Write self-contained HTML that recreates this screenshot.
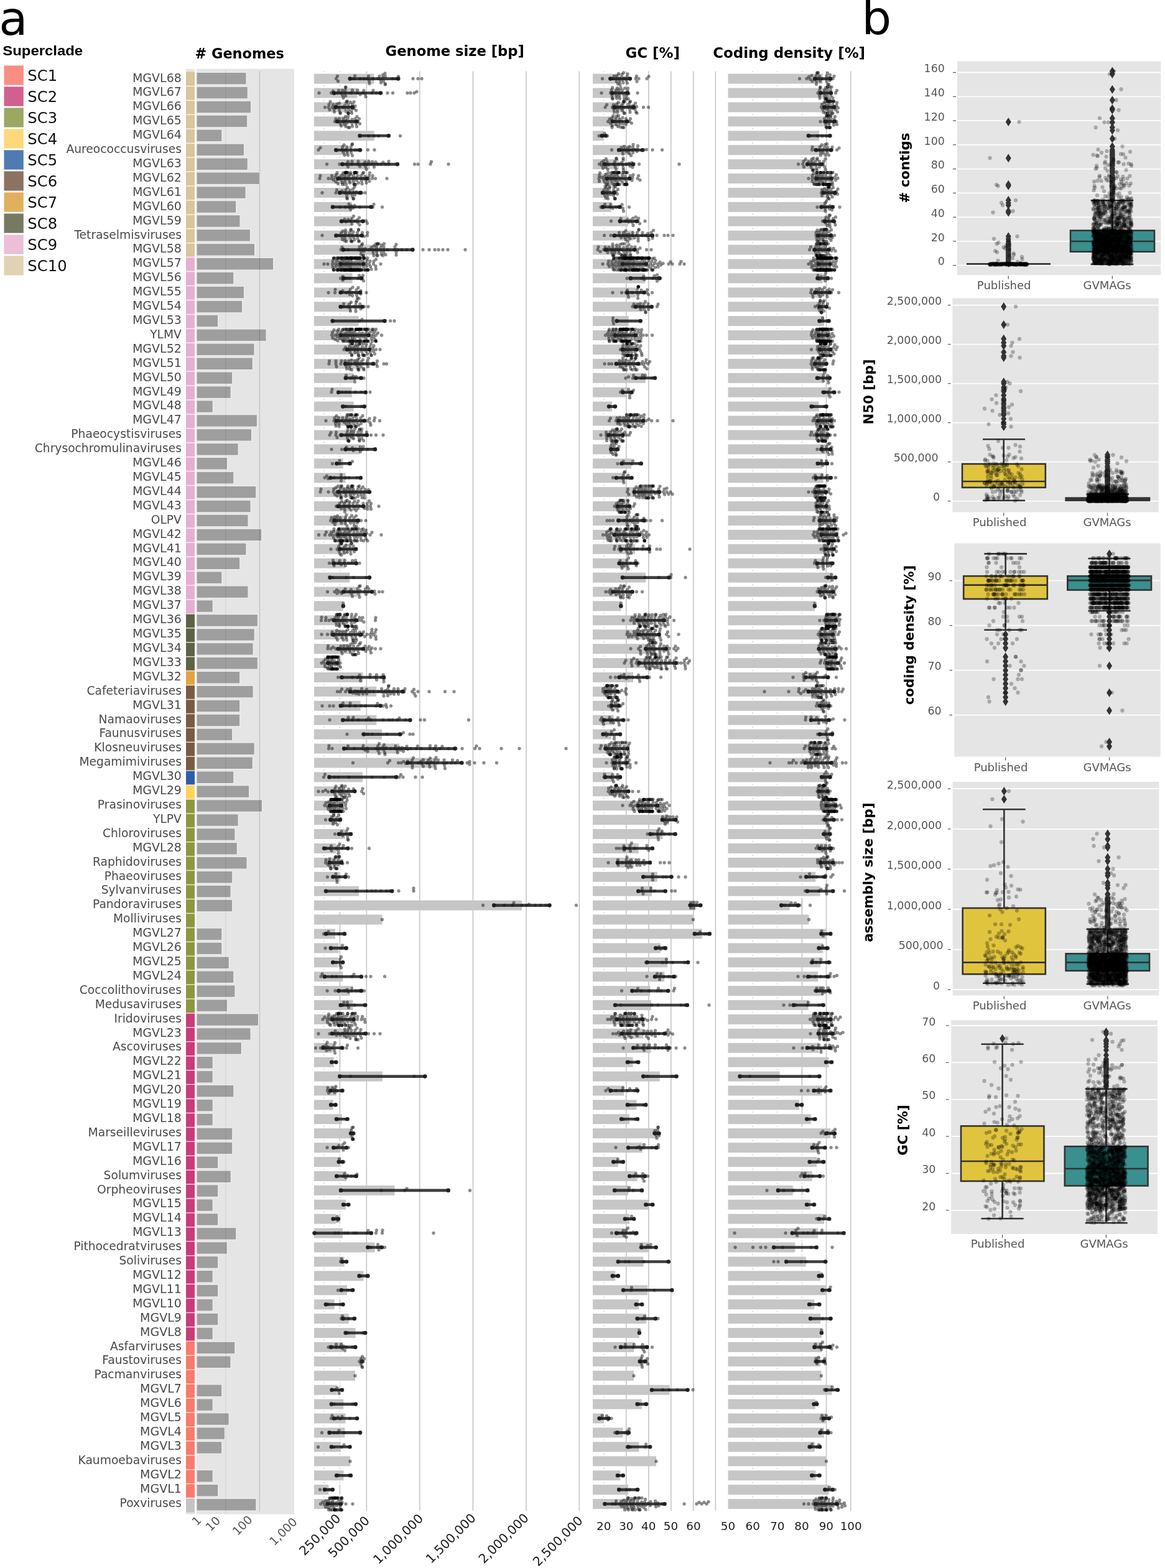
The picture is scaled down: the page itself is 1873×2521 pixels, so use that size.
<!DOCTYPE html><html><head><meta charset="utf-8"><style>html,body{margin:0;padding:0;background:#fff;}svg{display:block;}</style></head><body>
<svg width="1873" height="2521" viewBox="0 0 1873 2521" font-family="'DejaVu Sans', 'Liberation Sans', sans-serif">
<rect width="1873" height="2521" fill="#fff"/>
<text x="-1.8" y="55.8" font-size="75.5" fill="#000">a</text>
<text x="4.2" y="89.1" font-size="22.8" font-weight="bold" fill="#000" font-family="Liberation Sans, sans-serif" textLength="129" lengthAdjust="spacingAndGlyphs">Superclade</text>
<rect x="6.5" y="105.4" width="31.3" height="31.2" fill="#fa8e85"/>
<text x="44.3" y="129.5" font-size="24.3" fill="#111">SC1</text>
<rect x="6.5" y="139.4" width="31.3" height="31.2" fill="#d1608f"/>
<text x="44.3" y="163.5" font-size="24.3" fill="#111">SC2</text>
<rect x="6.5" y="173.4" width="31.3" height="31.2" fill="#9ba763"/>
<text x="44.3" y="197.5" font-size="24.3" fill="#111">SC3</text>
<rect x="6.5" y="207.4" width="31.3" height="31.2" fill="#fed87b"/>
<text x="44.3" y="231.5" font-size="24.3" fill="#111">SC4</text>
<rect x="6.5" y="241.4" width="31.3" height="31.2" fill="#4f7ab3"/>
<text x="44.3" y="265.5" font-size="24.3" fill="#111">SC5</text>
<rect x="6.5" y="275.4" width="31.3" height="31.2" fill="#8b7261"/>
<text x="44.3" y="299.5" font-size="24.3" fill="#111">SC6</text>
<rect x="6.5" y="309.4" width="31.3" height="31.2" fill="#e1b05f"/>
<text x="44.3" y="333.5" font-size="24.3" fill="#111">SC7</text>
<rect x="6.5" y="343.4" width="31.3" height="31.2" fill="#777a62"/>
<text x="44.3" y="367.5" font-size="24.3" fill="#111">SC8</text>
<rect x="6.5" y="377.4" width="31.3" height="31.2" fill="#ecbfd7"/>
<text x="44.3" y="401.5" font-size="24.3" fill="#111">SC9</text>
<rect x="6.5" y="411.4" width="31.3" height="31.2" fill="#e0d3b2"/>
<text x="44.3" y="435.5" font-size="24.3" fill="#111">SC10</text>
<text x="313.5" y="94.3" font-size="22.4" font-weight="bold" fill="#000"># Genomes</text>
<text x="619.6" y="90" font-size="22.65" font-weight="bold" fill="#000">Genome size [bp]</text>
<text x="1005.5" y="92.7" font-size="22.9" font-weight="bold" fill="#000">GC [%]</text>
<text x="1146.3" y="92.7" font-size="22.9" font-weight="bold" fill="#000">Coding density [%]</text>
<g font-size="19.05" fill="#4a4a4a" text-anchor="end">
<text x="291.9" y="131.5">MGVL68</text>
<text x="291.9" y="154.4">MGVL67</text>
<text x="291.9" y="177.3">MGVL66</text>
<text x="291.9" y="200.2">MGVL65</text>
<text x="291.9" y="223.1">MGVL64</text>
<text x="291.9" y="246.1" font-size="18.7">Aureococcusviruses</text>
<text x="291.9" y="269">MGVL63</text>
<text x="291.9" y="291.9">MGVL62</text>
<text x="291.9" y="314.8">MGVL61</text>
<text x="291.9" y="337.7">MGVL60</text>
<text x="291.9" y="360.6">MGVL59</text>
<text x="291.9" y="383.5" font-size="18.7">Tetraselmisviruses</text>
<text x="291.9" y="406.4">MGVL58</text>
<text x="291.9" y="429.3">MGVL57</text>
<text x="291.9" y="452.2">MGVL56</text>
<text x="291.9" y="475.1">MGVL55</text>
<text x="291.9" y="498.1">MGVL54</text>
<text x="291.9" y="521">MGVL53</text>
<text x="291.9" y="543.9" font-size="18.7">YLMV</text>
<text x="291.9" y="566.8">MGVL52</text>
<text x="291.9" y="589.7">MGVL51</text>
<text x="291.9" y="612.6">MGVL50</text>
<text x="291.9" y="635.5">MGVL49</text>
<text x="291.9" y="658.4">MGVL48</text>
<text x="291.9" y="681.3">MGVL47</text>
<text x="291.9" y="704.2" font-size="18.7">Phaeocystisviruses</text>
<text x="291.9" y="727.2" font-size="18.7">Chrysochromulinaviruses</text>
<text x="291.9" y="750.1">MGVL46</text>
<text x="291.9" y="773">MGVL45</text>
<text x="291.9" y="795.9">MGVL44</text>
<text x="291.9" y="818.8">MGVL43</text>
<text x="291.9" y="841.7" font-size="18.7">OLPV</text>
<text x="291.9" y="864.6">MGVL42</text>
<text x="291.9" y="887.5">MGVL41</text>
<text x="291.9" y="910.4">MGVL40</text>
<text x="291.9" y="933.4">MGVL39</text>
<text x="291.9" y="956.3">MGVL38</text>
<text x="291.9" y="979.2">MGVL37</text>
<text x="291.9" y="1002.1">MGVL36</text>
<text x="291.9" y="1025">MGVL35</text>
<text x="291.9" y="1047.9">MGVL34</text>
<text x="291.9" y="1070.8">MGVL33</text>
<text x="291.9" y="1093.7">MGVL32</text>
<text x="291.9" y="1116.6" font-size="18.7">Cafeteriaviruses</text>
<text x="291.9" y="1139.5">MGVL31</text>
<text x="291.9" y="1162.5" font-size="18.7">Namaoviruses</text>
<text x="291.9" y="1185.4" font-size="18.7">Faunusviruses</text>
<text x="291.9" y="1208.3" font-size="18.7">Klosneuviruses</text>
<text x="291.9" y="1231.2" font-size="18.7">Megamimiviruses</text>
<text x="291.9" y="1254.1">MGVL30</text>
<text x="291.9" y="1277">MGVL29</text>
<text x="291.9" y="1299.9" font-size="18.7">Prasinoviruses</text>
<text x="291.9" y="1322.8" font-size="18.7">YLPV</text>
<text x="291.9" y="1345.7" font-size="18.7">Chloroviruses</text>
<text x="291.9" y="1368.6">MGVL28</text>
<text x="291.9" y="1391.5" font-size="18.7">Raphidoviruses</text>
<text x="291.9" y="1414.5" font-size="18.7">Phaeoviruses</text>
<text x="291.9" y="1437.4" font-size="18.7">Sylvanviruses</text>
<text x="291.9" y="1460.3" font-size="18.7">Pandoraviruses</text>
<text x="291.9" y="1483.2" font-size="18.7">Molliviruses</text>
<text x="291.9" y="1506.1">MGVL27</text>
<text x="291.9" y="1529">MGVL26</text>
<text x="291.9" y="1551.9">MGVL25</text>
<text x="291.9" y="1574.8">MGVL24</text>
<text x="291.9" y="1597.7" font-size="18.7">Coccolithoviruses</text>
<text x="291.9" y="1620.7" font-size="18.7">Medusaviruses</text>
<text x="291.9" y="1643.6" font-size="18.7">Iridoviruses</text>
<text x="291.9" y="1666.5">MGVL23</text>
<text x="291.9" y="1689.4" font-size="18.7">Ascoviruses</text>
<text x="291.9" y="1712.3">MGVL22</text>
<text x="291.9" y="1735.2">MGVL21</text>
<text x="291.9" y="1758.1">MGVL20</text>
<text x="291.9" y="1781">MGVL19</text>
<text x="291.9" y="1803.9">MGVL18</text>
<text x="291.9" y="1826.8" font-size="18.7">Marseilleviruses</text>
<text x="291.9" y="1849.8">MGVL17</text>
<text x="291.9" y="1872.7">MGVL16</text>
<text x="291.9" y="1895.6" font-size="18.7">Solumviruses</text>
<text x="291.9" y="1918.5" font-size="18.7">Orpheoviruses</text>
<text x="291.9" y="1941.4">MGVL15</text>
<text x="291.9" y="1964.3">MGVL14</text>
<text x="291.9" y="1987.2">MGVL13</text>
<text x="291.9" y="2010.1" font-size="18.7">Pithocedratviruses</text>
<text x="291.9" y="2033" font-size="18.7">Soliviruses</text>
<text x="291.9" y="2055.9">MGVL12</text>
<text x="291.9" y="2078.8">MGVL11</text>
<text x="291.9" y="2101.8">MGVL10</text>
<text x="291.9" y="2124.7">MGVL9</text>
<text x="291.9" y="2147.6">MGVL8</text>
<text x="291.9" y="2170.5" font-size="18.7">Asfarviruses</text>
<text x="291.9" y="2193.4" font-size="18.7">Faustoviruses</text>
<text x="291.9" y="2216.3" font-size="18.7">Pacmanviruses</text>
<text x="291.9" y="2239.2">MGVL7</text>
<text x="291.9" y="2262.1">MGVL6</text>
<text x="291.9" y="2285">MGVL5</text>
<text x="291.9" y="2307.9">MGVL4</text>
<text x="291.9" y="2330.9">MGVL3</text>
<text x="291.9" y="2353.8" font-size="18.7">Kaumoebaviruses</text>
<text x="291.9" y="2376.7">MGVL2</text>
<text x="291.9" y="2399.6">MGVL1</text>
<text x="291.9" y="2422.5" font-size="18.7">Poxviruses</text>
</g>
<rect x="299" y="110.7" width="174" height="2324" fill="#e5e5e5"/>
<rect x="313" y="110.7" width="3" height="2324" fill="#fff"/>
<rect x="299" y="115.6" width="14" height="22.93" fill="#d8c59c"/>
<rect x="316" y="116.3" width="80" height="19.7" fill="#9e9e9e" stroke="#efefef" stroke-width="1.2"/>
<rect x="299" y="138.5" width="14" height="22.93" fill="#d8c59c"/>
<rect x="316" y="139.2" width="82.4" height="19.7" fill="#9e9e9e" stroke="#efefef" stroke-width="1.2"/>
<rect x="299" y="161.4" width="14" height="22.93" fill="#d8c59c"/>
<rect x="316" y="162.2" width="87.6" height="19.7" fill="#9e9e9e" stroke="#efefef" stroke-width="1.2"/>
<rect x="299" y="184.3" width="14" height="22.93" fill="#d8c59c"/>
<rect x="316" y="185.1" width="81.8" height="19.7" fill="#9e9e9e" stroke="#efefef" stroke-width="1.2"/>
<rect x="299" y="207.3" width="14" height="22.93" fill="#d8c59c"/>
<rect x="316" y="208" width="40.9" height="19.7" fill="#9e9e9e" stroke="#efefef" stroke-width="1.2"/>
<rect x="299" y="230.2" width="14" height="22.93" fill="#d8c59c"/>
<rect x="316" y="231" width="76.6" height="19.7" fill="#9e9e9e" stroke="#efefef" stroke-width="1.2"/>
<rect x="299" y="253.1" width="14" height="22.93" fill="#d8c59c"/>
<rect x="316" y="253.9" width="82.4" height="19.7" fill="#9e9e9e" stroke="#efefef" stroke-width="1.2"/>
<rect x="299" y="276.1" width="14" height="22.93" fill="#d8c59c"/>
<rect x="316" y="276.8" width="101.4" height="19.7" fill="#9e9e9e" stroke="#efefef" stroke-width="1.2"/>
<rect x="299" y="299" width="14" height="22.93" fill="#d8c59c"/>
<rect x="316" y="299.7" width="79.2" height="19.7" fill="#9e9e9e" stroke="#efefef" stroke-width="1.2"/>
<rect x="299" y="321.9" width="14" height="22.93" fill="#d8c59c"/>
<rect x="316" y="322.7" width="63.8" height="19.7" fill="#9e9e9e" stroke="#efefef" stroke-width="1.2"/>
<rect x="299" y="344.9" width="14" height="22.93" fill="#d8c59c"/>
<rect x="316" y="345.6" width="70.1" height="19.7" fill="#9e9e9e" stroke="#efefef" stroke-width="1.2"/>
<rect x="299" y="367.8" width="14" height="22.93" fill="#d8c59c"/>
<rect x="316" y="368.5" width="86.5" height="19.7" fill="#9e9e9e" stroke="#efefef" stroke-width="1.2"/>
<rect x="299" y="390.7" width="14" height="22.93" fill="#d8c59c"/>
<rect x="316" y="391.5" width="93.6" height="19.7" fill="#9e9e9e" stroke="#efefef" stroke-width="1.2"/>
<rect x="299" y="413.6" width="14" height="22.93" fill="#e6afd0"/>
<rect x="316" y="414.4" width="123.6" height="19.7" fill="#9e9e9e" stroke="#efefef" stroke-width="1.2"/>
<rect x="299" y="436.6" width="14" height="22.93" fill="#e6afd0"/>
<rect x="316" y="437.3" width="59.9" height="19.7" fill="#9e9e9e" stroke="#efefef" stroke-width="1.2"/>
<rect x="299" y="459.5" width="14" height="22.93" fill="#e6afd0"/>
<rect x="316" y="460.2" width="76.6" height="19.7" fill="#9e9e9e" stroke="#efefef" stroke-width="1.2"/>
<rect x="299" y="482.4" width="14" height="22.93" fill="#e6afd0"/>
<rect x="316" y="483.2" width="73.7" height="19.7" fill="#9e9e9e" stroke="#efefef" stroke-width="1.2"/>
<rect x="299" y="505.4" width="14" height="22.93" fill="#e6afd0"/>
<rect x="316" y="506.1" width="34.6" height="19.7" fill="#9e9e9e" stroke="#efefef" stroke-width="1.2"/>
<rect x="299" y="528.3" width="14" height="22.93" fill="#e6afd0"/>
<rect x="316" y="529" width="112.1" height="19.7" fill="#9e9e9e" stroke="#efefef" stroke-width="1.2"/>
<rect x="299" y="551.2" width="14" height="22.93" fill="#e6afd0"/>
<rect x="316" y="552" width="93.1" height="19.7" fill="#9e9e9e" stroke="#efefef" stroke-width="1.2"/>
<rect x="299" y="574.1" width="14" height="22.93" fill="#e6afd0"/>
<rect x="316" y="574.9" width="90.4" height="19.7" fill="#9e9e9e" stroke="#efefef" stroke-width="1.2"/>
<rect x="299" y="597.1" width="14" height="22.93" fill="#e6afd0"/>
<rect x="316" y="597.8" width="57.8" height="19.7" fill="#9e9e9e" stroke="#efefef" stroke-width="1.2"/>
<rect x="299" y="620" width="14" height="22.93" fill="#e6afd0"/>
<rect x="316" y="620.8" width="55.2" height="19.7" fill="#9e9e9e" stroke="#efefef" stroke-width="1.2"/>
<rect x="299" y="642.9" width="14" height="22.93" fill="#e6afd0"/>
<rect x="316" y="643.7" width="26.3" height="19.7" fill="#9e9e9e" stroke="#efefef" stroke-width="1.2"/>
<rect x="299" y="665.9" width="14" height="22.93" fill="#e6afd0"/>
<rect x="316" y="666.6" width="97.5" height="19.7" fill="#9e9e9e" stroke="#efefef" stroke-width="1.2"/>
<rect x="299" y="688.8" width="14" height="22.93" fill="#e6afd0"/>
<rect x="316" y="689.5" width="88.6" height="19.7" fill="#9e9e9e" stroke="#efefef" stroke-width="1.2"/>
<rect x="299" y="711.7" width="14" height="22.93" fill="#e6afd0"/>
<rect x="316" y="712.5" width="67.2" height="19.7" fill="#9e9e9e" stroke="#efefef" stroke-width="1.2"/>
<rect x="299" y="734.7" width="14" height="22.93" fill="#e6afd0"/>
<rect x="316" y="735.4" width="49.5" height="19.7" fill="#9e9e9e" stroke="#efefef" stroke-width="1.2"/>
<rect x="299" y="757.6" width="14" height="22.93" fill="#e6afd0"/>
<rect x="316" y="758.3" width="59.9" height="19.7" fill="#9e9e9e" stroke="#efefef" stroke-width="1.2"/>
<rect x="299" y="780.5" width="14" height="22.93" fill="#e6afd0"/>
<rect x="316" y="781.3" width="95.9" height="19.7" fill="#9e9e9e" stroke="#efefef" stroke-width="1.2"/>
<rect x="299" y="803.4" width="14" height="22.93" fill="#e6afd0"/>
<rect x="316" y="804.2" width="87.1" height="19.7" fill="#9e9e9e" stroke="#efefef" stroke-width="1.2"/>
<rect x="299" y="826.4" width="14" height="22.93" fill="#e6afd0"/>
<rect x="316" y="827.1" width="83.1" height="19.7" fill="#9e9e9e" stroke="#efefef" stroke-width="1.2"/>
<rect x="299" y="849.3" width="14" height="22.93" fill="#e6afd0"/>
<rect x="316" y="850.1" width="104.8" height="19.7" fill="#9e9e9e" stroke="#efefef" stroke-width="1.2"/>
<rect x="299" y="872.2" width="14" height="22.93" fill="#e6afd0"/>
<rect x="316" y="873" width="80" height="19.7" fill="#9e9e9e" stroke="#efefef" stroke-width="1.2"/>
<rect x="299" y="895.2" width="14" height="22.93" fill="#e6afd0"/>
<rect x="316" y="895.9" width="69.8" height="19.7" fill="#9e9e9e" stroke="#efefef" stroke-width="1.2"/>
<rect x="299" y="918.1" width="14" height="22.93" fill="#e6afd0"/>
<rect x="316" y="918.8" width="40.9" height="19.7" fill="#9e9e9e" stroke="#efefef" stroke-width="1.2"/>
<rect x="299" y="941" width="14" height="22.93" fill="#e6afd0"/>
<rect x="316" y="941.8" width="83.1" height="19.7" fill="#9e9e9e" stroke="#efefef" stroke-width="1.2"/>
<rect x="299" y="964" width="14" height="22.93" fill="#e6afd0"/>
<rect x="316" y="964.7" width="26.3" height="19.7" fill="#9e9e9e" stroke="#efefef" stroke-width="1.2"/>
<rect x="299" y="986.9" width="14" height="22.93" fill="#5f6246"/>
<rect x="316" y="987.6" width="98.5" height="19.7" fill="#9e9e9e" stroke="#efefef" stroke-width="1.2"/>
<rect x="299" y="1009.8" width="14" height="22.93" fill="#5f6246"/>
<rect x="316" y="1010.6" width="93.3" height="19.7" fill="#9e9e9e" stroke="#efefef" stroke-width="1.2"/>
<rect x="299" y="1032.8" width="14" height="22.93" fill="#5f6246"/>
<rect x="316" y="1033.5" width="91.2" height="19.7" fill="#9e9e9e" stroke="#efefef" stroke-width="1.2"/>
<rect x="299" y="1055.7" width="14" height="22.93" fill="#5f6246"/>
<rect x="316" y="1056.4" width="98.5" height="19.7" fill="#9e9e9e" stroke="#efefef" stroke-width="1.2"/>
<rect x="299" y="1078.6" width="14" height="22.93" fill="#e3a243"/>
<rect x="316" y="1079.4" width="69.8" height="19.7" fill="#9e9e9e" stroke="#efefef" stroke-width="1.2"/>
<rect x="299" y="1101.5" width="14" height="22.93" fill="#7a5a40"/>
<rect x="316" y="1102.3" width="91.2" height="19.7" fill="#9e9e9e" stroke="#efefef" stroke-width="1.2"/>
<rect x="299" y="1124.5" width="14" height="22.93" fill="#7a5a40"/>
<rect x="316" y="1125.2" width="69.8" height="19.7" fill="#9e9e9e" stroke="#efefef" stroke-width="1.2"/>
<rect x="299" y="1147.4" width="14" height="22.93" fill="#7a5a40"/>
<rect x="316" y="1148.2" width="69.8" height="19.7" fill="#9e9e9e" stroke="#efefef" stroke-width="1.2"/>
<rect x="299" y="1170.3" width="14" height="22.93" fill="#7a5a40"/>
<rect x="316" y="1171.1" width="57.8" height="19.7" fill="#9e9e9e" stroke="#efefef" stroke-width="1.2"/>
<rect x="299" y="1193.3" width="14" height="22.93" fill="#7a5a40"/>
<rect x="316" y="1194" width="93.3" height="19.7" fill="#9e9e9e" stroke="#efefef" stroke-width="1.2"/>
<rect x="299" y="1216.2" width="14" height="22.93" fill="#7a5a40"/>
<rect x="316" y="1216.9" width="90.4" height="19.7" fill="#9e9e9e" stroke="#efefef" stroke-width="1.2"/>
<rect x="299" y="1239.1" width="14" height="22.93" fill="#2c5ea8"/>
<rect x="316" y="1239.9" width="59.9" height="19.7" fill="#9e9e9e" stroke="#efefef" stroke-width="1.2"/>
<rect x="299" y="1262.1" width="14" height="22.93" fill="#ffd45d"/>
<rect x="316" y="1262.8" width="84.7" height="19.7" fill="#9e9e9e" stroke="#efefef" stroke-width="1.2"/>
<rect x="299" y="1285" width="14" height="22.93" fill="#8e963f"/>
<rect x="316" y="1285.7" width="105.6" height="19.7" fill="#9e9e9e" stroke="#efefef" stroke-width="1.2"/>
<rect x="299" y="1307.9" width="14" height="22.93" fill="#8e963f"/>
<rect x="316" y="1308.7" width="67.2" height="19.7" fill="#9e9e9e" stroke="#efefef" stroke-width="1.2"/>
<rect x="299" y="1330.8" width="14" height="22.93" fill="#8e963f"/>
<rect x="316" y="1331.6" width="62" height="19.7" fill="#9e9e9e" stroke="#efefef" stroke-width="1.2"/>
<rect x="299" y="1353.8" width="14" height="22.93" fill="#8e963f"/>
<rect x="316" y="1354.5" width="65.4" height="19.7" fill="#9e9e9e" stroke="#efefef" stroke-width="1.2"/>
<rect x="299" y="1376.7" width="14" height="22.93" fill="#8e963f"/>
<rect x="316" y="1377.5" width="81.1" height="19.7" fill="#9e9e9e" stroke="#efefef" stroke-width="1.2"/>
<rect x="299" y="1399.6" width="14" height="22.93" fill="#8e963f"/>
<rect x="316" y="1400.4" width="57.8" height="19.7" fill="#9e9e9e" stroke="#efefef" stroke-width="1.2"/>
<rect x="299" y="1422.6" width="14" height="22.93" fill="#8e963f"/>
<rect x="316" y="1423.3" width="55.2" height="19.7" fill="#9e9e9e" stroke="#efefef" stroke-width="1.2"/>
<rect x="299" y="1445.5" width="14" height="22.93" fill="#8e963f"/>
<rect x="316" y="1446.2" width="57.8" height="19.7" fill="#9e9e9e" stroke="#efefef" stroke-width="1.2"/>
<rect x="299" y="1468.4" width="14" height="22.93" fill="#8e963f"/>
<rect x="299" y="1491.4" width="14" height="22.93" fill="#8e963f"/>
<rect x="316" y="1492.1" width="40.9" height="19.7" fill="#9e9e9e" stroke="#efefef" stroke-width="1.2"/>
<rect x="299" y="1514.3" width="14" height="22.93" fill="#8e963f"/>
<rect x="316" y="1515" width="40.9" height="19.7" fill="#9e9e9e" stroke="#efefef" stroke-width="1.2"/>
<rect x="299" y="1537.2" width="14" height="22.93" fill="#8e963f"/>
<rect x="316" y="1538" width="52.4" height="19.7" fill="#9e9e9e" stroke="#efefef" stroke-width="1.2"/>
<rect x="299" y="1560.1" width="14" height="22.93" fill="#8e963f"/>
<rect x="316" y="1560.9" width="59.9" height="19.7" fill="#9e9e9e" stroke="#efefef" stroke-width="1.2"/>
<rect x="299" y="1583.1" width="14" height="22.93" fill="#8e963f"/>
<rect x="316" y="1583.8" width="62" height="19.7" fill="#9e9e9e" stroke="#efefef" stroke-width="1.2"/>
<rect x="299" y="1606" width="14" height="22.93" fill="#8e963f"/>
<rect x="316" y="1606.8" width="49.5" height="19.7" fill="#9e9e9e" stroke="#efefef" stroke-width="1.2"/>
<rect x="299" y="1628.9" width="14" height="22.93" fill="#c93c79"/>
<rect x="316" y="1629.7" width="99.6" height="19.7" fill="#9e9e9e" stroke="#efefef" stroke-width="1.2"/>
<rect x="299" y="1651.9" width="14" height="22.93" fill="#c93c79"/>
<rect x="316" y="1652.6" width="87.1" height="19.7" fill="#9e9e9e" stroke="#efefef" stroke-width="1.2"/>
<rect x="299" y="1674.8" width="14" height="22.93" fill="#c93c79"/>
<rect x="316" y="1675.5" width="72.4" height="19.7" fill="#9e9e9e" stroke="#efefef" stroke-width="1.2"/>
<rect x="299" y="1697.7" width="14" height="22.93" fill="#c93c79"/>
<rect x="316" y="1698.5" width="26.3" height="19.7" fill="#9e9e9e" stroke="#efefef" stroke-width="1.2"/>
<rect x="299" y="1720.7" width="14" height="22.93" fill="#c93c79"/>
<rect x="316" y="1721.4" width="26.3" height="19.7" fill="#9e9e9e" stroke="#efefef" stroke-width="1.2"/>
<rect x="299" y="1743.6" width="14" height="22.93" fill="#c93c79"/>
<rect x="316" y="1744.3" width="59.9" height="19.7" fill="#9e9e9e" stroke="#efefef" stroke-width="1.2"/>
<rect x="299" y="1766.5" width="14" height="22.93" fill="#c93c79"/>
<rect x="316" y="1767.3" width="26.3" height="19.7" fill="#9e9e9e" stroke="#efefef" stroke-width="1.2"/>
<rect x="299" y="1789.4" width="14" height="22.93" fill="#c93c79"/>
<rect x="316" y="1790.2" width="26.3" height="19.7" fill="#9e9e9e" stroke="#efefef" stroke-width="1.2"/>
<rect x="299" y="1812.4" width="14" height="22.93" fill="#c93c79"/>
<rect x="316" y="1813.1" width="57.8" height="19.7" fill="#9e9e9e" stroke="#efefef" stroke-width="1.2"/>
<rect x="299" y="1835.3" width="14" height="22.93" fill="#c93c79"/>
<rect x="316" y="1836.1" width="57.8" height="19.7" fill="#9e9e9e" stroke="#efefef" stroke-width="1.2"/>
<rect x="299" y="1858.2" width="14" height="22.93" fill="#c93c79"/>
<rect x="316" y="1859" width="34.8" height="19.7" fill="#9e9e9e" stroke="#efefef" stroke-width="1.2"/>
<rect x="299" y="1881.2" width="14" height="22.93" fill="#c93c79"/>
<rect x="316" y="1881.9" width="55.4" height="19.7" fill="#9e9e9e" stroke="#efefef" stroke-width="1.2"/>
<rect x="299" y="1904.1" width="14" height="22.93" fill="#c93c79"/>
<rect x="316" y="1904.8" width="34.8" height="19.7" fill="#9e9e9e" stroke="#efefef" stroke-width="1.2"/>
<rect x="299" y="1927" width="14" height="22.93" fill="#c93c79"/>
<rect x="316" y="1927.8" width="26.3" height="19.7" fill="#9e9e9e" stroke="#efefef" stroke-width="1.2"/>
<rect x="299" y="1950" width="14" height="22.93" fill="#c93c79"/>
<rect x="316" y="1950.7" width="34.8" height="19.7" fill="#9e9e9e" stroke="#efefef" stroke-width="1.2"/>
<rect x="299" y="1972.9" width="14" height="22.93" fill="#c93c79"/>
<rect x="316" y="1973.6" width="63.9" height="19.7" fill="#9e9e9e" stroke="#efefef" stroke-width="1.2"/>
<rect x="299" y="1995.8" width="14" height="22.93" fill="#c93c79"/>
<rect x="316" y="1996.6" width="49.3" height="19.7" fill="#9e9e9e" stroke="#efefef" stroke-width="1.2"/>
<rect x="299" y="2018.7" width="14" height="22.93" fill="#c93c79"/>
<rect x="316" y="2019.5" width="34.8" height="19.7" fill="#9e9e9e" stroke="#efefef" stroke-width="1.2"/>
<rect x="299" y="2041.7" width="14" height="22.93" fill="#c93c79"/>
<rect x="316" y="2042.4" width="26.3" height="19.7" fill="#9e9e9e" stroke="#efefef" stroke-width="1.2"/>
<rect x="299" y="2064.6" width="14" height="22.93" fill="#c93c79"/>
<rect x="316" y="2065.3" width="34.8" height="19.7" fill="#9e9e9e" stroke="#efefef" stroke-width="1.2"/>
<rect x="299" y="2087.5" width="14" height="22.93" fill="#c93c79"/>
<rect x="316" y="2088.3" width="26.3" height="19.7" fill="#9e9e9e" stroke="#efefef" stroke-width="1.2"/>
<rect x="299" y="2110.5" width="14" height="22.93" fill="#c93c79"/>
<rect x="316" y="2111.2" width="34.8" height="19.7" fill="#9e9e9e" stroke="#efefef" stroke-width="1.2"/>
<rect x="299" y="2133.4" width="14" height="22.93" fill="#c93c79"/>
<rect x="316" y="2134.1" width="26.3" height="19.7" fill="#9e9e9e" stroke="#efefef" stroke-width="1.2"/>
<rect x="299" y="2156.3" width="14" height="22.93" fill="#fb7a6b"/>
<rect x="316" y="2157.1" width="61.9" height="19.7" fill="#9e9e9e" stroke="#efefef" stroke-width="1.2"/>
<rect x="299" y="2179.2" width="14" height="22.93" fill="#fb7a6b"/>
<rect x="316" y="2180" width="55.1" height="19.7" fill="#9e9e9e" stroke="#efefef" stroke-width="1.2"/>
<rect x="299" y="2202.2" width="14" height="22.93" fill="#fb7a6b"/>
<rect x="299" y="2225.1" width="14" height="22.93" fill="#fb7a6b"/>
<rect x="316" y="2225.9" width="40.8" height="19.7" fill="#9e9e9e" stroke="#efefef" stroke-width="1.2"/>
<rect x="299" y="2248" width="14" height="22.93" fill="#fb7a6b"/>
<rect x="316" y="2248.8" width="26.3" height="19.7" fill="#9e9e9e" stroke="#efefef" stroke-width="1.2"/>
<rect x="299" y="2271" width="14" height="22.93" fill="#fb7a6b"/>
<rect x="316" y="2271.7" width="52.3" height="19.7" fill="#9e9e9e" stroke="#efefef" stroke-width="1.2"/>
<rect x="299" y="2293.9" width="14" height="22.93" fill="#fb7a6b"/>
<rect x="316" y="2294.7" width="45.5" height="19.7" fill="#9e9e9e" stroke="#efefef" stroke-width="1.2"/>
<rect x="299" y="2316.8" width="14" height="22.93" fill="#fb7a6b"/>
<rect x="316" y="2317.6" width="40.8" height="19.7" fill="#9e9e9e" stroke="#efefef" stroke-width="1.2"/>
<rect x="299" y="2339.8" width="14" height="22.93" fill="#fb7a6b"/>
<rect x="299" y="2362.7" width="14" height="22.93" fill="#fb7a6b"/>
<rect x="316" y="2363.4" width="26.3" height="19.7" fill="#9e9e9e" stroke="#efefef" stroke-width="1.2"/>
<rect x="299" y="2385.6" width="14" height="22.93" fill="#fb7a6b"/>
<rect x="316" y="2386.4" width="34.8" height="19.7" fill="#9e9e9e" stroke="#efefef" stroke-width="1.2"/>
<rect x="299" y="2408.6" width="14" height="22.93" fill="#c4c4c4"/>
<rect x="316" y="2409.3" width="96" height="19.7" fill="#9e9e9e" stroke="#efefef" stroke-width="1.2"/>
<path d="M299 138.5h14M299 161.4h14M299 184.3h14M299 207.3h14M299 230.2h14M299 253.1h14M299 276.1h14M299 299h14M299 321.9h14M299 344.9h14M299 367.8h14M299 390.7h14M299 413.6h14M299 436.6h14M299 459.5h14M299 482.4h14M299 505.4h14M299 528.3h14M299 551.2h14M299 574.1h14M299 597.1h14M299 620h14M299 642.9h14M299 665.9h14M299 688.8h14M299 711.7h14M299 734.7h14M299 757.6h14M299 780.5h14M299 803.4h14M299 826.4h14M299 849.3h14M299 872.2h14M299 895.2h14M299 918.1h14M299 941h14M299 964h14M299 986.9h14M299 1009.8h14M299 1032.8h14M299 1055.7h14M299 1078.6h14M299 1101.5h14M299 1124.5h14M299 1147.4h14M299 1170.3h14M299 1193.3h14M299 1216.2h14M299 1239.1h14M299 1262.1h14M299 1285h14M299 1307.9h14M299 1330.8h14M299 1353.8h14M299 1376.7h14M299 1399.6h14M299 1422.6h14M299 1445.5h14M299 1468.4h14M299 1491.4h14M299 1514.3h14M299 1537.2h14M299 1560.1h14M299 1583.1h14M299 1606h14M299 1628.9h14M299 1651.9h14M299 1674.8h14M299 1697.7h14M299 1720.7h14M299 1743.6h14M299 1766.5h14M299 1789.4h14M299 1812.4h14M299 1835.3h14M299 1858.2h14M299 1881.2h14M299 1904.1h14M299 1927h14M299 1950h14M299 1972.9h14M299 1995.8h14M299 2018.7h14M299 2041.7h14M299 2064.6h14M299 2087.5h14M299 2110.5h14M299 2133.4h14M299 2156.3h14M299 2179.2h14M299 2202.2h14M299 2225.1h14M299 2248h14M299 2271h14M299 2293.9h14M299 2316.8h14M299 2339.8h14M299 2362.7h14M299 2385.6h14M299 2408.6h14" stroke="#fff" stroke-opacity="0.75" stroke-width="1.5"/>
<line x1="363" y1="112" x2="363" y2="2434" stroke="#000" stroke-opacity="0.06" stroke-width="1.6"/>
<line x1="417.4" y1="114" x2="417.4" y2="2430" stroke="#000" stroke-opacity="0.13" stroke-width="1.6"/>
<line x1="589.3" y1="114.5" x2="589.3" y2="2428.9" stroke="#c9c9c9" stroke-width="1.7"/>
<line x1="674.8" y1="114.5" x2="674.8" y2="2428.9" stroke="#c9c9c9" stroke-width="1.7"/>
<line x1="760.4" y1="114.5" x2="760.4" y2="2428.9" stroke="#c9c9c9" stroke-width="1.7"/>
<line x1="846" y1="114.5" x2="846" y2="2428.9" stroke="#c9c9c9" stroke-width="1.7"/>
<line x1="931.3" y1="114.5" x2="931.3" y2="2428.9" stroke="#c9c9c9" stroke-width="1.7"/>
<line x1="546.4" y1="1467" x2="546.4" y2="1833.7" stroke="#c9c9c9" stroke-width="1.7"/>
<line x1="520.8" y1="114.5" x2="520.8" y2="116.1" stroke="#c9c9c9" stroke-width="1.5"/>
<line x1="546.4" y1="114.5" x2="546.4" y2="116.1" stroke="#c9c9c9" stroke-width="1.5"/>
<line x1="546.4" y1="118.6" x2="546.4" y2="134.6" stroke="#c9c9c9" stroke-width="1.7"/>
<line x1="520.8" y1="137.4" x2="520.8" y2="139" stroke="#c9c9c9" stroke-width="1.5"/>
<line x1="546.4" y1="137.4" x2="546.4" y2="139" stroke="#c9c9c9" stroke-width="1.5"/>
<line x1="546.4" y1="141.5" x2="546.4" y2="157.5" stroke="#c9c9c9" stroke-width="1.7"/>
<line x1="520.8" y1="160.3" x2="520.8" y2="161.9" stroke="#c9c9c9" stroke-width="1.5"/>
<line x1="546.4" y1="160.3" x2="546.4" y2="161.9" stroke="#c9c9c9" stroke-width="1.5"/>
<line x1="546.4" y1="164.4" x2="546.4" y2="180.4" stroke="#c9c9c9" stroke-width="1.7"/>
<line x1="520.8" y1="183.2" x2="520.8" y2="184.8" stroke="#c9c9c9" stroke-width="1.5"/>
<line x1="546.4" y1="183.2" x2="546.4" y2="184.8" stroke="#c9c9c9" stroke-width="1.5"/>
<line x1="546.4" y1="187.3" x2="546.4" y2="203.3" stroke="#c9c9c9" stroke-width="1.7"/>
<line x1="520.8" y1="206.2" x2="520.8" y2="207.8" stroke="#c9c9c9" stroke-width="1.5"/>
<line x1="546.4" y1="206.2" x2="546.4" y2="207.8" stroke="#c9c9c9" stroke-width="1.5"/>
<line x1="546.4" y1="210.3" x2="546.4" y2="226.3" stroke="#c9c9c9" stroke-width="1.7"/>
<line x1="520.8" y1="229.1" x2="520.8" y2="230.7" stroke="#c9c9c9" stroke-width="1.5"/>
<line x1="546.4" y1="229.1" x2="546.4" y2="230.7" stroke="#c9c9c9" stroke-width="1.5"/>
<line x1="546.4" y1="233.2" x2="546.4" y2="249.2" stroke="#c9c9c9" stroke-width="1.7"/>
<line x1="520.8" y1="252" x2="520.8" y2="253.6" stroke="#c9c9c9" stroke-width="1.5"/>
<line x1="546.4" y1="252" x2="546.4" y2="253.6" stroke="#c9c9c9" stroke-width="1.5"/>
<line x1="546.4" y1="256.1" x2="546.4" y2="272.1" stroke="#c9c9c9" stroke-width="1.7"/>
<line x1="520.8" y1="274.9" x2="520.8" y2="276.5" stroke="#c9c9c9" stroke-width="1.5"/>
<line x1="546.4" y1="274.9" x2="546.4" y2="276.5" stroke="#c9c9c9" stroke-width="1.5"/>
<line x1="546.4" y1="279" x2="546.4" y2="295" stroke="#c9c9c9" stroke-width="1.7"/>
<line x1="520.8" y1="297.8" x2="520.8" y2="299.4" stroke="#c9c9c9" stroke-width="1.5"/>
<line x1="546.4" y1="297.8" x2="546.4" y2="299.4" stroke="#c9c9c9" stroke-width="1.5"/>
<line x1="546.4" y1="301.9" x2="546.4" y2="317.9" stroke="#c9c9c9" stroke-width="1.7"/>
<line x1="520.8" y1="320.7" x2="520.8" y2="322.3" stroke="#c9c9c9" stroke-width="1.5"/>
<line x1="546.4" y1="320.7" x2="546.4" y2="322.3" stroke="#c9c9c9" stroke-width="1.5"/>
<line x1="546.4" y1="324.8" x2="546.4" y2="340.8" stroke="#c9c9c9" stroke-width="1.7"/>
<line x1="520.8" y1="343.6" x2="520.8" y2="345.2" stroke="#c9c9c9" stroke-width="1.5"/>
<line x1="546.4" y1="343.6" x2="546.4" y2="345.2" stroke="#c9c9c9" stroke-width="1.5"/>
<line x1="546.4" y1="347.7" x2="546.4" y2="363.7" stroke="#c9c9c9" stroke-width="1.7"/>
<line x1="520.8" y1="366.6" x2="520.8" y2="368.2" stroke="#c9c9c9" stroke-width="1.5"/>
<line x1="546.4" y1="366.6" x2="546.4" y2="368.2" stroke="#c9c9c9" stroke-width="1.5"/>
<line x1="546.4" y1="370.7" x2="546.4" y2="386.7" stroke="#c9c9c9" stroke-width="1.7"/>
<line x1="520.8" y1="389.5" x2="520.8" y2="391.1" stroke="#c9c9c9" stroke-width="1.5"/>
<line x1="546.4" y1="389.5" x2="546.4" y2="391.1" stroke="#c9c9c9" stroke-width="1.5"/>
<line x1="546.4" y1="393.6" x2="546.4" y2="409.6" stroke="#c9c9c9" stroke-width="1.7"/>
<line x1="520.8" y1="412.4" x2="520.8" y2="414" stroke="#c9c9c9" stroke-width="1.5"/>
<line x1="546.4" y1="412.4" x2="546.4" y2="414" stroke="#c9c9c9" stroke-width="1.5"/>
<line x1="546.4" y1="416.5" x2="546.4" y2="432.5" stroke="#c9c9c9" stroke-width="1.7"/>
<line x1="520.8" y1="435.3" x2="520.8" y2="436.9" stroke="#c9c9c9" stroke-width="1.5"/>
<line x1="546.4" y1="435.3" x2="546.4" y2="436.9" stroke="#c9c9c9" stroke-width="1.5"/>
<line x1="546.4" y1="439.4" x2="546.4" y2="455.4" stroke="#c9c9c9" stroke-width="1.7"/>
<line x1="520.8" y1="458.2" x2="520.8" y2="459.8" stroke="#c9c9c9" stroke-width="1.5"/>
<line x1="546.4" y1="458.2" x2="546.4" y2="459.8" stroke="#c9c9c9" stroke-width="1.5"/>
<line x1="546.4" y1="462.3" x2="546.4" y2="478.3" stroke="#c9c9c9" stroke-width="1.7"/>
<line x1="520.8" y1="481.1" x2="520.8" y2="482.7" stroke="#c9c9c9" stroke-width="1.5"/>
<line x1="546.4" y1="481.1" x2="546.4" y2="482.7" stroke="#c9c9c9" stroke-width="1.5"/>
<line x1="546.4" y1="485.2" x2="546.4" y2="501.2" stroke="#c9c9c9" stroke-width="1.7"/>
<line x1="520.8" y1="504" x2="520.8" y2="505.6" stroke="#c9c9c9" stroke-width="1.5"/>
<line x1="546.4" y1="504" x2="546.4" y2="505.6" stroke="#c9c9c9" stroke-width="1.5"/>
<line x1="546.4" y1="508.1" x2="546.4" y2="524.1" stroke="#c9c9c9" stroke-width="1.7"/>
<line x1="520.8" y1="527" x2="520.8" y2="528.6" stroke="#c9c9c9" stroke-width="1.5"/>
<line x1="546.4" y1="527" x2="546.4" y2="528.6" stroke="#c9c9c9" stroke-width="1.5"/>
<line x1="546.4" y1="531.1" x2="546.4" y2="547.1" stroke="#c9c9c9" stroke-width="1.7"/>
<line x1="520.8" y1="549.9" x2="520.8" y2="551.5" stroke="#c9c9c9" stroke-width="1.5"/>
<line x1="546.4" y1="549.9" x2="546.4" y2="551.5" stroke="#c9c9c9" stroke-width="1.5"/>
<line x1="546.4" y1="554" x2="546.4" y2="570" stroke="#c9c9c9" stroke-width="1.7"/>
<line x1="520.8" y1="572.8" x2="520.8" y2="574.4" stroke="#c9c9c9" stroke-width="1.5"/>
<line x1="546.4" y1="572.8" x2="546.4" y2="574.4" stroke="#c9c9c9" stroke-width="1.5"/>
<line x1="546.4" y1="576.9" x2="546.4" y2="592.9" stroke="#c9c9c9" stroke-width="1.7"/>
<line x1="520.8" y1="595.7" x2="520.8" y2="597.3" stroke="#c9c9c9" stroke-width="1.5"/>
<line x1="546.4" y1="595.7" x2="546.4" y2="597.3" stroke="#c9c9c9" stroke-width="1.5"/>
<line x1="546.4" y1="599.8" x2="546.4" y2="615.8" stroke="#c9c9c9" stroke-width="1.7"/>
<line x1="520.8" y1="618.6" x2="520.8" y2="620.2" stroke="#c9c9c9" stroke-width="1.5"/>
<line x1="546.4" y1="618.6" x2="546.4" y2="620.2" stroke="#c9c9c9" stroke-width="1.5"/>
<line x1="546.4" y1="622.7" x2="546.4" y2="638.7" stroke="#c9c9c9" stroke-width="1.7"/>
<line x1="520.8" y1="641.5" x2="520.8" y2="643.1" stroke="#c9c9c9" stroke-width="1.5"/>
<line x1="546.4" y1="641.5" x2="546.4" y2="643.1" stroke="#c9c9c9" stroke-width="1.5"/>
<line x1="546.4" y1="645.6" x2="546.4" y2="661.6" stroke="#c9c9c9" stroke-width="1.7"/>
<line x1="520.8" y1="664.4" x2="520.8" y2="666" stroke="#c9c9c9" stroke-width="1.5"/>
<line x1="546.4" y1="664.4" x2="546.4" y2="666" stroke="#c9c9c9" stroke-width="1.5"/>
<line x1="546.4" y1="668.5" x2="546.4" y2="684.5" stroke="#c9c9c9" stroke-width="1.7"/>
<line x1="520.8" y1="687.4" x2="520.8" y2="689" stroke="#c9c9c9" stroke-width="1.5"/>
<line x1="546.4" y1="687.4" x2="546.4" y2="689" stroke="#c9c9c9" stroke-width="1.5"/>
<line x1="546.4" y1="691.5" x2="546.4" y2="707.5" stroke="#c9c9c9" stroke-width="1.7"/>
<line x1="520.8" y1="710.3" x2="520.8" y2="711.9" stroke="#c9c9c9" stroke-width="1.5"/>
<line x1="546.4" y1="710.3" x2="546.4" y2="711.9" stroke="#c9c9c9" stroke-width="1.5"/>
<line x1="546.4" y1="714.4" x2="546.4" y2="730.4" stroke="#c9c9c9" stroke-width="1.7"/>
<line x1="520.8" y1="733.2" x2="520.8" y2="734.8" stroke="#c9c9c9" stroke-width="1.5"/>
<line x1="546.4" y1="733.2" x2="546.4" y2="734.8" stroke="#c9c9c9" stroke-width="1.5"/>
<line x1="546.4" y1="737.3" x2="546.4" y2="753.3" stroke="#c9c9c9" stroke-width="1.7"/>
<line x1="520.8" y1="756.1" x2="520.8" y2="757.7" stroke="#c9c9c9" stroke-width="1.5"/>
<line x1="546.4" y1="756.1" x2="546.4" y2="757.7" stroke="#c9c9c9" stroke-width="1.5"/>
<line x1="546.4" y1="760.2" x2="546.4" y2="776.2" stroke="#c9c9c9" stroke-width="1.7"/>
<line x1="520.8" y1="779" x2="520.8" y2="780.6" stroke="#c9c9c9" stroke-width="1.5"/>
<line x1="546.4" y1="779" x2="546.4" y2="780.6" stroke="#c9c9c9" stroke-width="1.5"/>
<line x1="546.4" y1="783.1" x2="546.4" y2="799.1" stroke="#c9c9c9" stroke-width="1.7"/>
<line x1="520.8" y1="801.9" x2="520.8" y2="803.5" stroke="#c9c9c9" stroke-width="1.5"/>
<line x1="546.4" y1="801.9" x2="546.4" y2="803.5" stroke="#c9c9c9" stroke-width="1.5"/>
<line x1="546.4" y1="806" x2="546.4" y2="822" stroke="#c9c9c9" stroke-width="1.7"/>
<line x1="520.8" y1="824.8" x2="520.8" y2="826.4" stroke="#c9c9c9" stroke-width="1.5"/>
<line x1="546.4" y1="824.8" x2="546.4" y2="826.4" stroke="#c9c9c9" stroke-width="1.5"/>
<line x1="546.4" y1="828.9" x2="546.4" y2="844.9" stroke="#c9c9c9" stroke-width="1.7"/>
<line x1="520.8" y1="847.7" x2="520.8" y2="849.3" stroke="#c9c9c9" stroke-width="1.5"/>
<line x1="546.4" y1="847.7" x2="546.4" y2="849.3" stroke="#c9c9c9" stroke-width="1.5"/>
<line x1="546.4" y1="851.8" x2="546.4" y2="867.8" stroke="#c9c9c9" stroke-width="1.7"/>
<line x1="520.8" y1="870.7" x2="520.8" y2="872.3" stroke="#c9c9c9" stroke-width="1.5"/>
<line x1="546.4" y1="870.7" x2="546.4" y2="872.3" stroke="#c9c9c9" stroke-width="1.5"/>
<line x1="546.4" y1="874.8" x2="546.4" y2="890.8" stroke="#c9c9c9" stroke-width="1.7"/>
<line x1="520.8" y1="893.6" x2="520.8" y2="895.2" stroke="#c9c9c9" stroke-width="1.5"/>
<line x1="546.4" y1="893.6" x2="546.4" y2="895.2" stroke="#c9c9c9" stroke-width="1.5"/>
<line x1="546.4" y1="897.7" x2="546.4" y2="913.7" stroke="#c9c9c9" stroke-width="1.7"/>
<line x1="520.8" y1="916.5" x2="520.8" y2="918.1" stroke="#c9c9c9" stroke-width="1.5"/>
<line x1="546.4" y1="916.5" x2="546.4" y2="918.1" stroke="#c9c9c9" stroke-width="1.5"/>
<line x1="546.4" y1="920.6" x2="546.4" y2="936.6" stroke="#c9c9c9" stroke-width="1.7"/>
<line x1="520.8" y1="939.4" x2="520.8" y2="941" stroke="#c9c9c9" stroke-width="1.5"/>
<line x1="546.4" y1="939.4" x2="546.4" y2="941" stroke="#c9c9c9" stroke-width="1.5"/>
<line x1="546.4" y1="943.5" x2="546.4" y2="959.5" stroke="#c9c9c9" stroke-width="1.7"/>
<line x1="520.8" y1="962.3" x2="520.8" y2="963.9" stroke="#c9c9c9" stroke-width="1.5"/>
<line x1="546.4" y1="962.3" x2="546.4" y2="963.9" stroke="#c9c9c9" stroke-width="1.5"/>
<line x1="546.4" y1="966.4" x2="546.4" y2="982.4" stroke="#c9c9c9" stroke-width="1.7"/>
<line x1="520.8" y1="985.2" x2="520.8" y2="986.8" stroke="#c9c9c9" stroke-width="1.5"/>
<line x1="546.4" y1="985.2" x2="546.4" y2="986.8" stroke="#c9c9c9" stroke-width="1.5"/>
<line x1="546.4" y1="989.3" x2="546.4" y2="1005.3" stroke="#c9c9c9" stroke-width="1.7"/>
<line x1="520.8" y1="1008.1" x2="520.8" y2="1009.7" stroke="#c9c9c9" stroke-width="1.5"/>
<line x1="546.4" y1="1008.1" x2="546.4" y2="1009.7" stroke="#c9c9c9" stroke-width="1.5"/>
<line x1="546.4" y1="1012.2" x2="546.4" y2="1028.2" stroke="#c9c9c9" stroke-width="1.7"/>
<line x1="520.8" y1="1031.1" x2="520.8" y2="1032.7" stroke="#c9c9c9" stroke-width="1.5"/>
<line x1="546.4" y1="1031.1" x2="546.4" y2="1032.7" stroke="#c9c9c9" stroke-width="1.5"/>
<line x1="546.4" y1="1035.2" x2="546.4" y2="1051.2" stroke="#c9c9c9" stroke-width="1.7"/>
<line x1="520.8" y1="1054" x2="520.8" y2="1055.6" stroke="#c9c9c9" stroke-width="1.5"/>
<line x1="546.4" y1="1054" x2="546.4" y2="1055.6" stroke="#c9c9c9" stroke-width="1.5"/>
<line x1="546.4" y1="1058.1" x2="546.4" y2="1074.1" stroke="#c9c9c9" stroke-width="1.7"/>
<line x1="520.8" y1="1076.9" x2="520.8" y2="1078.5" stroke="#c9c9c9" stroke-width="1.5"/>
<line x1="546.4" y1="1076.9" x2="546.4" y2="1078.5" stroke="#c9c9c9" stroke-width="1.5"/>
<line x1="546.4" y1="1081" x2="546.4" y2="1097" stroke="#c9c9c9" stroke-width="1.7"/>
<line x1="520.8" y1="1099.8" x2="520.8" y2="1101.4" stroke="#c9c9c9" stroke-width="1.5"/>
<line x1="546.4" y1="1099.8" x2="546.4" y2="1101.4" stroke="#c9c9c9" stroke-width="1.5"/>
<line x1="546.4" y1="1103.9" x2="546.4" y2="1119.9" stroke="#c9c9c9" stroke-width="1.7"/>
<line x1="520.8" y1="1122.7" x2="520.8" y2="1124.3" stroke="#c9c9c9" stroke-width="1.5"/>
<line x1="546.4" y1="1122.7" x2="546.4" y2="1124.3" stroke="#c9c9c9" stroke-width="1.5"/>
<line x1="546.4" y1="1126.8" x2="546.4" y2="1142.8" stroke="#c9c9c9" stroke-width="1.7"/>
<line x1="520.8" y1="1145.6" x2="520.8" y2="1147.2" stroke="#c9c9c9" stroke-width="1.5"/>
<line x1="546.4" y1="1145.6" x2="546.4" y2="1147.2" stroke="#c9c9c9" stroke-width="1.5"/>
<line x1="546.4" y1="1149.7" x2="546.4" y2="1165.7" stroke="#c9c9c9" stroke-width="1.7"/>
<line x1="520.8" y1="1168.5" x2="520.8" y2="1170.1" stroke="#c9c9c9" stroke-width="1.5"/>
<line x1="546.4" y1="1168.5" x2="546.4" y2="1170.1" stroke="#c9c9c9" stroke-width="1.5"/>
<line x1="546.4" y1="1172.6" x2="546.4" y2="1188.6" stroke="#c9c9c9" stroke-width="1.7"/>
<line x1="520.8" y1="1191.5" x2="520.8" y2="1193.1" stroke="#c9c9c9" stroke-width="1.5"/>
<line x1="546.4" y1="1191.5" x2="546.4" y2="1193.1" stroke="#c9c9c9" stroke-width="1.5"/>
<line x1="546.4" y1="1195.6" x2="546.4" y2="1211.6" stroke="#c9c9c9" stroke-width="1.7"/>
<line x1="520.8" y1="1214.4" x2="520.8" y2="1216" stroke="#c9c9c9" stroke-width="1.5"/>
<line x1="546.4" y1="1214.4" x2="546.4" y2="1216" stroke="#c9c9c9" stroke-width="1.5"/>
<line x1="546.4" y1="1218.5" x2="546.4" y2="1234.5" stroke="#c9c9c9" stroke-width="1.7"/>
<line x1="520.8" y1="1237.3" x2="520.8" y2="1238.9" stroke="#c9c9c9" stroke-width="1.5"/>
<line x1="546.4" y1="1237.3" x2="546.4" y2="1238.9" stroke="#c9c9c9" stroke-width="1.5"/>
<line x1="546.4" y1="1241.4" x2="546.4" y2="1257.4" stroke="#c9c9c9" stroke-width="1.7"/>
<line x1="520.8" y1="1260.2" x2="520.8" y2="1261.8" stroke="#c9c9c9" stroke-width="1.5"/>
<line x1="546.4" y1="1260.2" x2="546.4" y2="1261.8" stroke="#c9c9c9" stroke-width="1.5"/>
<line x1="546.4" y1="1264.3" x2="546.4" y2="1280.3" stroke="#c9c9c9" stroke-width="1.7"/>
<line x1="520.8" y1="1283.1" x2="520.8" y2="1284.7" stroke="#c9c9c9" stroke-width="1.5"/>
<line x1="546.4" y1="1283.1" x2="546.4" y2="1284.7" stroke="#c9c9c9" stroke-width="1.5"/>
<line x1="546.4" y1="1287.2" x2="546.4" y2="1303.2" stroke="#c9c9c9" stroke-width="1.7"/>
<line x1="520.8" y1="1306" x2="520.8" y2="1307.6" stroke="#c9c9c9" stroke-width="1.5"/>
<line x1="546.4" y1="1306" x2="546.4" y2="1307.6" stroke="#c9c9c9" stroke-width="1.5"/>
<line x1="546.4" y1="1310.1" x2="546.4" y2="1326.1" stroke="#c9c9c9" stroke-width="1.7"/>
<line x1="520.8" y1="1328.9" x2="520.8" y2="1330.5" stroke="#c9c9c9" stroke-width="1.5"/>
<line x1="546.4" y1="1328.9" x2="546.4" y2="1330.5" stroke="#c9c9c9" stroke-width="1.5"/>
<line x1="546.4" y1="1333" x2="546.4" y2="1349" stroke="#c9c9c9" stroke-width="1.7"/>
<line x1="520.8" y1="1351.9" x2="520.8" y2="1353.5" stroke="#c9c9c9" stroke-width="1.5"/>
<line x1="546.4" y1="1351.9" x2="546.4" y2="1353.5" stroke="#c9c9c9" stroke-width="1.5"/>
<line x1="546.4" y1="1356" x2="546.4" y2="1372" stroke="#c9c9c9" stroke-width="1.7"/>
<line x1="520.8" y1="1374.8" x2="520.8" y2="1376.4" stroke="#c9c9c9" stroke-width="1.5"/>
<line x1="546.4" y1="1374.8" x2="546.4" y2="1376.4" stroke="#c9c9c9" stroke-width="1.5"/>
<line x1="546.4" y1="1378.9" x2="546.4" y2="1394.9" stroke="#c9c9c9" stroke-width="1.7"/>
<line x1="520.8" y1="1397.7" x2="520.8" y2="1399.3" stroke="#c9c9c9" stroke-width="1.5"/>
<line x1="546.4" y1="1397.7" x2="546.4" y2="1399.3" stroke="#c9c9c9" stroke-width="1.5"/>
<line x1="546.4" y1="1401.8" x2="546.4" y2="1417.8" stroke="#c9c9c9" stroke-width="1.7"/>
<line x1="520.8" y1="1420.6" x2="520.8" y2="1422.2" stroke="#c9c9c9" stroke-width="1.5"/>
<line x1="546.4" y1="1420.6" x2="546.4" y2="1422.2" stroke="#c9c9c9" stroke-width="1.5"/>
<line x1="546.4" y1="1424.7" x2="546.4" y2="1440.7" stroke="#c9c9c9" stroke-width="1.7"/>
<line x1="520.8" y1="1443.5" x2="520.8" y2="1445.1" stroke="#c9c9c9" stroke-width="1.5"/>
<line x1="546.4" y1="1443.5" x2="546.4" y2="1445.1" stroke="#c9c9c9" stroke-width="1.5"/>
<line x1="546.4" y1="1447.6" x2="546.4" y2="1463.6" stroke="#c9c9c9" stroke-width="1.7"/>
<line x1="520.8" y1="1466.4" x2="520.8" y2="1468" stroke="#c9c9c9" stroke-width="1.5"/>
<line x1="546.4" y1="1466.4" x2="546.4" y2="1468" stroke="#c9c9c9" stroke-width="1.5"/>
<line x1="546.4" y1="1470.5" x2="546.4" y2="1486.5" stroke="#c9c9c9" stroke-width="1.7"/>
<line x1="520.8" y1="1489.3" x2="520.8" y2="1490.9" stroke="#c9c9c9" stroke-width="1.5"/>
<line x1="546.4" y1="1489.3" x2="546.4" y2="1490.9" stroke="#c9c9c9" stroke-width="1.5"/>
<line x1="546.4" y1="1493.4" x2="546.4" y2="1509.4" stroke="#c9c9c9" stroke-width="1.7"/>
<line x1="520.8" y1="1512.3" x2="520.8" y2="1513.9" stroke="#c9c9c9" stroke-width="1.5"/>
<line x1="546.4" y1="1512.3" x2="546.4" y2="1513.9" stroke="#c9c9c9" stroke-width="1.5"/>
<line x1="546.4" y1="1516.4" x2="546.4" y2="1532.4" stroke="#c9c9c9" stroke-width="1.7"/>
<line x1="520.8" y1="1535.2" x2="520.8" y2="1536.8" stroke="#c9c9c9" stroke-width="1.5"/>
<line x1="546.4" y1="1535.2" x2="546.4" y2="1536.8" stroke="#c9c9c9" stroke-width="1.5"/>
<line x1="546.4" y1="1539.3" x2="546.4" y2="1555.3" stroke="#c9c9c9" stroke-width="1.7"/>
<line x1="520.8" y1="1558.1" x2="520.8" y2="1559.7" stroke="#c9c9c9" stroke-width="1.5"/>
<line x1="546.4" y1="1558.1" x2="546.4" y2="1559.7" stroke="#c9c9c9" stroke-width="1.5"/>
<line x1="546.4" y1="1562.2" x2="546.4" y2="1578.2" stroke="#c9c9c9" stroke-width="1.7"/>
<line x1="520.8" y1="1581" x2="520.8" y2="1582.6" stroke="#c9c9c9" stroke-width="1.5"/>
<line x1="546.4" y1="1581" x2="546.4" y2="1582.6" stroke="#c9c9c9" stroke-width="1.5"/>
<line x1="546.4" y1="1585.1" x2="546.4" y2="1601.1" stroke="#c9c9c9" stroke-width="1.7"/>
<line x1="520.8" y1="1603.9" x2="520.8" y2="1605.5" stroke="#c9c9c9" stroke-width="1.5"/>
<line x1="546.4" y1="1603.9" x2="546.4" y2="1605.5" stroke="#c9c9c9" stroke-width="1.5"/>
<line x1="546.4" y1="1608" x2="546.4" y2="1624" stroke="#c9c9c9" stroke-width="1.7"/>
<line x1="520.8" y1="1626.8" x2="520.8" y2="1628.4" stroke="#c9c9c9" stroke-width="1.5"/>
<line x1="546.4" y1="1626.8" x2="546.4" y2="1628.4" stroke="#c9c9c9" stroke-width="1.5"/>
<line x1="546.4" y1="1630.9" x2="546.4" y2="1646.9" stroke="#c9c9c9" stroke-width="1.7"/>
<line x1="520.8" y1="1649.7" x2="520.8" y2="1651.3" stroke="#c9c9c9" stroke-width="1.5"/>
<line x1="546.4" y1="1649.7" x2="546.4" y2="1651.3" stroke="#c9c9c9" stroke-width="1.5"/>
<line x1="546.4" y1="1653.8" x2="546.4" y2="1669.8" stroke="#c9c9c9" stroke-width="1.7"/>
<line x1="520.8" y1="1672.7" x2="520.8" y2="1674.3" stroke="#c9c9c9" stroke-width="1.5"/>
<line x1="546.4" y1="1672.7" x2="546.4" y2="1674.3" stroke="#c9c9c9" stroke-width="1.5"/>
<line x1="546.4" y1="1676.8" x2="546.4" y2="1692.8" stroke="#c9c9c9" stroke-width="1.7"/>
<line x1="520.8" y1="1695.6" x2="520.8" y2="1697.2" stroke="#c9c9c9" stroke-width="1.5"/>
<line x1="546.4" y1="1695.6" x2="546.4" y2="1697.2" stroke="#c9c9c9" stroke-width="1.5"/>
<line x1="546.4" y1="1699.7" x2="546.4" y2="1715.7" stroke="#c9c9c9" stroke-width="1.7"/>
<line x1="520.8" y1="1718.5" x2="520.8" y2="1720.1" stroke="#c9c9c9" stroke-width="1.5"/>
<line x1="546.4" y1="1718.5" x2="546.4" y2="1720.1" stroke="#c9c9c9" stroke-width="1.5"/>
<line x1="546.4" y1="1722.6" x2="546.4" y2="1738.6" stroke="#c9c9c9" stroke-width="1.7"/>
<line x1="520.8" y1="1741.4" x2="520.8" y2="1743" stroke="#c9c9c9" stroke-width="1.5"/>
<line x1="546.4" y1="1741.4" x2="546.4" y2="1743" stroke="#c9c9c9" stroke-width="1.5"/>
<line x1="546.4" y1="1745.5" x2="546.4" y2="1761.5" stroke="#c9c9c9" stroke-width="1.7"/>
<line x1="520.8" y1="1764.3" x2="520.8" y2="1765.9" stroke="#c9c9c9" stroke-width="1.5"/>
<line x1="546.4" y1="1764.3" x2="546.4" y2="1765.9" stroke="#c9c9c9" stroke-width="1.5"/>
<line x1="546.4" y1="1768.4" x2="546.4" y2="1784.4" stroke="#c9c9c9" stroke-width="1.7"/>
<line x1="520.8" y1="1787.2" x2="520.8" y2="1788.8" stroke="#c9c9c9" stroke-width="1.5"/>
<line x1="546.4" y1="1787.2" x2="546.4" y2="1788.8" stroke="#c9c9c9" stroke-width="1.5"/>
<line x1="546.4" y1="1791.3" x2="546.4" y2="1807.3" stroke="#c9c9c9" stroke-width="1.7"/>
<line x1="520.8" y1="1810.1" x2="520.8" y2="1811.7" stroke="#c9c9c9" stroke-width="1.5"/>
<line x1="546.4" y1="1810.1" x2="546.4" y2="1811.7" stroke="#c9c9c9" stroke-width="1.5"/>
<line x1="546.4" y1="1814.2" x2="546.4" y2="1830.2" stroke="#c9c9c9" stroke-width="1.7"/>
<line x1="520.8" y1="1833.1" x2="520.8" y2="1834.7" stroke="#c9c9c9" stroke-width="1.5"/>
<line x1="546.4" y1="1833.1" x2="546.4" y2="1834.7" stroke="#c9c9c9" stroke-width="1.5"/>
<line x1="546.4" y1="1837.2" x2="546.4" y2="1853.2" stroke="#c9c9c9" stroke-width="1.7"/>
<line x1="520.8" y1="1856" x2="520.8" y2="1857.6" stroke="#c9c9c9" stroke-width="1.5"/>
<line x1="546.4" y1="1856" x2="546.4" y2="1857.6" stroke="#c9c9c9" stroke-width="1.5"/>
<line x1="546.4" y1="1860.1" x2="546.4" y2="1876.1" stroke="#c9c9c9" stroke-width="1.7"/>
<line x1="520.8" y1="1878.9" x2="520.8" y2="1880.5" stroke="#c9c9c9" stroke-width="1.5"/>
<line x1="546.4" y1="1878.9" x2="546.4" y2="1880.5" stroke="#c9c9c9" stroke-width="1.5"/>
<line x1="546.4" y1="1883" x2="546.4" y2="1899" stroke="#c9c9c9" stroke-width="1.7"/>
<line x1="520.8" y1="1901.8" x2="520.8" y2="1903.4" stroke="#c9c9c9" stroke-width="1.5"/>
<line x1="546.4" y1="1901.8" x2="546.4" y2="1903.4" stroke="#c9c9c9" stroke-width="1.5"/>
<line x1="546.4" y1="1905.9" x2="546.4" y2="1921.9" stroke="#c9c9c9" stroke-width="1.7"/>
<line x1="520.8" y1="1924.7" x2="520.8" y2="1926.3" stroke="#c9c9c9" stroke-width="1.5"/>
<line x1="546.4" y1="1924.7" x2="546.4" y2="1926.3" stroke="#c9c9c9" stroke-width="1.5"/>
<line x1="546.4" y1="1928.8" x2="546.4" y2="1944.8" stroke="#c9c9c9" stroke-width="1.7"/>
<line x1="520.8" y1="1947.6" x2="520.8" y2="1949.2" stroke="#c9c9c9" stroke-width="1.5"/>
<line x1="546.4" y1="1947.6" x2="546.4" y2="1949.2" stroke="#c9c9c9" stroke-width="1.5"/>
<line x1="546.4" y1="1951.7" x2="546.4" y2="1967.7" stroke="#c9c9c9" stroke-width="1.7"/>
<line x1="520.8" y1="1970.5" x2="520.8" y2="1972.1" stroke="#c9c9c9" stroke-width="1.5"/>
<line x1="546.4" y1="1970.5" x2="546.4" y2="1972.1" stroke="#c9c9c9" stroke-width="1.5"/>
<line x1="546.4" y1="1974.6" x2="546.4" y2="1990.6" stroke="#c9c9c9" stroke-width="1.7"/>
<line x1="520.8" y1="1993.4" x2="520.8" y2="1995" stroke="#c9c9c9" stroke-width="1.5"/>
<line x1="546.4" y1="1993.4" x2="546.4" y2="1995" stroke="#c9c9c9" stroke-width="1.5"/>
<line x1="546.4" y1="1997.5" x2="546.4" y2="2013.5" stroke="#c9c9c9" stroke-width="1.7"/>
<line x1="520.8" y1="2016.4" x2="520.8" y2="2018" stroke="#c9c9c9" stroke-width="1.5"/>
<line x1="546.4" y1="2016.4" x2="546.4" y2="2018" stroke="#c9c9c9" stroke-width="1.5"/>
<line x1="546.4" y1="2020.5" x2="546.4" y2="2036.5" stroke="#c9c9c9" stroke-width="1.7"/>
<line x1="520.8" y1="2039.3" x2="520.8" y2="2040.9" stroke="#c9c9c9" stroke-width="1.5"/>
<line x1="546.4" y1="2039.3" x2="546.4" y2="2040.9" stroke="#c9c9c9" stroke-width="1.5"/>
<line x1="546.4" y1="2043.4" x2="546.4" y2="2059.4" stroke="#c9c9c9" stroke-width="1.7"/>
<line x1="520.8" y1="2062.2" x2="520.8" y2="2063.8" stroke="#c9c9c9" stroke-width="1.5"/>
<line x1="546.4" y1="2062.2" x2="546.4" y2="2063.8" stroke="#c9c9c9" stroke-width="1.5"/>
<line x1="546.4" y1="2066.3" x2="546.4" y2="2082.3" stroke="#c9c9c9" stroke-width="1.7"/>
<line x1="520.8" y1="2085.1" x2="520.8" y2="2086.7" stroke="#c9c9c9" stroke-width="1.5"/>
<line x1="546.4" y1="2085.1" x2="546.4" y2="2086.7" stroke="#c9c9c9" stroke-width="1.5"/>
<line x1="546.4" y1="2089.2" x2="546.4" y2="2105.2" stroke="#c9c9c9" stroke-width="1.7"/>
<line x1="520.8" y1="2108" x2="520.8" y2="2109.6" stroke="#c9c9c9" stroke-width="1.5"/>
<line x1="546.4" y1="2108" x2="546.4" y2="2109.6" stroke="#c9c9c9" stroke-width="1.5"/>
<line x1="546.4" y1="2112.1" x2="546.4" y2="2128.1" stroke="#c9c9c9" stroke-width="1.7"/>
<line x1="520.8" y1="2130.9" x2="520.8" y2="2132.5" stroke="#c9c9c9" stroke-width="1.5"/>
<line x1="546.4" y1="2130.9" x2="546.4" y2="2132.5" stroke="#c9c9c9" stroke-width="1.5"/>
<line x1="546.4" y1="2135" x2="546.4" y2="2151" stroke="#c9c9c9" stroke-width="1.7"/>
<line x1="520.8" y1="2153.8" x2="520.8" y2="2155.4" stroke="#c9c9c9" stroke-width="1.5"/>
<line x1="546.4" y1="2153.8" x2="546.4" y2="2155.4" stroke="#c9c9c9" stroke-width="1.5"/>
<line x1="546.4" y1="2157.9" x2="546.4" y2="2173.9" stroke="#c9c9c9" stroke-width="1.7"/>
<line x1="520.8" y1="2176.8" x2="520.8" y2="2178.4" stroke="#c9c9c9" stroke-width="1.5"/>
<line x1="546.4" y1="2176.8" x2="546.4" y2="2178.4" stroke="#c9c9c9" stroke-width="1.5"/>
<line x1="546.4" y1="2180.9" x2="546.4" y2="2196.9" stroke="#c9c9c9" stroke-width="1.7"/>
<line x1="520.8" y1="2199.7" x2="520.8" y2="2201.3" stroke="#c9c9c9" stroke-width="1.5"/>
<line x1="546.4" y1="2199.7" x2="546.4" y2="2201.3" stroke="#c9c9c9" stroke-width="1.5"/>
<line x1="546.4" y1="2203.8" x2="546.4" y2="2219.8" stroke="#c9c9c9" stroke-width="1.7"/>
<line x1="520.8" y1="2222.6" x2="520.8" y2="2224.2" stroke="#c9c9c9" stroke-width="1.5"/>
<line x1="546.4" y1="2222.6" x2="546.4" y2="2224.2" stroke="#c9c9c9" stroke-width="1.5"/>
<line x1="546.4" y1="2226.7" x2="546.4" y2="2242.7" stroke="#c9c9c9" stroke-width="1.7"/>
<line x1="520.8" y1="2245.5" x2="520.8" y2="2247.1" stroke="#c9c9c9" stroke-width="1.5"/>
<line x1="546.4" y1="2245.5" x2="546.4" y2="2247.1" stroke="#c9c9c9" stroke-width="1.5"/>
<line x1="546.4" y1="2249.6" x2="546.4" y2="2265.6" stroke="#c9c9c9" stroke-width="1.7"/>
<line x1="520.8" y1="2268.4" x2="520.8" y2="2270" stroke="#c9c9c9" stroke-width="1.5"/>
<line x1="546.4" y1="2268.4" x2="546.4" y2="2270" stroke="#c9c9c9" stroke-width="1.5"/>
<line x1="546.4" y1="2272.5" x2="546.4" y2="2288.5" stroke="#c9c9c9" stroke-width="1.7"/>
<line x1="520.8" y1="2291.3" x2="520.8" y2="2292.9" stroke="#c9c9c9" stroke-width="1.5"/>
<line x1="546.4" y1="2291.3" x2="546.4" y2="2292.9" stroke="#c9c9c9" stroke-width="1.5"/>
<line x1="546.4" y1="2295.4" x2="546.4" y2="2311.4" stroke="#c9c9c9" stroke-width="1.7"/>
<line x1="520.8" y1="2314.2" x2="520.8" y2="2315.8" stroke="#c9c9c9" stroke-width="1.5"/>
<line x1="546.4" y1="2314.2" x2="546.4" y2="2315.8" stroke="#c9c9c9" stroke-width="1.5"/>
<line x1="546.4" y1="2318.3" x2="546.4" y2="2334.3" stroke="#c9c9c9" stroke-width="1.7"/>
<line x1="520.8" y1="2337.2" x2="520.8" y2="2338.8" stroke="#c9c9c9" stroke-width="1.5"/>
<line x1="546.4" y1="2337.2" x2="546.4" y2="2338.8" stroke="#c9c9c9" stroke-width="1.5"/>
<line x1="546.4" y1="2341.3" x2="546.4" y2="2357.3" stroke="#c9c9c9" stroke-width="1.7"/>
<line x1="520.8" y1="2360.1" x2="520.8" y2="2361.7" stroke="#c9c9c9" stroke-width="1.5"/>
<line x1="546.4" y1="2360.1" x2="546.4" y2="2361.7" stroke="#c9c9c9" stroke-width="1.5"/>
<line x1="546.4" y1="2364.2" x2="546.4" y2="2380.2" stroke="#c9c9c9" stroke-width="1.7"/>
<line x1="520.8" y1="2383" x2="520.8" y2="2384.6" stroke="#c9c9c9" stroke-width="1.5"/>
<line x1="546.4" y1="2383" x2="546.4" y2="2384.6" stroke="#c9c9c9" stroke-width="1.5"/>
<line x1="546.4" y1="2387.1" x2="546.4" y2="2403.1" stroke="#c9c9c9" stroke-width="1.7"/>
<line x1="520.8" y1="2405.9" x2="520.8" y2="2407.5" stroke="#c9c9c9" stroke-width="1.5"/>
<line x1="546.4" y1="2405.9" x2="546.4" y2="2407.5" stroke="#c9c9c9" stroke-width="1.5"/>
<line x1="546.4" y1="2410" x2="546.4" y2="2426" stroke="#c9c9c9" stroke-width="1.7"/>
<rect x="504.9" y="118.6" width="96.6" height="16" fill="#c6c6c6"/>
<rect x="504.9" y="141.5" width="69.4" height="16" fill="#c6c6c6"/>
<rect x="504.9" y="164.4" width="48.2" height="16" fill="#c6c6c6"/>
<rect x="504.9" y="187.3" width="53" height="16" fill="#c6c6c6"/>
<rect x="504.9" y="210.3" width="96.8" height="16" fill="#c6c6c6"/>
<rect x="504.9" y="233.2" width="54.8" height="16" fill="#c6c6c6"/>
<rect x="504.9" y="256.1" width="89.8" height="16" fill="#c6c6c6"/>
<rect x="504.9" y="279" width="61.9" height="16" fill="#c6c6c6"/>
<rect x="504.9" y="301.9" width="58" height="16" fill="#c6c6c6"/>
<rect x="504.9" y="324.8" width="60.9" height="16" fill="#c6c6c6"/>
<rect x="504.9" y="347.7" width="61.4" height="16" fill="#c6c6c6"/>
<rect x="504.9" y="370.7" width="56.1" height="16" fill="#c6c6c6"/>
<rect x="504.9" y="393.6" width="102.7" height="16" fill="#c6c6c6"/>
<rect x="504.9" y="416.5" width="61.1" height="16" fill="#c6c6c6"/>
<rect x="504.9" y="439.4" width="61.7" height="16" fill="#c6c6c6"/>
<rect x="504.9" y="462.3" width="58.5" height="16" fill="#c6c6c6"/>
<rect x="504.9" y="485.2" width="60.2" height="16" fill="#c6c6c6"/>
<rect x="504.9" y="508.1" width="71.6" height="16" fill="#c6c6c6"/>
<rect x="504.9" y="531.1" width="65.3" height="16" fill="#c6c6c6"/>
<rect x="504.9" y="554" width="71.1" height="16" fill="#c6c6c6"/>
<rect x="504.9" y="576.9" width="72.9" height="16" fill="#c6c6c6"/>
<rect x="504.9" y="599.8" width="63.3" height="16" fill="#c6c6c6"/>
<rect x="504.9" y="622.7" width="61" height="16" fill="#c6c6c6"/>
<rect x="504.9" y="645.6" width="63.6" height="16" fill="#c6c6c6"/>
<rect x="504.9" y="668.5" width="58.4" height="16" fill="#c6c6c6"/>
<rect x="504.9" y="691.5" width="64.6" height="16" fill="#c6c6c6"/>
<rect x="504.9" y="714.4" width="74.5" height="16" fill="#c6c6c6"/>
<rect x="504.9" y="737.3" width="46.9" height="16" fill="#c6c6c6"/>
<rect x="504.9" y="760.2" width="50.6" height="16" fill="#c6c6c6"/>
<rect x="504.9" y="783.1" width="63.9" height="16" fill="#c6c6c6"/>
<rect x="504.9" y="806" width="59.1" height="16" fill="#c6c6c6"/>
<rect x="504.9" y="828.9" width="51.8" height="16" fill="#c6c6c6"/>
<rect x="504.9" y="851.8" width="60.2" height="16" fill="#c6c6c6"/>
<rect x="504.9" y="874.8" width="54.4" height="16" fill="#c6c6c6"/>
<rect x="504.9" y="897.7" width="49.9" height="16" fill="#c6c6c6"/>
<rect x="504.9" y="920.6" width="57.4" height="16" fill="#c6c6c6"/>
<rect x="504.9" y="943.5" width="70" height="16" fill="#c6c6c6"/>
<rect x="504.9" y="966.4" width="46.9" height="16" fill="#c6c6c6"/>
<rect x="504.9" y="989.3" width="50" height="16" fill="#c6c6c6"/>
<rect x="504.9" y="1012.2" width="53" height="16" fill="#c6c6c6"/>
<rect x="504.9" y="1035.2" width="58.9" height="16" fill="#c6c6c6"/>
<rect x="504.9" y="1058.1" width="29.8" height="16" fill="#c6c6c6"/>
<rect x="504.9" y="1081" width="78.5" height="16" fill="#c6c6c6"/>
<rect x="504.9" y="1103.9" width="100.3" height="16" fill="#c6c6c6"/>
<rect x="504.9" y="1126.8" width="74.8" height="16" fill="#c6c6c6"/>
<rect x="504.9" y="1149.7" width="100.4" height="16" fill="#c6c6c6"/>
<rect x="504.9" y="1172.6" width="109.1" height="16" fill="#c6c6c6"/>
<rect x="504.9" y="1195.6" width="137.4" height="16" fill="#c6c6c6"/>
<rect x="504.9" y="1218.5" width="193.9" height="16" fill="#c6c6c6"/>
<rect x="504.9" y="1241.4" width="78.3" height="16" fill="#c6c6c6"/>
<rect x="504.9" y="1264.3" width="47.2" height="16" fill="#c6c6c6"/>
<rect x="504.9" y="1287.2" width="34.6" height="16" fill="#c6c6c6"/>
<rect x="504.9" y="1310.1" width="34.2" height="16" fill="#c6c6c6"/>
<rect x="504.9" y="1333" width="49.6" height="16" fill="#c6c6c6"/>
<rect x="504.9" y="1356" width="35.4" height="16" fill="#c6c6c6"/>
<rect x="504.9" y="1378.9" width="34.6" height="16" fill="#c6c6c6"/>
<rect x="504.9" y="1401.8" width="40.4" height="16" fill="#c6c6c6"/>
<rect x="504.9" y="1424.7" width="72.2" height="16" fill="#c6c6c6"/>
<rect x="504.9" y="1447.6" width="334" height="16" fill="#c6c6c6"/>
<rect x="504.9" y="1470.5" width="109.6" height="16" fill="#c6c6c6"/>
<rect x="504.9" y="1493.4" width="34.1" height="16" fill="#c6c6c6"/>
<rect x="504.9" y="1516.4" width="39.4" height="16" fill="#c6c6c6"/>
<rect x="504.9" y="1539.3" width="38.4" height="16" fill="#c6c6c6"/>
<rect x="504.9" y="1562.2" width="46.4" height="16" fill="#c6c6c6"/>
<rect x="504.9" y="1585.1" width="57.8" height="16" fill="#c6c6c6"/>
<rect x="504.9" y="1608" width="62.6" height="16" fill="#c6c6c6"/>
<rect x="504.9" y="1630.9" width="46.4" height="16" fill="#c6c6c6"/>
<rect x="504.9" y="1653.8" width="56" height="16" fill="#c6c6c6"/>
<rect x="504.9" y="1676.8" width="29.8" height="16" fill="#c6c6c6"/>
<rect x="504.9" y="1699.7" width="31.9" height="16" fill="#c6c6c6"/>
<rect x="504.9" y="1722.6" width="109.9" height="16" fill="#c6c6c6"/>
<rect x="504.9" y="1745.5" width="35.9" height="16" fill="#c6c6c6"/>
<rect x="504.9" y="1768.4" width="30.9" height="16" fill="#c6c6c6"/>
<rect x="504.9" y="1791.3" width="44.9" height="16" fill="#c6c6c6"/>
<rect x="504.9" y="1814.2" width="61.1" height="16" fill="#c6c6c6"/>
<rect x="504.9" y="1837.2" width="41.9" height="16" fill="#c6c6c6"/>
<rect x="504.9" y="1860.1" width="42.8" height="16" fill="#c6c6c6"/>
<rect x="504.9" y="1883" width="52" height="16" fill="#c6c6c6"/>
<rect x="504.9" y="1905.9" width="129.5" height="16" fill="#c6c6c6"/>
<rect x="504.9" y="1928.8" width="51.3" height="16" fill="#c6c6c6"/>
<rect x="504.9" y="1951.7" width="34.9" height="16" fill="#c6c6c6"/>
<rect x="504.9" y="1974.6" width="46.2" height="16" fill="#c6c6c6"/>
<rect x="504.9" y="1997.5" width="97.6" height="16" fill="#c6c6c6"/>
<rect x="504.9" y="2020.5" width="48.7" height="16" fill="#c6c6c6"/>
<rect x="504.9" y="2043.4" width="79.6" height="16" fill="#c6c6c6"/>
<rect x="504.9" y="2066.3" width="53.1" height="16" fill="#c6c6c6"/>
<rect x="504.9" y="2089.2" width="32.8" height="16" fill="#c6c6c6"/>
<rect x="504.9" y="2112.1" width="55.8" height="16" fill="#c6c6c6"/>
<rect x="504.9" y="2135" width="66.6" height="16" fill="#c6c6c6"/>
<rect x="504.9" y="2157.9" width="46.8" height="16" fill="#c6c6c6"/>
<rect x="504.9" y="2180.9" width="77.1" height="16" fill="#c6c6c6"/>
<rect x="504.9" y="2203.8" width="66.1" height="16" fill="#c6c6c6"/>
<rect x="504.9" y="2226.7" width="36.8" height="16" fill="#c6c6c6"/>
<rect x="504.9" y="2249.6" width="47.4" height="16" fill="#c6c6c6"/>
<rect x="504.9" y="2272.5" width="50.6" height="16" fill="#c6c6c6"/>
<rect x="504.9" y="2295.4" width="49.4" height="16" fill="#c6c6c6"/>
<rect x="504.9" y="2318.3" width="42.8" height="16" fill="#c6c6c6"/>
<rect x="504.9" y="2341.3" width="58.1" height="16" fill="#c6c6c6"/>
<rect x="504.9" y="2364.2" width="47.6" height="16" fill="#c6c6c6"/>
<rect x="504.9" y="2387.1" width="23.4" height="16" fill="#c6c6c6"/>
<rect x="504.9" y="2410" width="32.4" height="16" fill="#c6c6c6"/>
<line x1="1006.8" y1="114.5" x2="1006.8" y2="2428.9" stroke="#c9c9c9" stroke-width="1.7"/>
<line x1="1042.9" y1="114.5" x2="1042.9" y2="2428.9" stroke="#c9c9c9" stroke-width="1.7"/>
<line x1="1078.8" y1="114.5" x2="1078.8" y2="2428.9" stroke="#c9c9c9" stroke-width="1.7"/>
<line x1="1114.8" y1="114.5" x2="1114.8" y2="2428.9" stroke="#c9c9c9" stroke-width="1.7"/>
<line x1="1150.4" y1="114.5" x2="1150.4" y2="2428.9" stroke="#c9c9c9" stroke-width="1.7"/>
<line x1="970.8" y1="114.5" x2="970.8" y2="116.1" stroke="#c9c9c9" stroke-width="1.5"/>
<line x1="970.8" y1="137.4" x2="970.8" y2="139" stroke="#c9c9c9" stroke-width="1.5"/>
<line x1="970.8" y1="160.3" x2="970.8" y2="161.9" stroke="#c9c9c9" stroke-width="1.5"/>
<line x1="970.8" y1="183.2" x2="970.8" y2="184.8" stroke="#c9c9c9" stroke-width="1.5"/>
<line x1="970.8" y1="206.2" x2="970.8" y2="207.8" stroke="#c9c9c9" stroke-width="1.5"/>
<line x1="970.8" y1="229.1" x2="970.8" y2="230.7" stroke="#c9c9c9" stroke-width="1.5"/>
<line x1="970.8" y1="252" x2="970.8" y2="253.6" stroke="#c9c9c9" stroke-width="1.5"/>
<line x1="970.8" y1="274.9" x2="970.8" y2="276.5" stroke="#c9c9c9" stroke-width="1.5"/>
<line x1="970.8" y1="297.8" x2="970.8" y2="299.4" stroke="#c9c9c9" stroke-width="1.5"/>
<line x1="970.8" y1="320.7" x2="970.8" y2="322.3" stroke="#c9c9c9" stroke-width="1.5"/>
<line x1="970.8" y1="343.6" x2="970.8" y2="345.2" stroke="#c9c9c9" stroke-width="1.5"/>
<line x1="970.8" y1="366.6" x2="970.8" y2="368.2" stroke="#c9c9c9" stroke-width="1.5"/>
<line x1="970.8" y1="389.5" x2="970.8" y2="391.1" stroke="#c9c9c9" stroke-width="1.5"/>
<line x1="970.8" y1="412.4" x2="970.8" y2="414" stroke="#c9c9c9" stroke-width="1.5"/>
<line x1="970.8" y1="435.3" x2="970.8" y2="436.9" stroke="#c9c9c9" stroke-width="1.5"/>
<line x1="970.8" y1="458.2" x2="970.8" y2="459.8" stroke="#c9c9c9" stroke-width="1.5"/>
<line x1="970.8" y1="481.1" x2="970.8" y2="482.7" stroke="#c9c9c9" stroke-width="1.5"/>
<line x1="970.8" y1="504" x2="970.8" y2="505.6" stroke="#c9c9c9" stroke-width="1.5"/>
<line x1="970.8" y1="527" x2="970.8" y2="528.6" stroke="#c9c9c9" stroke-width="1.5"/>
<line x1="970.8" y1="549.9" x2="970.8" y2="551.5" stroke="#c9c9c9" stroke-width="1.5"/>
<line x1="970.8" y1="572.8" x2="970.8" y2="574.4" stroke="#c9c9c9" stroke-width="1.5"/>
<line x1="970.8" y1="595.7" x2="970.8" y2="597.3" stroke="#c9c9c9" stroke-width="1.5"/>
<line x1="970.8" y1="618.6" x2="970.8" y2="620.2" stroke="#c9c9c9" stroke-width="1.5"/>
<line x1="970.8" y1="641.5" x2="970.8" y2="643.1" stroke="#c9c9c9" stroke-width="1.5"/>
<line x1="970.8" y1="664.4" x2="970.8" y2="666" stroke="#c9c9c9" stroke-width="1.5"/>
<line x1="970.8" y1="687.4" x2="970.8" y2="689" stroke="#c9c9c9" stroke-width="1.5"/>
<line x1="970.8" y1="710.3" x2="970.8" y2="711.9" stroke="#c9c9c9" stroke-width="1.5"/>
<line x1="970.8" y1="733.2" x2="970.8" y2="734.8" stroke="#c9c9c9" stroke-width="1.5"/>
<line x1="970.8" y1="756.1" x2="970.8" y2="757.7" stroke="#c9c9c9" stroke-width="1.5"/>
<line x1="970.8" y1="779" x2="970.8" y2="780.6" stroke="#c9c9c9" stroke-width="1.5"/>
<line x1="970.8" y1="801.9" x2="970.8" y2="803.5" stroke="#c9c9c9" stroke-width="1.5"/>
<line x1="970.8" y1="824.8" x2="970.8" y2="826.4" stroke="#c9c9c9" stroke-width="1.5"/>
<line x1="970.8" y1="847.7" x2="970.8" y2="849.3" stroke="#c9c9c9" stroke-width="1.5"/>
<line x1="970.8" y1="870.7" x2="970.8" y2="872.3" stroke="#c9c9c9" stroke-width="1.5"/>
<line x1="970.8" y1="893.6" x2="970.8" y2="895.2" stroke="#c9c9c9" stroke-width="1.5"/>
<line x1="970.8" y1="916.5" x2="970.8" y2="918.1" stroke="#c9c9c9" stroke-width="1.5"/>
<line x1="970.8" y1="939.4" x2="970.8" y2="941" stroke="#c9c9c9" stroke-width="1.5"/>
<line x1="970.8" y1="962.3" x2="970.8" y2="963.9" stroke="#c9c9c9" stroke-width="1.5"/>
<line x1="970.8" y1="985.2" x2="970.8" y2="986.8" stroke="#c9c9c9" stroke-width="1.5"/>
<line x1="970.8" y1="1008.1" x2="970.8" y2="1009.7" stroke="#c9c9c9" stroke-width="1.5"/>
<line x1="970.8" y1="1031.1" x2="970.8" y2="1032.7" stroke="#c9c9c9" stroke-width="1.5"/>
<line x1="970.8" y1="1054" x2="970.8" y2="1055.6" stroke="#c9c9c9" stroke-width="1.5"/>
<line x1="970.8" y1="1076.9" x2="970.8" y2="1078.5" stroke="#c9c9c9" stroke-width="1.5"/>
<line x1="970.8" y1="1099.8" x2="970.8" y2="1101.4" stroke="#c9c9c9" stroke-width="1.5"/>
<line x1="970.8" y1="1122.7" x2="970.8" y2="1124.3" stroke="#c9c9c9" stroke-width="1.5"/>
<line x1="970.8" y1="1145.6" x2="970.8" y2="1147.2" stroke="#c9c9c9" stroke-width="1.5"/>
<line x1="970.8" y1="1168.5" x2="970.8" y2="1170.1" stroke="#c9c9c9" stroke-width="1.5"/>
<line x1="970.8" y1="1191.5" x2="970.8" y2="1193.1" stroke="#c9c9c9" stroke-width="1.5"/>
<line x1="970.8" y1="1214.4" x2="970.8" y2="1216" stroke="#c9c9c9" stroke-width="1.5"/>
<line x1="970.8" y1="1237.3" x2="970.8" y2="1238.9" stroke="#c9c9c9" stroke-width="1.5"/>
<line x1="970.8" y1="1260.2" x2="970.8" y2="1261.8" stroke="#c9c9c9" stroke-width="1.5"/>
<line x1="970.8" y1="1283.1" x2="970.8" y2="1284.7" stroke="#c9c9c9" stroke-width="1.5"/>
<line x1="970.8" y1="1306" x2="970.8" y2="1307.6" stroke="#c9c9c9" stroke-width="1.5"/>
<line x1="970.8" y1="1328.9" x2="970.8" y2="1330.5" stroke="#c9c9c9" stroke-width="1.5"/>
<line x1="970.8" y1="1351.9" x2="970.8" y2="1353.5" stroke="#c9c9c9" stroke-width="1.5"/>
<line x1="970.8" y1="1374.8" x2="970.8" y2="1376.4" stroke="#c9c9c9" stroke-width="1.5"/>
<line x1="970.8" y1="1397.7" x2="970.8" y2="1399.3" stroke="#c9c9c9" stroke-width="1.5"/>
<line x1="970.8" y1="1420.6" x2="970.8" y2="1422.2" stroke="#c9c9c9" stroke-width="1.5"/>
<line x1="970.8" y1="1443.5" x2="970.8" y2="1445.1" stroke="#c9c9c9" stroke-width="1.5"/>
<line x1="970.8" y1="1466.4" x2="970.8" y2="1468" stroke="#c9c9c9" stroke-width="1.5"/>
<line x1="970.8" y1="1489.3" x2="970.8" y2="1490.9" stroke="#c9c9c9" stroke-width="1.5"/>
<line x1="970.8" y1="1512.3" x2="970.8" y2="1513.9" stroke="#c9c9c9" stroke-width="1.5"/>
<line x1="970.8" y1="1535.2" x2="970.8" y2="1536.8" stroke="#c9c9c9" stroke-width="1.5"/>
<line x1="970.8" y1="1558.1" x2="970.8" y2="1559.7" stroke="#c9c9c9" stroke-width="1.5"/>
<line x1="970.8" y1="1581" x2="970.8" y2="1582.6" stroke="#c9c9c9" stroke-width="1.5"/>
<line x1="970.8" y1="1603.9" x2="970.8" y2="1605.5" stroke="#c9c9c9" stroke-width="1.5"/>
<line x1="970.8" y1="1626.8" x2="970.8" y2="1628.4" stroke="#c9c9c9" stroke-width="1.5"/>
<line x1="970.8" y1="1649.7" x2="970.8" y2="1651.3" stroke="#c9c9c9" stroke-width="1.5"/>
<line x1="970.8" y1="1672.7" x2="970.8" y2="1674.3" stroke="#c9c9c9" stroke-width="1.5"/>
<line x1="970.8" y1="1695.6" x2="970.8" y2="1697.2" stroke="#c9c9c9" stroke-width="1.5"/>
<line x1="970.8" y1="1718.5" x2="970.8" y2="1720.1" stroke="#c9c9c9" stroke-width="1.5"/>
<line x1="970.8" y1="1741.4" x2="970.8" y2="1743" stroke="#c9c9c9" stroke-width="1.5"/>
<line x1="970.8" y1="1764.3" x2="970.8" y2="1765.9" stroke="#c9c9c9" stroke-width="1.5"/>
<line x1="970.8" y1="1787.2" x2="970.8" y2="1788.8" stroke="#c9c9c9" stroke-width="1.5"/>
<line x1="970.8" y1="1810.1" x2="970.8" y2="1811.7" stroke="#c9c9c9" stroke-width="1.5"/>
<line x1="970.8" y1="1833.1" x2="970.8" y2="1834.7" stroke="#c9c9c9" stroke-width="1.5"/>
<line x1="970.8" y1="1856" x2="970.8" y2="1857.6" stroke="#c9c9c9" stroke-width="1.5"/>
<line x1="970.8" y1="1878.9" x2="970.8" y2="1880.5" stroke="#c9c9c9" stroke-width="1.5"/>
<line x1="970.8" y1="1901.8" x2="970.8" y2="1903.4" stroke="#c9c9c9" stroke-width="1.5"/>
<line x1="970.8" y1="1924.7" x2="970.8" y2="1926.3" stroke="#c9c9c9" stroke-width="1.5"/>
<line x1="970.8" y1="1947.6" x2="970.8" y2="1949.2" stroke="#c9c9c9" stroke-width="1.5"/>
<line x1="970.8" y1="1970.5" x2="970.8" y2="1972.1" stroke="#c9c9c9" stroke-width="1.5"/>
<line x1="970.8" y1="1993.4" x2="970.8" y2="1995" stroke="#c9c9c9" stroke-width="1.5"/>
<line x1="970.8" y1="2016.4" x2="970.8" y2="2018" stroke="#c9c9c9" stroke-width="1.5"/>
<line x1="970.8" y1="2039.3" x2="970.8" y2="2040.9" stroke="#c9c9c9" stroke-width="1.5"/>
<line x1="970.8" y1="2062.2" x2="970.8" y2="2063.8" stroke="#c9c9c9" stroke-width="1.5"/>
<line x1="970.8" y1="2085.1" x2="970.8" y2="2086.7" stroke="#c9c9c9" stroke-width="1.5"/>
<line x1="970.8" y1="2108" x2="970.8" y2="2109.6" stroke="#c9c9c9" stroke-width="1.5"/>
<line x1="970.8" y1="2130.9" x2="970.8" y2="2132.5" stroke="#c9c9c9" stroke-width="1.5"/>
<line x1="970.8" y1="2153.8" x2="970.8" y2="2155.4" stroke="#c9c9c9" stroke-width="1.5"/>
<line x1="970.8" y1="2176.8" x2="970.8" y2="2178.4" stroke="#c9c9c9" stroke-width="1.5"/>
<line x1="970.8" y1="2199.7" x2="970.8" y2="2201.3" stroke="#c9c9c9" stroke-width="1.5"/>
<line x1="970.8" y1="2222.6" x2="970.8" y2="2224.2" stroke="#c9c9c9" stroke-width="1.5"/>
<line x1="970.8" y1="2245.5" x2="970.8" y2="2247.1" stroke="#c9c9c9" stroke-width="1.5"/>
<line x1="970.8" y1="2268.4" x2="970.8" y2="2270" stroke="#c9c9c9" stroke-width="1.5"/>
<line x1="970.8" y1="2291.3" x2="970.8" y2="2292.9" stroke="#c9c9c9" stroke-width="1.5"/>
<line x1="970.8" y1="2314.2" x2="970.8" y2="2315.8" stroke="#c9c9c9" stroke-width="1.5"/>
<line x1="970.8" y1="2337.2" x2="970.8" y2="2338.8" stroke="#c9c9c9" stroke-width="1.5"/>
<line x1="970.8" y1="2360.1" x2="970.8" y2="2361.7" stroke="#c9c9c9" stroke-width="1.5"/>
<line x1="970.8" y1="2383" x2="970.8" y2="2384.6" stroke="#c9c9c9" stroke-width="1.5"/>
<line x1="970.8" y1="2405.9" x2="970.8" y2="2407.5" stroke="#c9c9c9" stroke-width="1.5"/>
<rect x="953" y="118.6" width="44.2" height="16" fill="#c6c6c6"/>
<rect x="953" y="141.5" width="43.5" height="16" fill="#c6c6c6"/>
<rect x="953" y="164.4" width="50.2" height="16" fill="#c6c6c6"/>
<rect x="953" y="187.3" width="43.7" height="16" fill="#c6c6c6"/>
<rect x="953" y="210.3" width="17.7" height="16" fill="#c6c6c6"/>
<rect x="953" y="233.2" width="61" height="16" fill="#c6c6c6"/>
<rect x="953" y="256.1" width="41.9" height="16" fill="#c6c6c6"/>
<rect x="953" y="279" width="40.9" height="16" fill="#c6c6c6"/>
<rect x="953" y="301.9" width="25.3" height="16" fill="#c6c6c6"/>
<rect x="953" y="324.8" width="29.5" height="16" fill="#c6c6c6"/>
<rect x="953" y="347.7" width="57.3" height="16" fill="#c6c6c6"/>
<rect x="953" y="370.7" width="65.2" height="16" fill="#c6c6c6"/>
<rect x="953" y="393.6" width="44.1" height="16" fill="#c6c6c6"/>
<rect x="953" y="416.5" width="66.8" height="16" fill="#c6c6c6"/>
<rect x="953" y="439.4" width="83.8" height="16" fill="#c6c6c6"/>
<rect x="953" y="462.3" width="69" height="16" fill="#c6c6c6"/>
<rect x="953" y="485.2" width="81.6" height="16" fill="#c6c6c6"/>
<rect x="953" y="508.1" width="57.7" height="16" fill="#c6c6c6"/>
<rect x="953" y="531.1" width="52.4" height="16" fill="#c6c6c6"/>
<rect x="953" y="554" width="59.2" height="16" fill="#c6c6c6"/>
<rect x="953" y="576.9" width="55.5" height="16" fill="#c6c6c6"/>
<rect x="953" y="599.8" width="84.6" height="16" fill="#c6c6c6"/>
<rect x="953" y="622.7" width="55.5" height="16" fill="#c6c6c6"/>
<rect x="953" y="645.6" width="31" height="16" fill="#c6c6c6"/>
<rect x="953" y="668.5" width="61.2" height="16" fill="#c6c6c6"/>
<rect x="953" y="691.5" width="36.9" height="16" fill="#c6c6c6"/>
<rect x="953" y="714.4" width="34.3" height="16" fill="#c6c6c6"/>
<rect x="953" y="737.3" width="62.2" height="16" fill="#c6c6c6"/>
<rect x="953" y="760.2" width="50.2" height="16" fill="#c6c6c6"/>
<rect x="953" y="783.1" width="86.8" height="16" fill="#c6c6c6"/>
<rect x="953" y="806" width="49.5" height="16" fill="#c6c6c6"/>
<rect x="953" y="828.9" width="61.9" height="16" fill="#c6c6c6"/>
<rect x="953" y="851.8" width="54.6" height="16" fill="#c6c6c6"/>
<rect x="953" y="874.8" width="67.9" height="16" fill="#c6c6c6"/>
<rect x="953" y="897.7" width="56.2" height="16" fill="#c6c6c6"/>
<rect x="953" y="920.6" width="85.2" height="16" fill="#c6c6c6"/>
<rect x="953" y="943.5" width="48" height="16" fill="#c6c6c6"/>
<rect x="953" y="966.4" width="45.3" height="16" fill="#c6c6c6"/>
<rect x="953" y="989.3" width="93" height="16" fill="#c6c6c6"/>
<rect x="953" y="1012.2" width="89.8" height="16" fill="#c6c6c6"/>
<rect x="953" y="1035.2" width="101.5" height="16" fill="#c6c6c6"/>
<rect x="953" y="1058.1" width="104.2" height="16" fill="#c6c6c6"/>
<rect x="953" y="1081" width="65" height="16" fill="#c6c6c6"/>
<rect x="953" y="1103.9" width="30.4" height="16" fill="#c6c6c6"/>
<rect x="953" y="1126.8" width="36.4" height="16" fill="#c6c6c6"/>
<rect x="953" y="1149.7" width="33.7" height="16" fill="#c6c6c6"/>
<rect x="953" y="1172.6" width="30.2" height="16" fill="#c6c6c6"/>
<rect x="953" y="1195.6" width="38.3" height="16" fill="#c6c6c6"/>
<rect x="953" y="1218.5" width="44.4" height="16" fill="#c6c6c6"/>
<rect x="953" y="1241.4" width="32" height="16" fill="#c6c6c6"/>
<rect x="953" y="1264.3" width="44.3" height="16" fill="#c6c6c6"/>
<rect x="953" y="1287.2" width="88.6" height="16" fill="#c6c6c6"/>
<rect x="953" y="1310.1" width="122.6" height="16" fill="#c6c6c6"/>
<rect x="953" y="1333" width="112.7" height="16" fill="#c6c6c6"/>
<rect x="953" y="1356" width="73.5" height="16" fill="#c6c6c6"/>
<rect x="953" y="1378.9" width="66" height="16" fill="#c6c6c6"/>
<rect x="953" y="1401.8" width="103.8" height="16" fill="#c6c6c6"/>
<rect x="953" y="1424.7" width="95" height="16" fill="#c6c6c6"/>
<rect x="953" y="1447.6" width="165.1" height="16" fill="#c6c6c6"/>
<rect x="953" y="1470.5" width="161.5" height="16" fill="#c6c6c6"/>
<rect x="953" y="1493.4" width="175.8" height="16" fill="#c6c6c6"/>
<rect x="953" y="1516.4" width="109" height="16" fill="#c6c6c6"/>
<rect x="953" y="1539.3" width="120.2" height="16" fill="#c6c6c6"/>
<rect x="953" y="1562.2" width="115.2" height="16" fill="#c6c6c6"/>
<rect x="953" y="1585.1" width="92.3" height="16" fill="#c6c6c6"/>
<rect x="953" y="1608" width="93.9" height="16" fill="#c6c6c6"/>
<rect x="953" y="1630.9" width="59.2" height="16" fill="#c6c6c6"/>
<rect x="953" y="1653.8" width="81.2" height="16" fill="#c6c6c6"/>
<rect x="953" y="1676.8" width="93.6" height="16" fill="#c6c6c6"/>
<rect x="953" y="1699.7" width="64.5" height="16" fill="#c6c6c6"/>
<rect x="953" y="1722.6" width="107.8" height="16" fill="#c6c6c6"/>
<rect x="953" y="1745.5" width="50.4" height="16" fill="#c6c6c6"/>
<rect x="953" y="1768.4" width="70.5" height="16" fill="#c6c6c6"/>
<rect x="953" y="1791.3" width="59" height="16" fill="#c6c6c6"/>
<rect x="953" y="1814.2" width="103.2" height="16" fill="#c6c6c6"/>
<rect x="953" y="1837.2" width="79.7" height="16" fill="#c6c6c6"/>
<rect x="953" y="1860.1" width="41" height="16" fill="#c6c6c6"/>
<rect x="953" y="1883" width="71.6" height="16" fill="#c6c6c6"/>
<rect x="953" y="1905.9" width="57" height="16" fill="#c6c6c6"/>
<rect x="953" y="1928.8" width="90.8" height="16" fill="#c6c6c6"/>
<rect x="953" y="1951.7" width="59" height="16" fill="#c6c6c6"/>
<rect x="953" y="1974.6" width="54.2" height="16" fill="#c6c6c6"/>
<rect x="953" y="1997.5" width="90.1" height="16" fill="#c6c6c6"/>
<rect x="953" y="2020.5" width="81.3" height="16" fill="#c6c6c6"/>
<rect x="953" y="2043.4" width="36.3" height="16" fill="#c6c6c6"/>
<rect x="953" y="2066.3" width="88.2" height="16" fill="#c6c6c6"/>
<rect x="953" y="2089.2" width="74.4" height="16" fill="#c6c6c6"/>
<rect x="953" y="2112.1" width="86.2" height="16" fill="#c6c6c6"/>
<rect x="953" y="2135" width="74.9" height="16" fill="#c6c6c6"/>
<rect x="953" y="2157.9" width="66.1" height="16" fill="#c6c6c6"/>
<rect x="953" y="2180.9" width="79.8" height="16" fill="#c6c6c6"/>
<rect x="953" y="2203.8" width="66" height="16" fill="#c6c6c6"/>
<rect x="953" y="2226.7" width="123.7" height="16" fill="#c6c6c6"/>
<rect x="953" y="2249.6" width="78.8" height="16" fill="#c6c6c6"/>
<rect x="953" y="2272.5" width="18.1" height="16" fill="#c6c6c6"/>
<rect x="953" y="2295.4" width="48.5" height="16" fill="#c6c6c6"/>
<rect x="953" y="2318.3" width="74.5" height="16" fill="#c6c6c6"/>
<rect x="953" y="2341.3" width="102" height="16" fill="#c6c6c6"/>
<rect x="953" y="2364.2" width="44.4" height="16" fill="#c6c6c6"/>
<rect x="953" y="2387.1" width="57.1" height="16" fill="#c6c6c6"/>
<rect x="953" y="2410" width="67.5" height="16" fill="#c6c6c6"/>
<line x1="1328.5" y1="114.5" x2="1328.5" y2="2428.9" stroke="#c9c9c9" stroke-width="1.7"/>
<line x1="1367.7" y1="114.5" x2="1367.7" y2="2428.9" stroke="#c9c9c9" stroke-width="1.7"/>
<line x1="1289.4" y1="1444.1" x2="1289.4" y2="1810.8" stroke="#c9c9c9" stroke-width="1.7"/>
<line x1="1210" y1="114.5" x2="1210" y2="116.1" stroke="#c9c9c9" stroke-width="1.5"/>
<line x1="1249.6" y1="114.5" x2="1249.6" y2="116.1" stroke="#c9c9c9" stroke-width="1.5"/>
<line x1="1289.4" y1="114.5" x2="1289.4" y2="116.1" stroke="#c9c9c9" stroke-width="1.5"/>
<line x1="1289.4" y1="118.6" x2="1289.4" y2="134.6" stroke="#c9c9c9" stroke-width="1.7"/>
<line x1="1210" y1="137.4" x2="1210" y2="139" stroke="#c9c9c9" stroke-width="1.5"/>
<line x1="1249.6" y1="137.4" x2="1249.6" y2="139" stroke="#c9c9c9" stroke-width="1.5"/>
<line x1="1289.4" y1="137.4" x2="1289.4" y2="139" stroke="#c9c9c9" stroke-width="1.5"/>
<line x1="1289.4" y1="141.5" x2="1289.4" y2="157.5" stroke="#c9c9c9" stroke-width="1.7"/>
<line x1="1210" y1="160.3" x2="1210" y2="161.9" stroke="#c9c9c9" stroke-width="1.5"/>
<line x1="1249.6" y1="160.3" x2="1249.6" y2="161.9" stroke="#c9c9c9" stroke-width="1.5"/>
<line x1="1289.4" y1="160.3" x2="1289.4" y2="161.9" stroke="#c9c9c9" stroke-width="1.5"/>
<line x1="1289.4" y1="164.4" x2="1289.4" y2="180.4" stroke="#c9c9c9" stroke-width="1.7"/>
<line x1="1210" y1="183.2" x2="1210" y2="184.8" stroke="#c9c9c9" stroke-width="1.5"/>
<line x1="1249.6" y1="183.2" x2="1249.6" y2="184.8" stroke="#c9c9c9" stroke-width="1.5"/>
<line x1="1289.4" y1="183.2" x2="1289.4" y2="184.8" stroke="#c9c9c9" stroke-width="1.5"/>
<line x1="1289.4" y1="187.3" x2="1289.4" y2="203.3" stroke="#c9c9c9" stroke-width="1.7"/>
<line x1="1210" y1="206.2" x2="1210" y2="207.8" stroke="#c9c9c9" stroke-width="1.5"/>
<line x1="1249.6" y1="206.2" x2="1249.6" y2="207.8" stroke="#c9c9c9" stroke-width="1.5"/>
<line x1="1289.4" y1="206.2" x2="1289.4" y2="207.8" stroke="#c9c9c9" stroke-width="1.5"/>
<line x1="1289.4" y1="210.3" x2="1289.4" y2="226.3" stroke="#c9c9c9" stroke-width="1.7"/>
<line x1="1210" y1="229.1" x2="1210" y2="230.7" stroke="#c9c9c9" stroke-width="1.5"/>
<line x1="1249.6" y1="229.1" x2="1249.6" y2="230.7" stroke="#c9c9c9" stroke-width="1.5"/>
<line x1="1289.4" y1="229.1" x2="1289.4" y2="230.7" stroke="#c9c9c9" stroke-width="1.5"/>
<line x1="1289.4" y1="233.2" x2="1289.4" y2="249.2" stroke="#c9c9c9" stroke-width="1.7"/>
<line x1="1210" y1="252" x2="1210" y2="253.6" stroke="#c9c9c9" stroke-width="1.5"/>
<line x1="1249.6" y1="252" x2="1249.6" y2="253.6" stroke="#c9c9c9" stroke-width="1.5"/>
<line x1="1289.4" y1="252" x2="1289.4" y2="253.6" stroke="#c9c9c9" stroke-width="1.5"/>
<line x1="1289.4" y1="256.1" x2="1289.4" y2="272.1" stroke="#c9c9c9" stroke-width="1.7"/>
<line x1="1210" y1="274.9" x2="1210" y2="276.5" stroke="#c9c9c9" stroke-width="1.5"/>
<line x1="1249.6" y1="274.9" x2="1249.6" y2="276.5" stroke="#c9c9c9" stroke-width="1.5"/>
<line x1="1289.4" y1="274.9" x2="1289.4" y2="276.5" stroke="#c9c9c9" stroke-width="1.5"/>
<line x1="1289.4" y1="279" x2="1289.4" y2="295" stroke="#c9c9c9" stroke-width="1.7"/>
<line x1="1210" y1="297.8" x2="1210" y2="299.4" stroke="#c9c9c9" stroke-width="1.5"/>
<line x1="1249.6" y1="297.8" x2="1249.6" y2="299.4" stroke="#c9c9c9" stroke-width="1.5"/>
<line x1="1289.4" y1="297.8" x2="1289.4" y2="299.4" stroke="#c9c9c9" stroke-width="1.5"/>
<line x1="1289.4" y1="301.9" x2="1289.4" y2="317.9" stroke="#c9c9c9" stroke-width="1.7"/>
<line x1="1210" y1="320.7" x2="1210" y2="322.3" stroke="#c9c9c9" stroke-width="1.5"/>
<line x1="1249.6" y1="320.7" x2="1249.6" y2="322.3" stroke="#c9c9c9" stroke-width="1.5"/>
<line x1="1289.4" y1="320.7" x2="1289.4" y2="322.3" stroke="#c9c9c9" stroke-width="1.5"/>
<line x1="1289.4" y1="324.8" x2="1289.4" y2="340.8" stroke="#c9c9c9" stroke-width="1.7"/>
<line x1="1210" y1="343.6" x2="1210" y2="345.2" stroke="#c9c9c9" stroke-width="1.5"/>
<line x1="1249.6" y1="343.6" x2="1249.6" y2="345.2" stroke="#c9c9c9" stroke-width="1.5"/>
<line x1="1289.4" y1="343.6" x2="1289.4" y2="345.2" stroke="#c9c9c9" stroke-width="1.5"/>
<line x1="1289.4" y1="347.7" x2="1289.4" y2="363.7" stroke="#c9c9c9" stroke-width="1.7"/>
<line x1="1210" y1="366.6" x2="1210" y2="368.2" stroke="#c9c9c9" stroke-width="1.5"/>
<line x1="1249.6" y1="366.6" x2="1249.6" y2="368.2" stroke="#c9c9c9" stroke-width="1.5"/>
<line x1="1289.4" y1="366.6" x2="1289.4" y2="368.2" stroke="#c9c9c9" stroke-width="1.5"/>
<line x1="1289.4" y1="370.7" x2="1289.4" y2="386.7" stroke="#c9c9c9" stroke-width="1.7"/>
<line x1="1210" y1="389.5" x2="1210" y2="391.1" stroke="#c9c9c9" stroke-width="1.5"/>
<line x1="1249.6" y1="389.5" x2="1249.6" y2="391.1" stroke="#c9c9c9" stroke-width="1.5"/>
<line x1="1289.4" y1="389.5" x2="1289.4" y2="391.1" stroke="#c9c9c9" stroke-width="1.5"/>
<line x1="1289.4" y1="393.6" x2="1289.4" y2="409.6" stroke="#c9c9c9" stroke-width="1.7"/>
<line x1="1210" y1="412.4" x2="1210" y2="414" stroke="#c9c9c9" stroke-width="1.5"/>
<line x1="1249.6" y1="412.4" x2="1249.6" y2="414" stroke="#c9c9c9" stroke-width="1.5"/>
<line x1="1289.4" y1="412.4" x2="1289.4" y2="414" stroke="#c9c9c9" stroke-width="1.5"/>
<line x1="1289.4" y1="416.5" x2="1289.4" y2="432.5" stroke="#c9c9c9" stroke-width="1.7"/>
<line x1="1210" y1="435.3" x2="1210" y2="436.9" stroke="#c9c9c9" stroke-width="1.5"/>
<line x1="1249.6" y1="435.3" x2="1249.6" y2="436.9" stroke="#c9c9c9" stroke-width="1.5"/>
<line x1="1289.4" y1="435.3" x2="1289.4" y2="436.9" stroke="#c9c9c9" stroke-width="1.5"/>
<line x1="1289.4" y1="439.4" x2="1289.4" y2="455.4" stroke="#c9c9c9" stroke-width="1.7"/>
<line x1="1210" y1="458.2" x2="1210" y2="459.8" stroke="#c9c9c9" stroke-width="1.5"/>
<line x1="1249.6" y1="458.2" x2="1249.6" y2="459.8" stroke="#c9c9c9" stroke-width="1.5"/>
<line x1="1289.4" y1="458.2" x2="1289.4" y2="459.8" stroke="#c9c9c9" stroke-width="1.5"/>
<line x1="1289.4" y1="462.3" x2="1289.4" y2="478.3" stroke="#c9c9c9" stroke-width="1.7"/>
<line x1="1210" y1="481.1" x2="1210" y2="482.7" stroke="#c9c9c9" stroke-width="1.5"/>
<line x1="1249.6" y1="481.1" x2="1249.6" y2="482.7" stroke="#c9c9c9" stroke-width="1.5"/>
<line x1="1289.4" y1="481.1" x2="1289.4" y2="482.7" stroke="#c9c9c9" stroke-width="1.5"/>
<line x1="1289.4" y1="485.2" x2="1289.4" y2="501.2" stroke="#c9c9c9" stroke-width="1.7"/>
<line x1="1210" y1="504" x2="1210" y2="505.6" stroke="#c9c9c9" stroke-width="1.5"/>
<line x1="1249.6" y1="504" x2="1249.6" y2="505.6" stroke="#c9c9c9" stroke-width="1.5"/>
<line x1="1289.4" y1="504" x2="1289.4" y2="505.6" stroke="#c9c9c9" stroke-width="1.5"/>
<line x1="1289.4" y1="508.1" x2="1289.4" y2="524.1" stroke="#c9c9c9" stroke-width="1.7"/>
<line x1="1210" y1="527" x2="1210" y2="528.6" stroke="#c9c9c9" stroke-width="1.5"/>
<line x1="1249.6" y1="527" x2="1249.6" y2="528.6" stroke="#c9c9c9" stroke-width="1.5"/>
<line x1="1289.4" y1="527" x2="1289.4" y2="528.6" stroke="#c9c9c9" stroke-width="1.5"/>
<line x1="1289.4" y1="531.1" x2="1289.4" y2="547.1" stroke="#c9c9c9" stroke-width="1.7"/>
<line x1="1210" y1="549.9" x2="1210" y2="551.5" stroke="#c9c9c9" stroke-width="1.5"/>
<line x1="1249.6" y1="549.9" x2="1249.6" y2="551.5" stroke="#c9c9c9" stroke-width="1.5"/>
<line x1="1289.4" y1="549.9" x2="1289.4" y2="551.5" stroke="#c9c9c9" stroke-width="1.5"/>
<line x1="1289.4" y1="554" x2="1289.4" y2="570" stroke="#c9c9c9" stroke-width="1.7"/>
<line x1="1210" y1="572.8" x2="1210" y2="574.4" stroke="#c9c9c9" stroke-width="1.5"/>
<line x1="1249.6" y1="572.8" x2="1249.6" y2="574.4" stroke="#c9c9c9" stroke-width="1.5"/>
<line x1="1289.4" y1="572.8" x2="1289.4" y2="574.4" stroke="#c9c9c9" stroke-width="1.5"/>
<line x1="1289.4" y1="576.9" x2="1289.4" y2="592.9" stroke="#c9c9c9" stroke-width="1.7"/>
<line x1="1210" y1="595.7" x2="1210" y2="597.3" stroke="#c9c9c9" stroke-width="1.5"/>
<line x1="1249.6" y1="595.7" x2="1249.6" y2="597.3" stroke="#c9c9c9" stroke-width="1.5"/>
<line x1="1289.4" y1="595.7" x2="1289.4" y2="597.3" stroke="#c9c9c9" stroke-width="1.5"/>
<line x1="1289.4" y1="599.8" x2="1289.4" y2="615.8" stroke="#c9c9c9" stroke-width="1.7"/>
<line x1="1210" y1="618.6" x2="1210" y2="620.2" stroke="#c9c9c9" stroke-width="1.5"/>
<line x1="1249.6" y1="618.6" x2="1249.6" y2="620.2" stroke="#c9c9c9" stroke-width="1.5"/>
<line x1="1289.4" y1="618.6" x2="1289.4" y2="620.2" stroke="#c9c9c9" stroke-width="1.5"/>
<line x1="1289.4" y1="622.7" x2="1289.4" y2="638.7" stroke="#c9c9c9" stroke-width="1.7"/>
<line x1="1210" y1="641.5" x2="1210" y2="643.1" stroke="#c9c9c9" stroke-width="1.5"/>
<line x1="1249.6" y1="641.5" x2="1249.6" y2="643.1" stroke="#c9c9c9" stroke-width="1.5"/>
<line x1="1289.4" y1="641.5" x2="1289.4" y2="643.1" stroke="#c9c9c9" stroke-width="1.5"/>
<line x1="1289.4" y1="645.6" x2="1289.4" y2="661.6" stroke="#c9c9c9" stroke-width="1.7"/>
<line x1="1210" y1="664.4" x2="1210" y2="666" stroke="#c9c9c9" stroke-width="1.5"/>
<line x1="1249.6" y1="664.4" x2="1249.6" y2="666" stroke="#c9c9c9" stroke-width="1.5"/>
<line x1="1289.4" y1="664.4" x2="1289.4" y2="666" stroke="#c9c9c9" stroke-width="1.5"/>
<line x1="1289.4" y1="668.5" x2="1289.4" y2="684.5" stroke="#c9c9c9" stroke-width="1.7"/>
<line x1="1210" y1="687.4" x2="1210" y2="689" stroke="#c9c9c9" stroke-width="1.5"/>
<line x1="1249.6" y1="687.4" x2="1249.6" y2="689" stroke="#c9c9c9" stroke-width="1.5"/>
<line x1="1289.4" y1="687.4" x2="1289.4" y2="689" stroke="#c9c9c9" stroke-width="1.5"/>
<line x1="1289.4" y1="691.5" x2="1289.4" y2="707.5" stroke="#c9c9c9" stroke-width="1.7"/>
<line x1="1210" y1="710.3" x2="1210" y2="711.9" stroke="#c9c9c9" stroke-width="1.5"/>
<line x1="1249.6" y1="710.3" x2="1249.6" y2="711.9" stroke="#c9c9c9" stroke-width="1.5"/>
<line x1="1289.4" y1="710.3" x2="1289.4" y2="711.9" stroke="#c9c9c9" stroke-width="1.5"/>
<line x1="1289.4" y1="714.4" x2="1289.4" y2="730.4" stroke="#c9c9c9" stroke-width="1.7"/>
<line x1="1210" y1="733.2" x2="1210" y2="734.8" stroke="#c9c9c9" stroke-width="1.5"/>
<line x1="1249.6" y1="733.2" x2="1249.6" y2="734.8" stroke="#c9c9c9" stroke-width="1.5"/>
<line x1="1289.4" y1="733.2" x2="1289.4" y2="734.8" stroke="#c9c9c9" stroke-width="1.5"/>
<line x1="1289.4" y1="737.3" x2="1289.4" y2="753.3" stroke="#c9c9c9" stroke-width="1.7"/>
<line x1="1210" y1="756.1" x2="1210" y2="757.7" stroke="#c9c9c9" stroke-width="1.5"/>
<line x1="1249.6" y1="756.1" x2="1249.6" y2="757.7" stroke="#c9c9c9" stroke-width="1.5"/>
<line x1="1289.4" y1="756.1" x2="1289.4" y2="757.7" stroke="#c9c9c9" stroke-width="1.5"/>
<line x1="1289.4" y1="760.2" x2="1289.4" y2="776.2" stroke="#c9c9c9" stroke-width="1.7"/>
<line x1="1210" y1="779" x2="1210" y2="780.6" stroke="#c9c9c9" stroke-width="1.5"/>
<line x1="1249.6" y1="779" x2="1249.6" y2="780.6" stroke="#c9c9c9" stroke-width="1.5"/>
<line x1="1289.4" y1="779" x2="1289.4" y2="780.6" stroke="#c9c9c9" stroke-width="1.5"/>
<line x1="1289.4" y1="783.1" x2="1289.4" y2="799.1" stroke="#c9c9c9" stroke-width="1.7"/>
<line x1="1210" y1="801.9" x2="1210" y2="803.5" stroke="#c9c9c9" stroke-width="1.5"/>
<line x1="1249.6" y1="801.9" x2="1249.6" y2="803.5" stroke="#c9c9c9" stroke-width="1.5"/>
<line x1="1289.4" y1="801.9" x2="1289.4" y2="803.5" stroke="#c9c9c9" stroke-width="1.5"/>
<line x1="1289.4" y1="806" x2="1289.4" y2="822" stroke="#c9c9c9" stroke-width="1.7"/>
<line x1="1210" y1="824.8" x2="1210" y2="826.4" stroke="#c9c9c9" stroke-width="1.5"/>
<line x1="1249.6" y1="824.8" x2="1249.6" y2="826.4" stroke="#c9c9c9" stroke-width="1.5"/>
<line x1="1289.4" y1="824.8" x2="1289.4" y2="826.4" stroke="#c9c9c9" stroke-width="1.5"/>
<line x1="1289.4" y1="828.9" x2="1289.4" y2="844.9" stroke="#c9c9c9" stroke-width="1.7"/>
<line x1="1210" y1="847.7" x2="1210" y2="849.3" stroke="#c9c9c9" stroke-width="1.5"/>
<line x1="1249.6" y1="847.7" x2="1249.6" y2="849.3" stroke="#c9c9c9" stroke-width="1.5"/>
<line x1="1289.4" y1="847.7" x2="1289.4" y2="849.3" stroke="#c9c9c9" stroke-width="1.5"/>
<line x1="1289.4" y1="851.8" x2="1289.4" y2="867.8" stroke="#c9c9c9" stroke-width="1.7"/>
<line x1="1210" y1="870.7" x2="1210" y2="872.3" stroke="#c9c9c9" stroke-width="1.5"/>
<line x1="1249.6" y1="870.7" x2="1249.6" y2="872.3" stroke="#c9c9c9" stroke-width="1.5"/>
<line x1="1289.4" y1="870.7" x2="1289.4" y2="872.3" stroke="#c9c9c9" stroke-width="1.5"/>
<line x1="1289.4" y1="874.8" x2="1289.4" y2="890.8" stroke="#c9c9c9" stroke-width="1.7"/>
<line x1="1210" y1="893.6" x2="1210" y2="895.2" stroke="#c9c9c9" stroke-width="1.5"/>
<line x1="1249.6" y1="893.6" x2="1249.6" y2="895.2" stroke="#c9c9c9" stroke-width="1.5"/>
<line x1="1289.4" y1="893.6" x2="1289.4" y2="895.2" stroke="#c9c9c9" stroke-width="1.5"/>
<line x1="1289.4" y1="897.7" x2="1289.4" y2="913.7" stroke="#c9c9c9" stroke-width="1.7"/>
<line x1="1210" y1="916.5" x2="1210" y2="918.1" stroke="#c9c9c9" stroke-width="1.5"/>
<line x1="1249.6" y1="916.5" x2="1249.6" y2="918.1" stroke="#c9c9c9" stroke-width="1.5"/>
<line x1="1289.4" y1="916.5" x2="1289.4" y2="918.1" stroke="#c9c9c9" stroke-width="1.5"/>
<line x1="1289.4" y1="920.6" x2="1289.4" y2="936.6" stroke="#c9c9c9" stroke-width="1.7"/>
<line x1="1210" y1="939.4" x2="1210" y2="941" stroke="#c9c9c9" stroke-width="1.5"/>
<line x1="1249.6" y1="939.4" x2="1249.6" y2="941" stroke="#c9c9c9" stroke-width="1.5"/>
<line x1="1289.4" y1="939.4" x2="1289.4" y2="941" stroke="#c9c9c9" stroke-width="1.5"/>
<line x1="1289.4" y1="943.5" x2="1289.4" y2="959.5" stroke="#c9c9c9" stroke-width="1.7"/>
<line x1="1210" y1="962.3" x2="1210" y2="963.9" stroke="#c9c9c9" stroke-width="1.5"/>
<line x1="1249.6" y1="962.3" x2="1249.6" y2="963.9" stroke="#c9c9c9" stroke-width="1.5"/>
<line x1="1289.4" y1="962.3" x2="1289.4" y2="963.9" stroke="#c9c9c9" stroke-width="1.5"/>
<line x1="1289.4" y1="966.4" x2="1289.4" y2="982.4" stroke="#c9c9c9" stroke-width="1.7"/>
<line x1="1210" y1="985.2" x2="1210" y2="986.8" stroke="#c9c9c9" stroke-width="1.5"/>
<line x1="1249.6" y1="985.2" x2="1249.6" y2="986.8" stroke="#c9c9c9" stroke-width="1.5"/>
<line x1="1289.4" y1="985.2" x2="1289.4" y2="986.8" stroke="#c9c9c9" stroke-width="1.5"/>
<line x1="1289.4" y1="989.3" x2="1289.4" y2="1005.3" stroke="#c9c9c9" stroke-width="1.7"/>
<line x1="1210" y1="1008.1" x2="1210" y2="1009.7" stroke="#c9c9c9" stroke-width="1.5"/>
<line x1="1249.6" y1="1008.1" x2="1249.6" y2="1009.7" stroke="#c9c9c9" stroke-width="1.5"/>
<line x1="1289.4" y1="1008.1" x2="1289.4" y2="1009.7" stroke="#c9c9c9" stroke-width="1.5"/>
<line x1="1289.4" y1="1012.2" x2="1289.4" y2="1028.2" stroke="#c9c9c9" stroke-width="1.7"/>
<line x1="1210" y1="1031.1" x2="1210" y2="1032.7" stroke="#c9c9c9" stroke-width="1.5"/>
<line x1="1249.6" y1="1031.1" x2="1249.6" y2="1032.7" stroke="#c9c9c9" stroke-width="1.5"/>
<line x1="1289.4" y1="1031.1" x2="1289.4" y2="1032.7" stroke="#c9c9c9" stroke-width="1.5"/>
<line x1="1289.4" y1="1035.2" x2="1289.4" y2="1051.2" stroke="#c9c9c9" stroke-width="1.7"/>
<line x1="1210" y1="1054" x2="1210" y2="1055.6" stroke="#c9c9c9" stroke-width="1.5"/>
<line x1="1249.6" y1="1054" x2="1249.6" y2="1055.6" stroke="#c9c9c9" stroke-width="1.5"/>
<line x1="1289.4" y1="1054" x2="1289.4" y2="1055.6" stroke="#c9c9c9" stroke-width="1.5"/>
<line x1="1289.4" y1="1058.1" x2="1289.4" y2="1074.1" stroke="#c9c9c9" stroke-width="1.7"/>
<line x1="1210" y1="1076.9" x2="1210" y2="1078.5" stroke="#c9c9c9" stroke-width="1.5"/>
<line x1="1249.6" y1="1076.9" x2="1249.6" y2="1078.5" stroke="#c9c9c9" stroke-width="1.5"/>
<line x1="1289.4" y1="1076.9" x2="1289.4" y2="1078.5" stroke="#c9c9c9" stroke-width="1.5"/>
<line x1="1289.4" y1="1081" x2="1289.4" y2="1097" stroke="#c9c9c9" stroke-width="1.7"/>
<line x1="1210" y1="1099.8" x2="1210" y2="1101.4" stroke="#c9c9c9" stroke-width="1.5"/>
<line x1="1249.6" y1="1099.8" x2="1249.6" y2="1101.4" stroke="#c9c9c9" stroke-width="1.5"/>
<line x1="1289.4" y1="1099.8" x2="1289.4" y2="1101.4" stroke="#c9c9c9" stroke-width="1.5"/>
<line x1="1289.4" y1="1103.9" x2="1289.4" y2="1119.9" stroke="#c9c9c9" stroke-width="1.7"/>
<line x1="1210" y1="1122.7" x2="1210" y2="1124.3" stroke="#c9c9c9" stroke-width="1.5"/>
<line x1="1249.6" y1="1122.7" x2="1249.6" y2="1124.3" stroke="#c9c9c9" stroke-width="1.5"/>
<line x1="1289.4" y1="1122.7" x2="1289.4" y2="1124.3" stroke="#c9c9c9" stroke-width="1.5"/>
<line x1="1289.4" y1="1126.8" x2="1289.4" y2="1142.8" stroke="#c9c9c9" stroke-width="1.7"/>
<line x1="1210" y1="1145.6" x2="1210" y2="1147.2" stroke="#c9c9c9" stroke-width="1.5"/>
<line x1="1249.6" y1="1145.6" x2="1249.6" y2="1147.2" stroke="#c9c9c9" stroke-width="1.5"/>
<line x1="1289.4" y1="1145.6" x2="1289.4" y2="1147.2" stroke="#c9c9c9" stroke-width="1.5"/>
<line x1="1289.4" y1="1149.7" x2="1289.4" y2="1165.7" stroke="#c9c9c9" stroke-width="1.7"/>
<line x1="1210" y1="1168.5" x2="1210" y2="1170.1" stroke="#c9c9c9" stroke-width="1.5"/>
<line x1="1249.6" y1="1168.5" x2="1249.6" y2="1170.1" stroke="#c9c9c9" stroke-width="1.5"/>
<line x1="1289.4" y1="1168.5" x2="1289.4" y2="1170.1" stroke="#c9c9c9" stroke-width="1.5"/>
<line x1="1289.4" y1="1172.6" x2="1289.4" y2="1188.6" stroke="#c9c9c9" stroke-width="1.7"/>
<line x1="1210" y1="1191.5" x2="1210" y2="1193.1" stroke="#c9c9c9" stroke-width="1.5"/>
<line x1="1249.6" y1="1191.5" x2="1249.6" y2="1193.1" stroke="#c9c9c9" stroke-width="1.5"/>
<line x1="1289.4" y1="1191.5" x2="1289.4" y2="1193.1" stroke="#c9c9c9" stroke-width="1.5"/>
<line x1="1289.4" y1="1195.6" x2="1289.4" y2="1211.6" stroke="#c9c9c9" stroke-width="1.7"/>
<line x1="1210" y1="1214.4" x2="1210" y2="1216" stroke="#c9c9c9" stroke-width="1.5"/>
<line x1="1249.6" y1="1214.4" x2="1249.6" y2="1216" stroke="#c9c9c9" stroke-width="1.5"/>
<line x1="1289.4" y1="1214.4" x2="1289.4" y2="1216" stroke="#c9c9c9" stroke-width="1.5"/>
<line x1="1289.4" y1="1218.5" x2="1289.4" y2="1234.5" stroke="#c9c9c9" stroke-width="1.7"/>
<line x1="1210" y1="1237.3" x2="1210" y2="1238.9" stroke="#c9c9c9" stroke-width="1.5"/>
<line x1="1249.6" y1="1237.3" x2="1249.6" y2="1238.9" stroke="#c9c9c9" stroke-width="1.5"/>
<line x1="1289.4" y1="1237.3" x2="1289.4" y2="1238.9" stroke="#c9c9c9" stroke-width="1.5"/>
<line x1="1289.4" y1="1241.4" x2="1289.4" y2="1257.4" stroke="#c9c9c9" stroke-width="1.7"/>
<line x1="1210" y1="1260.2" x2="1210" y2="1261.8" stroke="#c9c9c9" stroke-width="1.5"/>
<line x1="1249.6" y1="1260.2" x2="1249.6" y2="1261.8" stroke="#c9c9c9" stroke-width="1.5"/>
<line x1="1289.4" y1="1260.2" x2="1289.4" y2="1261.8" stroke="#c9c9c9" stroke-width="1.5"/>
<line x1="1289.4" y1="1264.3" x2="1289.4" y2="1280.3" stroke="#c9c9c9" stroke-width="1.7"/>
<line x1="1210" y1="1283.1" x2="1210" y2="1284.7" stroke="#c9c9c9" stroke-width="1.5"/>
<line x1="1249.6" y1="1283.1" x2="1249.6" y2="1284.7" stroke="#c9c9c9" stroke-width="1.5"/>
<line x1="1289.4" y1="1283.1" x2="1289.4" y2="1284.7" stroke="#c9c9c9" stroke-width="1.5"/>
<line x1="1289.4" y1="1287.2" x2="1289.4" y2="1303.2" stroke="#c9c9c9" stroke-width="1.7"/>
<line x1="1210" y1="1306" x2="1210" y2="1307.6" stroke="#c9c9c9" stroke-width="1.5"/>
<line x1="1249.6" y1="1306" x2="1249.6" y2="1307.6" stroke="#c9c9c9" stroke-width="1.5"/>
<line x1="1289.4" y1="1306" x2="1289.4" y2="1307.6" stroke="#c9c9c9" stroke-width="1.5"/>
<line x1="1289.4" y1="1310.1" x2="1289.4" y2="1326.1" stroke="#c9c9c9" stroke-width="1.7"/>
<line x1="1210" y1="1328.9" x2="1210" y2="1330.5" stroke="#c9c9c9" stroke-width="1.5"/>
<line x1="1249.6" y1="1328.9" x2="1249.6" y2="1330.5" stroke="#c9c9c9" stroke-width="1.5"/>
<line x1="1289.4" y1="1328.9" x2="1289.4" y2="1330.5" stroke="#c9c9c9" stroke-width="1.5"/>
<line x1="1289.4" y1="1333" x2="1289.4" y2="1349" stroke="#c9c9c9" stroke-width="1.7"/>
<line x1="1210" y1="1351.9" x2="1210" y2="1353.5" stroke="#c9c9c9" stroke-width="1.5"/>
<line x1="1249.6" y1="1351.9" x2="1249.6" y2="1353.5" stroke="#c9c9c9" stroke-width="1.5"/>
<line x1="1289.4" y1="1351.9" x2="1289.4" y2="1353.5" stroke="#c9c9c9" stroke-width="1.5"/>
<line x1="1289.4" y1="1356" x2="1289.4" y2="1372" stroke="#c9c9c9" stroke-width="1.7"/>
<line x1="1210" y1="1374.8" x2="1210" y2="1376.4" stroke="#c9c9c9" stroke-width="1.5"/>
<line x1="1249.6" y1="1374.8" x2="1249.6" y2="1376.4" stroke="#c9c9c9" stroke-width="1.5"/>
<line x1="1289.4" y1="1374.8" x2="1289.4" y2="1376.4" stroke="#c9c9c9" stroke-width="1.5"/>
<line x1="1289.4" y1="1378.9" x2="1289.4" y2="1394.9" stroke="#c9c9c9" stroke-width="1.7"/>
<line x1="1210" y1="1397.7" x2="1210" y2="1399.3" stroke="#c9c9c9" stroke-width="1.5"/>
<line x1="1249.6" y1="1397.7" x2="1249.6" y2="1399.3" stroke="#c9c9c9" stroke-width="1.5"/>
<line x1="1289.4" y1="1397.7" x2="1289.4" y2="1399.3" stroke="#c9c9c9" stroke-width="1.5"/>
<line x1="1289.4" y1="1401.8" x2="1289.4" y2="1417.8" stroke="#c9c9c9" stroke-width="1.7"/>
<line x1="1210" y1="1420.6" x2="1210" y2="1422.2" stroke="#c9c9c9" stroke-width="1.5"/>
<line x1="1249.6" y1="1420.6" x2="1249.6" y2="1422.2" stroke="#c9c9c9" stroke-width="1.5"/>
<line x1="1289.4" y1="1420.6" x2="1289.4" y2="1422.2" stroke="#c9c9c9" stroke-width="1.5"/>
<line x1="1289.4" y1="1424.7" x2="1289.4" y2="1440.7" stroke="#c9c9c9" stroke-width="1.7"/>
<line x1="1210" y1="1443.5" x2="1210" y2="1445.1" stroke="#c9c9c9" stroke-width="1.5"/>
<line x1="1249.6" y1="1443.5" x2="1249.6" y2="1445.1" stroke="#c9c9c9" stroke-width="1.5"/>
<line x1="1289.4" y1="1443.5" x2="1289.4" y2="1445.1" stroke="#c9c9c9" stroke-width="1.5"/>
<line x1="1289.4" y1="1447.6" x2="1289.4" y2="1463.6" stroke="#c9c9c9" stroke-width="1.7"/>
<line x1="1210" y1="1466.4" x2="1210" y2="1468" stroke="#c9c9c9" stroke-width="1.5"/>
<line x1="1249.6" y1="1466.4" x2="1249.6" y2="1468" stroke="#c9c9c9" stroke-width="1.5"/>
<line x1="1289.4" y1="1466.4" x2="1289.4" y2="1468" stroke="#c9c9c9" stroke-width="1.5"/>
<line x1="1289.4" y1="1470.5" x2="1289.4" y2="1486.5" stroke="#c9c9c9" stroke-width="1.7"/>
<line x1="1210" y1="1489.3" x2="1210" y2="1490.9" stroke="#c9c9c9" stroke-width="1.5"/>
<line x1="1249.6" y1="1489.3" x2="1249.6" y2="1490.9" stroke="#c9c9c9" stroke-width="1.5"/>
<line x1="1289.4" y1="1489.3" x2="1289.4" y2="1490.9" stroke="#c9c9c9" stroke-width="1.5"/>
<line x1="1289.4" y1="1493.4" x2="1289.4" y2="1509.4" stroke="#c9c9c9" stroke-width="1.7"/>
<line x1="1210" y1="1512.3" x2="1210" y2="1513.9" stroke="#c9c9c9" stroke-width="1.5"/>
<line x1="1249.6" y1="1512.3" x2="1249.6" y2="1513.9" stroke="#c9c9c9" stroke-width="1.5"/>
<line x1="1289.4" y1="1512.3" x2="1289.4" y2="1513.9" stroke="#c9c9c9" stroke-width="1.5"/>
<line x1="1289.4" y1="1516.4" x2="1289.4" y2="1532.4" stroke="#c9c9c9" stroke-width="1.7"/>
<line x1="1210" y1="1535.2" x2="1210" y2="1536.8" stroke="#c9c9c9" stroke-width="1.5"/>
<line x1="1249.6" y1="1535.2" x2="1249.6" y2="1536.8" stroke="#c9c9c9" stroke-width="1.5"/>
<line x1="1289.4" y1="1535.2" x2="1289.4" y2="1536.8" stroke="#c9c9c9" stroke-width="1.5"/>
<line x1="1289.4" y1="1539.3" x2="1289.4" y2="1555.3" stroke="#c9c9c9" stroke-width="1.7"/>
<line x1="1210" y1="1558.1" x2="1210" y2="1559.7" stroke="#c9c9c9" stroke-width="1.5"/>
<line x1="1249.6" y1="1558.1" x2="1249.6" y2="1559.7" stroke="#c9c9c9" stroke-width="1.5"/>
<line x1="1289.4" y1="1558.1" x2="1289.4" y2="1559.7" stroke="#c9c9c9" stroke-width="1.5"/>
<line x1="1289.4" y1="1562.2" x2="1289.4" y2="1578.2" stroke="#c9c9c9" stroke-width="1.7"/>
<line x1="1210" y1="1581" x2="1210" y2="1582.6" stroke="#c9c9c9" stroke-width="1.5"/>
<line x1="1249.6" y1="1581" x2="1249.6" y2="1582.6" stroke="#c9c9c9" stroke-width="1.5"/>
<line x1="1289.4" y1="1581" x2="1289.4" y2="1582.6" stroke="#c9c9c9" stroke-width="1.5"/>
<line x1="1289.4" y1="1585.1" x2="1289.4" y2="1601.1" stroke="#c9c9c9" stroke-width="1.7"/>
<line x1="1210" y1="1603.9" x2="1210" y2="1605.5" stroke="#c9c9c9" stroke-width="1.5"/>
<line x1="1249.6" y1="1603.9" x2="1249.6" y2="1605.5" stroke="#c9c9c9" stroke-width="1.5"/>
<line x1="1289.4" y1="1603.9" x2="1289.4" y2="1605.5" stroke="#c9c9c9" stroke-width="1.5"/>
<line x1="1289.4" y1="1608" x2="1289.4" y2="1624" stroke="#c9c9c9" stroke-width="1.7"/>
<line x1="1210" y1="1626.8" x2="1210" y2="1628.4" stroke="#c9c9c9" stroke-width="1.5"/>
<line x1="1249.6" y1="1626.8" x2="1249.6" y2="1628.4" stroke="#c9c9c9" stroke-width="1.5"/>
<line x1="1289.4" y1="1626.8" x2="1289.4" y2="1628.4" stroke="#c9c9c9" stroke-width="1.5"/>
<line x1="1289.4" y1="1630.9" x2="1289.4" y2="1646.9" stroke="#c9c9c9" stroke-width="1.7"/>
<line x1="1210" y1="1649.7" x2="1210" y2="1651.3" stroke="#c9c9c9" stroke-width="1.5"/>
<line x1="1249.6" y1="1649.7" x2="1249.6" y2="1651.3" stroke="#c9c9c9" stroke-width="1.5"/>
<line x1="1289.4" y1="1649.7" x2="1289.4" y2="1651.3" stroke="#c9c9c9" stroke-width="1.5"/>
<line x1="1289.4" y1="1653.8" x2="1289.4" y2="1669.8" stroke="#c9c9c9" stroke-width="1.7"/>
<line x1="1210" y1="1672.7" x2="1210" y2="1674.3" stroke="#c9c9c9" stroke-width="1.5"/>
<line x1="1249.6" y1="1672.7" x2="1249.6" y2="1674.3" stroke="#c9c9c9" stroke-width="1.5"/>
<line x1="1289.4" y1="1672.7" x2="1289.4" y2="1674.3" stroke="#c9c9c9" stroke-width="1.5"/>
<line x1="1289.4" y1="1676.8" x2="1289.4" y2="1692.8" stroke="#c9c9c9" stroke-width="1.7"/>
<line x1="1210" y1="1695.6" x2="1210" y2="1697.2" stroke="#c9c9c9" stroke-width="1.5"/>
<line x1="1249.6" y1="1695.6" x2="1249.6" y2="1697.2" stroke="#c9c9c9" stroke-width="1.5"/>
<line x1="1289.4" y1="1695.6" x2="1289.4" y2="1697.2" stroke="#c9c9c9" stroke-width="1.5"/>
<line x1="1289.4" y1="1699.7" x2="1289.4" y2="1715.7" stroke="#c9c9c9" stroke-width="1.7"/>
<line x1="1210" y1="1718.5" x2="1210" y2="1720.1" stroke="#c9c9c9" stroke-width="1.5"/>
<line x1="1249.6" y1="1718.5" x2="1249.6" y2="1720.1" stroke="#c9c9c9" stroke-width="1.5"/>
<line x1="1289.4" y1="1718.5" x2="1289.4" y2="1720.1" stroke="#c9c9c9" stroke-width="1.5"/>
<line x1="1289.4" y1="1722.6" x2="1289.4" y2="1738.6" stroke="#c9c9c9" stroke-width="1.7"/>
<line x1="1210" y1="1741.4" x2="1210" y2="1743" stroke="#c9c9c9" stroke-width="1.5"/>
<line x1="1249.6" y1="1741.4" x2="1249.6" y2="1743" stroke="#c9c9c9" stroke-width="1.5"/>
<line x1="1289.4" y1="1741.4" x2="1289.4" y2="1743" stroke="#c9c9c9" stroke-width="1.5"/>
<line x1="1289.4" y1="1745.5" x2="1289.4" y2="1761.5" stroke="#c9c9c9" stroke-width="1.7"/>
<line x1="1210" y1="1764.3" x2="1210" y2="1765.9" stroke="#c9c9c9" stroke-width="1.5"/>
<line x1="1249.6" y1="1764.3" x2="1249.6" y2="1765.9" stroke="#c9c9c9" stroke-width="1.5"/>
<line x1="1289.4" y1="1764.3" x2="1289.4" y2="1765.9" stroke="#c9c9c9" stroke-width="1.5"/>
<line x1="1289.4" y1="1768.4" x2="1289.4" y2="1784.4" stroke="#c9c9c9" stroke-width="1.7"/>
<line x1="1210" y1="1787.2" x2="1210" y2="1788.8" stroke="#c9c9c9" stroke-width="1.5"/>
<line x1="1249.6" y1="1787.2" x2="1249.6" y2="1788.8" stroke="#c9c9c9" stroke-width="1.5"/>
<line x1="1289.4" y1="1787.2" x2="1289.4" y2="1788.8" stroke="#c9c9c9" stroke-width="1.5"/>
<line x1="1289.4" y1="1791.3" x2="1289.4" y2="1807.3" stroke="#c9c9c9" stroke-width="1.7"/>
<line x1="1210" y1="1810.1" x2="1210" y2="1811.7" stroke="#c9c9c9" stroke-width="1.5"/>
<line x1="1249.6" y1="1810.1" x2="1249.6" y2="1811.7" stroke="#c9c9c9" stroke-width="1.5"/>
<line x1="1289.4" y1="1810.1" x2="1289.4" y2="1811.7" stroke="#c9c9c9" stroke-width="1.5"/>
<line x1="1289.4" y1="1814.2" x2="1289.4" y2="1830.2" stroke="#c9c9c9" stroke-width="1.7"/>
<line x1="1210" y1="1833.1" x2="1210" y2="1834.7" stroke="#c9c9c9" stroke-width="1.5"/>
<line x1="1249.6" y1="1833.1" x2="1249.6" y2="1834.7" stroke="#c9c9c9" stroke-width="1.5"/>
<line x1="1289.4" y1="1833.1" x2="1289.4" y2="1834.7" stroke="#c9c9c9" stroke-width="1.5"/>
<line x1="1289.4" y1="1837.2" x2="1289.4" y2="1853.2" stroke="#c9c9c9" stroke-width="1.7"/>
<line x1="1210" y1="1856" x2="1210" y2="1857.6" stroke="#c9c9c9" stroke-width="1.5"/>
<line x1="1249.6" y1="1856" x2="1249.6" y2="1857.6" stroke="#c9c9c9" stroke-width="1.5"/>
<line x1="1289.4" y1="1856" x2="1289.4" y2="1857.6" stroke="#c9c9c9" stroke-width="1.5"/>
<line x1="1289.4" y1="1860.1" x2="1289.4" y2="1876.1" stroke="#c9c9c9" stroke-width="1.7"/>
<line x1="1210" y1="1878.9" x2="1210" y2="1880.5" stroke="#c9c9c9" stroke-width="1.5"/>
<line x1="1249.6" y1="1878.9" x2="1249.6" y2="1880.5" stroke="#c9c9c9" stroke-width="1.5"/>
<line x1="1289.4" y1="1878.9" x2="1289.4" y2="1880.5" stroke="#c9c9c9" stroke-width="1.5"/>
<line x1="1289.4" y1="1883" x2="1289.4" y2="1899" stroke="#c9c9c9" stroke-width="1.7"/>
<line x1="1210" y1="1901.8" x2="1210" y2="1903.4" stroke="#c9c9c9" stroke-width="1.5"/>
<line x1="1249.6" y1="1901.8" x2="1249.6" y2="1903.4" stroke="#c9c9c9" stroke-width="1.5"/>
<line x1="1289.4" y1="1901.8" x2="1289.4" y2="1903.4" stroke="#c9c9c9" stroke-width="1.5"/>
<line x1="1289.4" y1="1905.9" x2="1289.4" y2="1921.9" stroke="#c9c9c9" stroke-width="1.7"/>
<line x1="1210" y1="1924.7" x2="1210" y2="1926.3" stroke="#c9c9c9" stroke-width="1.5"/>
<line x1="1249.6" y1="1924.7" x2="1249.6" y2="1926.3" stroke="#c9c9c9" stroke-width="1.5"/>
<line x1="1289.4" y1="1924.7" x2="1289.4" y2="1926.3" stroke="#c9c9c9" stroke-width="1.5"/>
<line x1="1289.4" y1="1928.8" x2="1289.4" y2="1944.8" stroke="#c9c9c9" stroke-width="1.7"/>
<line x1="1210" y1="1947.6" x2="1210" y2="1949.2" stroke="#c9c9c9" stroke-width="1.5"/>
<line x1="1249.6" y1="1947.6" x2="1249.6" y2="1949.2" stroke="#c9c9c9" stroke-width="1.5"/>
<line x1="1289.4" y1="1947.6" x2="1289.4" y2="1949.2" stroke="#c9c9c9" stroke-width="1.5"/>
<line x1="1289.4" y1="1951.7" x2="1289.4" y2="1967.7" stroke="#c9c9c9" stroke-width="1.7"/>
<line x1="1210" y1="1970.5" x2="1210" y2="1972.1" stroke="#c9c9c9" stroke-width="1.5"/>
<line x1="1249.6" y1="1970.5" x2="1249.6" y2="1972.1" stroke="#c9c9c9" stroke-width="1.5"/>
<line x1="1289.4" y1="1970.5" x2="1289.4" y2="1972.1" stroke="#c9c9c9" stroke-width="1.5"/>
<line x1="1289.4" y1="1974.6" x2="1289.4" y2="1990.6" stroke="#c9c9c9" stroke-width="1.7"/>
<line x1="1210" y1="1993.4" x2="1210" y2="1995" stroke="#c9c9c9" stroke-width="1.5"/>
<line x1="1249.6" y1="1993.4" x2="1249.6" y2="1995" stroke="#c9c9c9" stroke-width="1.5"/>
<line x1="1289.4" y1="1993.4" x2="1289.4" y2="1995" stroke="#c9c9c9" stroke-width="1.5"/>
<line x1="1289.4" y1="1997.5" x2="1289.4" y2="2013.5" stroke="#c9c9c9" stroke-width="1.7"/>
<line x1="1210" y1="2016.4" x2="1210" y2="2018" stroke="#c9c9c9" stroke-width="1.5"/>
<line x1="1249.6" y1="2016.4" x2="1249.6" y2="2018" stroke="#c9c9c9" stroke-width="1.5"/>
<line x1="1289.4" y1="2016.4" x2="1289.4" y2="2018" stroke="#c9c9c9" stroke-width="1.5"/>
<line x1="1289.4" y1="2020.5" x2="1289.4" y2="2036.5" stroke="#c9c9c9" stroke-width="1.7"/>
<line x1="1210" y1="2039.3" x2="1210" y2="2040.9" stroke="#c9c9c9" stroke-width="1.5"/>
<line x1="1249.6" y1="2039.3" x2="1249.6" y2="2040.9" stroke="#c9c9c9" stroke-width="1.5"/>
<line x1="1289.4" y1="2039.3" x2="1289.4" y2="2040.9" stroke="#c9c9c9" stroke-width="1.5"/>
<line x1="1289.4" y1="2043.4" x2="1289.4" y2="2059.4" stroke="#c9c9c9" stroke-width="1.7"/>
<line x1="1210" y1="2062.2" x2="1210" y2="2063.8" stroke="#c9c9c9" stroke-width="1.5"/>
<line x1="1249.6" y1="2062.2" x2="1249.6" y2="2063.8" stroke="#c9c9c9" stroke-width="1.5"/>
<line x1="1289.4" y1="2062.2" x2="1289.4" y2="2063.8" stroke="#c9c9c9" stroke-width="1.5"/>
<line x1="1289.4" y1="2066.3" x2="1289.4" y2="2082.3" stroke="#c9c9c9" stroke-width="1.7"/>
<line x1="1210" y1="2085.1" x2="1210" y2="2086.7" stroke="#c9c9c9" stroke-width="1.5"/>
<line x1="1249.6" y1="2085.1" x2="1249.6" y2="2086.7" stroke="#c9c9c9" stroke-width="1.5"/>
<line x1="1289.4" y1="2085.1" x2="1289.4" y2="2086.7" stroke="#c9c9c9" stroke-width="1.5"/>
<line x1="1289.4" y1="2089.2" x2="1289.4" y2="2105.2" stroke="#c9c9c9" stroke-width="1.7"/>
<line x1="1210" y1="2108" x2="1210" y2="2109.6" stroke="#c9c9c9" stroke-width="1.5"/>
<line x1="1249.6" y1="2108" x2="1249.6" y2="2109.6" stroke="#c9c9c9" stroke-width="1.5"/>
<line x1="1289.4" y1="2108" x2="1289.4" y2="2109.6" stroke="#c9c9c9" stroke-width="1.5"/>
<line x1="1289.4" y1="2112.1" x2="1289.4" y2="2128.1" stroke="#c9c9c9" stroke-width="1.7"/>
<line x1="1210" y1="2130.9" x2="1210" y2="2132.5" stroke="#c9c9c9" stroke-width="1.5"/>
<line x1="1249.6" y1="2130.9" x2="1249.6" y2="2132.5" stroke="#c9c9c9" stroke-width="1.5"/>
<line x1="1289.4" y1="2130.9" x2="1289.4" y2="2132.5" stroke="#c9c9c9" stroke-width="1.5"/>
<line x1="1289.4" y1="2135" x2="1289.4" y2="2151" stroke="#c9c9c9" stroke-width="1.7"/>
<line x1="1210" y1="2153.8" x2="1210" y2="2155.4" stroke="#c9c9c9" stroke-width="1.5"/>
<line x1="1249.6" y1="2153.8" x2="1249.6" y2="2155.4" stroke="#c9c9c9" stroke-width="1.5"/>
<line x1="1289.4" y1="2153.8" x2="1289.4" y2="2155.4" stroke="#c9c9c9" stroke-width="1.5"/>
<line x1="1289.4" y1="2157.9" x2="1289.4" y2="2173.9" stroke="#c9c9c9" stroke-width="1.7"/>
<line x1="1210" y1="2176.8" x2="1210" y2="2178.4" stroke="#c9c9c9" stroke-width="1.5"/>
<line x1="1249.6" y1="2176.8" x2="1249.6" y2="2178.4" stroke="#c9c9c9" stroke-width="1.5"/>
<line x1="1289.4" y1="2176.8" x2="1289.4" y2="2178.4" stroke="#c9c9c9" stroke-width="1.5"/>
<line x1="1289.4" y1="2180.9" x2="1289.4" y2="2196.9" stroke="#c9c9c9" stroke-width="1.7"/>
<line x1="1210" y1="2199.7" x2="1210" y2="2201.3" stroke="#c9c9c9" stroke-width="1.5"/>
<line x1="1249.6" y1="2199.7" x2="1249.6" y2="2201.3" stroke="#c9c9c9" stroke-width="1.5"/>
<line x1="1289.4" y1="2199.7" x2="1289.4" y2="2201.3" stroke="#c9c9c9" stroke-width="1.5"/>
<line x1="1289.4" y1="2203.8" x2="1289.4" y2="2219.8" stroke="#c9c9c9" stroke-width="1.7"/>
<line x1="1210" y1="2222.6" x2="1210" y2="2224.2" stroke="#c9c9c9" stroke-width="1.5"/>
<line x1="1249.6" y1="2222.6" x2="1249.6" y2="2224.2" stroke="#c9c9c9" stroke-width="1.5"/>
<line x1="1289.4" y1="2222.6" x2="1289.4" y2="2224.2" stroke="#c9c9c9" stroke-width="1.5"/>
<line x1="1289.4" y1="2226.7" x2="1289.4" y2="2242.7" stroke="#c9c9c9" stroke-width="1.7"/>
<line x1="1210" y1="2245.5" x2="1210" y2="2247.1" stroke="#c9c9c9" stroke-width="1.5"/>
<line x1="1249.6" y1="2245.5" x2="1249.6" y2="2247.1" stroke="#c9c9c9" stroke-width="1.5"/>
<line x1="1289.4" y1="2245.5" x2="1289.4" y2="2247.1" stroke="#c9c9c9" stroke-width="1.5"/>
<line x1="1289.4" y1="2249.6" x2="1289.4" y2="2265.6" stroke="#c9c9c9" stroke-width="1.7"/>
<line x1="1210" y1="2268.4" x2="1210" y2="2270" stroke="#c9c9c9" stroke-width="1.5"/>
<line x1="1249.6" y1="2268.4" x2="1249.6" y2="2270" stroke="#c9c9c9" stroke-width="1.5"/>
<line x1="1289.4" y1="2268.4" x2="1289.4" y2="2270" stroke="#c9c9c9" stroke-width="1.5"/>
<line x1="1289.4" y1="2272.5" x2="1289.4" y2="2288.5" stroke="#c9c9c9" stroke-width="1.7"/>
<line x1="1210" y1="2291.3" x2="1210" y2="2292.9" stroke="#c9c9c9" stroke-width="1.5"/>
<line x1="1249.6" y1="2291.3" x2="1249.6" y2="2292.9" stroke="#c9c9c9" stroke-width="1.5"/>
<line x1="1289.4" y1="2291.3" x2="1289.4" y2="2292.9" stroke="#c9c9c9" stroke-width="1.5"/>
<line x1="1289.4" y1="2295.4" x2="1289.4" y2="2311.4" stroke="#c9c9c9" stroke-width="1.7"/>
<line x1="1210" y1="2314.2" x2="1210" y2="2315.8" stroke="#c9c9c9" stroke-width="1.5"/>
<line x1="1249.6" y1="2314.2" x2="1249.6" y2="2315.8" stroke="#c9c9c9" stroke-width="1.5"/>
<line x1="1289.4" y1="2314.2" x2="1289.4" y2="2315.8" stroke="#c9c9c9" stroke-width="1.5"/>
<line x1="1289.4" y1="2318.3" x2="1289.4" y2="2334.3" stroke="#c9c9c9" stroke-width="1.7"/>
<line x1="1210" y1="2337.2" x2="1210" y2="2338.8" stroke="#c9c9c9" stroke-width="1.5"/>
<line x1="1249.6" y1="2337.2" x2="1249.6" y2="2338.8" stroke="#c9c9c9" stroke-width="1.5"/>
<line x1="1289.4" y1="2337.2" x2="1289.4" y2="2338.8" stroke="#c9c9c9" stroke-width="1.5"/>
<line x1="1289.4" y1="2341.3" x2="1289.4" y2="2357.3" stroke="#c9c9c9" stroke-width="1.7"/>
<line x1="1210" y1="2360.1" x2="1210" y2="2361.7" stroke="#c9c9c9" stroke-width="1.5"/>
<line x1="1249.6" y1="2360.1" x2="1249.6" y2="2361.7" stroke="#c9c9c9" stroke-width="1.5"/>
<line x1="1289.4" y1="2360.1" x2="1289.4" y2="2361.7" stroke="#c9c9c9" stroke-width="1.5"/>
<line x1="1289.4" y1="2364.2" x2="1289.4" y2="2380.2" stroke="#c9c9c9" stroke-width="1.7"/>
<line x1="1210" y1="2383" x2="1210" y2="2384.6" stroke="#c9c9c9" stroke-width="1.5"/>
<line x1="1249.6" y1="2383" x2="1249.6" y2="2384.6" stroke="#c9c9c9" stroke-width="1.5"/>
<line x1="1289.4" y1="2383" x2="1289.4" y2="2384.6" stroke="#c9c9c9" stroke-width="1.5"/>
<line x1="1289.4" y1="2387.1" x2="1289.4" y2="2403.1" stroke="#c9c9c9" stroke-width="1.7"/>
<line x1="1210" y1="2405.9" x2="1210" y2="2407.5" stroke="#c9c9c9" stroke-width="1.5"/>
<line x1="1249.6" y1="2405.9" x2="1249.6" y2="2407.5" stroke="#c9c9c9" stroke-width="1.5"/>
<line x1="1289.4" y1="2405.9" x2="1289.4" y2="2407.5" stroke="#c9c9c9" stroke-width="1.5"/>
<line x1="1289.4" y1="2410" x2="1289.4" y2="2426" stroke="#c9c9c9" stroke-width="1.7"/>
<rect x="1170.5" y="118.6" width="152.1" height="16" fill="#c6c6c6"/>
<rect x="1170.5" y="141.5" width="157.1" height="16" fill="#c6c6c6"/>
<rect x="1170.5" y="164.4" width="162.8" height="16" fill="#c6c6c6"/>
<rect x="1170.5" y="187.3" width="164.1" height="16" fill="#c6c6c6"/>
<rect x="1170.5" y="210.3" width="146.6" height="16" fill="#c6c6c6"/>
<rect x="1170.5" y="233.2" width="153.5" height="16" fill="#c6c6c6"/>
<rect x="1170.5" y="256.1" width="139" height="16" fill="#c6c6c6"/>
<rect x="1170.5" y="279" width="154" height="16" fill="#c6c6c6"/>
<rect x="1170.5" y="301.9" width="162.6" height="16" fill="#c6c6c6"/>
<rect x="1170.5" y="324.8" width="159.1" height="16" fill="#c6c6c6"/>
<rect x="1170.5" y="347.7" width="162.7" height="16" fill="#c6c6c6"/>
<rect x="1170.5" y="370.7" width="155.1" height="16" fill="#c6c6c6"/>
<rect x="1170.5" y="393.6" width="150.5" height="16" fill="#c6c6c6"/>
<rect x="1170.5" y="416.5" width="154.6" height="16" fill="#c6c6c6"/>
<rect x="1170.5" y="439.4" width="152.2" height="16" fill="#c6c6c6"/>
<rect x="1170.5" y="462.3" width="151.7" height="16" fill="#c6c6c6"/>
<rect x="1170.5" y="485.2" width="152.5" height="16" fill="#c6c6c6"/>
<rect x="1170.5" y="508.1" width="154.5" height="16" fill="#c6c6c6"/>
<rect x="1170.5" y="531.1" width="152.8" height="16" fill="#c6c6c6"/>
<rect x="1170.5" y="554" width="156.1" height="16" fill="#c6c6c6"/>
<rect x="1170.5" y="576.9" width="148.7" height="16" fill="#c6c6c6"/>
<rect x="1170.5" y="599.8" width="153.4" height="16" fill="#c6c6c6"/>
<rect x="1170.5" y="622.7" width="162.4" height="16" fill="#c6c6c6"/>
<rect x="1170.5" y="645.6" width="146" height="16" fill="#c6c6c6"/>
<rect x="1170.5" y="668.5" width="154.8" height="16" fill="#c6c6c6"/>
<rect x="1170.5" y="691.5" width="152.3" height="16" fill="#c6c6c6"/>
<rect x="1170.5" y="714.4" width="157.3" height="16" fill="#c6c6c6"/>
<rect x="1170.5" y="737.3" width="151.8" height="16" fill="#c6c6c6"/>
<rect x="1170.5" y="760.2" width="153.1" height="16" fill="#c6c6c6"/>
<rect x="1170.5" y="783.1" width="149.1" height="16" fill="#c6c6c6"/>
<rect x="1170.5" y="806" width="150.7" height="16" fill="#c6c6c6"/>
<rect x="1170.5" y="828.9" width="159.3" height="16" fill="#c6c6c6"/>
<rect x="1170.5" y="851.8" width="162" height="16" fill="#c6c6c6"/>
<rect x="1170.5" y="874.8" width="163.1" height="16" fill="#c6c6c6"/>
<rect x="1170.5" y="897.7" width="155.4" height="16" fill="#c6c6c6"/>
<rect x="1170.5" y="920.6" width="166.7" height="16" fill="#c6c6c6"/>
<rect x="1170.5" y="943.5" width="158.1" height="16" fill="#c6c6c6"/>
<rect x="1170.5" y="966.4" width="139.4" height="16" fill="#c6c6c6"/>
<rect x="1170.5" y="989.3" width="165.5" height="16" fill="#c6c6c6"/>
<rect x="1170.5" y="1012.2" width="159.1" height="16" fill="#c6c6c6"/>
<rect x="1170.5" y="1035.2" width="159.3" height="16" fill="#c6c6c6"/>
<rect x="1170.5" y="1058.1" width="168.1" height="16" fill="#c6c6c6"/>
<rect x="1170.5" y="1081" width="142.8" height="16" fill="#c6c6c6"/>
<rect x="1170.5" y="1103.9" width="150" height="16" fill="#c6c6c6"/>
<rect x="1170.5" y="1126.8" width="154.7" height="16" fill="#c6c6c6"/>
<rect x="1170.5" y="1149.7" width="147.8" height="16" fill="#c6c6c6"/>
<rect x="1170.5" y="1172.6" width="157.4" height="16" fill="#c6c6c6"/>
<rect x="1170.5" y="1195.6" width="145.3" height="16" fill="#c6c6c6"/>
<rect x="1170.5" y="1218.5" width="145" height="16" fill="#c6c6c6"/>
<rect x="1170.5" y="1241.4" width="157.2" height="16" fill="#c6c6c6"/>
<rect x="1170.5" y="1264.3" width="153.1" height="16" fill="#c6c6c6"/>
<rect x="1170.5" y="1287.2" width="165.3" height="16" fill="#c6c6c6"/>
<rect x="1170.5" y="1310.1" width="163" height="16" fill="#c6c6c6"/>
<rect x="1170.5" y="1333" width="159" height="16" fill="#c6c6c6"/>
<rect x="1170.5" y="1356" width="156.2" height="16" fill="#c6c6c6"/>
<rect x="1170.5" y="1378.9" width="158.7" height="16" fill="#c6c6c6"/>
<rect x="1170.5" y="1401.8" width="140.8" height="16" fill="#c6c6c6"/>
<rect x="1170.5" y="1424.7" width="148.1" height="16" fill="#c6c6c6"/>
<rect x="1170.5" y="1447.6" width="99.2" height="16" fill="#c6c6c6"/>
<rect x="1170.5" y="1470.5" width="130" height="16" fill="#c6c6c6"/>
<rect x="1170.5" y="1493.4" width="157.3" height="16" fill="#c6c6c6"/>
<rect x="1170.5" y="1516.4" width="152.7" height="16" fill="#c6c6c6"/>
<rect x="1170.5" y="1539.3" width="148.7" height="16" fill="#c6c6c6"/>
<rect x="1170.5" y="1562.2" width="144.7" height="16" fill="#c6c6c6"/>
<rect x="1170.5" y="1585.1" width="152.4" height="16" fill="#c6c6c6"/>
<rect x="1170.5" y="1608" width="129.2" height="16" fill="#c6c6c6"/>
<rect x="1170.5" y="1630.9" width="154.7" height="16" fill="#c6c6c6"/>
<rect x="1170.5" y="1653.8" width="156.8" height="16" fill="#c6c6c6"/>
<rect x="1170.5" y="1676.8" width="145.7" height="16" fill="#c6c6c6"/>
<rect x="1170.5" y="1699.7" width="162" height="16" fill="#c6c6c6"/>
<rect x="1170.5" y="1722.6" width="83" height="16" fill="#c6c6c6"/>
<rect x="1170.5" y="1745.5" width="151.4" height="16" fill="#c6c6c6"/>
<rect x="1170.5" y="1768.4" width="114.6" height="16" fill="#c6c6c6"/>
<rect x="1170.5" y="1791.3" width="133.2" height="16" fill="#c6c6c6"/>
<rect x="1170.5" y="1814.2" width="164.7" height="16" fill="#c6c6c6"/>
<rect x="1170.5" y="1837.2" width="145.5" height="16" fill="#c6c6c6"/>
<rect x="1170.5" y="1860.1" width="142.5" height="16" fill="#c6c6c6"/>
<rect x="1170.5" y="1883" width="135.2" height="16" fill="#c6c6c6"/>
<rect x="1170.5" y="1905.9" width="104.2" height="16" fill="#c6c6c6"/>
<rect x="1170.5" y="1928.8" width="132.5" height="16" fill="#c6c6c6"/>
<rect x="1170.5" y="1951.7" width="154.5" height="16" fill="#c6c6c6"/>
<rect x="1170.5" y="1974.6" width="144.6" height="16" fill="#c6c6c6"/>
<rect x="1170.5" y="1997.5" width="107.8" height="16" fill="#c6c6c6"/>
<rect x="1170.5" y="2020.5" width="125.2" height="16" fill="#c6c6c6"/>
<rect x="1170.5" y="2043.4" width="148.6" height="16" fill="#c6c6c6"/>
<rect x="1170.5" y="2066.3" width="157.2" height="16" fill="#c6c6c6"/>
<rect x="1170.5" y="2089.2" width="138.7" height="16" fill="#c6c6c6"/>
<rect x="1170.5" y="2112.1" width="148.7" height="16" fill="#c6c6c6"/>
<rect x="1170.5" y="2135" width="150.4" height="16" fill="#c6c6c6"/>
<rect x="1170.5" y="2157.9" width="151.2" height="16" fill="#c6c6c6"/>
<rect x="1170.5" y="2180.9" width="148.3" height="16" fill="#c6c6c6"/>
<rect x="1170.5" y="2203.8" width="150" height="16" fill="#c6c6c6"/>
<rect x="1170.5" y="2226.7" width="167.1" height="16" fill="#c6c6c6"/>
<rect x="1170.5" y="2249.6" width="140.3" height="16" fill="#c6c6c6"/>
<rect x="1170.5" y="2272.5" width="158" height="16" fill="#c6c6c6"/>
<rect x="1170.5" y="2295.4" width="154.5" height="16" fill="#c6c6c6"/>
<rect x="1170.5" y="2318.3" width="139.4" height="16" fill="#c6c6c6"/>
<rect x="1170.5" y="2341.3" width="158" height="16" fill="#c6c6c6"/>
<rect x="1170.5" y="2364.2" width="140.9" height="16" fill="#c6c6c6"/>
<rect x="1170.5" y="2387.1" width="162" height="16" fill="#c6c6c6"/>
<rect x="1170.5" y="2410" width="157.9" height="16" fill="#c6c6c6"/>
<path d="M540.5 126.5h0m52-4h0m23 2.5h0m22 1.5h0m-100 24h0m17.5-5.5h0m24 7h0m34-2.5h0m-85 23h0m11.5-1h0m15-2h0m5.5 12.5h0m6.5-14h0m-21 23h0m10.5 3h0m10 4.5h0m11.5-7.5h0m-37.5 50h0m18.5 4h0m12.5-4h0m-11.5 27h0m28-0.5h0m16.5-7h0m68 3.5h0m-138.5 18.5h0m12.5 2.5h0m8.5-2.5h0m2.5-5h0m6.5 0h0m7 19h0m3-6.5h0m9.5-11h0m11 12.5h0m-52.5 14h0m17 14h0m10 0h0m-13 13.5h0m44 0h0m-33.5 18.5h0m18 4h0m-33 16h0m11.5 2.5h0m5.5-1h0m8.5-4h0m-26.5 28.5h0m32.5 2.5h0m17 2h0m6.5 8.5h0m7-1.5h0m10-7.5h0m31 0h0m-133 23h0m16-9.5h0m5.5 19h0m3-12.5h0m3 12.5h0m3 0h0m2.5-19h0m1 19h0m2.5-19h0m1.5 19h0m3-19h0m1.5 19h0m1-19h0m1 19h0m0.5 0h0m0.5 0h0m2.5 0h0m2-19h0m1 19h0m2.5-14h0m1.5-5h0m1.5 0h0m1 0h0m3 19h0m4-19h0m5.5 0h0m10 5h0m-44 27.5h0m-18.5 23h0m28 0h0m9.5 0h0m-17.5 22.5h0m13.5 7.5h0m6 15.5h0m-39.5 23h0m9 0h0m5.5 9.5h0m5-19h0m4.5 0h0m3.5 0h0m4.5 14h0m3-6.5h0m3.5-7.5h0m2 19h0m4.5-19h0m3.5 19h0m3.5 0h0m7.5-16h0m6 16h0m-48.5 10h0m10.5 1h0m9.5-2h0m6 7.5h0m6.5-6.5h0m9 12.5h0m-68 14h0m26-4.5h0m10-1.5h0m11 15.5h0m8.5-2h0m22-3.5h0m-36 25h0m-9 16.5h0m-23.5 41.5h0m11.5 4.5h0m10-9.5h0m4 19h0m2.5 0h0m6.5 0h0m7.5-14h0m21.5 4.5h0m-54.5 23h0m14 0h0m9.5-9.5h0m8.5 9h0m17.5 0.5h0m-30 20.5h0m24.5 2.5h0m-65.5 42.5h0m48.5 3h0m-32.5 23h0m7-9.5h0m10 3h0m7.5 16h0m5 0h0m9.5-14h0m9.5 4.5h0m-36.5 18.5h0m8.5-2.5h0m12 2.5h0m16.5 0h0m-57.5 23h0m14 4.5h0m14.5 0h0m10.5 0h0m-47.5 18.5h0m14 14h0m6.5-19h0m4 0h0m4 19h0m5.5 0h0m5 0h0m6.5-1h0m4.5-13h0m7-4h0m8 6h0m-44.5 28.5h0m7.5-1.5h0m11 1h0m-29 20h0m21 4h0m1.5 19h0m-8 25.5h0m26-2.5h0m12.5-4.5h0m22 4.5h0m-80.5 46h0m13.5-0.5h0m4-9h0m8 0h0m3.5 19h0m6.5-9.5h0m5.5 3h0m13-7.5h0m-46 28.5h0m13 3.5h0m10-5h0m9.5-9.5h0m9 6h0m19.5-4.5h0m-66 31h0m21-4.5h0m13 4.5h0m5-9.5h0m8.5 0h0m18.5 8.5h0m-71.5 24h0m2-9.5h0m4 19h0m2 0h0m1.5-19h0m3 0h0m3 19h0m2.5-19h0m35 33.5h0m36.5-5h0m-52.5 27h0m18-4.5h0m31.5 4.5h0m11.5-8.5h0m15.5 4h0m32 4.5h0m-120.5 18.5h0m64.5 4.5h0m-48 18.5h0m71 4h0m-47.5 23h0m-62.5 18.5h0m61.5 4h0m25-1.5h0m20.5-2h0m18 0.5h0m44 3.5h0m65.5 0h0m-137 19.5h0m36.5 7h0m23-3.5h0m13.5 4.5h0m16 4.5h0m39.5-6.5h0m-194 20.5h0m-49 23h0m28-8.5h0m10-1h0m7.5 19h0m27-6h0m-53 10h0m1.5 5h0m3-5.5h0m1.5 6h0m1.5 13h0m2-19h0m1.5 19h0m1.5-19h0m2.5 0h0m2.5 10h0m7-5h0m-19.5 20.5h0m11 5.5h0m11.5 33h0m-18.5 14.5h0m53 0h0m-61.5 32.5h0m8.5-19h0m5.5 9.5h0m-4.5 27h0m56 18.5h0m179 23h0m92.5 0h0m-346 69h0m24 27.5h0m19 18h0m-12 23h0m-2.5 23h0m-25.5 23h0m10.5 0h0m7-9.5h0m2 19h0m4.5 0h0m8-15.5h0m7 9.5h0m5-13h0m17 14h0m-36.5 18h0m11.5 3.5h0m9.5 1.5h0m8.5-11h0m-60.5 27h0m17.5-2h0m-3 27h0m0.5 41.5h0m8.5 50.5h0m24.5 32h0m-16.5 9h0m1 50.5h0m98.5 23h0m-112 68.5h0m66 0h0m4.5 27h0m-65.5 65h0m16 68.5h0m-7 21.5h0m29.5 32.5h0m-38 39h0m3 45h0m-35.5 45.5h0m12.5 68.5h0m4 18h0m5-4.5h0m4.5 19h0m1-19h0m3.5 0h0m5.5 19h0m2.5-19h0m441-2277.5h0m9-11.5h0m9-0.5h0m-27.5 30.5h0m9.5 4h0m9-4h0m9-3h0m-22.5 22h0m8 3.5h0m9 10h0m10-19h0m10.5 19h0m-40 20h0m10.5-6.5h0m7.5 3.5h0m-39 19.5h0m38.5 29h0m13 2.5h0m11-15.5h0m-56 36h0m17.5-6.5h0m14.5 1.5h0m14.5-4h0m-48.5 23.5h0m9.5 6.5h0m7 4h0m5-18h0m4 14.5h0m2-7h0m8 11.5h0m4-5h0m9-1.5h0m-43.5 24.5h0m7-12h0m8.5 16.5h0m-17 14h0m30.5 2h0m9.5 22h0m15.5-6h0m-28 31h0m11 6h0m16.5-5h0m16-2h0m32-2.5h0m-97 27.5h0m10 5h0m10-18h0m7-1h0m7 1.5h0m14 8h0m-45.5 27h0m8-4h0m7.5-4h0m3.5 13.5h0m3 0h0m2.5-14h0m1 14h0m1.5-19h0m3 13h0m2.5-13h0m2 0h0m1.5 0h0m1.5 19h0m1.5-19h0m1.5 19h0m3-14h0m1.5-5h0m1.5 19h0m2-19h0m3.5 0h0m1.5 19h0m2-10.5h0m2.5 10.5h0m3.5-19h0m3 0h0m5.5 19h0m13-8h0m-54.5 21.5h0m48.5-5.5h0m-40 28.5h0m10-9.5h0m-9.5 32h0m18.5-4h0m13 4h0m-70 47.5h0m6-7.5h0m4 9h0m5-3h0m4-9.5h0m2.5 19h0m2-19h0m2 19h0m2-19h0m1.5 19h0m1 0h0m3-10.5h0m4 7.5h0m5.5 0.5h0m7 2.5h0m20.5-9.5h0m-43.5 32.5h0m4 0h0m3.5 0h0m3.5-19h0m6 18h0m9.5-2.5h0m-31 17h0m6-6h0m8.5-3.5h0m7 0h0m16 7.5h0m-19.5 20.5h0m-8 27h0m-31 46h0m21 0h0m8.5 2.5h0m3.5-12h0m5 13.5h0m4.5-13.5h0m6.5 5.5h0m10.5 4h0m-63.5 27.5h0m10.5-4.5h0m5 0h0m5.5 0h0m5.5 9.5h0m-18.5 4.5h0m7.5-0.5h0m37.5 32.5h0m-21 22.5h0m12.5 27.5h0m10-14h0m7 5.5h0m4.5-0.5h0m5.5 9h0m3.5-14h0m17.5 5h0m-77 23.5h0m6-5.5h0m3.5 0h0m5.5 8.5h0m5.5 10.5h0m-8.5 13.5h0m14-2h0m6.5 11.5h0m16-9.5h0m-60 23h0m3.5 9.5h0m9-19h0m8.5 19h0m5.5-19h0m3.5 0h0m5.5 0h0m5.5 1.5h0m3.5 11h0m10.5 1.5h0m5.5-0.5h0m-32.5 14h0m8-4.5h0m29 14h0m-43 18h0m18.5 0h0m82 23h0m-111.5 27.5h0m10.5-9h0m8 12.5h0m-10.5 15h0m22.5 14h0m8.5 18.5h0m7.5-19h0m5 14.5h0m11-10h0m6.5 0.5h0m8.5 11.5h0m9-12.5h0m-57.5 23.5h0m12.5 7h0m10.5-8.5h0m4.5-3.5h0m4.5 19h0m20-9.5h0m-41.5 31.5h0m15.5-18h0m5 5.5h0m8.5 4h0m12.5 0h0m18.5-0.5h0m-65.5 19h0m16-5h0m8 9.5h0m6-9.5h0m8 14h0m8.5 4.5h0m13.5-4.5h0m17.5 4.5h0m-99 14h0m25.5 6.5h0m-53 16.5h0m2.5 9.5h0m3.5 0h0m4-10.5h0m6-8.5h0m15.5 13.5h0m-17.5 14h0m12 1.5h0m-19.5 29.5h0m28-3.5h0m-22.5 30.5h0m-9.5 13.5h0m5-7h0m7.5 18.5h0m6.5-4h0m4-15h0m9 5h0m-22.5 19h0m4 18h0m4.5-9.5h0m4 9.5h0m8-19h0m-36 28h0m25 4.5h0m-8.5 18.5h0m5.5-0.5h0m9 5h0m14 0h0m3 32h0m8.5 0h0m4 0h0m3-8h0m4.5 8h0m3.5-19h0m2.5 19h0m3 0h0m8.5-17.5h0m4.5 4.5h0m6.5 5.5h0m2 19h0m17.5-2.5h0m-28.5 19h0m-56.5 27.5h0m37-0.5h0m-33 23h0m9.5 4.5h0m18.5-3.5h0m14.5 22h0m-17 22.5h0m78 23.5h0m4 27h0m-47.5 45h0m-27 46.5h0m42 0h0m-25 23h0m38 23h0m-107 18.5h0m9.5-2.5h0m6.5-2h0m4.5 18.5h0m4.5-5.5h0m6-8h0m4.5-0.5h0m11 14h0m-40 11.5h0m17 5h0m22-3h0m14.5 2h0m26-8h0m-38.5 32.5h0m36-8.5h0m9.5 50.5h0m-68.5 20h0m40.5 67.5h0m-63 27h0m68.5-4.5h0m-25 46.5h0m14.5 50h0m-44.5 49.5h0m26.5 19h0m5 23h0m-1.5 91.5h0m-15 46h0m12.5 23h0m-12 23h0m-51 68.5h0m40.5 20.5h0m-14.5 71h0m2.5 46h0m11.5 2.5h0m7 1.5h0m5.5-13.5h0m7.5 19h0m7-4h0m18.5-5.5h0m70.5-2.5h0m178.5-2288h0m11.5-10.5h0m15 14h0m12-8.5h0m-16 27h0m4 9.5h0m6-9.5h0m-13.5 18.5h0m7 1h0m4 8h0m5 5h0m6-5.5h0m-16 22.5h0m4-8h0m3.5-5h0m10 9.5h0m-34.5 45.5h0m15.5-4h0m11.5 4h0m-42.5 15h0m12 17.5h0m6.5 0h0m13.5-18h0m-17.5 41h0m4.5 0h0m4.5-19h0m4.5 19h0m3-4.5h0m4-14.5h0m2.5 0h0m3 0h0m6.5 7.5h0m-16.5 18.5h0m7-3h0m7 1h0m-13 33.5h0m23.5-2h0m-17 13.5h0m10.5 2.5h0m-26.5 25h0m6.5 14h0m4.5-19h0m8 8.5h0m-24.5 19.5h0m2 14h0m5-19h0m2.5 19h0m4.5 0h0m5.5-9.5h0m-31 23h0m9.5 9.5h0m4.5-19h0m1.5 19h0m1-19h0m1.5 19h0m0.5 0h0m1-19h0m0.5 19h0m1-19h0m1 19h0m1-19h0m1 0h0m1 19h0m0.5 0h0m0.5-19h0m1 0h0m1 0h0m0.5 0h0m1 0h0m1 19h0m1-19h0m1 19h0m1.5 0h0m2.5-19h0m3 5.5h0m4.5-5.5h0m-23.5 30h0m-16 21h0m14 11h0m11.5 0h0m-12.5 10.5h0m4 9h0m1 19.5h0m-11 19h0m4 4h0m2 9.5h0m1.5 0h0m1.5-19h0m0.5 19h0m1 0h0m1-19h0m1 19h0m1-19h0m1.5 19h0m1.5-19h0m2.5 0h0m3 19h0m2.5 0h0m-21.5 9h0m5.5 14h0m4.5-19h0m2.5 0h0m5 5h0m4.5 14h0m-31.5 9h0m9.5-3.5h0m1.5-1.5h0m2.5 19h0m5.5 0h0m15-9.5h0m-8 19h0m3.5 34h0m-22 43h0m6-13.5h0m3.5-0.5h0m1.5 0h0m4 19h0m3-6.5h0m5 6.5h0m3.5 0h0m-24.5 7h0m5.5 2.5h0m3.5 13.5h0m3.5 0h0m8-9.5h0m-4.5 27h0m-11.5 19h0m-7.5 25.5h0m-11.5 20h0m13-9.5h0m4 0h0m2 19h0m2 0h0m2.5-9h0m2.5 9h0m9.5-6.5h0m-20 29.5h0m5-19h0m2.5 19h0m6.5-14.5h0m-13 28h0m6.5-4.5h0m9.5-4.5h0m8.5 13.5h0m-27.5 18.5h0m5-9.5h0m4.5 0h0m3 5h0m4.5 8.5h0m2.5 5.5h0m2-5h0m4-4.5h0m1.5 9.5h0m2.5-8.5h0m4.5 8.5h0m-21 20.5h0m5.5-16.5h0m6.5 1h0m-25 33.5h0m16-7h0m7.5 23h0m-13.5 28h0m4-10h0m9 13h0m8.5-11.5h0m-16.5 46h0m2 8h0m2 9.5h0m4-19h0m2.5 19h0m2-19h0m2.5 19h0m5.5-19h0m-28 41.5h0m3-6h0m4.5 6h0m3.5-19h0m6.5 3h0m4 16h0m-23.5 5h0m6.5 17h0m2.5 1h0m6.5-19h0m8 6h0m10 3.5h0m-22.5 15h0m2-1.5h0m3 0h0m2.5 14.5h0m2-14.5h0m3 14h0m2-14h0m8.5 1.5h0m-50.5 26.5h0m21.5 4.5h0m-36.5 26h0m23.5-7.5h0m4.5 14h0m5 0h0m8.5-1h0m19-8.5h0m-26.5 27h0m9-4h0m-20.5 22.5h0m18.5 4.5h0m2 27h0m-29.5 10h0m7 9h0m4.5-6h0m4-8h0m4 0h0m8.5 5h0m-60.5 27.5h0m31 3h0m10.5-7.5h0m10.5 4.5h0m10.5-2h0m13.5 3h0m-17 30h0m-12 10.5h0m5.5 0h0m3.5-5h0m3 0h0m-7.5 32h0m4.5-9.5h0m3.5 19h0m3.5-19h0m2 19h0m1-19h0m2 19h0m0.5-19h0m1.5 0h0m3 19h0m2-19h0m7 9h0m-19 14h0m-7.5 32.5h0m9 9.5h0m-7.5 13.5h0m-11 23h0m11-4.5h0m5.5-5h0m10 13h0m-28 19.5h0m15 22.5h0m-56 19h0m49 45.5h0m-14.5 46.5h0m-3.5 26.5h0m7.5 23h0m21 0h0m-15 23h0m-7 32.5h0m6.5-5h0m2.5-14h0m4 14h0m3 5h0m3-14.5h0m4.5-4.5h0m5.5 19h0m-21 17.5h0m7.5 5.5h0m4 0h0m6.5-12.5h0m15.5 3h0m-34.5 18h0m22.5 2h0m-50.5 71.5h0m39.5-6h0m-2 75.5h0m-17.5 17.5h0m5.5 27.5h0m-7.5 23h0m1 46h0m-26 49.5h0m65.5-4h0m-103 46h0m91 41h0m-25.5 96.5h0m27.5 2.5h0m-13 20.5h0m-15 68.5h0m27.5 21h0m-23 48h0m-21 91.5h0m22.5-4h0m5.5-0.5h0m3.5 3h0m4.5-8h0m6 16h0m10.5-10.5h0m13.5 7h0" stroke="#000" stroke-opacity="0.45" stroke-width="5.3" stroke-linecap="round" fill="none"/>
<path d="M542.5 122.5h0m51 7.5h0m22-9.5h0m25 2.5h0m-98 26.5h0m13 4.5h0m27.5-4.5h0m40 0h0m-94 18.5h0m12.5-0.5h0m13.5 7h0m5-6.5h0m9 6.5h0m-22 24h0m11-0.5h0m8.5 5h0m12-4h0m-28.5 42h0m9.5 8.5h0m16-8.5h0m-10 23h0m23.5 8h0m18-8h0m85 0h0m-155.5 25.5h0m12-0.5h0m6 2.5h0m3-4.5h0m10 0h0m3-9.5h0m3.5 0h0m10 9.5h0m10.5-9h0m-48 32h0m14.5 0h0m9-9.5h0m-9 32.5h0m40-4.5h0m-35 31.5h0m22.5-5h0m-35 23.5h0m10 4.5h0m5-1.5h0m9 6.5h0m-23.5 13.5h0m28.5-9.5h0m17.5 14.5h0m6.5-14.5h0m7 2h0m21 7.5h0m45.5 0h0m-153 23h0m10 9.5h0m6 0h0m3-4.5h0m3 4.5h0m2.5 0h0m2.5 0h0m1.5-6h0m2 6h0m2.5-5.5h0m2-4h0m1.5 9.5h0m1 0h0m1 0h0m0.5-19h0m1 9.5h0m2.5 4h0m1.5 5.5h0m1-19h0m2.5 0h0m2 19h0m1.5-19h0m1 19h0m5-9.5h0m3 9.5h0m4.5 0h0m12.5-6h0m-42 19.5h0m-23 18h0m27.5 10h0m10.5 4.5h0m-15.5 9.5h0m11-3.5h0m9.5 27.5h0m-43 32.5h0m9-11.5h0m6-5h0m5 19h0m4 0h0m3.5 0h0m4.5 0h0m3-19h0m3 0h0m2.5 0h0m5 12.5h0m3-12.5h0m3.5 19h0m7.5 0h0m6 0h0m-42.5 13.5h0m4.5-9.5h0m9.5 14h0m6.5-9h0m6 7.5h0m8.5 6.5h0m-67.5 9h0m27 8h0m9 6h0m11.5 0h0m8 0h0m32-9.5h0m-44.5 20.5h0m-1 25h0m-32 50h0m11.5-8.5h0m8.5 14h0m4.5-19h0m3 5.5h0m5.5-5.5h0m8 14h0m22-9h0m-46.5 27.5h0m5 9.5h0m13.5-9.5h0m6.5-5h0m23.5 5h0m-36.5 25h0m-33.5 21h0m-7 24h0m-12.5 21.5h0m27 6.5h0m7 3h0m10.5-19h0m6.5 19h0m5.5-10h0m9 5h0m12-8h0m-38.5 31h0m10.5 1.5h0m11-2.5h0m15.5 1h0m-55.5 21.5h0m11.5-7.5h0m15.5 0h0m10-3h0m-42.5 30.5h0m9.5 0h0m6-9.5h0m4 19h0m5-14h0m5 1h0m5 13h0m5.5-19h0m4.5 13.5h0m9-4h0m7.5 9.5h0m-44.5 21h0m7-10.5h0m10.5 10.5h0m-28.5 10.5h0m25 4.5h0m8 23h0m-14.5 23h0m21-4.5h0m13.5 8.5h0m26.5-4h0m-81.5 44.5h0m10-8h0m3.5 0h0m8 19h0m3-19h0m7 4.5h0m5.5-0.5h0m14.5 8h0m-45 18h0m11-2h0m12.5 1h0m8 5h0m11.5-2h0m17 0.5h0m-64.5 20h0m19.5 6h0m12 6h0m5-9.5h0m13 0h0m18.5 0h0m-77 31h0m3-4.5h0m4-8.5h0m1-4.5h0m2 19h0m2.5-19h0m3 19h0m5-9.5h0m32.5 28.5h0m37.5-3h0m-53.5 16h0m20 8h0m30-8h0m11.5-5h0m15.5 13.5h0m49.5-4h0m-127.5 23h0m58-2h0m-44.5 24.5h0m66-3h0m-43.5 26h0m-64.5 23h0m57 4.5h0m26-2.5h0m21.5 0h0m17-1h0m45-5h0m65.5 0h0m-125.5 27h0m22.5 8h0m25.5-12h0m11.5 13h0m18-9h0m45 0h0m-165 23h0m-79 23h0m22 9.5h0m11-7.5h0m8.5-5.5h0m-38.5 26h0m10 9.5h0m1.5 0h0m3 0h0m1 0h0m1.5-19h0m2 0h0m1.5 0h0m2 9.5h0m2 9.5h0m2.5 0h0m7.5-4.5h0m-20 8.5h0m2 32.5h0m20.5-8.5h0m-15.5 28h0m-20 26.5h0m11 0h0m6.5-0.5h0m5-9h0m-4 41h0m62 14h0m207 23h0m66.5 0h0m-328.5 69h0m-0.5 14h0m20.5 28h0m-11 24.5h0m-5 20.5h0m-26.5 32h0m10.5 0h0m7-9.5h0m1.5 4.5h0m5.5-9h0m8 13h0m6.5-12h0m6 17h0m-59.5 14.5h0m41.5 3h0m9.5 4.5h0m9 1.5h0m9-2h0m-57.5 16h0m14 3.5h0m2 19h0m-1.5 49h0m18.5 43h0m11.5 13h0m-16 36.5h0m2 38h0m100 24h0m-110 71.5h0m61.5-4.5h0m6 27h0m-52 69.5h0m24 68.5h0m-29 28.5h0m28 9.5h0m-37.5 59.5h0m5 37h0m-13.5 49h0m-7 68.5h0m-1.5 29h0m6-15.5h0m4 19h0m0.5-19h0m4 19h0m5.5 0h0m8-9.5h0m435.5-2296h0m9.5 6.5h0m21-2h0m-39 18.5h0m8.5 13h0m9-13h0m9-3h0m-22.5 34h0m11.5-1.5h0m5.5 7.5h0m10-11.5h0m20.5 2h0m-50.5 32.5h0m10.5-19h0m8.5 19h0m-33.5 13.5h0m34 17h0m12.5 5.5h0m19 0h0m-64.5 17.5h0m18 1.5h0m13.5 10h0m15-1h0m-46.5 19.5h0m7.5-5h0m6.5-6h0m4.5 19h0m4 0h0m2.5-19h0m8 0h0m3.5 0h0m10 8h0m-44 15.5h0m7 7h0m9 11.5h0m-16.5 9h0m30 11h0m11.5 14.5h0m14.5 5.5h0m-27.5 19h0m10-2h0m15 11h0m17-2h0m39-7h0m-103 19.5h0m9 3.5h0m10.5 7.5h0m5.5 0h0m7.5-9h0m13.5 6h0m-42 18.5h0m4.5 9.5h0m7.5-5.5h0m3.5 5.5h0m3-19h0m3 13.5h0m1-13.5h0m1.5 19h0m2.5-19h0m3 0h0m1.5 0h0m1.5 0h0m2 19h0m1.5 0h0m1 0h0m3-19h0m1.5 19h0m2-19h0m1.5 0h0m3.5 0h0m2 19h0m2 0h0m2 0h0m4-19h0m4.5 9.5h0m6-9.5h0m14 8.5h0m-34.5 24h0m30.5 0h0m-38 23h0m4.5 0h0m-9.5 18.5h0m17 8.5h0m20.5-4.5h0m-77.5 52h0m6 0.5h0m4-11.5h0m4.5 9.5h0m4.5-4.5h0m2 9.5h0m2-19h0m2.5 0h0m2 19h0m1-19h0m1 0h0m3.5 19h0m4-19h0m5.5 0h0m8 9.5h0m-32 23h0m8.5 4h0m3 5.5h0m4 0h0m3.5-13.5h0m5.5 13.5h0m10 0h0m-31 9h0m6 14h0m8.5-19h0m6.5 0h0m17 3h0m-7.5 29.5h0m-21 18h0m-29 46.5h0m20.5-0.5h0m7.5 11.5h0m3.5-16.5h0m4.5 18h0m6-12.5h0m6 7h0m13.5-5.5h0m-67.5 34.5h0m10.5 0.5h0m5.5 0h0m5.5-15.5h0m7.5 1.5h0m-19 35.5h0m8.5-8h0m-8.5 45.5h0m24.5-3.5h0m13 18.5h0m7-1.5h0m7 14h0m5.5 0h0m5-14h0m6 12h0m15 1.5h0m-76.5 21.5h0m5.5-12h0m4 9.5h0m4.5 9.5h0m7.5-6h0m-6 18h0m9.5 4h0m7-12h0m22 9.5h0m-66.5 16h0m8.5 7h0m4 9.5h0m11-9.5h0m3.5 9.5h0m5.5-9.5h0m4-9.5h0m4.5 0h0m4 5h0m10.5-2.5h0m8.5 7h0m-35.5 27h0m11.5-4h0m36.5 0h0m-52.5 26.5h0m18.5-8h0m-48 50h0m20-1h0m8 5.5h0m9.5-12h0m-13 26h0m26.5 27.5h0m5 0h0m7.5-9.5h0m5 19h0m10.5-5h0m7-0.5h0m9-4h0m14.5 0h0m-61 25.5h0m11.5-4.5h0m8.5 10.5h0m5.5-18.5h0m6 11h0m19.5-5.5h0m-35.5 27h0m7.5-3h0m6 7h0m9.5-8h0m11.5 0h0m-68.5 27h0m22 3.5h0m16.5-3.5h0m6.5-4.5h0m6-5h0m7.5 18.5h0m9-18h0m14.5 17.5h0m18-16h0m-100.5 26h0m31 4.5h0m-59 30h0m2.5 2.5h0m3.5 0h0m7-7h0m3.5 7h0m-13.5 13.5h0m13.5 3.5h0m-26.5 19h0m18.5-0.5h0m-14 23.5h0m21.5 0h0m-12 16.5h0m6 10.5h0m6-8h0m6 13.5h0m6-13h0m7 8h0m-23 27h0m4-18h0m5 5h0m3.5 14h0m9-19h0m-27 32.5h0m-4 23h0m10.5 7.5h0m8-4.5h0m7 6.5h0m23-9.5h0m-4.5 22.5h0m6.5 9.5h0m4.5 0h0m2.5 0h0m4.5-19h0m3.5 19h0m2.5 0h0m3 0h0m8.5-1h0m4.5-18h0m10 5.5h0m0 21h0m17.5 9.5h0m-27 19.5h0m-59 26h0m39.5 0h0m-36 24.5h0m15.5-4.5h0m13.5 2.5h0m13.5 25h0m-15.5 22.5h0m76.5 23h0m11 41.5h0m-83 46h0m17 22.5h0m31 0h0m-28 19h0m43 27h0m-113 32h0m9.5 0.5h0m6 0h0m5 0h0m5-14.5h0m5 9h0m5 5.5h0m12.5-10h0m-40.5 25.5h0m17-3.5h0m22.5-3h0m16.5 4h0m25-1h0m-35.5 24.5h0m32.5 3.5h0m-100 65h0m46 0h0m35 72h0m-31 19.5h0m-32.5 23h0m42 26.5h0m-25 65h0m-2 23h0m24.5 18.5h0m-45 50.5h0m50.5 65h0m-17 45h0m11.5 23h0m34.5 50h0m-97.5 41.5h0m41 29.5h0m-8.5 66.5h0m-1.5 42h0m9-2h0m7.5-2.5h0m5.5 18h0m7-9.5h0m8.5-3h0m17-1.5h0m74.5 4.5h0m177-2296.5h0m10.5-4.5h0m15 0.5h0m-15.5 32h0m10.5-4.5h0m5 4.5h0m5-4.5h0m-12.5 31h0m7.5 6h0m3-14h0m4 9h0m7.5-7.5h0m-17 34.5h0m3.5-18h0m3.5 19h0m10.5-5h0m-28.5 41h0m9.5-8.5h0m11.5 4h0m-39.5 27.5h0m9.5 0h0m6-9.5h0m13 18h0m-16.5 13.5h0m4-8.5h0m4.5 0h0m4.5 19h0m3 0h0m4-19h0m2 0h0m3 0h0m8 12h0m-14.5 17.5h0m4 12.5h0m9-7.5h0m-15.5 14.5h0m-4 29h0m11.5 4.5h0m-22 18.5h0m5.5 9.5h0m6.5-15h0m4-4h0m8 17.5h0m-24.5 19.5h0m3.5-4.5h0m3.5-9.5h0m4 12h0m3-12h0m6 0h0m-28 29h0m6.5 13h0m4 0h0m1.5-13h0m1.5 13h0m1-19h0m0.5 0h0m1 0h0m0.5 19h0m1-19h0m1 0h0m1 0h0m1.5 13h0m0.5-13h0m0.5 0h0m1 19h0m0.5-19h0m1 19h0m0.5 0h0m1-19h0m1.5 0h0m0.5 0h0m1.5 19h0m1-19h0m2.5 0h0m4 13h0m3.5-13h0m-19 32.5h0m-18.5 26h0m14-3h0m12.5-5.5h0m-15 35h0m5.5-10h0m-1 21.5h0m-10.5 31.5h0m4 5.5h0m1.5-19h0m1.5 0h0m1.5 0h0m1 0h0m0.5 0h0m1 0h0m1 0h0m1 14.5h0m2-14.5h0m1.5 19h0m2.5-19h0m2.5 19h0m2.5-6h0m-19.5 23h0m5-2h0m3.5 8h0m2.5-5h0m5 0h0m6-1h0m-32.5 23.5h0m8.5 3.5h0m2-4.5h0m3-3h0m5 9.5h0m15.5-14h0m-8.5 30.5h0m8 19.5h0m-27 39h0m6.5-2.5h0m3 12.5h0m3-6.5h0m3-6h0m3.5 0h0m4 0h0m6 9.5h0m-26.5 32.5h0m5.5-6.5h0m3.5 6.5h0m3.5 0h0m15-9.5h0m-11 14.5h0m-10.5 27h0m-1.5 27h0m-13 23h0m7-9.5h0m4 0h0m1.5 0h0m3 19h0m2.5-13.5h0m1.5 13.5h0m-14.5 13.5h0m4.5 0h0m5-9.5h0m2.5 0h0m6 19h0m-12 9h0m7.5-4h0m7.5-1h0m8.5 0.5h0m-27 27.5h0m5-5h0m4 0h0m4 19h0m3.5-14h0m2.5 14h0m3-13.5h0m3-5.5h0m2 0h0m2.5 0h0m5 19h0m-21 23h0m4.5-19h0m7 19h0m-24 20h0m15.5-2.5h0m7.5 22.5h0m-14 24h0m4-14.5h0m9.5 5.5h0m-27.5 27h0m19 32.5h0m2 0h0m2-19h0m3.5 19h0m3 0h0m2 0h0m2 0h0m7-11h0m-29.5 33.5h0m4.5-10.5h0m3.5 3.5h0m3.5 2.5h0m6 4.5h0m4-13.5h0m-22.5 35.5h0m6.5-10h0m3 3h0m8-4h0m5.5 7h0m17.5-4.5h0m-30.5 13.5h0m2.5 0h0m3 19h0m2.5-19h0m1.5 0h0m3.5 19h0m1.5-19h0m13 9.5h0m-51.5 25.5h0m21.5-5.5h0m-35.5 26h0m19 4h0m5.5-8h0m4.5 1.5h0m10.5 2.5h0m16.5-4.5h0m-25 19.5h0m9 12h0m-19 15h0m22 3.5h0m-4 14.5h0m-29 36h0m6.5-14h0m4.5 12.5h0m4-3h0m6 0h0m6.5 4.5h0m-56.5 18.5h0m26.5 7.5h0m11.5-3.5h0m11.5-8h0m9-2.5h0m13 12h0m-16.5 9h0m-12 35.5h0m5.5 0h0m3-13.5h0m3.5 19h0m-7.5 8.5h0m4 14h0m5-9.5h0m2-9.5h0m2 19h0m1.5-19h0m1.5 0h0m0.5 19h0m2.5-14h0m2 14h0m2-19h0m9 13.5h0m-20.5 28.5h0m-5.5 9.5h0m7.5 13.5h0m-6.5 9h0m-13 23h0m13 7h0m4 7h0m12.5-9.5h0m-20.5 23h0m5 18h0m-52.5 27.5h0m47.5 49h0m-11 43h0m-2 22.5h0m2.5 19h0m18.5-0.5h0m-10.5 27h0m-10 24h0m5.5-6.5h0m2 15.5h0m4.5 0h0m2.5 0h0m3 0h0m7-9.5h0m5 0h0m-22.5 31.5h0m7 1h0m5-19h0m7 10.5h0m18-3h0m-35 27h0m22.5-2h0m-43.5 68.5h0m35.5 0h0m-4.5 67.5h0m-17 24h0m3 19h0m1 27h0m-4 68.5h0m-30 15.5h0m-101 30.5h0m69 23h0m52 68.5h0m8 64.5h0m28 1.5h0m-13 21.5h0m-13.5 70h0m5.5 49h0m-1.5 19.5h0m-16.5 95h0m15.5 4h0m5 0.5h0m3.5 5h0m4.5 0h0m7.5 0h0m11-7.5h0" stroke="#000" stroke-opacity="0.45" stroke-width="5.3" stroke-linecap="round" fill="none"/>
<path d="M543.5 130.5h0m50.5 4h0m22.5-4h0m47.5-4h0m-119.5 19h0m11-5h0m29.5 5h0m46.5 4h0m-101.5 27h0m14-4h0m12 6.5h0m4.5-2h0m8.5-13h0m-20.5 38.5h0m11-11.5h0m10.5 4.5h0m22.5 23h0m-42 18h0m13.5 4.5h0m27.5 0h0m-25.5 18.5h0m24.5 4.5h0m22 0h0m81-4h0m-155 25h0m11-3h0m5-4.5h0m4 0h0m10 5h0m2.5-5h0m4 5h0m9.5-5h0m14 9.5h0m-48.5 20h0m13-1h0m7.5 7.5h0m-9.5 14.5h0m53.5 5h0m-46 14.5h0m22 11.5h0m-36 24h0m9.5 4.5h0m6-2h0m11-7h0m-21.5 23h0m24.5 9.5h0m17-15.5h0m6 15.5h0m8.5 0h0m19.5-14h0m55 4.5h0m-155.5 23h0m2.5-9.5h0m6 0h0m3 0h0m3 0h0m2.5 0h0m3 19h0m1 0h0m2.5-19h0m2 5h0m2.5-5h0m1.5 19h0m1-13.5h0m0.5 13.5h0m1 0h0m1.5 0h0m2-12.5h0m1-6.5h0m2 10h0m1.5 4.5h0m2 4.5h0m1.5-19h0m1 13h0m5-8h0m4 14h0m4 0h0m12.5-17h0m-29 30.5h0m-28 23h0m19.5-8.5h0m13 5.5h0m-17.5 28h0m11-12h0m54 32.5h0m-85 21h0m8 9.5h0m4.5-2h0m4.5-1.5h0m3.5-13.5h0m3.5 19h0m5.5-18.5h0m2.5 18.5h0m3-19h0m2.5 19h0m5.5 0h0m3-4.5h0m3.5-5h0m6.5-9.5h0m6 9.5h0m-42.5 18.5h0m4.5-5h0m10 18.5h0m6.5-1.5h0m6-15.5h0m10.5 6h0m-59.5 25h0m17.5 8h0m13-8h0m7-9.5h0m12.5 9.5h0m31.5 0h0m-42 23h0m1.5 22.5h0m-41 54.5h0m13.5-6h0m6.5-1h0m4 8h0m4.5-5h0m4.5-14h0m10 1.5h0m27.5 8h0m-52.5 19h0m6 0.5h0m11.5-1h0m6-5h0m34.5 9.5h0m-44.5 22.5h0m-30.5 23.5h0m-3.5 22.5h0m-21.5 18.5h0m27.5-5h0m6 0h0m12.5 9.5h0m4-9.5h0m9 12h0m7 6.5h0m-41.5 14h0m14 9h0m13-9h0m8.5-8.5h0m17.5 0h0m-56.5 30h0m12 5.5h0m14.5 0h0m9.5 5.5h0m-40.5 9.5h0m8 13.5h0m6-9.5h0m3 9.5h0m5-19h0m5 0h0m6 0h0m4.5 19h0m4.5 0h0m9.5-19h0m11 9.5h0m-48.5 15h0m7 14h0m11.5-15.5h0m-28 36h0m28.5-4h0m23 23h0m-33.5 18.5h0m22 8.5h0m13.5-12h0m-38.5 31h0m-14 23h0m5.5-9.5h0m6 9.5h0m6 9.5h0m3.5-19h0m6 14h0m6 5h0m32.5-9.5h0m-63 27.5h0m11.5 4h0m12.5-7.5h0m7-6.5h0m13 1h0m18.5 1h0m-63.5 26h0m18 0h0m10-9.5h0m5 19h0m14.5-13.5h0m25 4h0m-85 13.5h0m3 0h0m3.5 0h0m1.5 0h0m2.5 0h0m2 0h0m2.5 0h0m5.5 16h0m47 16.5h0m22.5 7h0m-49.5 18h0m19-2h0m30.5 2h0m9.5-2.5h0m23.5 0.5h0m65.5 0h0m-152.5 18.5h0m58.5 6.5h0m-32.5 20.5h0m63 0h0m-30 23h0m-65 23h0m48 0h0m12.5-6h0m21.5 12.5h0m21.5-6.5h0m41 3h0m69.5-3h0m-126 23h0m19.5-8h0m25.5 10h0m11-10.5h0m25 8.5h0m52 0h0m-160.5 23h0m-94 21h0m21 2h0m8-4.5h0m8 7.5h0m-36.5 15.5h0m8 8h0m1.5 5.5h0m3 0h0m1.5-19h0m1.5 0h0m2 0h0m2 19h0m1.5-19h0m1.5 19h0m3-19h0m8.5 1h0m-18.5 31.5h0m7.5 23h0m13 9.5h0m-16.5 16.5h0m-19.5 15.5h0m13 0.5h0m4 13.5h0m8.5-12.5h0m-4 26h0m67 22.5h0m211.5 23h0m102.5 0h0m-376 64.5h0m-2 36h0m40 14h0m-28.5 25h0m-1.5 21h0m-30.5 19h0m9.5-1.5h0m6.5-4h0m3.5 13.5h0m3.5-3h0m8-10.5h0m7 19h0m5.5-19h0m-41.5 32.5h0m24.5-2.5h0m8.5-7h0m9.5 19h0m11.5-9.5h0m-60 18.5h0m14.5 12.5h0m25 37.5h0m-25 21h0m26.5 70.5h0m3 9.5h0m-14 6h0m2 56h0m199.5 20.5h0m-201 68.5h0m60 0h0m4 23h0m-53.5 69h0m-37 91.5h0m29 0h0m25.5 32.5h0m-44.5 59h0m24.5 23h0m-13 46h0m-34 91.5h0m13 9.5h0m5.5 0h0m4 0h0m1.5 0h0m3.5-19h0m5.5 3h0m18.5 6.5h0m426.5-2283h0m8.5-2h0m21.5-10.5h0m-39.5 31h0m8.5-12h0m10.5 11.5h0m7 6h0m-22.5 21.5h0m12-10.5h0m4.5-7h0m13 11h0m25.5-1.5h0m-56.5 13.5h0m10.5 5.5h0m10 4h0m-34.5 19h0m32 26h0m13.5-3.5h0m22 3.5h0m-66 23.5h0m15.5 4h0m13-10.5h0m25.5 6.5h0m-55.5 20h0m6-6.5h0m7.5 9.5h0m3.5-9.5h0m4 0h0m3.5 19h0m7.5-8.5h0m3.5 8.5h0m10.5-15.5h0m-44 37.5h0m6.5-18h0m8.5 19h0m-8 13.5h0m30.5 0h0m5 25h0m20.5-2.5h0m-34.5 18.5h0m10.5 9.5h0m14-13.5h0m20 8.5h0m-86 23h0m22 0h0m5.5 4.5h0m11-4.5h0m5 9.5h0m8.5-7h0m16-5h0m-45 21h0m6 0.5h0m5 13.5h0m4 0h0m3.5-9.5h0m2-9.5h0m1 19h0m1.5-10h0m2.5-9h0m3 0h0m1.5 0h0m1.5 0h0m2 19h0m1.5-19h0m1.5 19h0m2.5-4.5h0m1.5-14.5h0m2.5 19h0m2-4.5h0m3-9.5h0m1.5 8.5h0m2 5.5h0m2.5-7h0m4.5 1h0m3.5 2.5h0m6.5-7h0m22.5 1h0m-40 20h0m-50 26h0m39.5-5h0m6.5 1h0m-9 26.5h0m15.5-8h0m20.5 4h0m-79 43h0m6-2.5h0m4.5 19h0m5-14h0m4 9h0m2-14h0m1.5 19h0m2.5-19h0m2 0h0m1 19h0m2-19h0m2.5 0h0m4.5 0h0m7 9.5h0m6.5 9.5h0m-29 10h0m6-1h0m2-5h0m4.5 1.5h0m3 17.5h0m7-9.5h0m-51.5 23h0m29 6h0m9-6h0m6.5 9.5h0m7-9.5h0m16.5 8h0m-7 10.5h0m-20.5 31.5h0m-22 41.5h0m13 3.5h0m6.5 6h0m3 0h0m5.5-16h0m5 10.5h0m7.5 5h0m16.5-9h0m-67.5 23h0m8-4h0m3.5-5.5h0m6 16h0m9.5-6.5h0m-20.5 23h0m8.5-4.5h0m4.5 50h0m12.5 1h0m11.5 30h0m7.5-8h0m6.5-9.5h0m5 19h0m5.5-0.5h0m9-9.5h0m15 0.5h0m-78.5 29.5h0m5 3h0m3.5-4.5h0m4.5-1.5h0m12-3.5h0m-10.5 26h0m11.5-8.5h0m5 2h0m40 3.5h0m-84 32.5h0m10-13.5h0m3.5 4h0m9-4.5h0m3.5-5h0m6.5 5h0m3-5h0m5.5 8.5h0m3.5 10.5h0m11-0.5h0m-48.5 14h0m22.5-8.5h0m14.5 8.5h0m37 0h0m-54.5 22.5h0m16 4h0m-44 42h0m16.5 3h0m6.5 6.5h0m9.5 0h0m-9.5 36.5h0m25-4.5h0m5 0h0m5.5 14h0m6-18.5h0m9.5 18h0m9-17h0m7.5 2.5h0m-61.5 28h0m15.5-1.5h0m10.5-4.5h0m10 6.5h0m4.5 0.5h0m5.5-7.5h0m21 10h0m-35.5 15.5h0m7.5 12h0m5.5 0.5h0m8.5-4h0m13-0.5h0m-68 15h0m22 3h0m15-3.5h0m6 9h0m7.5-8h0m6.5-6h0m9.5 19h0m14.5-17.5h0m19 8h0m-99 25h0m37-2h0m-68 13.5h0m2.5 12.5h0m4-8h0m6 0.5h0m3.5-5h0m-9.5 30.5h0m10-6h0m-25 27h0m19 8h0m-12.5 16.5h0m-9 25h0m15 9.5h0m6.5-12h0m6 7h0m5-14h0m6 13h0m7 5.5h0m-23 23.5h0m4.5-19h0m4.5 14h0m3.5 5h0m10-10h0m-25 19.5h0m-6.5 22h0m11-4h0m7 16.5h0m7.5-12h0m-3 27h0m24.5-3h0m3 12.5h0m5-18h0m2.5-1h0m4 19h0m4 0h0m2.5-10.5h0m2.5 10.5h0m9.5-19h0m5 19h0m8.5-4.5h0m1 21.5h0m-32 19.5h0m23.5-4h0m-52.5 27h0m-34 23h0m30-9h0m14.5 4.5h0m17.5 4.5h0m26 23h0m-19.5 22.5h0m68.5 23h0m10.5 43h0m-60.5 49h0m-8.5 18h0m-57 27.5h0m63 0h0m77.5 23h0m-151.5 14h0m10.5 18.5h0m6.5-19h0m5 0h0m4.5 19h0m5-18h0m7.5 8.5h0m13.5 1.5h0m-40.5 21.5h0m13.5-6h0m25 6h0m14.5 4h0m28-3.5h0m-38 18h0m34 4.5h0m-99.5 65.5h0m45.5 0h0m32.5 79.5h0m-28 13.5h0m-34.5 20.5h0m42 35h0m-21.5 60.5h0m-7 18.5h0m31 27.5h0m-45.5 46h0m65.5 68.5h0m-27 46h0m1 27.5h0m44 41h0m-102.5 46h0m38 17h0m-4.5 97.5h0m-8 26.5h0m10 3.5h0m7 1.5h0m6.5-18h0m5.5 0h0m9.5 2h0m17 12h0m77.5-7h0m174-2285h0m10-4h0m15 9h0m-13.5 10h0m8.5 8.5h0m4.5-9h0m5.5 9h0m-12 26.5h0m6.5-17.5h0m3.5 0h0m5 5.5h0m6.5-3.5h0m-17 22h0m4.5 12h0m3-8.5h0m-34.5 28h0m16.5 18h0m9 13h0m18.5-8.5h0m-45.5 19h0m8-5.5h0m9.5 9.5h0m-17.5 23h0m11.5 3.5h0m4-3.5h0m4-9.5h0m4.5 19h0m3-14h0m4 14h0m2 0h0m3 0h0m8.5-15.5h0m-14.5 30.5h0m3.5-3h0m11-0.5h0m-17.5 31.5h0m-0.5 14.5h0m8 10.5h0m-22.5 9.5h0m6 9h0m6-14h0m5 5h0m7.5-4.5h0m-24.5 41h0m3-18.5h0m4 19h0m4-13.5h0m3 3.5h0m5.5 6.5h0m-26.5 18h0m6.5-2h0m2.5 10.5h0m2-19h0m1 0h0m1 0h0m0.5 0h0m1 0h0m1 19h0m1 0h0m0.5 0h0m1.5-19h0m1 19h0m0.5-19h0m0.5 19h0m1 0h0m0.5 0h0m1 0h0m1-5h0m0.5-14h0m1.5 19h0m0.5 0h0m1.5-19h0m1.5 0h0m2.5 19h0m4.5 0h0m3-14.5h0m-18.5 23.5h0m-19 35h0m15.5-12h0m14 4.5h0m-18 13h0m5 2h0m6 30.5h0m-16.5 31.5h0m3-13h0m1.5 14h0m1.5-19h0m1.5 19h0m1 0h0m0.5 0h0m1 0h0m1-19h0m1.5 0h0m2 0h0m1 19h0m2.5-19h0m3 9h0m4-2h0m-20 24h0m4-2.5h0m3.5-5.5h0m2.5 0h0m4.5 19h0m7.5-12.5h0m-34 34.5h0m9-9.5h0m1.5 10.5h0m3 0h0m5.5-8h0m-8.5 21.5h0m15.5 7.5h0m17 15h0m-35.5 55h0m5.5 0.5h0m3.5-19h0m3.5 15h0m2.5 4h0m3.5-19h0m3.5 19h0m-32.5 13.5h0m12-9.5h0m6 17h0m3-17h0m3.5 10.5h0m-13.5 22h0m18.5 8h0m-9.5 17.5h0m-1.5 16h0m-12 23.5h0m5 3.5h0m3 9.5h0m1.5-19h0m3 0h0m2.5 0h0m2 0h0m-14.5 28h0m6 0.5h0m3 13.5h0m3.5-7h0m6 7h0m-12.5 18h0m7.5-1.5h0m7 6.5h0m11-1.5h0m-28 19h0m4.5-2h0m3.5-3h0m4 10.5h0m3.5-19h0m2.5 0h0m3 19h0m2.5-19h0m2 0h0m2.5 0h0m12.5 9.5h0m-28.5 32.5h0m5 0h0m7 0h0m-16.5 13h0m7.5-9h0m-16.5 55h0m11.5-4h0m3.5 4h0m9.5 8h0m-28.5 10.5h0m19 37h0m2-19h0m2.5 19h0m3.5-14h0m2.5 14h0m2 0h0m2.5 0h0m6.5-19h0m-29.5 32h0m5-5.5h0m3.5-4h0m5 9.5h0m4.5 9.5h0m5-19h0m-24 23h0m6.5 0h0m5 7h0m6 7h0m6 5h0m-25 13.5h0m12-0.5h0m3 3.5h0m2-12.5h0m3 5.5h0m1.5 13.5h0m3-14.5h0m3 14.5h0m-71 13.5h0m32-2h0m23.5 2h0m-35 20h0m16 12h0m5-18.5h0m4.5 0h0m14 6.5h0m18.5 3h0m-30 31h0m9-12.5h0m-16.5 27h0m23.5-1.5h0m-8 34h0m-29 4.5h0m6 18.5h0m5-15.5h0m3.5 11h0m7-9.5h0m5.5 14h0m-54 9.5h0m26.5 3h0m11-7h0m10.5 11h0m8.5 4.5h0m13.5-15.5h0m-16.5 30.5h0m-13 32h0m6.5 0h0m3-18h0m3 19h0m-7.5 17.5h0m4.5-1h0m4.5 2h0m1.5-9.5h0m2 13.5h0m2-19h0m1 0h0m0.5 0h0m2.5 19h0m2-19h0m2 7h0m-20 25.5h0m8.5-9.5h0m-4.5 35.5h0m7.5-12.5h0m-7.5 36.5h0m-9 17h0m10 9h0m4.5-5.5h0m16-1.5h0m-21.5 20.5h0m1.5 29.5h0m-50.5 15h0m50.5 49.5h0m-10 46h0m0.5 22.5h0m-2 23h0m17.5 3h0m-32.5 43h0m8.5-9.5h0m5.5 18.5h0m2.5-18.5h0m4 19h0m2.5 0h0m3.5-19h0m7 5h0m7.5 1h0m-25 17.5h0m7-0.5h0m5.5 19h0m8-4h0m-63 17.5h0m44 6.5h0m23-2h0m-31 64h0m-30 23h0m53.5 45.5h0m-21 19h0m8 27h0m1 23h0m1 68.5h0m-33 23h0m-81 23h0m77.5 23h0m27.5 68.5h0m2.5 69h0m27.5 0h0m-18.5 26.5h0m-7 88h0m0.5 19h0m8 50h0m-21 68.5h0m8 9.5h0m5-19h0m4.5 12.5h0m3.5 6.5h0m7.5 0h0m12-3h0" stroke="#000" stroke-opacity="0.45" stroke-width="5.3" stroke-linecap="round" fill="none"/>
<path d="M569 126.5h0m31 0h0m19 8h0m53-8h0m-124 23h0m8-9.5h0m31 11h0m68-1.5h0m-124 14h0m14.5 13.5h0m10.5-11.5h0m4.5 16.5h0m10.5-11.5h0m-19.5 25h0m8.5-9h0m11 4.5h0m30.5 27.5h0m-49.5 26.5h0m12-8.5h0m38 4.5h0m-26.5 23h0m17.5-4h0m23 1h0m105 3h0m-181 28.5h0m10 1h0m6-16h0m2.5 0h0m10 14h0m3-14h0m5 16.5h0m10.5-10.5h0m12-1h0m-44 27.5h0m10 2h0m8-3.5h0m-9.5 28h0m-12.5 19h0m19.5 0h0m-52.5 23h0m36.5 9h0m9.5-17.5h0m10 8.5h0m8.5-4.5h0m-5.5 27.5h0m7 9.5h0m17 0h0m6.5-19h0m9.5 9.5h0m20 4h0m62-4h0m-164 18.5h0m4.5 4h0m4-9h0m4 19h0m1.5-19h0m3 0h0m2.5 0h0m1 0h0m2.5 19h0m2.5-19h0m2 19h0m1.5-19h0m1 19h0m0.5 0h0m1 0h0m1.5-19h0m2 0h0m1 0h0m2.5 19h0m1-19h0m2 19h0m1.5-19h0m1 19h0m5.5-5h0m4-5.5h0m5 1h0m11 8h0m-27 10.5h0m-26.5 24.5h0m20.5 3h0m8.5 2h0m-16.5 27.5h0m13-7h0m57.5 23h0m-91.5 25.5h0m8-11h0m5.5-1h0m5 8.5h0m2 10.5h0m3.5-19h0m5.5 19h0m2.5-19h0m3 19h0m3-19h0m5.5 19h0m3-14.5h0m3.5 14.5h0m7.5-11h0m4.5-8h0m-41.5 37h0m7-4.5h0m6.5 9.5h0m7 0h0m7.5-2.5h0m9.5-4.5h0m-60.5 16h0m20 4.5h0m10.5-4.5h0m8 5.5h0m12.5-5.5h0m-35.5 27.5h0m29.5 0h0m10 22.5h0m-54 38h0m15.5 6.5h0m3.5 11h0m4.5 0h0m5.5-17h0m3.5 4h0m10 3.5h0m-53.5 23h0m28.5 4h0m6-1h0m12.5 0.5h0m4.5 2h0m-48.5 17.5h0m44 0h0m-31 23h0m2.5 22.5h0m-20.5 23h0m17.5-1.5h0m6.5 1.5h0m10.5-4.5h0m4 4.5h0m8.5-3.5h0m8.5-4.5h0m-38 31h0m10.5-8h0m11.5 3.5h0m10 4h0m18 0.5h0m-57.5 17h0m17 6h0m10.5-8h0m9 11.5h0m-40 20h0m8-4h0m4 13h0m4 0h0m5.5-9.5h0m3.5 9.5h0m6.5-19h0m5.5 0h0m5 0h0m8 19h0m13.5-13.5h0m-50 26.5h0m8.5-6h0m9-3h0m-21 32h0m22-4h0m-40 50h0m35 0h0m16-8.5h0m14 8.5h0m-39.5 18.5h0m-13 23h0m5-0.5h0m7.5 0.5h0m5.5 0.5h0m2 13.5h0m6.5-19h0m7 0h0m31.5 5h0m-62.5 20.5h0m13.5 6.5h0m11.5 5.5h0m5.5 1h0m14.5-3h0m17.5-0.5h0m-58 20h0m12.5-4.5h0m9 14h0m7.5-13h0m13 7.5h0m-71 19h0m10-9.5h0m3.5 0h0m3 14.5h0m1.5-14.5h0m2.5 19h0m2.5 0h0m2.5 0h0m1 13.5h0m51.5-4.5h0m-52.5 27.5h0m28.5-1h0m18.5 4.5h0m27.5 3.5h0m11-3.5h0m23-8h0m79 4.5h0m-159 23h0m57.5 0h0m-36 19.5h0m83.5 3h0m-31 23h0m-85.5 19h0m48 0h0m11 10.5h0m23-8h0m27.5 1.5h0m38.5 0h0m98.5 0h0m-157 21h0m23.5 2h0m18.5 6.5h0m12.5-6.5h0m24-4.5h0m71 4.5h0m-156.5 23h0m-114.5 23.5h0m18-5h0m7.5 14h0m9-2.5h0m-35.5 17.5h0m6-11.5h0m1.5 0h0m2.5 0h0m1.5 19h0m1.5 0h0m2-4.5h0m2-14.5h0m2 19h0m1.5-13h0m3-6h0m-26.5 32.5h0m16 4.5h0m9.5 14.5h0m12 3.5h0m-17 31.5h0m-17 18h0m11 0h0m4 6.5h0m9-8h0m4 21.5h0m66.5 22.5h0m204.5 19h0m-211.5 27h0m-59 46h0m-39.5 45.5h0m80 0h0m-30.5 23h0m-7 18.5h0m-30 19h0m9.5 17.5h0m6 0.5h0m3.5-19h0m6 14.5h0m5.5 4.5h0m7.5-19h0m8 9.5h0m-37.5 23h0m17.5-7h0m10 6h0m9.5-8h0m18.5 9h0m-67.5 27h0m13.5-12.5h0m127.5 54h0m-126 16.5h0m25 70.5h0m-39 27.5h0m34.5 0h0m-1.5 45h0m-6 47h0m6.5 45.5h0m55.5-4.5h0m-67.5 50.5h0m-20 68.5h0m13 69h0m26 0h0m17.5 23h0m-17 68.5h0m-49.5 46h0m35.5 19.5h0m-34 92h0m11-6h0m5 5h0m3-5.5h0m1.5 0h0m4 0h0m5 0h0m420-2282h0m26-8h0m8-1.5h0m21.5 14h0m-39.5 27h0m11-8.5h0m8 8.5h0m7.5-7.5h0m-21.5 22h0m11.5 5.5h0m8.5-5.5h0m9-3h0m-41 26h0m12 0h0m7.5 3.5h0m9.5-8h0m-30 27.5h0m30.5 25.5h0m10.5 1.5h0m31.5-4.5h0m-75 27.5h0m16.5 4h0m11.5-18h0m90 9.5h0m-120 28.5h0m6.5 4h0m7.5-19h0m4.5 9.5h0m3 9.5h0m3.5-7h0m8-6h0m2.5 13h0m17.5-9.5h0m-50 13.5h0m7 12h0m7.5-12h0m-7.5 28h0m0.5 27h0m35-4.5h0m-46 27.5h0m33 3h0m12.5-3h0m10-9.5h0m20 5h0m-85 23h0m21.5 9h0m8-7h0m8.5 12h0m5 0h0m8.5-2h0m26-7.5h0m-54.5 27h0m5 0h0m5.5-13.5h0m4 5h0m3.5 14h0m1.5-19h0m1 19h0m1.5 0h0m3-19h0m2.5 19h0m2-19h0m1.5 19h0m1.5 0h0m1.5 0h0m1.5 0h0m2.5 0h0m2 0h0m2-19h0m2 19h0m3.5-19h0m1.5 19h0m1.5 0h0m3.5-19h0m4 4.5h0m4.5 14.5h0m6-4h0m24.5-9h0m-42 28.5h0m-36.5 21h0m26 4h0m8.5-4h0m-9 19h0m13 12h0m-52.5 14.5h0m-6 32.5h0m6.5 0h0m4 0h0m6-1h0m2.5-18h0m2.5 0h0m1.5 11.5h0m2.5 7.5h0m1.5-19h0m1 5h0m2-5h0m2.5 19h0m5.5-19h0m7 19h0m6-14h0m-29 30h0m6-11.5h0m2 9h0m4.5 0h0m3-9.5h0m7 19h0m-45 13.5h0m22.5-9.5h0m10 5h0m7 6.5h0m5.5 7.5h0m18-9.5h0m-6 23h0m-23.5 31.5h0m-20.5 32.5h0m13 12.5h0m5.5-10h0m3.5 3h0m5-10.5h0m4.5 0h0m7.5 2h0m26 7.5h0m-75.5 18.5h0m7 8.5h0m3.5-13.5h0m7.5 0h0m12 9.5h0m-24 18.5h0m5.5 27.5h0m9.5 19h0m6 26.5h0m17.5 0h0m6-4.5h0m6 14h0m5 0h0m6-19h0m10 13h0m13-9.5h0m-77.5 22.5h0m4 16h0m4.5-15.5h0m6.5 2h0m11 0h0m-12.5 21h0m12.5 11.5h0m4.5-2.5h0m-55.5 20h0m11.5-9.5h0m10 13h0m4-9h0m8 10h0m4-6.5h0m6.5 6h0m3.5-4h0m5.5-9.5h0m4 0h0m9.5 19h0m-47.5 9h0m21.5 12.5h0m23-8h0m76 0h0m-101 18h0m17.5 4.5h0m-44 42.5h0m14-2h0m7.5-3h0m9 8.5h0m2 46h0m13.5 4h0m6-1h0m4.5 0h0m8.5-3h0m7.5-9h0m8.5 9h0m7.5 9.5h0m-61 9h0m15.5-2h0m10.5 12.5h0m10 3h0m4 0h0m11-9.5h0m31 0h0m-51 27h0m8 5.5h0m5-19h0m8 18.5h0m14-0.5h0m-60 14.5h0m21.5 0h0m7.5 4.5h0m8.5-12h0m4.5 10.5h0m6.5-7h0m10-5.5h0m16.5 9.5h0m18.5-3.5h0m-97.5 26h0m51.5 0.5h0m-86.5 13.5h0m3 19h0m4-6.5h0m6 4h0m3.5 2.5h0m-10 16h0m11-4.5h0m-24.5 27.5h0m22-3h0m-16 25.5h0m-8.5 16h0m14 14h0m7-16.5h0m5 16.5h0m5.5 0h0m5.5-1.5h0m8.5-16.5h0m-24 22h0m4.5 0h0m5 0.5h0m4 9h0m10-4.5h0m-26.5 31h0m-4 23h0m9-13h0m8 7.5h0m7.5 5.5h0m7.5 19h0m13 2.5h0m5-2.5h0m3-9.5h0m2 19h0m6.5-9.5h0m1.5-9.5h0m3 0h0m3 5h0m9 4.5h0m5 0.5h0m12-0.5h0m0.5 23h0m-26.5 23h0m18 0h0m-55 18.5h0m-20.5 27.5h0m17.5 8h0m14-4h0m37.5-4h0m9.5 23h0m-24.5 18h0m68.5 23h0m18 50.5h0m-62 46h0m-10.5 22.5h0m-44 23h0m66.5 0h0m-106 46h0m12.5-9.5h0m10 19h0m6-19h0m6 19h0m3.5-19h0m5 0h0m7.5 14h0m20-4.5h0m-45 19h0m12.5 10h0m24.5-1.5h0m14-9.5h0m-51.5 28h0m51 0h0m34 0h0m-106 69h0m31.5 22.5h0m44.5 45h0m-27 26h0m-33 20.5h0m44.5 23h0m-26 64.5h0m-8.5 33.5h0m34.5 13.5h0m-26.5 72h0m13 68.5h0m5 19h0m-0.5 18h0m56.5 54.5h0m-113.5 42h0m32.5 50h0m4.5 68.5h0m-10 23h0m7.5-9.5h0m7 19h0m6.5-9.5h0m5.5 9.5h0m9-0.5h0m19.5-10.5h0m78.5 1.5h0m175.5-2291.5h0m6-4h0m15 13.5h0m-15 17.5h0m8.5 5h0m4.5-18.5h0m6.5 0h0m-12 25h0m5.5-2h0m4.5 18h0m4 1h0m7.5-2h0m-17.5 25h0m4-19h0m3 0h0m-21.5 32.5h0m5 26h0m10-3.5h0m19.5-3h0m-46 27h0m5 8.5h0m9.5-14h0m-11.5 27.5h0m6.5-5h0m4 9.5h0m4-4.5h0m3.5-9.5h0m4.5 19h0m2.5 0h0m2 0h0m4-19h0m10 9h0m-16.5 29.5h0m3-15.5h0m13 11.5h0m-18 11.5h0m-1 35h0m7-12.5h0m-21.5 37h0m6-13h0m6-1h0m4 19h0m9-6h0m-25.5 10.5h0m4 4.5h0m3 14h0m3.5 0h0m4.5-6h0m7-6h0m-29.5 31h0m7-12h0m2.5 16h0m1.5-19h0m1 19h0m1 0h0m0.5 0h0m1-19h0m1 0h0m1 9h0m0.5-9h0m1.5 19h0m1-13.5h0m0.5-5.5h0m0.5 0h0m1 19h0m0.5-19h0m1 19h0m1-14h0m0.5-5h0m1.5 19h0m0.5 0h0m1.5 0h0m2-19h0m2.5 9.5h0m4 9.5h0m3.5-5h0m-18.5 22.5h0m-14.5 19h0m11 3.5h0m15.5-8h0m-19.5 17.5h0m5.5 16.5h0m-20 39h0m8.5-8.5h0m3 18h0m2 0h0m1.5 0h0m1 0h0m1 0h0m0.5 0h0m1-14.5h0m1.5 5h0m1-9.5h0m2 6h0m2 4.5h0m2 4h0m2.5 4.5h0m4-19h0m-19.5 25.5h0m4 13h0m3-15.5h0m2.5 0h0m6.5 1h0m6.5 15.5h0m-35 7h0m9 18.5h0m2 0h0m4-5.5h0m5-10.5h0m-3 29.5h0m-0.5 22.5h0m-15 23h0m6 13.5h0m5.5 0h0m4 0h0m3 0h0m2.5 0h0m3.5 0h0m4.5 0h0m-32 28h0m11.5 14h0m5.5 0h0m3-14.5h0m5.5 2h0m-9.5 26h0m13.5 0h0m-7 23h0m0.5 22.5h0m-17.5 25.5h0m4.5 2h0m3-14h0m2 0h0m2.5 14h0m3 5h0m1.5 0h0m-13.5 17.5h0m6-0.5h0m2 6h0m4-19h0m7 0.5h0m-14 41h0m9.5-10h0m7-3h0m10 4h0m-28.5 14.5h0m5 3.5h0m2.5-4.5h0m4 0h0m4 19h0m2.5-9.5h0m2.5-9.5h0m2.5 19h0m2 0h0m3-19h0m16 7h0m-30.5 25.5h0m3.5-9.5h0m8.5 9.5h0m-18.5 18h0m11.5 4h0m-18.5 42h0m9.5-4h0m5 4.5h0m8-4.5h0m-20.5 54.5h0m11 9.5h0m2.5 0h0m2.5 0h0m3.5-5.5h0m2-13.5h0m2.5 5h0m3.5 4.5h0m-30 22.5h0m6-9.5h0m5.5 16.5h0m3.5-9h0m4-2.5h0m4.5-5h0m8.5 9.5h0m-25.5 23h0m4.5 9.5h0m5.5-4h0m6-15h0m5.5 0h0m-23.5 28.5h0m11 13.5h0m3-12.5h0m2 12.5h0m2.5 0h0m1.5-19h0m3.5 0h0m2.5 19h0m-54 13.5h0m19 0h0m33.5 0h0m-40 23h0m8-9h0m4 18.5h0m5.5-5h0m13.5-1.5h0m20-7h0m-31.5 24.5h0m11.5 2.5h0m-19 27.5h0m41.5-5h0m-23 23h0m-31 31.5h0m6-18h0m3.5 19h0m4.5-14h0m6.5 9h0m7.5-12.5h0m-52 31h0m23-5.5h0m10.5 4h0m11.5 9h0m7.5-17h0m22 9.5h0m-25 32.5h0m-13.5 4.5h0m7 0.5h0m2.5-1h0m4 9.5h0m-7.5 14h0m4 18h0m4 0h0m2.5 0h0m1-19h0m2 0h0m1 0h0m1 14.5h0m2 4.5h0m2.5 0h0m2.5 0h0m-18 10h0m8 3.5h0m-5.5 30.5h0m-17 15.5h0m16 8.5h0m-8.5 17.5h0m9.5-10h0m5 4h0m20 3h0m-18 23h0m-6.5 13.5h0m-48.5 32.5h0m38.5 68.5h0m0.5 18h0m8 27.5h0m-9 19h0m-59 27h0m47 21h0m4-7.5h0m6 19h0m2-19h0m4.5 0h0m3 19h0m2.5-19h0m7.5 14h0m11-4.5h0m-25 23h0m5 0h0m4.5 0h0m10 0h0m-52 23h0m35.5 0h0m21-2.5h0m-30 69h0m-28.5 25h0m51 42.5h0m-24 30h0m-28 42h0m-54 23h0m93 41.5h0m-27.5 27h0m-75.5 23h0m73 23h0m7 91.5h0m16.5 41.5h0m-9 27.5h0m10 23h0m1 64h0m6 27.5h0m-20.5 68.5h0m2 41.5h0m8.5-4h0m3.5 18h0m5.5-15h0m3 9.5h0m8.5-5h0m11.5-0.5h0" stroke="#000" stroke-opacity="0.45" stroke-width="5.3" stroke-linecap="round" fill="none"/>
<path d="M570.5 122h0m37.5 4.5h0m11-8.5h0m59 8.5h0m-127.5 19h0m14 4h0m23.5 6h0m72-6h0m-126 23h0m11.5-6.5h0m12-3h0m6 1.5h0m9 13h0m-20.5 13.5h0m8 14h0m12.5-6h0m36 19.5h0m-55.5 14.5h0m11.5 12.5h0m-39 18.5h0m50.5-4.5h0m20.5 4.5h0m23.5 0h0m-106 23h0m26.5-6h0m10 15.5h0m5.5-19h0m4.5 5.5h0m8.5 13h0m2.5-18.5h0m8 9.5h0m8.5 2.5h0m15.5-2.5h0m-47.5 18.5h0m10.5 10.5h0m11-5.5h0m-12.5 20.5h0m-11 21.5h0m20.5 1h0m-29 25h0m10-4h0m9-5.5h0m10 5h0m11 6h0m-7.5 17h0m7 7h0m19-2.5h0m5 0h0m8 4.5h0m20-13h0m68 8.5h0m-170 27.5h0m5-0.5h0m3.5-3h0m4.5 8.5h0m1.5-19h0m3 9h0m2-4h0m2 14h0m1.5-19h0m3 19h0m2 0h0m1-19h0m1 0h0m1 19h0m0.5-19h0m2 19h0m1.5-19h0m1.5 19h0m2 0h0m1 0h0m2 0h0m2-19h0m1 5h0m5-5h0m5 13h0m5.5-8h0m17 4.5h0m-29.5 23h0m-25.5 23h0m16-4.5h0m16 4.5h0m-24.5 15.5h0m14.5 3h0m-45.5 50h0m9-7h0m9 9.5h0m4.5 7h0m5 0h0m4-8.5h0m2.5 8.5h0m5-19h0m2.5 11.5h0m3-5.5h0m2.5-6h0m6 0h0m3 0h0m3.5 0h0m7 0h0m4.5 19h0m-41.5 4.5h0m7.5 4.5h0m7-4h0m7-1h0m10.5 9.5h0m6-6h0m-60 33.5h0m19.5-9h0m13.5 7h0m6.5-6h0m11 8h0m-35 14h0m-23.5 27h0m22.5 23h0m-11 23h0m12.5 5.5h0m4 4h0m3.5 0h0m6-9.5h0m3.5 3h0m17-3h0m-59 19h0m27 12.5h0m6-16.5h0m12.5 16h0m6-7.5h0m-34 22.5h0m30-4h0m-33.5 22h0m2.5 23h0m-12.5 27.5h0m10.5 3h0m6.5-7.5h0m10.5 9h0m4 5h0m8-2.5h0m9.5-7h0m-39 18.5h0m11.5 4.5h0m12 4h0m13.5-4h0m13.5-4.5h0m-58 34h0m17-11h0m11.5 4.5h0m13.5 0h0m-44 28h0m6.5-2h0m3.5 6.5h0m4.5-11h0m5.5 6.5h0m3.5-14.5h0m7.5 9.5h0m5 0h0m5 0h0m7.5-4.5h0m28 4.5h0m-64.5 13.5h0m9.5 9.5h0m10 0h0m-22 18.5h0m24.5 4h0m-32.5 46h0m26.5-3.5h0m13.5 12h0m15-13h0m-76.5 50.5h0m24 3.5h0m5-0.5h0m6 1h0m6-1h0m2 6.5h0m6-0.5h0m7.5 0.5h0m-56 13h0m25.5 9h0m13.5-13.5h0m11-1.5h0m6 15.5h0m17-9.5h0m14.5 7.5h0m-56.5 11.5h0m14 6h0m6.5-6h0m7 7h0m15-3h0m-70 20h0m6.5-6.5h0m3.5 19h0m3.5 0h0m1.5-9h0m2-4h0m2.5-6h0m2.5 0h0m5.5 32.5h0m55.5 0h0m-56.5 23h0m25.5 3h0m17-6.5h0m30 2h0m12 1.5h0m31 0h0m-144.5 23h0m63 0h0m-51 22.5h0m66 0h0m86.5 0h0m-34 20.5h0m-79 25.5h0m38.5 3.5h0m11 6h0m25-7h0m27.5-6.5h0m39.5 0.5h0m124 3.5h0m-182.5 24h0m24-3.5h0m15-5h0m13 3h0m27.5 4.5h0m-211.5 23h0m124-4h0m-108 27h0m10.5 3.5h0m6.5 6h0m12-9.5h0m-37.5 28.5h0m4.5 3.5h0m2 0h0m2.5-5h0m1-14h0m2 10.5h0m2-10.5h0m1.5 0h0m2.5 0h0m1.5 19h0m3.5-5h0m-20 18.5h0m11-3.5h0m9 29h0m-26.5 20.5h0m21.5-7h0m-17 28.5h0m9 9h0m5-4h0m15.5-3.5h0m-2 18.5h0m70.5 27h0m212.5 23h0m-319 46h0m14 46h0m-16.5 18.5h0m100.5 4h0m-53 18.5h0m-5 31.5h0m-31 27h0m11.5-9.5h0m3-8h0m4 0h0m5.5 4.5h0m5.5-4.5h0m8 0h0m8 5h0m-36 23h0m18 10h0m8-11h0m9.5 5.5h0m27 0h0m-75.5 14h0m25.5 9h0m-25 68.5h0m15.5 0.5h0m24 73h0m-30.5 18h0m9 23h0m20.5 23h0m-5.5 46h0m9 45.5h0m128.5 0h0m-148 41.5h0m-1 73h0m-7.5 64.5h0m31 4.5h0m14 18.5h0m-53 96h0m4.5 23h0m26 46h0m-41.5 69.5h0m9-10.5h0m5 0h0m2.5 19h0m2.5-11.5h0m3.5-2.5h0m5 14h0m431.5-2301h0m15 0h0m8.5-1h0m23 1h0m-42.5 14.5h0m11 4h0m9-3h0m20.5 7.5h0m-33.5 18.5h0m10.5-2h0m8 2h0m11 7.5h0m-41 16h0m10-0.5h0m8 13.5h0m8.5-4.5h0m-23 41h0m25-3h0m9.5-5.5h0m46.5 8.5h0m-90 14.5h0m16.5 0h0m11.5 18h0m-39.5 13.5h0m11-7h0m7 7h0m6-9.5h0m4.5 19h0m2-19h0m6.5 8.5h0m5 10.5h0m3 0h0m18.5-14h0m-51 27.5h0m11 0h0m4-2h0m-5.5 27h0m11 20.5h0m22 7h0m-36 16h0m24 7h0m11.5-11.5h0m15 4.5h0m16.5 4.5h0m-84 21.5h0m20-7h0m6.5-3.5h0m8.5 17h0m7.5-9.5h0m6.5 9.5h0m33-9.5h0m-61 31.5h0m4.5-18h0m6 0h0m3 13.5h0m4 5.5h0m1.5 0h0m1-19h0m1 19h0m4 0h0m1.5-19h0m2 0h0m2 9.5h0m1.5-9.5h0m1.5 0h0m2 9.5h0m2 9.5h0m1.5-19h0m2 19h0m3.5-19h0m2 0h0m1.5 0h0m2 19h0m3.5-11h0m4-8h0m4.5 5.5h0m6-1.5h0m27 5.5h0m-31.5 23h0m-43.5 23h0m19.5 9h0m14-9h0m-10.5 22.5h0m9 9.5h0m-52.5 9h0m-6 18h0m7 8.5h0m4 10.5h0m6-18h0m2.5 18h0m2.5 0h0m1-19h0m2.5 0h0m2 0h0m0.5 19h0m2-19h0m3 19h0m5-19h0m8 13.5h0m5 0.5h0m-29 26h0m6.5-17h0m1.5 19h0m5 0h0m4.5-9.5h0m5.5-7h0m-41 30h0m19 9.5h0m10.5-6h0m5.5-6.5h0m11.5 3h0m14.5-3.5h0m-7 22h0m-22.5 27h0m-22 50h0m12.5-4.5h0m5.5 10h0m3-19h0m5.5 0h0m4.5 0h0m10 9.5h0m48 0h0m-100 27h0m7-12.5h0m3.5-1h0m7.5 19h0m13.5-13.5h0m-25.5 17.5h0m11 32.5h0m3.5 26h0m7 15h0m17.5 0h0m5.5 9h0m6.5 5h0m4.5-19h0m6 0h0m9.5 5h0m16 8h0m-80 18.5h0m4-2.5h0m4-6h0m6.5 1h0m-33.5 31.5h0m32.5 7.5h0m12.5 2h0m4 0h0m-50.5 13.5h0m7 4.5h0m9.5 3.5h0m5-4h0m8.5-13h0m2.5 18.5h0m7-0.5h0m3.5-13.5h0m5 14h0m4-19h0m10 19h0m-41.5 13.5h0m16-2h0m23-3h0m-38.5 27.5h0m13.5 4.5h0m28 18.5h0m-55 26.5h0m15.5 4h0m6-17h0m10 14h0m2.5 37h0m12 13h0m7-1h0m3.5 2h0m9-14h0m7-5h0m8 17h0m8-17h0m-60 36h0m14.5 3h0m12.5-5.5h0m7.5 3.5h0m4.5-14.5h0m11 5h0m-46.5 27.5h0m27 8.5h0m7.5-8h0m4.5 9h0m9.5-17.5h0m13.5 7.5h0m-60.5 19h0m21.5 0h0m7.5 13.5h0m8.5-1.5h0m4.5 0h0m6.5 2h0m11-9.5h0m20 0h0m-113.5 23h0m36 0h0m-48 23h0m6.5-9.5h0m3 0h0m5 0h0m5.5 0.5h0m6.5 10h0m-12.5 15.5h0m10 14.5h0m-23 21.5h0m23-10.5h0m-10 26.5h0m-11 23h0m8.5 4h0m6.5 4h0m6-17.5h0m5 19h0m6-19h0m-29.5 32.5h0m14 0h0m3.5-9.5h0m5.5 18.5h0m7.5-11.5h0m7.5 5.5h0m-26.5 27.5h0m-4 14.5h0m8 4h0m9-9.5h0m8 6h0m8 19.5h0m11.5 10.5h0m4.5-2h0m3 4.5h0m3-12h0m5-2h0m1.5 14h0m3 0h0m3-19h0m9 19h0m5.5-19h0m0 32.5h0m12.5-4.5h0m-20.5 27.5h0m19.5 0h0m-62.5 27.5h0m-20 14h0m17.5 3h0m16 1.5h0m41 0h0m11 23h0m-26.5 22.5h0m63 27.5h0m22 41.5h0m-66 41h0m-11 32.5h0m-37.5 18h0m61.5-4h0m-103 50h0m11.5 0h0m7.5 9.5h0m5.5-19h0m5.5 0h0m4 0h0m4.5 0h0m12 7.5h0m17-2.5h0m-45.5 31h0m18.5-3.5h0m19-4h0m18 4h0m-36 23h0m30.5-5h0m47.5 5h0m-110.5 68.5h0m44 23h0m23 40.5h0m-23 28h0m-15.5 46h0m-8 23h0m-27.5 68.5h0m26-8h0m36 31h0m-30 64.5h0m12.5 68.5h0m6 31h0m-1.5 28.5h0m81.5 36.5h0m-136.5 48h0m36 44h0m9.5 68.5h0m-20 17h0m7-3.5h0m8 9.5h0m7-4.5h0m5.5 8.5h0m8-2h0m20.5 1h0m80-6.5h0m173-2292.5h0m6.5 8.5h0m14.5-5.5h0m-15 33h0m9.5-17h0m3 13.5h0m8.5 3h0m-14 14.5h0m5.5 10h0m4.5-19h0m4.5 0h0m8 10.5h0m-18.5 12.5h0m4 19h0m6.5-8.5h0m-17.5 22h0m-2.5 31h0m10-18h0m-46 32.5h0m20.5 5h0m6.5-9h0m7 8.5h0m-11.5 14h0m6.5 14h0m4.5 0h0m3.5-19h0m4 0h0m4 19h0m3-11.5h0m2.5 5h0m4-3h0m-17.5 23h0m10.5-7h0m4.5 9.5h0m11.5-8.5h0m-16.5 28.5h0m-2.5 17h0m9.5 6h0m-24 32h0m7-18.5h0m5 19h0m4-19h0m12 9.5h0m-28.5 13.5h0m3.5 14h0m3-5.5h0m3.5-8.5h0m4.5 4.5h0m7 14.5h0m-27 8.5h0m5 14.5h0m2-19h0m1.5 0h0m1 10.5h0m1-10.5h0m1 19h0m0.5-4.5h0m1-14.5h0m1 19h0m1 0h0m1 0h0m1 0h0m0.5 0h0m0.5-19h0m1 0h0m1 9.5h0m0.5 9.5h0m1-19h0m0.5 0h0m2 0h0m0 0h0m1.5 0h0m2.5 19h0m2 0h0m4.5-19h0m3.5 0h0m-18 23.5h0m-15 27h0m13-3h0m23 8h0m-29 22h0m5.5-9h0m-20 51h0m8-5h0m3.5 14.5h0m1.5-14.5h0m1.5 19h0m1.5-19h0m0.5 19h0m1-19h0m1 19h0m1 0h0m1 0h0m2 0h0m2.5-19h0m1.5 0h0m3.5 0h0m3.5 19h0m-20 21.5h0m4-17.5h0m3 0h0m2.5 19h0m6.5 0h0m7.5-17h0m-34 21h0m7 0h0m2.5 0h0m3.5 0h0m5.5 19h0m-2.5 9h0m4 27h0m-2.5 23h0m-9 23h0m3 9.5h0m3.5-19h0m3.5 10.5h0m2 8.5h0m4.5-3h0m4 3h0m-28.5 13.5h0m8-9.5h0m5 19h0m3.5-5h0m5 0h0m-8.5 14h0m12.5-5h0m-5.5 28h0m1.5 23.5h0m-19.5 34h0m5-12h0m2-5h0m2 19h0m3 0h0m2.5-19h0m1.5 19h0m-13 22.5h0m6 0.5h0m1.5-10h0m4-9h0m8 9.5h0m-13.5 14h0m9.5 3.5h0m6 9h0m10.5-8h0m-28.5 36h0m4-18h0m2.5 0h0m4.5 0h0m4 19h0m2 0h0m3 0h0m2.5 0h0m2-19h0m4 6.5h0m-25.5 26h0m10-5h0m5 5h0m9-4h0m-20.5 31h0m12-0.5h0m-17 44h0m7.5 7.5h0m6-6h0m7.5 6h0m-15 36.5h0m4.5-9.5h0m2.5 0h0m3.5 19h0m3-19h0m1.5 0h0m2.5 14h0m4.5-9h0m-28.5 23.5h0m3.5-6h0m6 0h0m3 19h0m5-0.5h0m5-18.5h0m9 5.5h0m-27 22.5h0m4 14h0m5.5-16.5h0m7-2.5h0m5 19h0m-18.5 13.5h0m5.5 9.5h0m3 0h0m2.5-19h0m2 0h0m2 19h0m3-19h0m5.5 9.5h0m-57 18.5h0m19 0h0m-82 27.5h0m77.5-4.5h0m6.5-5h0m5.5 11h0m5-11h0m13.5 16.5h0m-24.5 16h0m12 9.5h0m-29.5 13h0m26-0.5h0m-6.5 23.5h0m24-2.5h0m-34 16h0m5.5 0h0m4.5 19h0m4 0h0m6.5-0.5h0m13-9h0m-49.5 23h0m16 3h0m11.5-0.5h0m9.5-10h0m10 7.5h0m24.5 0h0m-29 18h0m-13.5 37.5h0m5.5 0h0m2.5 0h0m4 0h0m-6 21.5h0m3-18h0m3.5 0h0m2.5 0h0m1 12h0m2-12h0m1.5 19h0m0.5-19h0m2.5 9.5h0m2 4.5h0m3 5h0m-16 14h0m8.5-4h0m-7 26h0m-16 19.5h0m18 4h0m-12.5 17h0m9.5 4.5h0m5.5 7h0m-48 17.5h0m52-3.5h0m18.5 26h0m-71.5 23h0m36.5 65.5h0m6 26.5h0m6 22.5h0m-12 23h0m-52.5 23h0m37 26h0m4.5 6.5h0m6-19h0m1.5 0h0m5 19h0m2.5-19h0m3.5 0h0m6.5 18.5h0m14.5-12.5h0m-27 22h0m4-5h0m4.5 0h0m10 4.5h0m-40.5 28h0m25-4.5h0m2 27h0m-12.5 48.5h0m-17.5 43.5h0m41.5 24h0m-24.5 30h0m-26.5 33.5h0m-39 27h0m-69.5 68.5h0m126.5 0h0m-76.5 23h0m86.5 46h0m5 68.5h0m-2 49.5h0m-8.5 15h0m13.5 50h0m-2.5 49.5h0m8 16h0m-15 72h0m-5.5 49.5h0m7 6h0m3.5 0h0m5.5-19h0m3.5 19h0m9-6h0m11-9.5h0" stroke="#000" stroke-opacity="0.45" stroke-width="5.3" stroke-linecap="round" fill="none"/>
<path d="M579 126.5h0m31-4h0m9.5 0.5h0m-106.5 26.5h0m37.5 3.5h0m16-8h0m31.5 4.5h0m68 0h0m-130.5 18.5h0m11 13.5h0m12-18.5h0m6.5 9.5h0m-26.5 23h0m15 4h0m8.5 5.5h0m11.5-1.5h0m70 15h0m-89.5 31h0m12-17h0m-20 31.5h0m32.5 3.5h0m20-7.5h0m26.5 4h0m-110 18.5h0m27-5h0m9.5 0.5h0m4.5-0.5h0m5.5 12h0m8-11.5h0m2.5 8h0m8.5-3.5h0m8.5 11.5h0m33-7h0m-64.5 27h0m10-10h0m14.5 6h0m-14.5 24.5h0m-11 22h0m18.5 1.5h0m-26.5 17h0m7-5h0m10 18h0m9.5-5h0m15.5-4.5h0m-10 26h0m7-4.5h0m16.5-7.5h0m5-0.5h0m8 5h0m20 13h0m75-8.5h0m-176 14h0m5 4h0m2.5 14.5h0m4.5-9h0m2-5.5h0m3.5 14.5h0m1-19h0m2.5 0h0m1.5 19h0m2.5 0h0m2 0h0m1-19h0m1 0h0m1 19h0m0.5-19h0m2 19h0m2 0h0m1 0h0m2 0h0m2 0h0m1-19h0m2 19h0m2.5-19h0m4.5 19h0m4.5-15h0m5.5 9.5h0m-48 19h0m36-4.5h0m-22 26h0m12 5.5h0m-26.5 18.5h0m21 0h0m12 3.5h0m-45.5 38h0m8.5 13.5h0m8.5 0.5h0m5-9h0m5-6.5h0m3.5-3.5h0m3 19h0m4.5-19h0m3.5 0h0m2.5 0h0m2.5 9.5h0m5.5 9.5h0m3.5-19h0m4 5.5h0m7 7h0m6.5-6.5h0m-42 35h0m5.5-4h0m6.5-14h0m7.5 9.5h0m10-4.5h0m7.5 11.5h0m-54.5 16h0m14 4h0m12.5-6h0m6 7h0m12-14h0m-28.5 32h0m-30 18h0m47.5 27.5h0m-37 18.5h0m13-1h0m5 3h0m2.5-7h0m6 17.5h0m3.5-17.5h0m19.5 6h0m-54 26.5h0m19-8.5h0m8.5 8h0m10.5-8h0m6.5 17.5h0m-30 14h0m25 3.5h0m-16 19.5h0m-15 27.5h0m-12 13.5h0m11-1.5h0m8.5 8.5h0m8 6.5h0m3.5-18.5h0m8.5 1.5h0m9.5 12.5h0m-37 22h0m9.5-13h0m12 1.5h0m14 3.5h0m12.5 9h0m-56 20h0m15 3h0m13.5-9h0m19 4.5h0m-51.5 17.5h0m7-2.5h0m3.5 17.5h0m4 0h0m5.5 0h0m5.5-9h0m5.5-10h0m5 0h0m7.5 5.5h0m7.5 6h0m-55.5 21h0m17-9.5h0m9.5 14h0m9.5-9.5h0m-19.5 30h0m23-7h0m-30 47.5h0m23.5 6h0m14-12.5h0m18.5 9.5h0m-80.5 41h0m24 13h0m4.5-0.5h0m8.5-16h0m4-1h0m1.5 19h0m6.5 0h0m10-9.5h0m-49.5 22.5h0m18.5 0h0m12 4.5h0m10.5 5h0m6-19h0m21.5 9.5h0m9.5-7.5h0m-55.5 34h0m13.5-6h0m6.5 6h0m7.5 4h0m17-11h0m-71.5 28h0m5.5-11h0m3.5 8.5h0m3 10.5h0m1.5-19h0m2.5 0h0m2 19h0m2.5-19h0m24 32.5h0m39-4h0m-56 23h0m26 3.5h0m19 0.5h0m28 2h0m11-6.5h0m32 1h0m-135.5 26.5h0m57.5 0h0m-28.5 22.5h0m57 0h0m137.5 0h0m-94.5 23h0m-76 23h0m26.5 8h0m11-9h0m26-0.5h0m30.5 1.5h0m44 0h0m189 0h0m-254.5 20.5h0m22.5 4h0m15-3h0m20 1.5h0m22.5-3.5h0m-213 22h0m125.5 4.5h0m-109.5 18.5h0m10.5-3.5h0m6-0.5h0m13.5 4.5h0m-40 21h0m4-4h0m2.5 9.5h0m2-9.5h0m1 0h0m2 19h0m2-14h0m2 14h0m2-5h0m1.5 5h0m4-14h0m-18 23.5h0m9 12h0m13.5 15h0m-25.5 23h0m19.5 0h0m-20 17h0m9-2h0m4.5 3.5h0m-17 27.5h0m34 0h0m80.5 22.5h0m205.5 23h0m-321.5 46h0m15.5 46h0m-18 22.5h0m3.5 23h0m46 0h0m-2 23h0m-39.5 23h0m10.5-9h0m3.5-0.5h0m4.5 6h0m6 12.5h0m7-9h0m7 0h0m12 0h0m-40 25.5h0m17.5-2.5h0m8.5 3h0m8.5 6.5h0m35.5-9.5h0m-83.5 21.5h0m29.5 1.5h0m-30 64h0m22.5 4.5h0m16.5 59.5h0m-24.5 32h0m4 18.5h0m24.5 27.5h0m-30.5 68.5h0m33.5 23h0m23 23h0m-44 23h0m-3.5 91.5h0m-1.5 46h0m31 23h0m-7 23h0m-37 64h0m8.5 27.5h0m1.5 68.5h0m-20.5 41.5h0m8 3h0m4.5-8h0m2.5 0h0m2.5 19h0m3.5 0h0m4.5-19h0m436.5-2282h0m11 4.5h0m10.5-2h0m33-2.5h0m-55 32.5h0m11-5h0m9.5-4.5h0m-32.5 23h0m19.5 3.5h0m10-13h0m10 13h0m9-10h0m-40 32h0m9 2h0m9-5h0m12.5 0.5h0m-15.5 45.5h0m14.5 0.5h0m9.5-1h0m-57 23.5h0m12.5-3.5h0m15-6h0m16 9.5h0m-43.5 18.5h0m10.5 14h0m8.5-14h0m4.5 14h0m5-15h0m2.5 15h0m6-4h0m4.5 4h0m3.5-19h0m20.5 12h0m-53 16h0m10.5 0h0m6 6.5h0m-2 21h0m7.5 18.5h0m23 4h0m-31.5 23h0m16.5-7.5h0m14 11.5h0m13-8.5h0m17.5-3.5h0m-80 31h0m14.5-9h0m9.5 9.5h0m6-10h0m7.5 5h0m7.5 0h0m-46.5 27.5h0m17.5-8h0m5 17.5h0m5 0h0m3.5-19h0m3.5 0h0m1.5 0h0m1.5 0h0m1.5 19h0m3.5-19h0m2 0h0m1 0h0m2 19h0m1.5-19h0m2 19h0m1.5-19h0m2.5 0h0m1.5 0h0m1.5 19h0m3.5-9h0m2.5 9h0m1.5-19h0m2 4h0m3.5 15h0m3.5-19h0m5.5 1h0m8.5 8.5h0m35.5 0h0m-41 19h0m-43.5 23h0m17.5-5h0m14.5 4.5h0m-11 22.5h0m11.5 4.5h0m-54.5 27.5h0m-6.5 28h0m6.5-19h0m4 19h0m6.5-19h0m2.5 5h0m2-5h0m1 19h0m3-19h0m1.5 19h0m1-19h0m2 19h0m4.5-14h0m4 2.5h0m7-2h0m6-5h0m-29.5 24h0m6.5 17.5h0m1.5 0h0m5-19h0m5 0h0m7.5 7.5h0m-32 25h0m8.5 9.5h0m10-1.5h0m6.5-2h0m12.5-9.5h0m-27 26.5h0m42.5 0h0m-30 19.5h0m-22.5 49h0m10.5-5h0m5-1.5h0m3-3h0m6.5 19h0m5-9.5h0m8.5 4.5h0m-68.5 18.5h0m16.5 9h0m7 0.5h0m3-14.5h0m8.5 3h0m-19 25h0m7.5 3.5h0m12.5 16h0m1 34h0m8 19h0m16.5 0.5h0m6 4.5h0m6-18.5h0m4.5 0h0m6 19h0m10-1.5h0m18-8h0m-82 32.5h0m3.5-19h0m4.5 19h0m5.5-19h0m-29 32.5h0m29.5-9.5h0m11.5 9.5h0m4-9.5h0m-50 28h0m6.5-5h0m9 1h0m6 17h0m8.5 0h0m2.5-6h0m6 7h0m3.5 0h0m5.5-19h0m6 9.5h0m7.5 9.5h0m-40 9h0m17.5 6h0m25-1.5h0m-42 18.5h0m13 13h0m49 14h0m-74.5 23h0m13.5-9.5h0m8 9.5h0m11.5 0h0m1.5 46h0m9-9h0m8 8h0m2.5-8.5h0m9 14h0m8 5h0m9.5-13.5h0m8 6h0m-60 20.5h0m13-9.5h0m12 1h0m8.5 5h0m3-6h0m11.5 14h0m-34.5 18.5h0m16 0h0m6.5-9.5h0m5 9.5h0m11 0h0m18.5 0h0m-67.5 27.5h0m21.5 0h0m7.5 5h0m8.5-9.5h0m5.5-7h0m10.5 7h0m7.5-4h0m23 4h0m-110.5 23h0m34 0h0m-54 18.5h0m6.5-5h0m3 19h0m5-19h0m6 19h0m9.5-11.5h0m-14.5 31.5h0m9-16h0m-20.5 32h0m21 3.5h0m-11 15h0m-10 23h0m8 14h0m7-19h0m5.5 19h0m5 0h0m5.5 0h0m-20.5 13.5h0m6-4.5h0m3-5h0m5 0h0m8 11.5h0m7 5.5h0m-22.5 15.5h0m-8 16h0m8.5-2.5h0m9.5 14.5h0m7-12.5h0m10 31.5h0m10.5-8h0m3.5 16h0m3.5-19h0m3.5 14.5h0m4.5 4.5h0m2 0h0m3-6h0m6.5-3.5h0m5 9.5h0m6-4.5h0m0 13.5h0m16.5 4.5h0m-24.5 18.5h0m-66.5 27.5h0m24.5-8.5h0m-21.5 35.5h0m18.5-1h0m14.5-7.5h0m49 4.5h0m15 23h0m-11 22.5h0m40 23h0m-64.5 69h0m26 23h0m-19 18.5h0m-37 23.5h0m-27.5 26.5h0m-14.5 19h0m13 1.5h0m5 2.5h0m6 0h0m4 9.5h0m5 0h0m5.5-9.5h0m10-6.5h0m23 6.5h0m-50 30.5h0m17.5-12h0m20 12h0m25-7.5h0m-42.5 19h0m33.5 4h0m-47.5 22.5h0m-11 46h0m2.5 46h0m55.5 13h0m-22.5 28h0m-13.5 47h0m-10.5 22h0m-18 73h0m20 0h0m32.5 18.5h0m6 73.5h0m-63 91.5h0m47 7.5h0m3.5 15.5h0m-13 68.5h0m-43.5 23h0m54.5 46h0m-52.5 91.5h0m18.5 5h0m7 4.5h0m8.5-14h0m6.5 8.5h0m6-7h0m10.5 2h0m22.5 1h0m221-2291.5h0m27 4.5h0m9-4.5h0m12.5 3h0m-15.5 11.5h0m9 18h0m3.5-19h0m12.5 9.5h0m-16.5 13.5h0m4 0h0m5 0h0m4.5 0h0m-21.5 32.5h0m10.5 9.5h0m3.5 0h0m7.5-4h0m-11.5 17.5h0m-8 14.5h0m9 12.5h0m-39.5 18.5h0m14.5-3.5h0m7 5h0m11.5-1.5h0m-17.5 27.5h0m7 5h0m4-14h0m4 9h0m3.5 5h0m4 0h0m3.5 0h0m2 0h0m4-4h0m-16.5 13h0m10 14h0m4.5-15h0m-22 28.5h0m19.5 3h0m-3.5 26.5h0m9.5-11h0m-25.5 18.5h0m7 6.5h0m4.5-7.5h0m6 9.5h0m-30 23h0m12 9.5h0m3 0h0m3.5-19h0m4 19h0m4-19h0m9 11h0m-29.5 31h0m5.5 0h0m1.5-19h0m1.5 19h0m1.5-19h0m0.5 19h0m1 0h0m1-19h0m0.5 0h0m1 0h0m1 19h0m1 0h0m1 0h0m0.5-19h0m0.5 0h0m1 0h0m1 0h0m1 19h0m0.5 0h0m0.5-19h0m2 19h0m0-19h0m2 19h0m2-19h0m2 0h0m4.5 19h0m-28.5 13.5h0m18 0h0m-15.5 21h0m9.5 1.5h0m-15 23h0m10 9.5h0m9-9.5h0m-23 50h0m7 5.5h0m3-19h0m1.5 0h0m2 8h0m1 4.5h0m0.5 6.5h0m1 0h0m1-19h0m1 19h0m1.5 0h0m2-19h0m2 19h0m1.5 0h0m4-19h0m5 11h0m-21.5 12h0m4 19h0m3-9.5h0m2-9.5h0m7.5 0h0m8.5 9.5h0m-33.5 23h0m5-9.5h0m2.5 5h0m4 14h0m5 0h0m-3 18h0m8.5 17h0m-25.5 47h0m10-4.5h0m2.5 14h0m3.5-19h0m3.5 19h0m2.5 0h0m4.5-14.5h0m4 9h0m-25 16.5h0m4 12h0m5-19h0m4.5 19h0m4.5-19h0m-7.5 36h0m14-7h0m0.5 26.5h0m-7 26.5h0m-19 11.5h0m4-2h0m2.5 19h0m1.5-11.5h0m3-7.5h0m2.5 0h0m2.5 11.5h0m-13.5 12.5h0m6 0h0m1-1h0m5 19h0m7.5-5h0m-13.5 9h0m10 14h0m7 3h0m-29.5 15.5h0m10-9.5h0m4 0h0m2.5 19h0m4 0h0m4-19h0m2 0h0m3 19h0m2.5-5h0m2-14h0m5.5 13.5h0m-22.5 17h0m7 6h0m5.5-8.5h0m7.5 8h0m-20.5 10h0m15.5 9h0m-20 52.5h0m7 3h0m7-2h0m7.5-7.5h0m-13.5 42h0m2-5.5h0m2.5 19h0m3.5-9.5h0m3 9.5h0m2-9.5h0m2-9.5h0m6.5 12.5h0m-30.5 23h0m3 6h0m6-19h0m3.5 0h0m5 19h0m5.5-3.5h0m-24.5 17h0m5.5-9.5h0m4.5 0h0m6 19h0m6.5-1h0m5 1h0m-17.5 9h0m4.5 14h0m3-19h0m2 19h0m2.5-19h0m2 0h0m2.5 0h0m8 5.5h0m-59 31.5h0m20 0h0m-44.5 18.5h0m38.5 4h0m7-13.5h0m6 0h0m6.5 9.5h0m15.5 0h0m-27.5 18.5h0m10.5-5h0m-29 27.5h0m28.5 7.5h0m4 20h0m-35 23h0m12-9.5h0m5 0h0m5 19h0m3.5-19h0m7.5 1h0m14.5 5h0m-49 23h0m13 11h0m11.5-0.5h0m11-7h0m13-1h0m-16 24h0m11 0h0m-17 13.5h0m5 0h0m2.5 5h0m5 0h0m-6.5 17.5h0m2.5 19h0m4 0h0m2.5 0h0m0.5 0h0m2 0h0m1.5 0h0m1 0h0m2.5 0h0m2-19h0m2.5 0h0m-15.5 37.5h0m11.5-5h0m-9 27h0m-13.5 19h0m15-4.5h0m-13 34.5h0m9 2.5h0m5.5 0h0m-33.5 13.5h0m-7 22.5h0m-38.5 23h0m46.5 0h0m22.5 69h0m9.5 23h0m0.5 18h0m-12.5 32h0m-43.5 18.5h0m29 16.5h0m3.5-3h0m6 19h0m2 0h0m5-19h0m2 11.5h0m3.5-11.5h0m7 19h0m-34 13.5h0m21 4h0m4-13.5h0m4.5 0h0m10.5 17h0m-36.5 13h0m26 2.5h0m3.5 22.5h0m-14.5 46h0m-13 46h0m33 28.5h0m-24.5 9h0m-24 54h0m-33 23h0m3 68.5h0m46-4h0m-50.5 27h0m62.5 43h0m15 71.5h0m-13.5 38h0m-9 34.5h0m24 42h0m-10 46h0m8.5 23h0m-5 91.5h0m-20 31.5h0m6.5-18h0m4.5 0h0m5.5 19h0m5-11.5h0m6.5-3.5h0m14.5 6h0" stroke="#000" stroke-opacity="0.45" stroke-width="5.3" stroke-linecap="round" fill="none"/>
<path d="M585 126.5h0m27 2h0m7.5 7.5h0m-87 13.5h0m19.5 8h0m23-8h0m25-4h0m70 2h0m-133 28h0m10.5 6.5h0m12-9.5h0m5.5 5.5h0m-25 13h0m15.5-3.5h0m7 8h0m11.5-8h0m-62 53.5h0m43.5 0h0m11 9h0m-9 14h0m27 0h0m16.5 0h0m24-4.5h0m-97 27.5h0m14.5 1h0m10.5-1h0m3-9.5h0m6.5 16.5h0m7 2.5h0m2.5 0h0m9.5-5.5h0m11.5-4h0m-75 23h0m39.5 8.5h0m10.5 1h0m19-9.5h0m-17 20.5h0m-10 22.5h0m17.5-3h0m-28 30.5h0m7.5 7.5h0m9 0h0m10.5-18h0m14.5 4h0m-10.5 35h0m13.5-7.5h0m11.5-4.5h0m6.5 1h0m5.5-6h0m22 9.5h0m80.5 0h0m-184 32h0m5-18.5h0m3 19h0m4.5-19h0m2 14h0m3 5h0m1 0h0m3-10.5h0m1 10.5h0m2.5 0h0m2-19h0m1.5 0h0m0.5 19h0m1 0h0m0.5 0h0m2-19h0m2 19h0m1-19h0m2.5 0h0m1.5 19h0m1.5-10h0m1.5 10h0m2.5 0h0m4.5-19h0m5 19h0m6.5-1h0m-46 11.5h0m33.5 7h0m-22 22h0m12 5.5h0m-22 14h0m19.5-2.5h0m13.5 2.5h0m-50.5 50.5h0m9.5-14h0m7 0h0m5.5 5.5h0m5-5.5h0m3.5 6h0m4 3.5h0m3.5-9.5h0m3.5 19h0m2.5-5h0m3 5h0m5-19h0m3.5 0h0m6 10.5h0m6-6.5h0m11 5.5h0m-48 32.5h0m7-18h0m7 7.5h0m6 10.5h0m10-5h0m9-4.5h0m-55.5 18.5h0m13.5 13h0m12.5-15h0m8.5 6.5h0m21.5 0h0m-37 20h0m-18 25.5h0m-26 46h0m21 4.5h0m13-14h0m4.5 0h0m3 0h0m6 0h0m5 16.5h0m18.5-4h0m-54.5 15.5h0m20 14h0m8-4h0m9.5 4h0m10-9.5h0m-31 19.5h0m25 3.5h0m-15.5 19.5h0m-11 26h0m-17 27h0m9.5 3h0m8 0h0m9-15.5h0m3 4h0m9.5-5h0m8.5 19h0m-36.5 5.5h0m12 6h0m10.5 2h0m14 3.5h0m23-3.5h0m-67 20h0m15-6h0m12 13h0m-56.5 19h0m24.5-9.5h0m7 19h0m3-14h0m4.5-5h0m5.5 0h0m6 14.5h0m6-9.5h0m4 14h0m7-5.5h0m8.5 2.5h0m-46.5 16.5h0m7-9.5h0m13.5 7.5h0m7 6h0m-16 18.5h0m24.5 0h0m-36 48.5h0m24.5 5h0m12.5-9.5h0m23 1h0m-78.5 47h0m17.5-8.5h0m4.5 18h0m9-9.5h0m3.5-9.5h0m1.5 19h0m8 0h0m10.5-14h0m-45 27h0m13-4.5h0m11.5 13.5h0m10.5 0.5h0m7-10.5h0m21 5.5h0m-69 18.5h0m23 8h0m14-2h0m6.5 3.5h0m7-16.5h0m17.5 9h0m-72.5 27h0m5 3.5h0m4 0h0m2.5-19h0m1.5 0h0m2.5 19h0m3-19h0m3 13h0m31 19.5h0m30.5 4h0m-50 19h0m21.5 4h0m23.5-4h0m23-4h0m10 8h0m32.5-1h0m-130 20h0m68.5 0h0m-44.5 18.5h0m65.5 4h0m-67.5 23h0m106 0h0m-80 18.5h0m25.5-3.5h0m18.5 8h0m20.5 4.5h0m42.5-4.5h0m42 0h0m-165.5 23h0m92.5 0h0m20.5-5h0m17.5 5h0m16-4.5h0m37 4.5h0m-213 23h0m130 0h0m-129.5 27h0m10.5-5.5h0m6.5 6.5h0m26-5h0m-51.5 22h0m2.5-9h0m3.5 19h0m1.5 0h0m1 0h0m2-19h0m1.5 0h0m2 0h0m2 0h0m2.5 19h0m3.5 0h0m-17 16h0m9-1.5h0m13 17.5h0m-24.5 23.5h0m19.5-0.5h0m-21.5 33.5h0m9-15.5h0m4.5 0h0m-4 32.5h0m33 22.5h0m92 0h0m185.5 21.5h0m-322.5 44h0m18.5 49.5h0m-12.5 22.5h0m5 23h0m38 0h0m-58 46h0m12.5 9.5h0m10.5-6.5h0m2.5 6.5h0m5 0h0m6 0h0m6.5 0h0m7.5-14h0m13 0h0m-39 26.5h0m16-3.5h0m10 3.5h0m9-1h0m-71 25h0m22.5 2.5h0m28.5-7h0m-30 77h0m4.5 19h0m33.5 55h0m-21.5 10.5h0m8 26h0m21 20h0m-32 68h0m48 26.5h0m17 23h0m-27.5 46h0m-29 64.5h0m-2 45.5h0m32 23.5h0m-42 49.5h0m1 46h0m5.5 19.5h0m16 72h0m-37.5 51h0m8 4.5h0m5-9.5h0m2-9.5h0m3 12h0m4.5-2.5h0m3.5 9.5h0m437.5-2305h0m10 13.5h0m11.5-12.5h0m34.5-0.5h0m-54.5 26.5h0m8 9h0m10.5 0.5h0m-31.5 9.5h0m17 12h0m10.5-7.5h0m9.5-8.5h0m10 15.5h0m-39 14h0m8-7.5h0m9.5 3h0m12.5 1.5h0m-14.5 46.5h0m12.5 9h0m12.5-3h0m-57 17.5h0m10 11.5h0m18.5-8.5h0m16-1.5h0m-48 29h0m12-4h0m7.5 3.5h0m4.5-8h0m4.5 13.5h0m3-19h0m5.5 4h0m5-4h0m7 9.5h0m-41.5 23h0m6.5 4h0m9 0.5h0m7-10h0m4 28.5h0m8 22.5h0m16.5-6.5h0m-26.5 29.5h0m11-1.5h0m17 1.5h0m14.5 0h0m18 0h0m-83 19h0m12.5 12.5h0m9.5-3.5h0m7.5-8.5h0m5.5 8h0m12-4.5h0m-42.5 23h0m9.5-9.5h0m6 9.5h0m3.5-9.5h0m4.5 0h0m2.5 0h0m1.5 0h0m1.5 0h0m1.5 0h0m3.5 9h0m2-4h0m1.5-5h0m1.5 0h0m2 5.5h0m1.5 13.5h0m2.5-19h0m1.5 19h0m2-8h0m1.5-11h0m3.5 0h0m2 0h0m1.5 19h0m2.5-19h0m3.5 19h0m3-19h0m6 12h0m8.5 2h0m37-8.5h0m-40.5 27h0m-45 26h0m16.5-12.5h0m16.5 12.5h0m-12.5 24h0m12-9h0m-68.5 50.5h0m8.5-2h0m5.5 11.5h0m3-19h0m6.5 0h0m2.5 19h0m2-19h0m2 0h0m2 0h0m2 10h0m1-10h0m2 13h0m4-13h0m5.5 12h0m6.5-11h0m7.5 8.5h0m-29.5 22.5h0m4 10h0m2.5-5.5h0m4.5 0.5h0m5.5-0.5h0m8.5-2h0m-33.5 16.5h0m9 3h0m9.5 0.5h0m6.5-6.5h0m13.5 8.5h0m-24 20h0m-13 24.5h0m-17.5 23h0m16.5 18h0m11-4.5h0m4 19h0m3.5-19h0m6.5 9.5h0m5 7.5h0m8.5-12h0m-60.5 27.5h0m10-8h0m6 17.5h0m2 0h0m8.5-7h0m-19 16h0m8.5 12.5h0m25.5 15h0m-12.5 14.5h0m16 31h0m8.5 9h0m6-18.5h0m6.5 9.5h0m5 0h0m4.5-1h0m11-8h0m20 12.5h0m-85 29h0m3.5 0h0m4.5 0h0m6-3h0m-24.5 16.5h0m24.5 9.5h0m13-18.5h0m9.5 9h0m-55.5 27h0m5.5-13.5h0m9 19h0m6-18.5h0m8 18.5h0m3-19h0m6 0.5h0m4.5 13h0m4-13.5h0m8 5.5h0m7.5 4h0m-40.5 26h0m16-8.5h0m30.5 5.5h0m-45.5 26h0m11.5-12h0m68 31.5h0m-89 23h0m8.5 9.5h0m10.5-13h0m15 3.5h0m-4 50.5h0m9.5 5h0m7-15.5h0m5.5 6h0m7-9h0m8 18.5h0m9.5-6.5h0m7.5-5.5h0m-57.5 28.5h0m12.5-3.5h0m12-2h0m6.5-6h0m3.5 13h0m11-14h0m-32 28.5h0m13.5-3.5h0m6-2.5h0m5.5 0h0m13 5.5h0m18.5 0h0m-67 19.5h0m20-1h0m6 0h0m9-1h0m5.5 0h0m10.5 5h0m12.5 4.5h0m18-4.5h0m-105.5 27.5h0m31.5-3.5h0m-54 30h0m4-13h0m4 8.5h0m4-8.5h0m6 19h0m14.5-9.5h0m-20 13.5h0m9 0h0m-15.5 32h0m17 8h0m-8 18h0m-11 22.5h0m5.5 7h0m8-9h0m5.5-0.5h0m5 0h0m6-9.5h0m-22 28h0m5.5 9h0m3-14h0m5 19h0m8.5-16.5h0m16 7h0m-29.5 19h0m-8 31.5h0m6.5-14h0m9.5 0h0m7 17h0m10 21h0m10.5-15.5h0m4 5h0m3-5h0m3.5 19h0m4-19h0m2 0h0m3 19h0m7-14h0m5 14h0m7.5-12h0m1 28h0m13.5-7h0m-24 32h0m-62.5 18.5h0m25 0h0m-20 23h0m14-4h0m14.5 8h0m5 19h0m68 0h0m-16.5 22.5h0m35 18.5h0m-61 71.5h0m41 25h0m-33.5 22.5h0m-36 23h0m17 23h0m-61.5 23h0m10.5 2h0m5-6.5h0m6 0h0m4 4h0m4.5 0.5h0m6.5 6.5h0m10.5-4h0m-48 20.5h0m23 0h0m16 3.5h0m19.5-3.5h0m27.5-2h0m-38 25h0m31.5 0h0m-41 22.5h0m-22.5 41.5h0m20 50.5h0m36.5 13h0m-10 32.5h0m-22 46h0m-8 23h0m-17.5 68.5h0m17.5-1.5h0m-12.5 47.5h0m18.5 68.5h0m-18.5 69h0m31-0.5h0m4 19h0m-3 73h0m-49 46h0m50 18.5h0m-49 96h0m15 9.5h0m8.5-9.5h0m6.5 5h0m6.5 3.5h0m6-18h0m13.5 12h0m54.5-2.5h0m197-2291.5h0m15.5 9h0m16-9h0m6-6h0m-15.5 19.5h0m9 19h0m5.5 0h0m12-13.5h0m-18 36.5h0m4.5-9.5h0m4.5 0h0m4-9.5h0m-15.5 32.5h0m5 0h0m4 9.5h0m7-13h0m-35.5 49h0m18 0h0m7.5-4h0m-39 22.5h0m13-3.5h0m7.5 14.5h0m12-11h0m-16.5 19h0m5-1h0m4 19h0m5-13.5h0m2.5-5.5h0m4.5 0h0m3 19h0m2.5 0h0m4 0h0m-17 18h0m10.5-14h0m6 16h0m-17.5 16.5h0m14-2h0m-2.5 24.5h0m10 1.5h0m-27 31h0m8-7h0m3-3.5h0m7 5.5h0m-29.5 14h0m10 14h0m4-19h0m2.5 19h0m4.5-19h0m4 19h0m11.5-11.5h0m-32 15.5h0m5 19h0m2 0h0m1.5 0h0m1 0h0m0.5 0h0m1 0h0m1 0h0m0.5 0h0m1 0h0m1 0h0m1.5-19h0m0.5 0h0m0.5 19h0m1 0h0m1 0h0m0.5 0h0m1 0h0m1 0h0m0.5 0h0m1.5-19h0m1 9.5h0m1.5-4.5h0m1.5 14h0m2.5-19h0m5 9h0m-28 19h0m21.5 4.5h0m-20 25.5h0m13-0.5h0m-15 18.5h0m6 11.5h0m10-14h0m-23.5 42h0m6.5-1h0m3.5 19h0m1-19h0m2 19h0m1 0h0m0.5 0h0m1-19h0m1 0h0m1.5 19h0m1.5-19h0m1.5 19h0m2.5 0h0m1.5-14h0m3.5 14h0m-31 13.5h0m15-9.5h0m4 19h0m3-14h0m3.5 14h0m5.5 0h0m10.5-13.5h0m-34.5 22.5h0m4-5h0m3 0h0m5 6.5h0m3.5 12.5h0m-1.5 4.5h0m7.5 35h0m-24 38.5h0m8.5 8.5h0m3.5-5.5h0m2-8.5h0m4 0h0m3 7.5h0m4.5 2h0m3.5-3h0m-25 28h0m4-2h0m6 9.5h0m3.5 0h0m4-19h0m-2 32.5h0m9 3h0m-30 42.5h0m29.5 0h0m-24.5 32.5h0m3.5-19h0m2.5 11.5h0m2 7.5h0m2.5-19h0m2.5 0h0m6.5 9.5h0m-17 13.5h0m5 0h0m2 19h0m6-10.5h0m-20 24h0m14 0h0m9 9h0m8.5-9h0m-30.5 18.5h0m8.5 2.5h0m4.5 8.5h0m2 3h0m5-10h0m3.5-9h0m1.5 0h0m3.5 19h0m3-19h0m1.5 19h0m5-19h0m-22 35h0m6.5-11.5h0m6 13h0m-28 18.5h0m14.5 9.5h0m3.5 13.5h0m-7.5 20.5h0m6.5 12h0m7-17.5h0m9 3.5h0m-15 54h0m2 6h0m2.5-14h0m4-5h0m3 0h0m1.5 19h0m2 0h0m6.5-2h0m-29 23h0m2-17.5h0m6 0h0m3 0h0m7 13h0m3.5-13h0m-24.5 28h0m5.5-5h0m5.5 0h0m6.5 10.5h0m6-0.5h0m5.5-0.5h0m-17.5 27h0m3-13.5h0m3 19h0m2.5-9.5h0m2 9.5h0m3-9.5h0m2-9.5h0m7.5 13.5h0m-56 11.5h0m18.5-0.5h0m-30 31h0m22.5 8.5h0m7.5-8.5h0m5.5 9.5h0m8-14h0m14.5 0h0m-22 27.5h0m6 2h0m-22.5 20.5h0m23.5-0.5h0m1.5 19h0m-33.5 23.5h0m13 4h0m3.5 9.5h0m4.5 0h0m3-19h0m8 0h0m16 10h0m-47 22.5h0m9.5-9h0m11.5 4.5h0m11-5h0m12 13h0m-14.5 15h0m11.5 0h0m-19 18h0m6 9.5h0m2.5 3.5h0m5.5 0h0m-7.5 18h0m2.5-3.5h0m4-5h0m2 0h0m1 0h0m2 8h0m1-8h0m1 0h0m3.5 19h0m1-19h0m3 19h0m-16 7h0m16.5 6.5h0m-13.5 18.5h0m-12 23.5h0m14.5 8h0m-11.5 19h0m6-9.5h0m9 9.5h0m-37 18h0m15 27.5h0m-55 23h0m39 23h0m31 46h0m-48.5 45.5h0m58 0h0m-17.5 18.5h0m-25.5 27.5h0m10.5 30h0m3.5-11h0m5.5 13.5h0m3.5-9.5h0m3.5-9.5h0m3.5 19h0m2.5-10h0m7-8.5h0m-22 32h0m9 8.5h0m4-13h0m4-5h0m11 0.5h0m-36.5 34.5h0m27-7h0m-128.5 50h0m120 20.5h0m-5.5 71h0m22.5-6h0m-6.5 29h0m-41.5 41.5h0m-19 27.5h0m3.5 68.5h0m42 0h0m-17 23h0m18.5 69h0m-1.5 68.5h0m9 23h0m-14.5 22.5h0m22.5 41.5h0m-9.5 46h0m-25 50.5h0m30 65h0m-21.5 18.5h0m6 17.5h0m4-19h0m6.5 9.5h0m4-7h0m7-2.5h0m14 14.5h0" stroke="#000" stroke-opacity="0.45" stroke-width="5.3" stroke-linecap="round" fill="none"/>
<path d="M590.5 126.5h0m22 6.5h0m19-6.5h0m-96 20h0m19.5 3h0m20-4.5h0m30 4.5h0m-82.5 23h0m15 7.5h0m13.5-7.5h0m8.5 9.5h0m6 0h0m-22 13.5h0m12.5 8h0m10-11.5h0m9.5 3.5h0m-60.5 42h0m43-0.5h0m8.5-5.5h0m-7 28.5h0m27.5 0.5h0m14.5 8h0m65-4.5h0m-133.5 23h0m10.5 8.5h0m10.5 1h0m2.5 0h0m7-16.5h0m7-2.5h0m2 0h0m9.5 18h0m11.5-13h0m-53.5 27.5h0m18.5-8.5h0m10 7.5h0m-22 24h0m32 0h0m-14.5 22.5h0m14 6h0m-27.5 24h0m11-7h0m4.5-1h0m10.5 10h0m-28.5 14h0m33.5-7.5h0m15.5 4h0m9 7.5h0m6.5-1.5h0m7.5 5.5h0m26-8h0m102 0h0m-211.5 32.5h0m5 0h0m3-19h0m4 19h0m2.5 0h0m2.5 0h0m1.5 0h0m2.5-19h0m1.5 0h0m3 19h0m1.5 0h0m1-5h0m0.5-14h0m1 0h0m0.5 19h0m2 0h0m2.5 0h0m1-19h0m2 0h0m2 0h0m1.5 19h0m1 0h0m3 0h0m4-19h0m5.5 19h0m9.5-9.5h0m-49.5 26h0m-23 20h0m35.5-5.5h0m12.5-2.5h0m-23.5 26h0m19.5 7h0m20-2.5h0m-55 37.5h0m9.5 13.5h0m6.5-7h0m5-7.5h0m4.5 19h0m3.5-4h0m4-10.5h0m3.5 14.5h0m3.5-19h0m2 0h0m4 6h0m4 2.5h0m3.5 10.5h0m6.5-4h0m6 1.5h0m-50 16h0m13-9.5h0m9 9.5h0m5-9.5h0m6 19h0m10.5-18.5h0m14.5 9h0m-57 23h0m10.5 0h0m11 7h0m8-13.5h0m23 2h0m-36.5 29h0m-14 21h0m-19 46h0m8 9h0m14 0.5h0m4-4.5h0m3-4.5h0m6 9h0m7-9.5h0m17 7h0m-54 20h0m18.5 5.5h0m8.5-14.5h0m9.5-4.5h0m11 5h0m-27.5 27.5h0m22-4.5h0m-62 50h0m39 0h0m-21 16h0m8 16.5h0m9-11.5h0m8.5-7.5h0m4 13h0m10-3.5h0m7.5-4h0m-34.5 27h0m9 2.5h0m11 4.5h0m18-7h0m-59 23h0m11-7.5h0m15.5 16h0m11.5 0h0m-47 14.5h0m16 9h0m6.5-18.5h0m2.5 14h0m5-2h0m5 7h0m5.5-15.5h0m7 9.5h0m3.5-13h0m7 18h0m8-16h0m-44 26.5h0m4.5 13.5h0m13.5-16h0m-33 29h0m25-4.5h0m-19.5 27.5h0m10.5 22.5h0m23.5 0.5h0m17 0h0m17 3.5h0m-79 38h0m17.5-5h0m4.5 0h0m8.5 17h0m3.5-17h0m2 19h0m9-11h0m12 1.5h0m-47 18.5h0m16 4h0m9-7.5h0m9.5 6h0m10 3.5h0m19-5.5h0m-70 22h0m25 4.5h0m11.5-7h0m6.5 16.5h0m9-9.5h0m17 6.5h0m-73 10h0m4 2h0m4-5h0m3 19h0m1-19h0m3.5 12.5h0m2.5-3.5h0m3-4h0m33.5 24h0m35 3.5h0m-54.5 19.5h0m22 3.5h0m27.5 0h0m15.5 6.5h0m15.5-6.5h0m29 7h0m-117.5 16h0m56.5-4h0m-40.5 26.5h0m64.5 0h0m-47.5 23h0m-55 23h0m58.5 2.5h0m24-2.5h0m23.5 0h0m16.5 0h0m40.5-4.5h0m51.5 4.5h0m-119.5 23h0m39-4h0m18 9.5h0m19-10h0m15 8.5h0m40.5-6h0m-211 25h0m135 0h0m-139.5 31.5h0m10-1h0m7.5-7.5h0m26-4.5h0m-52 36.5h0m1.5-19h0m3.5 0h0m1.5 19h0m1-19h0m2.5 19h0m1.5 0h0m1.5 0h0m2.5-19h0m2.5 19h0m6.5-9.5h0m-20 30h0m9-14.5h0m14.5 34.5h0m-26 22.5h0m32.5-3.5h0m-33.5 32.5h0m8 0h0m5-19h0m-5 27.5h0m50 27.5h0m75-4.5h0m195.5 27.5h0m-315.5 46h0m1.5 41h0m-6 27.5h0m4.5 23h0m40.5 0h0m-63.5 42.5h0m11.5 0h0m9 11h0m2.5 2h0m4.5 0h0m6.5-9.5h0m8-4h0m5.5 8.5h0m16.5-4.5h0m-39 25h0m13.5-11h0m10.5 3.5h0m8.5 8h0m-64 20.5h0m19 0h0m41 0h0m-41.5 68.5h0m4.5 23h0m28.5 55h0m-17 13.5h0m-8 46h0m71 23h0m-70.5 49h0m49.5 15.5h0m15.5 22.5h0m-18 50.5h0m-29 68.5h0m-9.5 48.5h0m29.5 24h0m-38.5 39h0m1.5 47h0m10 25h0m-39 91.5h0m12.5 23h0m5.5 3h0m4.5 2h0m1.5 4.5h0m3.5-19h0m5 14h0m3-6.5h0m441-2289.5h0m8.5-2.5h0m9 9.5h0m-41.5 16h0m23.5-4h0m7.5-4.5h0m9.5 13h0m-23 18.5h0m9.5-8h0m9-1.5h0m10 17.5h0m10.5-9h0m-39.5 18h0m9.5 14h0m7.5 1.5h0m14.5-7h0m-15 45h0m12-7h0m12.5 3.5h0m-57.5 26.5h0m10.5-1h0m21.5-3.5h0m13.5 5.5h0m-48.5 11h0m11.5 18.5h0m7-18.5h0m5.5 12.5h0m4-13h0m2.5 0h0m6 0h0m4.5 19h0m7.5-14h0m-42 23h0m6.5 14h0m9.5-19h0m-21 32.5h0m34-4h0m9 24h0m17 2.5h0m-30.5 18.5h0m14 7h0m15-7h0m17 1.5h0m26.5 3h0m-92 23h0m9.5 9.5h0m11-13h0m6.5 6.5h0m5.5 6.5h0m12.5-14h0m-42.5 23h0m8.5-5h0m6 0h0m4.5 9.5h0m3.5-9.5h0m2.5 0h0m1.5 19h0m1.5-19h0m2.5 5h0m3 14h0m1.5-4.5h0m1.5 4.5h0m1.5-19h0m2 13.5h0m1.5-13.5h0m2.5 19h0m2 0h0m1.5-19h0m1.5 6.5h0m3.5 12.5h0m2 0h0m1.5 0h0m3-19h0m3.5 0h0m3 0h0m5.5 19h0m11.5-12.5h0m39 3h0m-43.5 27.5h0m-46 26h0m16-17h0m22 9.5h0m-15 22.5h0m9 4.5h0m-65.5 38.5h0m6.5 5h0m4.5 7.5h0m3-19h0m6 0h0m3 19h0m2-19h0m1.5 7h0m2.5 7.5h0m1.5 4.5h0m1 0h0m2 0h0m5-8h0m5-7.5h0m6.5 15.5h0m12.5-9.5h0m-34.5 32.5h0m3.5-19h0m3 5.5h0m4.5 13.5h0m5.5-13.5h0m8.5-2h0m-33 33.5h0m9.5-1.5h0m8.5-10.5h0m6.5 17h0m15-4.5h0m-19 18h0m-17 19.5h0m-12.5 26h0m9 28.5h0m10.5-15h0m4.5 19h0m5.5-11.5h0m4 11.5h0m5-19h0m9 0h0m-61 28h0m10 14h0m6 0h0m3.5-6h0m7 6h0m-18.5 18h0m8 5h0m27 9h0m-13 17.5h0m15.5 28h0m8.5-4h0m7 8.5h0m5.5 9.5h0m5.5-14h0m3.5 14h0m16.5-9.5h0m-78.5 23h0m9 3h0m3 6.5h0m5 0h0m5-9h0m-14.5 22.5h0m17 0h0m11 9.5h0m11.5-13h0m-57.5 35h0m5.5-11.5h0m9-6.5h0m6.5 8h0m7.5-8h0m2.5 19h0m6 0h0m5.5 0h0m3 0h0m11-9.5h0m5.5-4.5h0m-33 27.5h0m8 6.5h0m30-11.5h0m-44.5 35.5h0m13.5-8h0m65.5 18.5h0m-89 23h0m11 4.5h0m8 3.5h0m23.5-3.5h0m-12 41.5h0m8.5 14h0m7.5 0h0m5.5-14.5h0m10.5 5h0m5.5 0h0m8.5-9.5h0m7.5 16h0m-55 16h0m10-4.5h0m11.5 9.5h0m6.5 4.5h0m4.5-12h0m11 11.5h0m-33 17.5h0m15.5 0.5h0m4.5-13.5h0m5.5 19h0m12.5-5.5h0m19.5-1h0m-64 20h0m16.5 8.5h0m5.5-18h0m9 0h0m7.5 9.5h0m9 4.5h0m13.5-8.5h0m17.5 8.5h0m-103 16h0m29 4.5h0m-54 14h0m4 2.5h0m3.5-5h0m3.5 19h0m7-10.5h0m15-3.5h0m-17.5 27.5h0m9 0h0m-18 18.5h0m20.5 4h0m-13 16h0m-10.5 37h0m6-7h0m7.5-9.5h0m6.5 5h0m3.5-5h0m8.5 9.5h0m-23.5 27.5h0m5-14h0m2.5 0h0m6 0h0m9 16h0m-37 16.5h0m22.5 3h0m-6.5 20h0m6.5-0.5h0m8 10h0m8.5 0h0m9 6.5h0m9.5 16h0m4 0h0m3-19h0m4 0h0m4 14h0m2-14h0m3 0h0m6.5 14h0m5.5 0h0m8 4h0m1 21.5h0m17-7h0m-28 32h0m-58 14h0m39 0h0m-33 23h0m8.5 7h0m17.5-7h0m16 23h0m-16.5 22.5h0m76.5 23h0m18.5 0h0m-64.5 70.5h0m59.5 21.5h0m-46.5 22.5h0m-32 23h0m14.5 23h0m-70.5 27.5h0m10 2h0m5.5-2h0m5.5 0h0m4 5h0m4.5 0h0m6 0h0m10.5-2.5h0m-43 16h0m18.5-4.5h0m17-3.5h0m21 4h0m27 6h0m-38.5 16.5h0m35.5 4.5h0m-30 45.5h0m-32 23h0m42.5 68.5h0m8 4h0m-1 19h0m-27.5 46h0m8.5 46h0m-37.5 41.5h0m19 5.5h0m-10 44.5h0m20 68.5h0m-25.5 64.5h0m43 4.5h0m-7 27h0m-78.5 87.5h0m41.5 23h0m50.5 46h0m-64.5 64h0m16 2.5h0m7-2.5h0m6.5-4.5h0m6.5-0.5h0m7.5 10.5h0m12-4.5h0m74 3.5h0m180.5-2294.5h0m13-6h0m15.5 4.5h0m10 4.5h0m-19 23h0m8.5 9.5h0m5.5-19h0m-13.5 32.5h0m8 3h0m4-12.5h0m4.5 0h0m4.5 9.5h0m-16 18.5h0m5-5h0m4.5 9h0m7.5-7.5h0m-36.5 49h0m18 9.5h0m8.5 3.5h0m-40 19h0m13.5 5h0m7.5-16.5h0m12 11h0m-17 27.5h0m4.5-18h0m5 19h0m5-1h0m2.5-8.5h0m4 2h0m3 7.5h0m3-14h0m3.5-5h0m-13.5 32.5h0m6.5-9.5h0m6.5 8.5h0m-13.5 22h0m12.5 6.5h0m-5 13.5h0m10.5 10.5h0m-26 17h0m6 7h0m4.5-4h0m5.5-9h0m-23 29h0m3.5 9.5h0m4.5 0h0m2.5-19h0m5 0h0m3.5 0h0m14 11.5h0m-34 24h0m4.5 1h0m2-13.5h0m1 19h0m1 0h0m1 0h0m1 0h0m0.5-14.5h0m0.5 14.5h0m1.5-19h0m0.5 0h0m1.5 19h0m0.5 0h0m1 0h0m0.5 0h0m1 0h0m1 0h0m0.5-19h0m1 0h0m1 19h0m1-19h0m1 19h0m1.5-5h0m2-14h0m2 19h0m5.5-19h0m-25.5 34h0m-14.5 21.5h0m14-6.5h0m12 3.5h0m-13.5 28h0m5 7h0m12.5-7h0m-24 43.5h0m4 9.5h0m4 0h0m1 0h0m1.5 0h0m1 0h0m1-19h0m0.5 19h0m1 0h0m1.5-19h0m1.5 0h0m1.5 0h0m2.5 19h0m2.5 0h0m3-19h0m-22 32.5h0m5.5-9.5h0m5 19h0m2-19h0m5 9.5h0m4.5-0.5h0m-32 23.5h0m7.5 4.5h0m4.5-14h0m2.5 19h0m5.5 0h0m5-10h0m-0.5 23.5h0m6 17h0m-23 51.5h0m7 9h0m3-18.5h0m1.5 0h0m4.5 19h0m2.5-19h0m5 0h0m4 19h0m-25.5 20h0m4-16h0m5.5 9h0m4-9h0m4 0h0m-2 28h0m9 12h0m-27.5 34.5h0m33 3.5h0m-30.5 32.5h0m4 0h0m1.5 0h0m2-19h0m2.5 0h0m2.5 0h0m7.5 5h0m-17.5 18h0m5 19h0m2.5-14.5h0m6 8.5h0m-20 15h0m13 10.5h0m10-6h0m9-4.5h0m-31 31h0m8 6h0m4.5 0h0m3.5-6.5h0m3-12.5h0m4 19h0m1.5-19h0m3 0h0m3 5h0m2.5 14h0m4.5-1h0m-22 8h0m6.5 16h0m6.5-1h0m-27.5 10h0m18.5 4h0m6 23h0m-14.5 16h0m5.5-2.5h0m8 9h0m8 5h0m-14.5 49.5h0m2 1.5h0m2.5-5.5h0m3.5 5.5h0m3-19h0m1.5 0h0m2.5 0h0m6 1h0m-29 23.5h0m3-2h0m5.5 19h0m3-19h0m7 8h0m3.5 2.5h0m-24 26.5h0m6 0h0m4 5h0m6.5 0h0m6.5-19h0m8 6.5h0m-20.5 34.5h0m3.5 1h0m2.5-19h0m2.5 0h0m2.5 0h0m2.5 0h0m2 0h0m9 18h0m-51 14.5h0m12.5 8.5h0m-30 10h0m25 4.5h0m5.5 6.5h0m5.5 3h0m7.5-5.5h0m15 0.5h0m-23 13.5h0m7.5 0h0m-23.5 23h0m23-1h0m3 32.5h0m-29 19h0m7-4.5h0m4 14h0m4-19h0m4.5 19h0m7.5-9.5h0m-90 23h0m59-4.5h0m12 4.5h0m10-8.5h0m11 11.5h0m13.5-7h0m-16.5 30.5h0m-13 19.5h0m5.5 0h0m4.5-9.5h0m3.5 19h0m7-10h0m-10 13.5h0m3 0h0m3.5 0h0m2 19h0m1 0h0m2-19h0m1 0h0m1.5 0h0m3 19h0m1-19h0m3.5 10.5h0m-15 31.5h0m22.5-9.5h0m-20.5 14h0m-11 35h0m18-3h0m-16 14.5h0m6.5 18h0m8.5-14h0m-32 27.5h0m13 20h0m-50 25.5h0m50 46h0m-16 46h0m-11 22.5h0m52.5-1.5h0m-19 26.5h0m-27 16.5h0m9 18h0m7.5 9.5h0m2 9.5h0m3-14h0m4 2.5h0m3 11.5h0m3-5.5h0m7-13.5h0m-21.5 28h0m8.5-4.5h0m4 13h0m3.5 5.5h0m14-11h0m-30.5 24.5h0m21 1h0m-35.5 44.5h0m25 25h0m-3.5 63.5h0m-15.5 26h0m37.5 0h0m-45 46h0m-1.5 46h0m-19 41h0m42 0h0m16.5 27.5h0m-3.5 69h0m-13.5 64h0m13.5 26h0m-18.5 18h0m28.5 52h0m-12 46h0m-27 41.5h0m37 73h0m-29 23h0m6 0h0m2.5 9.5h0m6.5-19h0m6 11.5h0m8.5-2h0m14.5-1.5h0" stroke="#000" stroke-opacity="0.45" stroke-width="5.3" stroke-linecap="round" fill="none"/>
<path d="M562.7 126.6H640.3M536.8 149.5H611.7M539.5 172.4H566.7M542.2 195.3H573.5M578.5 218.3H624.8M540.3 241.2H579M550.4 264.1H638.9M543.6 287H589.9M546.3 309.9H579.5M534.9 332.8H596.7M549 355.7H583.6M540.3 378.7H581.7M551.8 401.6H663.4M547.7 424.5H584.4M552.3 447.4H580.9M547.7 470.3H579M547.7 493.2H582.5M534.6 516.1H618.5M547.7 539.1H592.6M558 562H594M555.3 584.9H600.2M555.8 607.8H580.6M544.1 630.7H587.7M551.2 653.6H585.8M540.9 676.5H585.8M549 699.5H589.9M555.8 722.4H603M541.4 745.3H562.1M531.3 768.2H579.8M543.6 791.1H594M543.6 814H584.4M537.6 836.9H575.7M543.6 859.8H586.6M546.3 882.8H572.2M536.8 905.7H572.7M530.5 928.6H594M551.8 951.5H598M536.8 997.3H573M535.4 1020.2H580.4M543.6 1043.2H583.9M527.2 1066.1H542.2M549.6 1089H617.1M562.7 1111.9H647.6M547.7 1134.8H611.7M551.2 1157.7H659.4M585 1180.6H643M553.1 1203.6H731.5M655.3 1226.5H742.4M529.4 1249.4H637M534 1272.3H570.3M530 1295.2H549M531.3 1318.1H546.9M545 1341H564M521.2 1364H559.4M530 1386.9H549M535.4 1409.8H555.3M524 1432.7H630.2M794.2 1455.6H883.5M524 1501.4H553.9M531.9 1524.4H556.7M535.4 1547.3H551.2M521.8 1570.2H580.9M544.4 1593.1H580.9M547.7 1616H587.2M534 1638.9H568.6M534 1661.8H587.7M519.6 1684.8H549.8M533.2 1707.7H540.3M546.3 1730.6H683.3M531.3 1753.5H550.4M532.1 1776.4H539.5M540.9 1799.3H558.6M564 1822.2H568.1M536.5 1845.2H557M544.7 1868.1H550.7M541.1 1891H572.7M548 1913.9H720.7M552.1 1936.8H560.3M535.6 1959.7H543.9M505.5 1982.6H596.8M591.3 2005.5H613.8M550.2 2028.5H557M577.6 2051.4H591.3M548.8 2074.3H567.2M523.9 2097.2H551.5M551.5 2120.1H569.9M555.7 2143H587.2M532.1 2165.9H571.3M533.5 2234.7H549.9M532.9 2257.6H571.8M537 2280.5H574M529.6 2303.4H579M532.9 2326.3H562.5M541.1 2372.2H563.9M521.9 2395.1H534.8M526.6 2418H548M981.5 126.6H1012.9M984.2 149.5H1008.9M987.6 172.4H1018.8M985 195.3H1008.4M967.6 218.3H973.8M995 241.2H1032.9M971.6 264.1H1018.2M975.6 287H1012.1M969 309.9H987.6M969 332.8H996.1M997 355.7H1023.6M987.6 378.7H1048.9M973.8 401.6H1020.4M1000.9 424.5H1038.8M1013.7 447.4H1060M1008.4 470.3H1035.6M1021.7 493.2H1047.5M991.6 516.1H1029.7M989 539.1H1021.7M1000.9 562H1023.6M990.8 584.9H1026.2M1022.2 607.8H1052.9M1001.5 630.7H1015.6M979 653.6H989M994.3 676.5H1034.2M978.3 699.5H1001.5M982.3 722.4H992.4M999.6 745.3H1030.8M990.8 768.2H1015.6M1019.6 791.1H1060.1M993 814H1012.1M994.3 836.9H1035.6M987.6 859.8H1027.6M998.3 882.8H1043.5M995.6 905.7H1022.8M1000.9 928.6H1075.5M985.5 951.5H1016.4M1024.4 997.3H1067.5M1026.2 1020.2H1059.5M1038.2 1043.2H1070.7M1027.6 1066.1H1086.7M995.6 1089H1040.4M973.8 1111.9H993M983.6 1134.8H995.1M971.1 1157.7H1002.3M969.5 1180.6H997M973.8 1203.6H1008.9M987.1 1226.5H1007.6M973 1249.4H997M984.4 1272.3H1010.3M1026.2 1295.2H1056.9M1064.9 1318.1H1086.2M1045.7 1341H1085.6M1004.1 1364H1048.9M993 1386.9H1044.9M1034.2 1409.8H1079.5M1026.2 1432.7H1069.7M1110.1 1455.6H1126.1M1116.8 1501.4H1140.8M1054.2 1524.4H1069.7M1040.4 1547.3H1106.1M1052.9 1570.2H1083.5M1016.4 1593.1H1074.2M989 1616H1104.8M991.6 1638.9H1032.9M999.6 1661.8H1068.9M1018.2 1684.8H1075M1008.9 1707.7H1026.2M1034.2 1730.6H1087.5M981.8 1753.5H1024.9M1008.9 1776.4H1038.2M999.1 1799.3H1024.9M1052.9 1822.2H1059.5M1010 1845.2H1055.3M986.2 1868.1H1001.8M1012.2 1891H1036.9M988.1 1913.9H1032M1038.3 1936.8H1049.3M1004.8 1959.7H1019.1M991.1 1982.6H1023.2M1031.4 2005.5H1054.7M993.8 2028.5H1074.8M984.8 2051.4H993.8M1002.1 2074.3H1080.3M1022.6 2097.2H1032.2M1024.6 2120.1H1053.9M998 2165.9H1040.2M1028.7 2188.9H1036.9M1047.9 2234.7H1105.5M1024.6 2257.6H1039.1M963.7 2280.5H978.5M992.2 2303.4H1010.8M1010 2326.3H1045.1M993 2372.2H1001.8M995.2 2395.1H1025.1M972.4 2418H1068.5M1309.9 126.6H1335.2M1319.2 149.5H1336M1325.3 172.4H1341.3M1327.2 195.3H1341.9M1299.8 218.3H1334.4M1312 241.2H1336M1297.9 264.1H1321.1M1312.6 287H1336.5M1323.7 309.9H1342.4M1320.5 332.8H1338.7M1325.9 355.7H1340.5M1315.2 378.7H1336M1309.4 401.6H1332.5M1315.8 424.5H1334.4M1314.7 447.4H1330.7M1310.4 470.3H1333.9M1317.4 493.2H1328.5M1317.4 516.1H1332.5M1316 539.1H1330.7M1317.9 562H1335.2M1309.9 584.9H1328.5M1313.9 607.8H1333.9M1324.5 630.7H1341.3M1304.6 653.6H1328.5M1314.7 676.5H1336M1313.9 699.5H1331.7M1320.5 722.4H1335.2M1314.7 745.3H1329.9M1312 768.2H1335.2M1311.2 791.1H1328M1313.9 814H1328.5M1318.4 836.9H1341.3M1320.5 859.8H1344.5M1327.2 882.8H1340M1313.9 905.7H1337.9M1331.2 928.6H1343.2M1317.9 951.5H1339.2M1328 997.3H1344M1320.5 1020.2H1338.7M1316.5 1043.2H1343.2M1329.9 1066.1H1347.2M1295.3 1089H1331.2M1299.8 1111.9H1341.3M1317.9 1134.8H1332.5M1304 1157.7H1332.5M1317.9 1180.6H1337.9M1303.2 1203.6H1328.5M1294.4 1226.5H1336.5M1321.1 1249.4H1334.4M1316.5 1272.3H1330.7M1328.5 1295.2H1343.2M1326.4 1318.1H1340.5M1324.5 1341H1334.4M1317.4 1364H1336M1319.2 1386.9H1339.2M1296.1 1409.8H1326.4M1297.9 1432.7H1339.2M1256.1 1455.6H1283.3M1320.5 1501.4H1335.2M1316.5 1524.4H1329.9M1305.9 1547.3H1332.5M1299.2 1570.2H1331.2M1312.6 1593.1H1333.3M1275.8 1616H1323.7M1315.2 1638.9H1335.2M1315.8 1661.8H1338.7M1297.9 1684.8H1334.4M1328 1707.7H1337M1189.5 1730.6H1317.4M1308.6 1753.5H1335.2M1281.1 1776.4H1289.1M1297.1 1799.3H1310.4M1328.5 1822.2H1341.9M1305.8 1845.2H1326.3M1301.7 1868.1H1324.2M1293.4 1891H1318.1M1250.9 1913.9H1298.4M1297 1936.8H1309M1316.7 1959.7H1333.2M1273.7 1982.6H1356.5M1244 2005.5H1312.6M1264.1 2028.5H1327.2M1316.7 2051.4H1321.4M1322.2 2074.3H1333.2M1301.1 2097.2H1317.3M1303 2120.1H1335.4M1309.3 2165.9H1334M1312.6 2188.9H1325M1328.3 2234.7H1346.9M1308.5 2257.6H1313.2M1324.2 2280.5H1332.7M1318.7 2303.4H1331.3M1301.7 2326.3H1318.1M1305.2 2372.2H1317.6M1326.3 2395.1H1338.7M1311.2 2418H1345.6" stroke="#1c1c1c" stroke-opacity="0.85" stroke-width="4.6" stroke-linecap="round" fill="none"/>
<path d="M562.7 126.6h0M640.3 126.6h0M536.8 149.5h0M611.7 149.5h0M539.5 172.4h0M566.7 172.4h0M542.2 195.3h0M573.5 195.3h0M578.5 218.3h0M624.8 218.3h0M540.3 241.2h0M579 241.2h0M550.4 264.1h0M638.9 264.1h0M543.6 287h0M589.9 287h0M546.3 309.9h0M579.5 309.9h0M534.9 332.8h0M596.7 332.8h0M549 355.7h0M583.6 355.7h0M540.3 378.7h0M581.7 378.7h0M551.8 401.6h0M663.4 401.6h0M547.7 424.5h0M584.4 424.5h0M552.3 447.4h0M580.9 447.4h0M547.7 470.3h0M579 470.3h0M547.7 493.2h0M582.5 493.2h0M534.6 516.1h0M618.5 516.1h0M547.7 539.1h0M592.6 539.1h0M558 562h0M594 562h0M555.3 584.9h0M600.2 584.9h0M555.8 607.8h0M580.6 607.8h0M544.1 630.7h0M587.7 630.7h0M551.2 653.6h0M585.8 653.6h0M540.9 676.5h0M585.8 676.5h0M549 699.5h0M589.9 699.5h0M555.8 722.4h0M603 722.4h0M541.4 745.3h0M562.1 745.3h0M531.3 768.2h0M579.8 768.2h0M543.6 791.1h0M594 791.1h0M543.6 814h0M584.4 814h0M537.6 836.9h0M575.7 836.9h0M543.6 859.8h0M586.6 859.8h0M546.3 882.8h0M572.2 882.8h0M536.8 905.7h0M572.7 905.7h0M530.5 928.6h0M594 928.6h0M551.8 951.5h0M598 951.5h0M551.8 974.4h0M536.8 997.3h0M573 997.3h0M535.4 1020.2h0M580.4 1020.2h0M543.6 1043.2h0M583.9 1043.2h0M527.2 1066.1h0M542.2 1066.1h0M549.6 1089h0M617.1 1089h0M562.7 1111.9h0M647.6 1111.9h0M547.7 1134.8h0M611.7 1134.8h0M551.2 1157.7h0M659.4 1157.7h0M585 1180.6h0M643 1180.6h0M553.1 1203.6h0M731.5 1203.6h0M655.3 1226.5h0M742.4 1226.5h0M529.4 1249.4h0M637 1249.4h0M534 1272.3h0M570.3 1272.3h0M530 1295.2h0M549 1295.2h0M531.3 1318.1h0M546.9 1318.1h0M545 1341h0M564 1341h0M521.2 1364h0M559.4 1364h0M530 1386.9h0M549 1386.9h0M535.4 1409.8h0M555.3 1409.8h0M524 1432.7h0M630.2 1432.7h0M794.2 1455.6h0M883.5 1455.6h0M524 1501.4h0M553.9 1501.4h0M531.9 1524.4h0M556.7 1524.4h0M535.4 1547.3h0M551.2 1547.3h0M521.8 1570.2h0M580.9 1570.2h0M544.4 1593.1h0M580.9 1593.1h0M547.7 1616h0M587.2 1616h0M534 1638.9h0M568.6 1638.9h0M534 1661.8h0M587.7 1661.8h0M519.6 1684.8h0M549.8 1684.8h0M533.2 1707.7h0M540.3 1707.7h0M546.3 1730.6h0M683.3 1730.6h0M531.3 1753.5h0M550.4 1753.5h0M532.1 1776.4h0M539.5 1776.4h0M540.9 1799.3h0M558.6 1799.3h0M564 1822.2h0M568.1 1822.2h0M536.5 1845.2h0M557 1845.2h0M544.7 1868.1h0M550.7 1868.1h0M541.1 1891h0M572.7 1891h0M548 1913.9h0M720.7 1913.9h0M552.1 1936.8h0M560.3 1936.8h0M535.6 1959.7h0M543.9 1959.7h0M505.5 1982.6h0M596.8 1982.6h0M591.3 2005.5h0M613.8 2005.5h0M550.2 2028.5h0M557 2028.5h0M577.6 2051.4h0M591.3 2051.4h0M548.8 2074.3h0M567.2 2074.3h0M523.9 2097.2h0M551.5 2097.2h0M551.5 2120.1h0M569.9 2120.1h0M555.7 2143h0M587.2 2143h0M532.1 2165.9h0M571.3 2165.9h0M582 2188.9h0M533.5 2234.7h0M549.9 2234.7h0M532.9 2257.6h0M571.8 2257.6h0M537 2280.5h0M574 2280.5h0M529.6 2303.4h0M579 2303.4h0M532.9 2326.3h0M562.5 2326.3h0M541.1 2372.2h0M563.9 2372.2h0M521.9 2395.1h0M534.8 2395.1h0M526.6 2418h0M548 2418h0M981.5 126.6h0M1012.9 126.6h0M984.2 149.5h0M1008.9 149.5h0M987.6 172.4h0M1018.8 172.4h0M985 195.3h0M1008.4 195.3h0M967.6 218.3h0M973.8 218.3h0M995 241.2h0M1032.9 241.2h0M971.6 264.1h0M1018.2 264.1h0M975.6 287h0M1012.1 287h0M969 309.9h0M987.6 309.9h0M969 332.8h0M996.1 332.8h0M997 355.7h0M1023.6 355.7h0M987.6 378.7h0M1048.9 378.7h0M973.8 401.6h0M1020.4 401.6h0M1000.9 424.5h0M1038.8 424.5h0M1013.7 447.4h0M1060 447.4h0M1008.4 470.3h0M1035.6 470.3h0M1021.7 493.2h0M1047.5 493.2h0M991.6 516.1h0M1029.7 516.1h0M989 539.1h0M1021.7 539.1h0M1000.9 562h0M1023.6 562h0M990.8 584.9h0M1026.2 584.9h0M1022.2 607.8h0M1052.9 607.8h0M1001.5 630.7h0M1015.6 630.7h0M979 653.6h0M989 653.6h0M994.3 676.5h0M1034.2 676.5h0M978.3 699.5h0M1001.5 699.5h0M982.3 722.4h0M992.4 722.4h0M999.6 745.3h0M1030.8 745.3h0M990.8 768.2h0M1015.6 768.2h0M1019.6 791.1h0M1060.1 791.1h0M993 814h0M1012.1 814h0M994.3 836.9h0M1035.6 836.9h0M987.6 859.8h0M1027.6 859.8h0M998.3 882.8h0M1043.5 882.8h0M995.6 905.7h0M1022.8 905.7h0M1000.9 928.6h0M1075.5 928.6h0M985.5 951.5h0M1016.4 951.5h0M998.3 974.4h0M1024.4 997.3h0M1067.5 997.3h0M1026.2 1020.2h0M1059.5 1020.2h0M1038.2 1043.2h0M1070.7 1043.2h0M1027.6 1066.1h0M1086.7 1066.1h0M995.6 1089h0M1040.4 1089h0M973.8 1111.9h0M993 1111.9h0M983.6 1134.8h0M995.1 1134.8h0M971.1 1157.7h0M1002.3 1157.7h0M969.5 1180.6h0M997 1180.6h0M973.8 1203.6h0M1008.9 1203.6h0M987.1 1226.5h0M1007.6 1226.5h0M973 1249.4h0M997 1249.4h0M984.4 1272.3h0M1010.3 1272.3h0M1026.2 1295.2h0M1056.9 1295.2h0M1064.9 1318.1h0M1086.2 1318.1h0M1045.7 1341h0M1085.6 1341h0M1004.1 1364h0M1048.9 1364h0M993 1386.9h0M1044.9 1386.9h0M1034.2 1409.8h0M1079.5 1409.8h0M1026.2 1432.7h0M1069.7 1432.7h0M1110.1 1455.6h0M1126.1 1455.6h0M1116.8 1501.4h0M1140.8 1501.4h0M1054.2 1524.4h0M1069.7 1524.4h0M1040.4 1547.3h0M1106.1 1547.3h0M1052.9 1570.2h0M1083.5 1570.2h0M1016.4 1593.1h0M1074.2 1593.1h0M989 1616h0M1104.8 1616h0M991.6 1638.9h0M1032.9 1638.9h0M999.6 1661.8h0M1068.9 1661.8h0M1018.2 1684.8h0M1075 1684.8h0M1008.9 1707.7h0M1026.2 1707.7h0M1034.2 1730.6h0M1087.5 1730.6h0M981.8 1753.5h0M1024.9 1753.5h0M1008.9 1776.4h0M1038.2 1776.4h0M999.1 1799.3h0M1024.9 1799.3h0M1052.9 1822.2h0M1059.5 1822.2h0M1010 1845.2h0M1055.3 1845.2h0M986.2 1868.1h0M1001.8 1868.1h0M1012.2 1891h0M1036.9 1891h0M988.1 1913.9h0M1032 1913.9h0M1038.3 1936.8h0M1049.3 1936.8h0M1004.8 1959.7h0M1019.1 1959.7h0M991.1 1982.6h0M1023.2 1982.6h0M1031.4 2005.5h0M1054.7 2005.5h0M993.8 2028.5h0M1074.8 2028.5h0M984.8 2051.4h0M993.8 2051.4h0M1002.1 2074.3h0M1080.3 2074.3h0M1022.6 2097.2h0M1032.2 2097.2h0M1024.6 2120.1h0M1053.9 2120.1h0M1027.9 2143h0M998 2165.9h0M1040.2 2165.9h0M1028.7 2188.9h0M1036.9 2188.9h0M1047.9 2234.7h0M1105.5 2234.7h0M1024.6 2257.6h0M1039.1 2257.6h0M963.7 2280.5h0M978.5 2280.5h0M992.2 2303.4h0M1010.8 2303.4h0M1010 2326.3h0M1045.1 2326.3h0M993 2372.2h0M1001.8 2372.2h0M995.2 2395.1h0M1025.1 2395.1h0M972.4 2418h0M1068.5 2418h0M1309.9 126.6h0M1335.2 126.6h0M1319.2 149.5h0M1336 149.5h0M1325.3 172.4h0M1341.3 172.4h0M1327.2 195.3h0M1341.9 195.3h0M1299.8 218.3h0M1334.4 218.3h0M1312 241.2h0M1336 241.2h0M1297.9 264.1h0M1321.1 264.1h0M1312.6 287h0M1336.5 287h0M1323.7 309.9h0M1342.4 309.9h0M1320.5 332.8h0M1338.7 332.8h0M1325.9 355.7h0M1340.5 355.7h0M1315.2 378.7h0M1336 378.7h0M1309.4 401.6h0M1332.5 401.6h0M1315.8 424.5h0M1334.4 424.5h0M1314.7 447.4h0M1330.7 447.4h0M1310.4 470.3h0M1333.9 470.3h0M1317.4 493.2h0M1328.5 493.2h0M1317.4 516.1h0M1332.5 516.1h0M1316 539.1h0M1330.7 539.1h0M1317.9 562h0M1335.2 562h0M1309.9 584.9h0M1328.5 584.9h0M1313.9 607.8h0M1333.9 607.8h0M1324.5 630.7h0M1341.3 630.7h0M1304.6 653.6h0M1328.5 653.6h0M1314.7 676.5h0M1336 676.5h0M1313.9 699.5h0M1331.7 699.5h0M1320.5 722.4h0M1335.2 722.4h0M1314.7 745.3h0M1329.9 745.3h0M1312 768.2h0M1335.2 768.2h0M1311.2 791.1h0M1328 791.1h0M1313.9 814h0M1328.5 814h0M1318.4 836.9h0M1341.3 836.9h0M1320.5 859.8h0M1344.5 859.8h0M1327.2 882.8h0M1340 882.8h0M1313.9 905.7h0M1337.9 905.7h0M1331.2 928.6h0M1343.2 928.6h0M1317.9 951.5h0M1339.2 951.5h0M1309.9 974.4h0M1328 997.3h0M1344 997.3h0M1320.5 1020.2h0M1338.7 1020.2h0M1316.5 1043.2h0M1343.2 1043.2h0M1329.9 1066.1h0M1347.2 1066.1h0M1295.3 1089h0M1331.2 1089h0M1299.8 1111.9h0M1341.3 1111.9h0M1317.9 1134.8h0M1332.5 1134.8h0M1304 1157.7h0M1332.5 1157.7h0M1317.9 1180.6h0M1337.9 1180.6h0M1303.2 1203.6h0M1328.5 1203.6h0M1294.4 1226.5h0M1336.5 1226.5h0M1321.1 1249.4h0M1334.4 1249.4h0M1316.5 1272.3h0M1330.7 1272.3h0M1328.5 1295.2h0M1343.2 1295.2h0M1326.4 1318.1h0M1340.5 1318.1h0M1324.5 1341h0M1334.4 1341h0M1317.4 1364h0M1336 1364h0M1319.2 1386.9h0M1339.2 1386.9h0M1296.1 1409.8h0M1326.4 1409.8h0M1297.9 1432.7h0M1339.2 1432.7h0M1256.1 1455.6h0M1283.3 1455.6h0M1320.5 1501.4h0M1335.2 1501.4h0M1316.5 1524.4h0M1329.9 1524.4h0M1305.9 1547.3h0M1332.5 1547.3h0M1299.2 1570.2h0M1331.2 1570.2h0M1312.6 1593.1h0M1333.3 1593.1h0M1275.8 1616h0M1323.7 1616h0M1315.2 1638.9h0M1335.2 1638.9h0M1315.8 1661.8h0M1338.7 1661.8h0M1297.9 1684.8h0M1334.4 1684.8h0M1328 1707.7h0M1337 1707.7h0M1189.5 1730.6h0M1317.4 1730.6h0M1308.6 1753.5h0M1335.2 1753.5h0M1281.1 1776.4h0M1289.1 1776.4h0M1297.1 1799.3h0M1310.4 1799.3h0M1328.5 1822.2h0M1341.9 1822.2h0M1305.8 1845.2h0M1326.3 1845.2h0M1301.7 1868.1h0M1324.2 1868.1h0M1293.4 1891h0M1318.1 1891h0M1250.9 1913.9h0M1298.4 1913.9h0M1297 1936.8h0M1309 1936.8h0M1316.7 1959.7h0M1333.2 1959.7h0M1273.7 1982.6h0M1356.5 1982.6h0M1244 2005.5h0M1312.6 2005.5h0M1264.1 2028.5h0M1327.2 2028.5h0M1316.7 2051.4h0M1321.4 2051.4h0M1322.2 2074.3h0M1333.2 2074.3h0M1301.1 2097.2h0M1317.3 2097.2h0M1303 2120.1h0M1335.4 2120.1h0M1320.9 2143h0M1309.3 2165.9h0M1334 2165.9h0M1312.6 2188.9h0M1325 2188.9h0M1328.3 2234.7h0M1346.9 2234.7h0M1308.5 2257.6h0M1313.2 2257.6h0M1324.2 2280.5h0M1332.7 2280.5h0M1318.7 2303.4h0M1331.3 2303.4h0M1301.7 2326.3h0M1318.1 2326.3h0M1305.2 2372.2h0M1317.6 2372.2h0M1326.3 2395.1h0M1338.7 2395.1h0M1311.2 2418h0M1345.6 2418h0" stroke="#1c1c1c" stroke-opacity="0.9" stroke-width="6.6" stroke-linecap="round" fill="none"/>
<text x="325" y="2445.5" font-size="18.8" fill="#555" text-anchor="end" transform="rotate(-45 325 2445.5)">1</text>
<text x="355.5" y="2446" font-size="18.8" fill="#555" text-anchor="end" transform="rotate(-45 355.5 2446)">10</text>
<text x="407" y="2444.5" font-size="18.8" fill="#555" text-anchor="end" transform="rotate(-45 407 2444.5)">100</text>
<text x="479" y="2448" font-size="18.8" fill="#555" text-anchor="end" transform="rotate(-45 479 2448)">1,000</text>
<text x="548.8" y="2442.7" font-size="20.3" fill="#1a1a1a" text-anchor="end" transform="rotate(-45 548.8 2442.7)">250,000</text>
<text x="595.4" y="2446.2" font-size="20.3" fill="#1a1a1a" text-anchor="end" transform="rotate(-45 595.4 2446.2)">500,000</text>
<text x="681.6" y="2442.7" font-size="20.3" fill="#1a1a1a" text-anchor="end" transform="rotate(-45 681.6 2442.7)">1,000,000</text>
<text x="766.1" y="2441.8" font-size="20.3" fill="#1a1a1a" text-anchor="end" transform="rotate(-45 766.1 2441.8)">1,500,000</text>
<text x="851.1" y="2441.8" font-size="20.3" fill="#1a1a1a" text-anchor="end" transform="rotate(-45 851.1 2441.8)">2,000,000</text>
<text x="938.2" y="2446.2" font-size="20.3" fill="#1a1a1a" text-anchor="end" transform="rotate(-45 938.2 2446.2)">2,500,000</text>
<g font-size="18.3" fill="#1a1a1a" text-anchor="middle">
<text x="970.7" y="2460.3">20</text>
<text x="1006.8" y="2460.3">30</text>
<text x="1042.7" y="2460.3">40</text>
<text x="1078.5" y="2460.3">50</text>
<text x="1114.9" y="2460.3">60</text>
<text x="1170.4" y="2460.3">50</text>
<text x="1210.2" y="2460.3">60</text>
<text x="1249.8" y="2460.3">70</text>
<text x="1289" y="2460.3">80</text>
<text x="1328.3" y="2460.3">90</text>
<text x="1368.1" y="2460.3">100</text>
</g>
<text x="1385.2" y="55" font-size="75.5" fill="#000">b</text>
<rect x="1538.8" y="98.5" width="327.6" height="343.7" fill="#e5e5e5"/>
<line x1="1538.8" y1="426.7" x2="1866.4" y2="426.7" stroke="#fff" stroke-width="1.8"/>
<line x1="1532" y1="426.7" x2="1537" y2="426.7" stroke="#555" stroke-width="1.2"/>
<text x="1518.8" y="426.4" font-size="17.4" fill="#555" text-anchor="end">0</text>
<line x1="1538.8" y1="387.9" x2="1866.4" y2="387.9" stroke="#fff" stroke-width="1.8"/>
<line x1="1532" y1="387.9" x2="1537" y2="387.9" stroke="#555" stroke-width="1.2"/>
<text x="1518.8" y="387.6" font-size="17.4" fill="#555" text-anchor="end">20</text>
<line x1="1538.8" y1="349.2" x2="1866.4" y2="349.2" stroke="#fff" stroke-width="1.8"/>
<line x1="1532" y1="349.2" x2="1537" y2="349.2" stroke="#555" stroke-width="1.2"/>
<text x="1518.8" y="348.9" font-size="17.4" fill="#555" text-anchor="end">40</text>
<line x1="1538.8" y1="310.4" x2="1866.4" y2="310.4" stroke="#fff" stroke-width="1.8"/>
<line x1="1532" y1="310.4" x2="1537" y2="310.4" stroke="#555" stroke-width="1.2"/>
<text x="1518.8" y="310.1" font-size="17.4" fill="#555" text-anchor="end">60</text>
<line x1="1538.8" y1="271.6" x2="1866.4" y2="271.6" stroke="#fff" stroke-width="1.8"/>
<line x1="1532" y1="271.6" x2="1537" y2="271.6" stroke="#555" stroke-width="1.2"/>
<text x="1518.8" y="271.3" font-size="17.4" fill="#555" text-anchor="end">80</text>
<line x1="1538.8" y1="232.8" x2="1866.4" y2="232.8" stroke="#fff" stroke-width="1.8"/>
<line x1="1532" y1="232.8" x2="1537" y2="232.8" stroke="#555" stroke-width="1.2"/>
<text x="1518.8" y="232.5" font-size="17.4" fill="#555" text-anchor="end">100</text>
<line x1="1538.8" y1="194.1" x2="1866.4" y2="194.1" stroke="#fff" stroke-width="1.8"/>
<line x1="1532" y1="194.1" x2="1537" y2="194.1" stroke="#555" stroke-width="1.2"/>
<text x="1518.8" y="193.8" font-size="17.4" fill="#555" text-anchor="end">120</text>
<line x1="1538.8" y1="155.3" x2="1866.4" y2="155.3" stroke="#fff" stroke-width="1.8"/>
<line x1="1532" y1="155.3" x2="1537" y2="155.3" stroke="#555" stroke-width="1.2"/>
<text x="1518.8" y="155" font-size="17.4" fill="#555" text-anchor="end">140</text>
<line x1="1538.8" y1="116.5" x2="1866.4" y2="116.5" stroke="#fff" stroke-width="1.8"/>
<line x1="1532" y1="116.5" x2="1537" y2="116.5" stroke="#555" stroke-width="1.2"/>
<text x="1518.8" y="116.2" font-size="17.4" fill="#555" text-anchor="end">160</text>
<text x="1454.6" y="277.8" font-size="21.3" font-weight="bold" fill="#000" text-anchor="middle" transform="rotate(-90 1454.6 270)"># contigs</text>
<line x1="1621.2" y1="443.5" x2="1621.2" y2="448.5" stroke="#555" stroke-width="1.2"/>
<text x="1614.2" y="465.1" font-size="18" fill="#555" text-anchor="middle">Published</text>
<line x1="1788.3" y1="443.5" x2="1788.3" y2="448.5" stroke="#555" stroke-width="1.2"/>
<text x="1780" y="465.1" font-size="18" fill="#555" text-anchor="middle">GVMAGs</text>
<rect x="1554" y="424.4" width="135" height="0" fill="#e1c43e" stroke="#333333" stroke-width="2.6"/>
<line x1="1554" y1="424.4" x2="1689" y2="424.4" stroke="#333333" stroke-width="2.6"/>
<path d="M1788.3 370.6V322.3M1788.3 404.7V424.9M1753.6 322.3H1822.3M1753.6 424.9H1822.3" stroke="#333333" stroke-width="2.6" fill="none"/>
<rect x="1721" y="370.6" width="135" height="34.1" fill="#3a8f8f" stroke="#333333" stroke-width="2.6"/>
<line x1="1721" y1="388" x2="1856" y2="388" stroke="#333333" stroke-width="2.6"/>
<rect x="1531.3" y="479.4" width="331.5" height="344.1" fill="#e5e5e5"/>
<line x1="1531.3" y1="805.6" x2="1862.8" y2="805.6" stroke="#fff" stroke-width="1.8"/>
<line x1="1524" y1="805.6" x2="1528.3" y2="805.6" stroke="#555" stroke-width="1.2"/>
<text x="1511.2" y="805.3" font-size="17.4" fill="#555" text-anchor="end">0</text>
<line x1="1531.3" y1="742.6" x2="1862.8" y2="742.6" stroke="#fff" stroke-width="1.8"/>
<line x1="1524" y1="742.6" x2="1528.3" y2="742.6" stroke="#555" stroke-width="1.2"/>
<text x="1508.7" y="742.3" font-size="17.4" fill="#555" text-anchor="end">500,000</text>
<line x1="1531.3" y1="679.6" x2="1862.8" y2="679.6" stroke="#fff" stroke-width="1.8"/>
<line x1="1524" y1="679.6" x2="1528.3" y2="679.6" stroke="#555" stroke-width="1.2"/>
<text x="1514.2" y="679.3" font-size="17.4" fill="#555" text-anchor="end">1,000,000</text>
<line x1="1531.3" y1="616.6" x2="1862.8" y2="616.6" stroke="#fff" stroke-width="1.8"/>
<line x1="1524" y1="616.6" x2="1528.3" y2="616.6" stroke="#555" stroke-width="1.2"/>
<text x="1514.2" y="616.3" font-size="17.4" fill="#555" text-anchor="end">1,500,000</text>
<line x1="1531.3" y1="553.6" x2="1862.8" y2="553.6" stroke="#fff" stroke-width="1.8"/>
<line x1="1524" y1="553.6" x2="1528.3" y2="553.6" stroke="#555" stroke-width="1.2"/>
<text x="1514.2" y="553.3" font-size="17.4" fill="#555" text-anchor="end">2,000,000</text>
<line x1="1531.3" y1="490.6" x2="1862.8" y2="490.6" stroke="#fff" stroke-width="1.8"/>
<line x1="1524" y1="490.6" x2="1528.3" y2="490.6" stroke="#555" stroke-width="1.2"/>
<text x="1514.2" y="490.3" font-size="17.4" fill="#555" text-anchor="end">2,500,000</text>
<text x="1396.4" y="637.8" font-size="21.3" font-weight="bold" fill="#000" text-anchor="middle" transform="rotate(-90 1396.4 630)">N50 [bp]</text>
<line x1="1613.7" y1="824.5" x2="1613.7" y2="829.5" stroke="#555" stroke-width="1.2"/>
<text x="1607" y="846.3" font-size="18" fill="#555" text-anchor="middle">Published</text>
<line x1="1780.5" y1="824.5" x2="1780.5" y2="829.5" stroke="#555" stroke-width="1.2"/>
<text x="1780" y="846.3" font-size="18" fill="#555" text-anchor="middle">GVMAGs</text>
<path d="M1613.7 745.9V706.2M1613.7 783.8V804.7M1580 706.2H1648M1580 804.7H1648" stroke="#333333" stroke-width="2.6" fill="none"/>
<rect x="1547" y="745.9" width="133.8" height="37.9" fill="#e1c43e" stroke="#333333" stroke-width="2.6"/>
<line x1="1547" y1="774" x2="1680.8" y2="774" stroke="#333333" stroke-width="2.6"/>
<path d="M1780.5 800.6V794.5M1780.5 804.6V805.4M1746.5 794.5H1815M1746.5 805.4H1815" stroke="#333333" stroke-width="2.6" fill="none"/>
<rect x="1713.6" y="800.6" width="134.4" height="4" fill="#3a8f8f" stroke="#333333" stroke-width="2.6"/>
<line x1="1713.6" y1="802.9" x2="1848" y2="802.9" stroke="#333333" stroke-width="2.6"/>
<rect x="1534.3" y="873.4" width="331.5" height="343.2" fill="#e5e5e5"/>
<line x1="1534.3" y1="1149.7" x2="1865.8" y2="1149.7" stroke="#fff" stroke-width="1.8"/>
<line x1="1526.5" y1="1149.7" x2="1531" y2="1149.7" stroke="#555" stroke-width="1.2"/>
<text x="1513.6" y="1149.4" font-size="17.4" fill="#555" text-anchor="end">60</text>
<line x1="1534.3" y1="1077.7" x2="1865.8" y2="1077.7" stroke="#fff" stroke-width="1.8"/>
<line x1="1526.5" y1="1077.7" x2="1531" y2="1077.7" stroke="#555" stroke-width="1.2"/>
<text x="1513.6" y="1077.4" font-size="17.4" fill="#555" text-anchor="end">70</text>
<line x1="1534.3" y1="1005.7" x2="1865.8" y2="1005.7" stroke="#fff" stroke-width="1.8"/>
<line x1="1526.5" y1="1005.7" x2="1531" y2="1005.7" stroke="#555" stroke-width="1.2"/>
<text x="1513.6" y="1005.4" font-size="17.4" fill="#555" text-anchor="end">80</text>
<line x1="1534.3" y1="933.7" x2="1865.8" y2="933.7" stroke="#fff" stroke-width="1.8"/>
<line x1="1526.5" y1="933.7" x2="1531" y2="933.7" stroke="#555" stroke-width="1.2"/>
<text x="1513.6" y="933.4" font-size="17.4" fill="#555" text-anchor="end">90</text>
<text x="1461.2" y="1028.8" font-size="21.3" font-weight="bold" fill="#000" text-anchor="middle" transform="rotate(-90 1461.2 1021)">coding density [%]</text>
<line x1="1616.6" y1="1217.5" x2="1616.6" y2="1222.5" stroke="#555" stroke-width="1.2"/>
<text x="1609" y="1239.8" font-size="18" fill="#555" text-anchor="middle">Published</text>
<line x1="1783.5" y1="1217.5" x2="1783.5" y2="1222.5" stroke="#555" stroke-width="1.2"/>
<text x="1780" y="1239.8" font-size="18" fill="#555" text-anchor="middle">GVMAGs</text>
<path d="M1616.6 926.2V890.4M1616.6 963V1012.8M1582.3 890.4H1651M1582.3 1012.8H1651" stroke="#333333" stroke-width="2.6" fill="none"/>
<rect x="1549.2" y="926.2" width="134.6" height="36.8" fill="#e1c43e" stroke="#333333" stroke-width="2.6"/>
<line x1="1549.2" y1="940.6" x2="1683.8" y2="940.6" stroke="#333333" stroke-width="2.6"/>
<path d="M1783.5 926.2V898M1783.5 948.6V982M1749.4 898H1817.5M1749.4 982H1817.5" stroke="#333333" stroke-width="2.6" fill="none"/>
<rect x="1716.3" y="926.2" width="134.7" height="22.4" fill="#3a8f8f" stroke="#333333" stroke-width="2.6"/>
<line x1="1716.3" y1="933.1" x2="1851" y2="933.1" stroke="#333333" stroke-width="2.6"/>
<rect x="1531.6" y="1257" width="331.8" height="343.5" fill="#e5e5e5"/>
<line x1="1531.6" y1="1591.2" x2="1863.4" y2="1591.2" stroke="#fff" stroke-width="1.8"/>
<line x1="1524" y1="1591.2" x2="1528.3" y2="1591.2" stroke="#555" stroke-width="1.2"/>
<text x="1511.2" y="1590.9" font-size="17.4" fill="#555" text-anchor="end">0</text>
<line x1="1531.6" y1="1526.6" x2="1863.4" y2="1526.6" stroke="#fff" stroke-width="1.8"/>
<line x1="1524" y1="1526.6" x2="1528.3" y2="1526.6" stroke="#555" stroke-width="1.2"/>
<text x="1516.6" y="1526.3" font-size="17.4" fill="#555" text-anchor="end">500,000</text>
<line x1="1531.6" y1="1462" x2="1863.4" y2="1462" stroke="#fff" stroke-width="1.8"/>
<line x1="1524" y1="1462" x2="1528.3" y2="1462" stroke="#555" stroke-width="1.2"/>
<text x="1514.2" y="1461.7" font-size="17.4" fill="#555" text-anchor="end">1,000,000</text>
<line x1="1531.6" y1="1397.4" x2="1863.4" y2="1397.4" stroke="#fff" stroke-width="1.8"/>
<line x1="1524" y1="1397.4" x2="1528.3" y2="1397.4" stroke="#555" stroke-width="1.2"/>
<text x="1514.2" y="1397.1" font-size="17.4" fill="#555" text-anchor="end">1,500,000</text>
<line x1="1531.6" y1="1332.8" x2="1863.4" y2="1332.8" stroke="#fff" stroke-width="1.8"/>
<line x1="1524" y1="1332.8" x2="1528.3" y2="1332.8" stroke="#555" stroke-width="1.2"/>
<text x="1514.2" y="1332.5" font-size="17.4" fill="#555" text-anchor="end">2,000,000</text>
<line x1="1531.6" y1="1268.2" x2="1863.4" y2="1268.2" stroke="#fff" stroke-width="1.8"/>
<line x1="1524" y1="1268.2" x2="1528.3" y2="1268.2" stroke="#555" stroke-width="1.2"/>
<text x="1514.2" y="1267.9" font-size="17.4" fill="#555" text-anchor="end">2,500,000</text>
<text x="1395.3" y="1410.4" font-size="21.3" font-weight="bold" fill="#000" text-anchor="middle" transform="rotate(-90 1395.3 1402.6)">assembly size [bp]</text>
<line x1="1614.3" y1="1601.5" x2="1614.3" y2="1606.5" stroke="#555" stroke-width="1.2"/>
<text x="1607" y="1623.4" font-size="18" fill="#555" text-anchor="middle">Published</text>
<line x1="1780.8" y1="1601.5" x2="1780.8" y2="1606.5" stroke="#555" stroke-width="1.2"/>
<text x="1780" y="1623.4" font-size="18" fill="#555" text-anchor="middle">GVMAGs</text>
<path d="M1614.3 1460V1301.2M1614.3 1566.2V1580.8M1580 1301.2H1648.6M1580 1580.8H1648.6" stroke="#333333" stroke-width="2.6" fill="none"/>
<rect x="1547.7" y="1460" width="133.1" height="106.2" fill="#e1c43e" stroke="#333333" stroke-width="2.6"/>
<line x1="1547.7" y1="1547.4" x2="1680.8" y2="1547.4" stroke="#333333" stroke-width="2.6"/>
<path d="M1780.8 1533.3V1493.7M1780.8 1560.8V1582.3M1746.5 1493.7H1815M1746.5 1582.3H1815" stroke="#333333" stroke-width="2.6" fill="none"/>
<rect x="1713.6" y="1533.3" width="134.4" height="27.5" fill="#3a8f8f" stroke="#333333" stroke-width="2.6"/>
<line x1="1713.6" y1="1547.4" x2="1848" y2="1547.4" stroke="#333333" stroke-width="2.6"/>
<rect x="1529.2" y="1640.3" width="331.8" height="343.7" fill="#e5e5e5"/>
<line x1="1529.2" y1="1945.9" x2="1861" y2="1945.9" stroke="#fff" stroke-width="1.8"/>
<line x1="1521" y1="1945.9" x2="1525.5" y2="1945.9" stroke="#555" stroke-width="1.2"/>
<text x="1504.3" y="1945.6" font-size="17.4" fill="#555" text-anchor="end">20</text>
<line x1="1529.2" y1="1886.5" x2="1861" y2="1886.5" stroke="#fff" stroke-width="1.8"/>
<line x1="1521" y1="1886.5" x2="1525.5" y2="1886.5" stroke="#555" stroke-width="1.2"/>
<text x="1504.3" y="1886.2" font-size="17.4" fill="#555" text-anchor="end">30</text>
<line x1="1529.2" y1="1827.1" x2="1861" y2="1827.1" stroke="#fff" stroke-width="1.8"/>
<line x1="1521" y1="1827.1" x2="1525.5" y2="1827.1" stroke="#555" stroke-width="1.2"/>
<text x="1504.3" y="1826.8" font-size="17.4" fill="#555" text-anchor="end">40</text>
<line x1="1529.2" y1="1767.7" x2="1861" y2="1767.7" stroke="#fff" stroke-width="1.8"/>
<line x1="1521" y1="1767.7" x2="1525.5" y2="1767.7" stroke="#555" stroke-width="1.2"/>
<text x="1504.3" y="1767.4" font-size="17.4" fill="#555" text-anchor="end">50</text>
<line x1="1529.2" y1="1708.3" x2="1861" y2="1708.3" stroke="#fff" stroke-width="1.8"/>
<line x1="1521" y1="1708.3" x2="1525.5" y2="1708.3" stroke="#555" stroke-width="1.2"/>
<text x="1504.3" y="1708" font-size="17.4" fill="#555" text-anchor="end">60</text>
<line x1="1529.2" y1="1648.9" x2="1861" y2="1648.9" stroke="#fff" stroke-width="1.8"/>
<line x1="1521" y1="1648.9" x2="1525.5" y2="1648.9" stroke="#555" stroke-width="1.2"/>
<text x="1504.3" y="1648.6" font-size="17.4" fill="#555" text-anchor="end">70</text>
<text x="1451.6" y="1824.8" font-size="21.3" font-weight="bold" fill="#000" text-anchor="middle" transform="rotate(-90 1451.6 1817)">GC [%]</text>
<line x1="1611.6" y1="1985" x2="1611.6" y2="1990" stroke="#555" stroke-width="1.2"/>
<text x="1604" y="2005.8" font-size="18" fill="#555" text-anchor="middle">Published</text>
<line x1="1778.4" y1="1985" x2="1778.4" y2="1990" stroke="#555" stroke-width="1.2"/>
<text x="1775" y="2005.8" font-size="18" fill="#555" text-anchor="middle">GVMAGs</text>
<path d="M1611.6 1810.4V1678.8M1611.6 1899V1959.3M1577.5 1678.8H1645.6M1577.5 1959.3H1645.6" stroke="#333333" stroke-width="2.6" fill="none"/>
<rect x="1545" y="1810.4" width="133.4" height="88.6" fill="#e1c43e" stroke="#333333" stroke-width="2.6"/>
<line x1="1545" y1="1867" x2="1678.4" y2="1867" stroke="#333333" stroke-width="2.6"/>
<path d="M1778.4 1843.2V1750.7M1778.4 1906.5V1966.2M1744.7 1750.7H1812.7M1744.7 1966.2H1812.7" stroke="#333333" stroke-width="2.6" fill="none"/>
<rect x="1711.8" y="1843.2" width="133.7" height="63.3" fill="#3a8f8f" stroke="#333333" stroke-width="2.6"/>
<line x1="1711.8" y1="1879" x2="1845.5" y2="1879" stroke="#333333" stroke-width="2.6"/>
<path d="M1621.2 189l4.5 7l-4.5 7l-4.5-7zM1621.2 247.2l4.5 7l-4.5 7l-4.5-7zM1621.2 289.8l4.5 7l-4.5 7l-4.5-7zM1621.2 291.8l4.5 7l-4.5 7l-4.5-7zM1621.2 315l4.5 7l-4.5 7l-4.5-7zM1621.2 318.9l4.5 7l-4.5 7l-4.5-7zM1621.2 322.8l4.5 7l-4.5 7l-4.5-7zM1621.2 332.5l4.5 7l-4.5 7l-4.5-7zM1621.2 334.4l4.5 7l-4.5 7l-4.5-7zM1621.2 373.2l4.5 7l-4.5 7l-4.5-7zM1621.2 377.1l4.5 7l-4.5 7l-4.5-7zM1621.2 380.9l4.5 7l-4.5 7l-4.5-7zM1621.2 382.9l4.5 7l-4.5 7l-4.5-7zM1621.2 384.8l4.5 7l-4.5 7l-4.5-7zM1621.2 386.7l4.5 7l-4.5 7l-4.5-7zM1621.2 388.7l4.5 7l-4.5 7l-4.5-7zM1621.2 390.6l4.5 7l-4.5 7l-4.5-7zM1621.2 392.6l4.5 7l-4.5 7l-4.5-7zM1621.2 394.5l4.5 7l-4.5 7l-4.5-7zM1621.2 396.4l4.5 7l-4.5 7l-4.5-7zM1621.2 398.4l4.5 7l-4.5 7l-4.5-7zM1621.2 400.3l4.5 7l-4.5 7l-4.5-7zM1621.2 402.3l4.5 7l-4.5 7l-4.5-7zM1621.2 404.2l4.5 7l-4.5 7l-4.5-7zM1621.2 406.1l4.5 7l-4.5 7l-4.5-7zM1621.2 408.1l4.5 7l-4.5 7l-4.5-7zM1621.2 410l4.5 7l-4.5 7l-4.5-7zM1621.2 411.9l4.5 7l-4.5 7l-4.5-7zM1621.2 413.9l4.5 7l-4.5 7l-4.5-7zM1621.2 415.8l4.5 7l-4.5 7l-4.5-7zM1788.3 169.8l4.5 7l-4.5 7l-4.5-7zM1788.3 293.6l4.5 7l-4.5 7l-4.5-7zM1788.3 253.8l4.5 7l-4.5 7l-4.5-7zM1788.3 313.3l4.5 7l-4.5 7l-4.5-7zM1788.3 277l4.5 7l-4.5 7l-4.5-7zM1788.3 111.9l4.5 7l-4.5 7l-4.5-7zM1788.3 280l4.5 7l-4.5 7l-4.5-7zM1788.3 295.1l4.5 7l-4.5 7l-4.5-7zM1788.3 233.7l4.5 7l-4.5 7l-4.5-7zM1788.3 259.7l4.5 7l-4.5 7l-4.5-7zM1788.3 288.1l4.5 7l-4.5 7l-4.5-7zM1788.3 281.5l4.5 7l-4.5 7l-4.5-7zM1788.3 189.6l4.5 7l-4.5 7l-4.5-7zM1788.3 312l4.5 7l-4.5 7l-4.5-7zM1788.3 280.5l4.5 7l-4.5 7l-4.5-7zM1788.3 258.1l4.5 7l-4.5 7l-4.5-7zM1788.3 295.9l4.5 7l-4.5 7l-4.5-7zM1788.3 293.8l4.5 7l-4.5 7l-4.5-7zM1788.3 306l4.5 7l-4.5 7l-4.5-7zM1788.3 251l4.5 7l-4.5 7l-4.5-7zM1788.3 292l4.5 7l-4.5 7l-4.5-7zM1788.3 306.9l4.5 7l-4.5 7l-4.5-7zM1788.3 254l4.5 7l-4.5 7l-4.5-7zM1788.3 242.8l4.5 7l-4.5 7l-4.5-7zM1788.3 308.6l4.5 7l-4.5 7l-4.5-7zM1788.3 295.4l4.5 7l-4.5 7l-4.5-7zM1788.3 248.6l4.5 7l-4.5 7l-4.5-7zM1788.3 277.9l4.5 7l-4.5 7l-4.5-7zM1788.3 267.4l4.5 7l-4.5 7l-4.5-7zM1788.3 287.6l4.5 7l-4.5 7l-4.5-7zM1788.3 246.7l4.5 7l-4.5 7l-4.5-7zM1788.3 266.5l4.5 7l-4.5 7l-4.5-7zM1788.3 304.2l4.5 7l-4.5 7l-4.5-7zM1788.3 237l4.5 7l-4.5 7l-4.5-7zM1788.3 295.9l4.5 7l-4.5 7l-4.5-7zM1788.3 313.9l4.5 7l-4.5 7l-4.5-7zM1788.3 283.3l4.5 7l-4.5 7l-4.5-7zM1788.3 228.5l4.5 7l-4.5 7l-4.5-7zM1788.3 276.6l4.5 7l-4.5 7l-4.5-7zM1788.3 263.7l4.5 7l-4.5 7l-4.5-7zM1788.3 313.2l4.5 7l-4.5 7l-4.5-7zM1788.3 291.1l4.5 7l-4.5 7l-4.5-7zM1788.3 269.7l4.5 7l-4.5 7l-4.5-7zM1788.3 216l4.5 7l-4.5 7l-4.5-7zM1788.3 278.7l4.5 7l-4.5 7l-4.5-7zM1788.3 242.1l4.5 7l-4.5 7l-4.5-7zM1788.3 285.2l4.5 7l-4.5 7l-4.5-7zM1788.3 309l4.5 7l-4.5 7l-4.5-7zM1788.3 309.6l4.5 7l-4.5 7l-4.5-7zM1788.3 283.6l4.5 7l-4.5 7l-4.5-7zM1788.3 293.1l4.5 7l-4.5 7l-4.5-7zM1788.3 298.8l4.5 7l-4.5 7l-4.5-7zM1788.3 291.3l4.5 7l-4.5 7l-4.5-7zM1788.3 259.6l4.5 7l-4.5 7l-4.5-7zM1788.3 240.9l4.5 7l-4.5 7l-4.5-7zM1788.3 279l4.5 7l-4.5 7l-4.5-7zM1788.3 197.9l4.5 7l-4.5 7l-4.5-7zM1788.3 238.3l4.5 7l-4.5 7l-4.5-7zM1788.3 304.2l4.5 7l-4.5 7l-4.5-7zM1788.3 270.7l4.5 7l-4.5 7l-4.5-7zM1788.3 312.4l4.5 7l-4.5 7l-4.5-7zM1788.3 264.6l4.5 7l-4.5 7l-4.5-7zM1788.3 300.3l4.5 7l-4.5 7l-4.5-7zM1788.3 257l4.5 7l-4.5 7l-4.5-7zM1788.3 243.8l4.5 7l-4.5 7l-4.5-7zM1788.3 257.2l4.5 7l-4.5 7l-4.5-7zM1788.3 254.7l4.5 7l-4.5 7l-4.5-7zM1788.3 240.6l4.5 7l-4.5 7l-4.5-7zM1788.3 263.2l4.5 7l-4.5 7l-4.5-7zM1788.3 236.2l4.5 7l-4.5 7l-4.5-7zM1788.3 309.8l4.5 7l-4.5 7l-4.5-7zM1788.3 291.3l4.5 7l-4.5 7l-4.5-7zM1788.3 284.2l4.5 7l-4.5 7l-4.5-7zM1788.3 244.8l4.5 7l-4.5 7l-4.5-7zM1788.3 189.7l4.5 7l-4.5 7l-4.5-7zM1788.3 255.9l4.5 7l-4.5 7l-4.5-7zM1788.3 291.4l4.5 7l-4.5 7l-4.5-7zM1788.3 299l4.5 7l-4.5 7l-4.5-7zM1788.3 296.2l4.5 7l-4.5 7l-4.5-7zM1788.3 296.1l4.5 7l-4.5 7l-4.5-7zM1788.3 302.5l4.5 7l-4.5 7l-4.5-7zM1788.3 275.4l4.5 7l-4.5 7l-4.5-7zM1788.3 275.8l4.5 7l-4.5 7l-4.5-7zM1788.3 310.5l4.5 7l-4.5 7l-4.5-7zM1788.3 279.4l4.5 7l-4.5 7l-4.5-7zM1788.3 285.1l4.5 7l-4.5 7l-4.5-7zM1788.3 313.8l4.5 7l-4.5 7l-4.5-7zM1788.3 259.5l4.5 7l-4.5 7l-4.5-7zM1788.3 276.9l4.5 7l-4.5 7l-4.5-7zM1788.3 288.8l4.5 7l-4.5 7l-4.5-7zM1788.3 284.8l4.5 7l-4.5 7l-4.5-7zM1788.3 304l4.5 7l-4.5 7l-4.5-7zM1788.3 306.7l4.5 7l-4.5 7l-4.5-7zM1788.3 285.5l4.5 7l-4.5 7l-4.5-7zM1788.3 255.7l4.5 7l-4.5 7l-4.5-7zM1788.3 253.2l4.5 7l-4.5 7l-4.5-7zM1788.3 302.8l4.5 7l-4.5 7l-4.5-7zM1788.3 288.8l4.5 7l-4.5 7l-4.5-7zM1788.3 282.6l4.5 7l-4.5 7l-4.5-7zM1788.3 274.8l4.5 7l-4.5 7l-4.5-7zM1788.3 291.6l4.5 7l-4.5 7l-4.5-7zM1788.3 281.7l4.5 7l-4.5 7l-4.5-7zM1788.3 107.6l4.5 7l-4.5 7l-4.5-7zM1788.3 136.7l4.5 7l-4.5 7l-4.5-7zM1788.3 154.1l4.5 7l-4.5 7l-4.5-7zM1788.3 167.7l4.5 7l-4.5 7l-4.5-7zM1788.3 183.2l4.5 7l-4.5 7l-4.5-7zM1788.3 202.6l4.5 7l-4.5 7l-4.5-7zM1613.7 486.1l4.5 7l-4.5 7l-4.5-7zM1613.7 515.1l4.5 7l-4.5 7l-4.5-7zM1613.7 537.8l4.5 7l-4.5 7l-4.5-7zM1613.7 544.1l4.5 7l-4.5 7l-4.5-7zM1613.7 549.1l4.5 7l-4.5 7l-4.5-7zM1613.7 559.2l4.5 7l-4.5 7l-4.5-7zM1613.7 565.5l4.5 7l-4.5 7l-4.5-7zM1613.7 568l4.5 7l-4.5 7l-4.5-7zM1613.7 607.1l4.5 7l-4.5 7l-4.5-7zM1613.7 609.6l4.5 7l-4.5 7l-4.5-7zM1613.7 615.9l4.5 7l-4.5 7l-4.5-7zM1613.7 619.7l4.5 7l-4.5 7l-4.5-7zM1613.7 622.2l4.5 7l-4.5 7l-4.5-7zM1613.7 628.5l4.5 7l-4.5 7l-4.5-7zM1613.7 634.8l4.5 7l-4.5 7l-4.5-7zM1613.7 637.3l4.5 7l-4.5 7l-4.5-7zM1613.7 641.1l4.5 7l-4.5 7l-4.5-7zM1613.7 643.6l4.5 7l-4.5 7l-4.5-7zM1613.7 647.4l4.5 7l-4.5 7l-4.5-7zM1613.7 649.9l4.5 7l-4.5 7l-4.5-7zM1613.7 653.7l4.5 7l-4.5 7l-4.5-7zM1613.7 657.5l4.5 7l-4.5 7l-4.5-7zM1613.7 660l4.5 7l-4.5 7l-4.5-7zM1613.7 666.3l4.5 7l-4.5 7l-4.5-7zM1613.7 672.6l4.5 7l-4.5 7l-4.5-7zM1613.7 675.1l4.5 7l-4.5 7l-4.5-7zM1613.7 678.9l4.5 7l-4.5 7l-4.5-7zM1780.5 769.9l4.5 7l-4.5 7l-4.5-7zM1780.5 753.9l4.5 7l-4.5 7l-4.5-7zM1780.5 734.1l4.5 7l-4.5 7l-4.5-7zM1780.5 782.5l4.5 7l-4.5 7l-4.5-7zM1780.5 782.6l4.5 7l-4.5 7l-4.5-7zM1780.5 774.2l4.5 7l-4.5 7l-4.5-7zM1780.5 786.2l4.5 7l-4.5 7l-4.5-7zM1780.5 766.8l4.5 7l-4.5 7l-4.5-7zM1780.5 776.1l4.5 7l-4.5 7l-4.5-7zM1780.5 763.1l4.5 7l-4.5 7l-4.5-7zM1780.5 779.2l4.5 7l-4.5 7l-4.5-7zM1780.5 776.9l4.5 7l-4.5 7l-4.5-7zM1780.5 776.6l4.5 7l-4.5 7l-4.5-7zM1780.5 783.5l4.5 7l-4.5 7l-4.5-7zM1780.5 784.4l4.5 7l-4.5 7l-4.5-7zM1780.5 776.2l4.5 7l-4.5 7l-4.5-7zM1780.5 781.9l4.5 7l-4.5 7l-4.5-7zM1780.5 748.6l4.5 7l-4.5 7l-4.5-7zM1780.5 765.9l4.5 7l-4.5 7l-4.5-7zM1780.5 774.3l4.5 7l-4.5 7l-4.5-7zM1780.5 732.2l4.5 7l-4.5 7l-4.5-7zM1780.5 758.7l4.5 7l-4.5 7l-4.5-7zM1780.5 775.6l4.5 7l-4.5 7l-4.5-7zM1780.5 780l4.5 7l-4.5 7l-4.5-7zM1780.5 783.6l4.5 7l-4.5 7l-4.5-7zM1780.5 773.7l4.5 7l-4.5 7l-4.5-7zM1780.5 751.9l4.5 7l-4.5 7l-4.5-7zM1780.5 784.3l4.5 7l-4.5 7l-4.5-7zM1780.5 775.6l4.5 7l-4.5 7l-4.5-7zM1780.5 778.3l4.5 7l-4.5 7l-4.5-7zM1780.5 776.8l4.5 7l-4.5 7l-4.5-7zM1780.5 751.8l4.5 7l-4.5 7l-4.5-7zM1780.5 785.2l4.5 7l-4.5 7l-4.5-7zM1780.5 767.8l4.5 7l-4.5 7l-4.5-7zM1780.5 787l4.5 7l-4.5 7l-4.5-7zM1780.5 777.7l4.5 7l-4.5 7l-4.5-7zM1780.5 786l4.5 7l-4.5 7l-4.5-7zM1780.5 769.5l4.5 7l-4.5 7l-4.5-7zM1780.5 778.8l4.5 7l-4.5 7l-4.5-7zM1780.5 785.1l4.5 7l-4.5 7l-4.5-7zM1780.5 784.5l4.5 7l-4.5 7l-4.5-7zM1780.5 758.7l4.5 7l-4.5 7l-4.5-7zM1780.5 727.4l4.5 7l-4.5 7l-4.5-7zM1780.5 753.4l4.5 7l-4.5 7l-4.5-7zM1780.5 777.4l4.5 7l-4.5 7l-4.5-7zM1780.5 758.4l4.5 7l-4.5 7l-4.5-7zM1780.5 784.5l4.5 7l-4.5 7l-4.5-7zM1780.5 774.5l4.5 7l-4.5 7l-4.5-7zM1780.5 782.2l4.5 7l-4.5 7l-4.5-7zM1780.5 780l4.5 7l-4.5 7l-4.5-7zM1780.5 787.3l4.5 7l-4.5 7l-4.5-7zM1780.5 772.7l4.5 7l-4.5 7l-4.5-7zM1780.5 781.4l4.5 7l-4.5 7l-4.5-7zM1780.5 780.5l4.5 7l-4.5 7l-4.5-7zM1780.5 779.9l4.5 7l-4.5 7l-4.5-7zM1780.5 785.3l4.5 7l-4.5 7l-4.5-7zM1780.5 752.4l4.5 7l-4.5 7l-4.5-7zM1780.5 785.7l4.5 7l-4.5 7l-4.5-7zM1780.5 778.2l4.5 7l-4.5 7l-4.5-7zM1780.5 784.2l4.5 7l-4.5 7l-4.5-7zM1780.5 785.1l4.5 7l-4.5 7l-4.5-7zM1780.5 777.4l4.5 7l-4.5 7l-4.5-7zM1780.5 777.1l4.5 7l-4.5 7l-4.5-7zM1780.5 774.4l4.5 7l-4.5 7l-4.5-7zM1780.5 776.9l4.5 7l-4.5 7l-4.5-7zM1780.5 775.1l4.5 7l-4.5 7l-4.5-7zM1780.5 774.4l4.5 7l-4.5 7l-4.5-7zM1780.5 765.1l4.5 7l-4.5 7l-4.5-7zM1780.5 774.5l4.5 7l-4.5 7l-4.5-7zM1780.5 770.7l4.5 7l-4.5 7l-4.5-7zM1780.5 779.4l4.5 7l-4.5 7l-4.5-7zM1780.5 783l4.5 7l-4.5 7l-4.5-7zM1780.5 785.2l4.5 7l-4.5 7l-4.5-7zM1780.5 761.9l4.5 7l-4.5 7l-4.5-7zM1780.5 785.9l4.5 7l-4.5 7l-4.5-7zM1780.5 786.9l4.5 7l-4.5 7l-4.5-7zM1780.5 783.1l4.5 7l-4.5 7l-4.5-7zM1780.5 783.1l4.5 7l-4.5 7l-4.5-7zM1780.5 784.2l4.5 7l-4.5 7l-4.5-7zM1780.5 775.5l4.5 7l-4.5 7l-4.5-7zM1780.5 772.6l4.5 7l-4.5 7l-4.5-7zM1780.5 783.9l4.5 7l-4.5 7l-4.5-7zM1780.5 780.2l4.5 7l-4.5 7l-4.5-7zM1780.5 777.2l4.5 7l-4.5 7l-4.5-7zM1780.5 756.8l4.5 7l-4.5 7l-4.5-7zM1780.5 778.8l4.5 7l-4.5 7l-4.5-7zM1780.5 779.5l4.5 7l-4.5 7l-4.5-7zM1780.5 778.5l4.5 7l-4.5 7l-4.5-7zM1780.5 787.3l4.5 7l-4.5 7l-4.5-7zM1780.5 761l4.5 7l-4.5 7l-4.5-7zM1780.5 752.6l4.5 7l-4.5 7l-4.5-7zM1780.5 786.9l4.5 7l-4.5 7l-4.5-7zM1780.5 778.8l4.5 7l-4.5 7l-4.5-7zM1780.5 784.8l4.5 7l-4.5 7l-4.5-7zM1780.5 764.3l4.5 7l-4.5 7l-4.5-7zM1780.5 786.4l4.5 7l-4.5 7l-4.5-7zM1780.5 778.9l4.5 7l-4.5 7l-4.5-7zM1780.5 786.2l4.5 7l-4.5 7l-4.5-7zM1780.5 783.1l4.5 7l-4.5 7l-4.5-7zM1780.5 782.4l4.5 7l-4.5 7l-4.5-7zM1780.5 773.6l4.5 7l-4.5 7l-4.5-7zM1780.5 771.8l4.5 7l-4.5 7l-4.5-7zM1780.5 782.9l4.5 7l-4.5 7l-4.5-7zM1780.5 786.1l4.5 7l-4.5 7l-4.5-7zM1780.5 779.7l4.5 7l-4.5 7l-4.5-7zM1780.5 780.9l4.5 7l-4.5 7l-4.5-7zM1780.5 784.8l4.5 7l-4.5 7l-4.5-7zM1780.5 777.2l4.5 7l-4.5 7l-4.5-7zM1780.5 762.9l4.5 7l-4.5 7l-4.5-7zM1780.5 758.2l4.5 7l-4.5 7l-4.5-7zM1780.5 749.7l4.5 7l-4.5 7l-4.5-7zM1780.5 784.5l4.5 7l-4.5 7l-4.5-7zM1780.5 785.6l4.5 7l-4.5 7l-4.5-7zM1780.5 734.1l4.5 7l-4.5 7l-4.5-7zM1780.5 748.4l4.5 7l-4.5 7l-4.5-7zM1780.5 784.5l4.5 7l-4.5 7l-4.5-7zM1780.5 783.6l4.5 7l-4.5 7l-4.5-7zM1780.5 779.6l4.5 7l-4.5 7l-4.5-7zM1780.5 785.5l4.5 7l-4.5 7l-4.5-7zM1780.5 776.9l4.5 7l-4.5 7l-4.5-7zM1780.5 778.9l4.5 7l-4.5 7l-4.5-7zM1780.5 780.2l4.5 7l-4.5 7l-4.5-7zM1780.5 779.5l4.5 7l-4.5 7l-4.5-7zM1780.5 753.4l4.5 7l-4.5 7l-4.5-7zM1780.5 777.7l4.5 7l-4.5 7l-4.5-7zM1780.5 783.7l4.5 7l-4.5 7l-4.5-7zM1780.5 777.1l4.5 7l-4.5 7l-4.5-7zM1780.5 777.2l4.5 7l-4.5 7l-4.5-7zM1780.5 785.4l4.5 7l-4.5 7l-4.5-7zM1780.5 754.4l4.5 7l-4.5 7l-4.5-7zM1780.5 777.1l4.5 7l-4.5 7l-4.5-7zM1780.5 780.7l4.5 7l-4.5 7l-4.5-7zM1780.5 775.5l4.5 7l-4.5 7l-4.5-7zM1780.5 781.7l4.5 7l-4.5 7l-4.5-7zM1780.5 766.5l4.5 7l-4.5 7l-4.5-7zM1780.5 775.1l4.5 7l-4.5 7l-4.5-7zM1780.5 783.1l4.5 7l-4.5 7l-4.5-7zM1780.5 764.5l4.5 7l-4.5 7l-4.5-7zM1780.5 756.2l4.5 7l-4.5 7l-4.5-7zM1780.5 781.7l4.5 7l-4.5 7l-4.5-7zM1780.5 774.3l4.5 7l-4.5 7l-4.5-7zM1780.5 783.8l4.5 7l-4.5 7l-4.5-7zM1780.5 754.9l4.5 7l-4.5 7l-4.5-7zM1780.5 742.2l4.5 7l-4.5 7l-4.5-7zM1780.5 752.8l4.5 7l-4.5 7l-4.5-7zM1780.5 774.8l4.5 7l-4.5 7l-4.5-7zM1780.5 776.6l4.5 7l-4.5 7l-4.5-7zM1780.5 750.8l4.5 7l-4.5 7l-4.5-7zM1780.5 778.9l4.5 7l-4.5 7l-4.5-7zM1780.5 773.9l4.5 7l-4.5 7l-4.5-7zM1780.5 738.2l4.5 7l-4.5 7l-4.5-7zM1780.5 773.6l4.5 7l-4.5 7l-4.5-7zM1780.5 758.4l4.5 7l-4.5 7l-4.5-7zM1780.5 756.4l4.5 7l-4.5 7l-4.5-7zM1780.5 775.5l4.5 7l-4.5 7l-4.5-7zM1780.5 786.7l4.5 7l-4.5 7l-4.5-7zM1780.5 767l4.5 7l-4.5 7l-4.5-7zM1780.5 724.5l4.5 7l-4.5 7l-4.5-7zM1780.5 750.9l4.5 7l-4.5 7l-4.5-7zM1780.5 727.3l4.5 7l-4.5 7l-4.5-7zM1780.5 764.9l4.5 7l-4.5 7l-4.5-7zM1780.5 775.7l4.5 7l-4.5 7l-4.5-7zM1780.5 777.2l4.5 7l-4.5 7l-4.5-7zM1780.5 765.6l4.5 7l-4.5 7l-4.5-7zM1780.5 784.6l4.5 7l-4.5 7l-4.5-7zM1780.5 754.6l4.5 7l-4.5 7l-4.5-7zM1780.5 764.6l4.5 7l-4.5 7l-4.5-7zM1780.5 773.7l4.5 7l-4.5 7l-4.5-7zM1780.5 785.1l4.5 7l-4.5 7l-4.5-7zM1780.5 759.5l4.5 7l-4.5 7l-4.5-7zM1780.5 774.6l4.5 7l-4.5 7l-4.5-7zM1780.5 782.8l4.5 7l-4.5 7l-4.5-7zM1780.5 785.1l4.5 7l-4.5 7l-4.5-7zM1780.5 782.1l4.5 7l-4.5 7l-4.5-7zM1780.5 778.1l4.5 7l-4.5 7l-4.5-7zM1780.5 782.2l4.5 7l-4.5 7l-4.5-7zM1780.5 787l4.5 7l-4.5 7l-4.5-7zM1780.5 782l4.5 7l-4.5 7l-4.5-7zM1780.5 773.6l4.5 7l-4.5 7l-4.5-7zM1780.5 780.7l4.5 7l-4.5 7l-4.5-7zM1780.5 734.3l4.5 7l-4.5 7l-4.5-7zM1780.5 781l4.5 7l-4.5 7l-4.5-7zM1780.5 779.4l4.5 7l-4.5 7l-4.5-7zM1780.5 765.6l4.5 7l-4.5 7l-4.5-7zM1780.5 778.9l4.5 7l-4.5 7l-4.5-7zM1780.5 779.7l4.5 7l-4.5 7l-4.5-7zM1780.5 783.1l4.5 7l-4.5 7l-4.5-7zM1780.5 773.2l4.5 7l-4.5 7l-4.5-7zM1780.5 765.7l4.5 7l-4.5 7l-4.5-7zM1780.5 781.4l4.5 7l-4.5 7l-4.5-7zM1780.5 784l4.5 7l-4.5 7l-4.5-7zM1780.5 760.4l4.5 7l-4.5 7l-4.5-7zM1780.5 757.3l4.5 7l-4.5 7l-4.5-7zM1780.5 779.2l4.5 7l-4.5 7l-4.5-7zM1780.5 782.7l4.5 7l-4.5 7l-4.5-7zM1780.5 763.9l4.5 7l-4.5 7l-4.5-7zM1780.5 784.2l4.5 7l-4.5 7l-4.5-7zM1780.5 774.1l4.5 7l-4.5 7l-4.5-7zM1780.5 764.5l4.5 7l-4.5 7l-4.5-7zM1780.5 773.5l4.5 7l-4.5 7l-4.5-7zM1780.5 728.3l4.5 7l-4.5 7l-4.5-7zM1780.5 761.5l4.5 7l-4.5 7l-4.5-7zM1780.5 773.8l4.5 7l-4.5 7l-4.5-7zM1780.5 776.4l4.5 7l-4.5 7l-4.5-7zM1780.5 787.3l4.5 7l-4.5 7l-4.5-7zM1780.5 777.9l4.5 7l-4.5 7l-4.5-7zM1780.5 766.9l4.5 7l-4.5 7l-4.5-7zM1780.5 757.3l4.5 7l-4.5 7l-4.5-7zM1780.5 785.7l4.5 7l-4.5 7l-4.5-7zM1780.5 780.9l4.5 7l-4.5 7l-4.5-7zM1780.5 777.9l4.5 7l-4.5 7l-4.5-7zM1780.5 787.4l4.5 7l-4.5 7l-4.5-7zM1780.5 781.7l4.5 7l-4.5 7l-4.5-7zM1780.5 787.4l4.5 7l-4.5 7l-4.5-7zM1780.5 759.2l4.5 7l-4.5 7l-4.5-7zM1780.5 759.7l4.5 7l-4.5 7l-4.5-7zM1780.5 766.9l4.5 7l-4.5 7l-4.5-7zM1780.5 784.9l4.5 7l-4.5 7l-4.5-7zM1780.5 784.1l4.5 7l-4.5 7l-4.5-7zM1780.5 787.3l4.5 7l-4.5 7l-4.5-7zM1780.5 745l4.5 7l-4.5 7l-4.5-7zM1780.5 724.3l4.5 7l-4.5 7l-4.5-7zM1780.5 728l4.5 7l-4.5 7l-4.5-7zM1780.5 731.8l4.5 7l-4.5 7l-4.5-7zM1780.5 735.6l4.5 7l-4.5 7l-4.5-7zM1616.6 1085.1l4.5 7l-4.5 7l-4.5-7zM1616.6 1070.7l4.5 7l-4.5 7l-4.5-7zM1616.6 1077.9l4.5 7l-4.5 7l-4.5-7zM1616.6 1099.5l4.5 7l-4.5 7l-4.5-7zM1616.6 1049.1l4.5 7l-4.5 7l-4.5-7zM1616.6 1027.5l4.5 7l-4.5 7l-4.5-7zM1616.6 1106.7l4.5 7l-4.5 7l-4.5-7zM1616.6 1070.7l4.5 7l-4.5 7l-4.5-7zM1616.6 1034.7l4.5 7l-4.5 7l-4.5-7zM1616.6 1113.9l4.5 7l-4.5 7l-4.5-7zM1616.6 1020.3l4.5 7l-4.5 7l-4.5-7zM1616.6 1085.1l4.5 7l-4.5 7l-4.5-7zM1616.6 1013.1l4.5 7l-4.5 7l-4.5-7zM1616.6 1056.3l4.5 7l-4.5 7l-4.5-7zM1616.6 1063.5l4.5 7l-4.5 7l-4.5-7zM1616.6 1106.7l4.5 7l-4.5 7l-4.5-7zM1616.6 1027.5l4.5 7l-4.5 7l-4.5-7zM1616.6 1020.3l4.5 7l-4.5 7l-4.5-7zM1616.6 1013.1l4.5 7l-4.5 7l-4.5-7zM1616.6 1020.3l4.5 7l-4.5 7l-4.5-7zM1616.6 1027.5l4.5 7l-4.5 7l-4.5-7zM1616.6 1049.1l4.5 7l-4.5 7l-4.5-7zM1616.6 1056.3l4.5 7l-4.5 7l-4.5-7zM1616.6 1063.5l4.5 7l-4.5 7l-4.5-7zM1616.6 1085.1l4.5 7l-4.5 7l-4.5-7zM1616.6 1092.3l4.5 7l-4.5 7l-4.5-7zM1616.6 1121.1l4.5 7l-4.5 7l-4.5-7zM1783.5 991.5l4.5 7l-4.5 7l-4.5-7zM1783.5 1013.1l4.5 7l-4.5 7l-4.5-7zM1783.5 977.1l4.5 7l-4.5 7l-4.5-7zM1783.5 977.1l4.5 7l-4.5 7l-4.5-7zM1783.5 1027.5l4.5 7l-4.5 7l-4.5-7zM1783.5 1020.3l4.5 7l-4.5 7l-4.5-7zM1783.5 1013.1l4.5 7l-4.5 7l-4.5-7zM1783.5 984.3l4.5 7l-4.5 7l-4.5-7zM1783.5 998.7l4.5 7l-4.5 7l-4.5-7zM1783.5 998.7l4.5 7l-4.5 7l-4.5-7zM1783.5 1005.9l4.5 7l-4.5 7l-4.5-7zM1783.5 998.7l4.5 7l-4.5 7l-4.5-7zM1783.5 998.7l4.5 7l-4.5 7l-4.5-7zM1783.5 977.1l4.5 7l-4.5 7l-4.5-7zM1783.5 984.3l4.5 7l-4.5 7l-4.5-7zM1783.5 991.5l4.5 7l-4.5 7l-4.5-7zM1783.5 991.5l4.5 7l-4.5 7l-4.5-7zM1783.5 977.1l4.5 7l-4.5 7l-4.5-7zM1783.5 1020.3l4.5 7l-4.5 7l-4.5-7zM1783.5 977.1l4.5 7l-4.5 7l-4.5-7zM1783.5 984.3l4.5 7l-4.5 7l-4.5-7zM1783.5 1013.1l4.5 7l-4.5 7l-4.5-7zM1783.5 1027.5l4.5 7l-4.5 7l-4.5-7zM1783.5 1020.3l4.5 7l-4.5 7l-4.5-7zM1783.5 991.5l4.5 7l-4.5 7l-4.5-7zM1783.5 991.5l4.5 7l-4.5 7l-4.5-7zM1783.5 998.7l4.5 7l-4.5 7l-4.5-7zM1783.5 984.3l4.5 7l-4.5 7l-4.5-7zM1783.5 991.5l4.5 7l-4.5 7l-4.5-7zM1783.5 984.3l4.5 7l-4.5 7l-4.5-7zM1783.5 991.5l4.5 7l-4.5 7l-4.5-7zM1783.5 977.1l4.5 7l-4.5 7l-4.5-7zM1783.5 977.1l4.5 7l-4.5 7l-4.5-7zM1783.5 991.5l4.5 7l-4.5 7l-4.5-7zM1783.5 991.5l4.5 7l-4.5 7l-4.5-7zM1783.5 1005.9l4.5 7l-4.5 7l-4.5-7zM1783.5 1027.5l4.5 7l-4.5 7l-4.5-7zM1783.5 984.3l4.5 7l-4.5 7l-4.5-7zM1783.5 977.1l4.5 7l-4.5 7l-4.5-7zM1783.5 977.1l4.5 7l-4.5 7l-4.5-7zM1783.5 991.5l4.5 7l-4.5 7l-4.5-7zM1783.5 1034.7l4.5 7l-4.5 7l-4.5-7zM1783.5 991.5l4.5 7l-4.5 7l-4.5-7zM1783.5 998.7l4.5 7l-4.5 7l-4.5-7zM1783.5 977.1l4.5 7l-4.5 7l-4.5-7zM1783.5 991.5l4.5 7l-4.5 7l-4.5-7zM1783.5 984.3l4.5 7l-4.5 7l-4.5-7zM1783.5 998.7l4.5 7l-4.5 7l-4.5-7zM1783.5 991.5l4.5 7l-4.5 7l-4.5-7zM1783.5 991.5l4.5 7l-4.5 7l-4.5-7zM1783.5 984.3l4.5 7l-4.5 7l-4.5-7zM1783.5 1005.9l4.5 7l-4.5 7l-4.5-7zM1783.5 1027.5l4.5 7l-4.5 7l-4.5-7zM1783.5 984.3l4.5 7l-4.5 7l-4.5-7zM1783.5 1027.5l4.5 7l-4.5 7l-4.5-7zM1783.5 1013.1l4.5 7l-4.5 7l-4.5-7zM1783.5 977.1l4.5 7l-4.5 7l-4.5-7zM1783.5 984.3l4.5 7l-4.5 7l-4.5-7zM1783.5 977.1l4.5 7l-4.5 7l-4.5-7zM1783.5 1005.9l4.5 7l-4.5 7l-4.5-7zM1783.5 977.1l4.5 7l-4.5 7l-4.5-7zM1783.5 984.3l4.5 7l-4.5 7l-4.5-7zM1783.5 991.5l4.5 7l-4.5 7l-4.5-7zM1783.5 984.3l4.5 7l-4.5 7l-4.5-7zM1783.5 977.1l4.5 7l-4.5 7l-4.5-7zM1783.5 998.7l4.5 7l-4.5 7l-4.5-7zM1783.5 991.5l4.5 7l-4.5 7l-4.5-7zM1783.5 1027.5l4.5 7l-4.5 7l-4.5-7zM1783.5 991.5l4.5 7l-4.5 7l-4.5-7zM1783.5 991.5l4.5 7l-4.5 7l-4.5-7zM1783.5 984.3l4.5 7l-4.5 7l-4.5-7zM1783.5 977.1l4.5 7l-4.5 7l-4.5-7zM1783.5 991.5l4.5 7l-4.5 7l-4.5-7zM1783.5 977.1l4.5 7l-4.5 7l-4.5-7zM1783.5 991.5l4.5 7l-4.5 7l-4.5-7zM1783.5 977.1l4.5 7l-4.5 7l-4.5-7zM1783.5 977.1l4.5 7l-4.5 7l-4.5-7zM1783.5 1013.1l4.5 7l-4.5 7l-4.5-7zM1783.5 977.1l4.5 7l-4.5 7l-4.5-7zM1783.5 984.3l4.5 7l-4.5 7l-4.5-7zM1783.5 991.5l4.5 7l-4.5 7l-4.5-7zM1783.5 998.7l4.5 7l-4.5 7l-4.5-7zM1783.5 1005.9l4.5 7l-4.5 7l-4.5-7zM1783.5 1013.1l4.5 7l-4.5 7l-4.5-7zM1783.5 1020.3l4.5 7l-4.5 7l-4.5-7zM1783.5 1027.5l4.5 7l-4.5 7l-4.5-7zM1783.5 1034.7l4.5 7l-4.5 7l-4.5-7zM1783.5 1063.5l4.5 7l-4.5 7l-4.5-7zM1783.5 1106.7l4.5 7l-4.5 7l-4.5-7zM1783.5 1135.5l4.5 7l-4.5 7l-4.5-7zM1783.5 1185.9l4.5 7l-4.5 7l-4.5-7zM1783.5 1193.1l4.5 7l-4.5 7l-4.5-7zM1783.5 883.5l4.5 7l-4.5 7l-4.5-7zM1614.3 1278l4.5 7l-4.5 7l-4.5-7zM1614.3 1265.1l4.5 7l-4.5 7l-4.5-7zM1780.8 1476.8l4.5 7l-4.5 7l-4.5-7zM1780.8 1480.2l4.5 7l-4.5 7l-4.5-7zM1780.8 1449.9l4.5 7l-4.5 7l-4.5-7zM1780.8 1455.6l4.5 7l-4.5 7l-4.5-7zM1780.8 1452.9l4.5 7l-4.5 7l-4.5-7zM1780.8 1467.8l4.5 7l-4.5 7l-4.5-7zM1780.8 1445.6l4.5 7l-4.5 7l-4.5-7zM1780.8 1457.5l4.5 7l-4.5 7l-4.5-7zM1780.8 1430.5l4.5 7l-4.5 7l-4.5-7zM1780.8 1448.7l4.5 7l-4.5 7l-4.5-7zM1780.8 1438.3l4.5 7l-4.5 7l-4.5-7zM1780.8 1446.1l4.5 7l-4.5 7l-4.5-7zM1780.8 1446.4l4.5 7l-4.5 7l-4.5-7zM1780.8 1480.8l4.5 7l-4.5 7l-4.5-7zM1780.8 1353l4.5 7l-4.5 7l-4.5-7zM1780.8 1412.6l4.5 7l-4.5 7l-4.5-7zM1780.8 1463.4l4.5 7l-4.5 7l-4.5-7zM1780.8 1474.6l4.5 7l-4.5 7l-4.5-7zM1780.8 1390.1l4.5 7l-4.5 7l-4.5-7zM1780.8 1458.9l4.5 7l-4.5 7l-4.5-7zM1780.8 1456.6l4.5 7l-4.5 7l-4.5-7zM1780.8 1480.3l4.5 7l-4.5 7l-4.5-7zM1780.8 1475.5l4.5 7l-4.5 7l-4.5-7zM1780.8 1471.2l4.5 7l-4.5 7l-4.5-7zM1780.8 1447.5l4.5 7l-4.5 7l-4.5-7zM1780.8 1451.9l4.5 7l-4.5 7l-4.5-7zM1780.8 1479.8l4.5 7l-4.5 7l-4.5-7zM1780.8 1441.8l4.5 7l-4.5 7l-4.5-7zM1780.8 1451.9l4.5 7l-4.5 7l-4.5-7zM1780.8 1470.1l4.5 7l-4.5 7l-4.5-7zM1780.8 1478.2l4.5 7l-4.5 7l-4.5-7zM1780.8 1461.1l4.5 7l-4.5 7l-4.5-7zM1780.8 1471.8l4.5 7l-4.5 7l-4.5-7zM1780.8 1484.2l4.5 7l-4.5 7l-4.5-7zM1780.8 1452.7l4.5 7l-4.5 7l-4.5-7zM1780.8 1477l4.5 7l-4.5 7l-4.5-7zM1780.8 1464.9l4.5 7l-4.5 7l-4.5-7zM1780.8 1473.6l4.5 7l-4.5 7l-4.5-7zM1780.8 1444.9l4.5 7l-4.5 7l-4.5-7zM1780.8 1342.2l4.5 7l-4.5 7l-4.5-7zM1780.8 1478.2l4.5 7l-4.5 7l-4.5-7zM1780.8 1441l4.5 7l-4.5 7l-4.5-7zM1780.8 1453.3l4.5 7l-4.5 7l-4.5-7zM1780.8 1436l4.5 7l-4.5 7l-4.5-7zM1780.8 1438.7l4.5 7l-4.5 7l-4.5-7zM1780.8 1437.2l4.5 7l-4.5 7l-4.5-7zM1780.8 1482.3l4.5 7l-4.5 7l-4.5-7zM1780.8 1470.9l4.5 7l-4.5 7l-4.5-7zM1780.8 1473.3l4.5 7l-4.5 7l-4.5-7zM1780.8 1474.4l4.5 7l-4.5 7l-4.5-7zM1780.8 1465.7l4.5 7l-4.5 7l-4.5-7zM1780.8 1431.2l4.5 7l-4.5 7l-4.5-7zM1780.8 1450.3l4.5 7l-4.5 7l-4.5-7zM1780.8 1470l4.5 7l-4.5 7l-4.5-7zM1780.8 1458.3l4.5 7l-4.5 7l-4.5-7zM1780.8 1435.9l4.5 7l-4.5 7l-4.5-7zM1780.8 1481.4l4.5 7l-4.5 7l-4.5-7zM1780.8 1466.9l4.5 7l-4.5 7l-4.5-7zM1780.8 1474.5l4.5 7l-4.5 7l-4.5-7zM1780.8 1464.1l4.5 7l-4.5 7l-4.5-7zM1780.8 1460l4.5 7l-4.5 7l-4.5-7zM1780.8 1420.8l4.5 7l-4.5 7l-4.5-7zM1780.8 1455.5l4.5 7l-4.5 7l-4.5-7zM1780.8 1457.2l4.5 7l-4.5 7l-4.5-7zM1780.8 1458.5l4.5 7l-4.5 7l-4.5-7zM1780.8 1444.2l4.5 7l-4.5 7l-4.5-7zM1780.8 1470l4.5 7l-4.5 7l-4.5-7zM1780.8 1476.2l4.5 7l-4.5 7l-4.5-7zM1780.8 1477.9l4.5 7l-4.5 7l-4.5-7zM1780.8 1484.7l4.5 7l-4.5 7l-4.5-7zM1780.8 1485.4l4.5 7l-4.5 7l-4.5-7zM1780.8 1465.5l4.5 7l-4.5 7l-4.5-7zM1780.8 1416l4.5 7l-4.5 7l-4.5-7zM1780.8 1458.9l4.5 7l-4.5 7l-4.5-7zM1780.8 1445.8l4.5 7l-4.5 7l-4.5-7zM1780.8 1462.6l4.5 7l-4.5 7l-4.5-7zM1780.8 1448.6l4.5 7l-4.5 7l-4.5-7zM1780.8 1371.5l4.5 7l-4.5 7l-4.5-7zM1780.8 1440.4l4.5 7l-4.5 7l-4.5-7zM1780.8 1445l4.5 7l-4.5 7l-4.5-7zM1780.8 1454.3l4.5 7l-4.5 7l-4.5-7zM1780.8 1453.8l4.5 7l-4.5 7l-4.5-7zM1780.8 1469.7l4.5 7l-4.5 7l-4.5-7zM1780.8 1470.4l4.5 7l-4.5 7l-4.5-7zM1780.8 1444.6l4.5 7l-4.5 7l-4.5-7zM1780.8 1439.2l4.5 7l-4.5 7l-4.5-7zM1780.8 1456.1l4.5 7l-4.5 7l-4.5-7zM1780.8 1439.9l4.5 7l-4.5 7l-4.5-7zM1780.8 1444.8l4.5 7l-4.5 7l-4.5-7zM1780.8 1453.3l4.5 7l-4.5 7l-4.5-7zM1780.8 1468l4.5 7l-4.5 7l-4.5-7zM1780.8 1333.6l4.5 7l-4.5 7l-4.5-7zM1780.8 1355.5l4.5 7l-4.5 7l-4.5-7zM1780.8 1377.5l4.5 7l-4.5 7l-4.5-7zM1780.8 1396.9l4.5 7l-4.5 7l-4.5-7zM1780.8 1400.7l4.5 7l-4.5 7l-4.5-7zM1780.8 1416.2l4.5 7l-4.5 7l-4.5-7zM1611.6 1662.7l4.5 7l-4.5 7l-4.5-7zM1778.4 1723.8l4.5 7l-4.5 7l-4.5-7zM1778.4 1704.3l4.5 7l-4.5 7l-4.5-7zM1778.4 1731.2l4.5 7l-4.5 7l-4.5-7zM1778.4 1711.2l4.5 7l-4.5 7l-4.5-7zM1778.4 1705.5l4.5 7l-4.5 7l-4.5-7zM1778.4 1665.2l4.5 7l-4.5 7l-4.5-7zM1778.4 1710.7l4.5 7l-4.5 7l-4.5-7zM1778.4 1716.4l4.5 7l-4.5 7l-4.5-7zM1778.4 1712.2l4.5 7l-4.5 7l-4.5-7zM1778.4 1703.6l4.5 7l-4.5 7l-4.5-7zM1778.4 1696.8l4.5 7l-4.5 7l-4.5-7zM1778.4 1702.7l4.5 7l-4.5 7l-4.5-7zM1778.4 1711l4.5 7l-4.5 7l-4.5-7zM1778.4 1738.5l4.5 7l-4.5 7l-4.5-7zM1778.4 1716.5l4.5 7l-4.5 7l-4.5-7zM1778.4 1726.6l4.5 7l-4.5 7l-4.5-7zM1778.4 1723.1l4.5 7l-4.5 7l-4.5-7zM1778.4 1732.5l4.5 7l-4.5 7l-4.5-7zM1778.4 1707.4l4.5 7l-4.5 7l-4.5-7zM1778.4 1732.2l4.5 7l-4.5 7l-4.5-7zM1778.4 1681.2l4.5 7l-4.5 7l-4.5-7zM1778.4 1727l4.5 7l-4.5 7l-4.5-7zM1778.4 1695.8l4.5 7l-4.5 7l-4.5-7zM1778.4 1732.8l4.5 7l-4.5 7l-4.5-7zM1778.4 1707.3l4.5 7l-4.5 7l-4.5-7zM1778.4 1732.4l4.5 7l-4.5 7l-4.5-7zM1778.4 1722.3l4.5 7l-4.5 7l-4.5-7zM1778.4 1723.4l4.5 7l-4.5 7l-4.5-7zM1778.4 1730.5l4.5 7l-4.5 7l-4.5-7zM1778.4 1718.2l4.5 7l-4.5 7l-4.5-7zM1778.4 1709.6l4.5 7l-4.5 7l-4.5-7zM1778.4 1714.3l4.5 7l-4.5 7l-4.5-7zM1778.4 1698.8l4.5 7l-4.5 7l-4.5-7zM1778.4 1711l4.5 7l-4.5 7l-4.5-7zM1778.4 1710.9l4.5 7l-4.5 7l-4.5-7zM1778.4 1740.2l4.5 7l-4.5 7l-4.5-7zM1778.4 1666.6l4.5 7l-4.5 7l-4.5-7zM1778.4 1739.1l4.5 7l-4.5 7l-4.5-7zM1778.4 1704.9l4.5 7l-4.5 7l-4.5-7zM1778.4 1735l4.5 7l-4.5 7l-4.5-7zM1778.4 1727.2l4.5 7l-4.5 7l-4.5-7zM1778.4 1722l4.5 7l-4.5 7l-4.5-7zM1778.4 1738.2l4.5 7l-4.5 7l-4.5-7zM1778.4 1734.5l4.5 7l-4.5 7l-4.5-7zM1778.4 1725.1l4.5 7l-4.5 7l-4.5-7zM1778.4 1705.5l4.5 7l-4.5 7l-4.5-7zM1778.4 1709.6l4.5 7l-4.5 7l-4.5-7zM1778.4 1667.8l4.5 7l-4.5 7l-4.5-7zM1778.4 1675.7l4.5 7l-4.5 7l-4.5-7zM1778.4 1712.9l4.5 7l-4.5 7l-4.5-7zM1778.4 1655l4.5 7l-4.5 7l-4.5-7zM1778.4 1652l4.5 7l-4.5 7l-4.5-7zM1778.4 1665.7l4.5 7l-4.5 7l-4.5-7zM1778.4 1671.6l4.5 7l-4.5 7l-4.5-7zM1778.4 1689.4l4.5 7l-4.5 7l-4.5-7zM1778.4 1701.3l4.5 7l-4.5 7l-4.5-7z" fill="#333"/>
<path d="M1603 424.5h0m7 0h0m-19 1h0m39-0.5h0m19 0.5h0m-24-1.5h0m-27-40h0m171 20h0m31-76.5h0m-17-43.5h0m1-165h0m3.5 292.5h0m30.5-116.5h0m-10 67.5h0m-13 8.5h0m-21.5 36.5h0m-5.5 1.5h0m9.5-2h0m28.5-10.5h0m12.5-42h0m-40.5-13h0m23.5 70.5h0m-7.5-10.5h0m16-14.5h0m-29 26.5h0m-15 1.5h0m35.5-32h0m7-11h0m-50.5 43h0m36.5-76h0m-24.5 67.5h0m30.5-18.5h0m9.5-5h0m-13-32h0m16 39.5h0m-55.5-141.5h0m58 137.5h0m0-3h0m-21 29h0m-11.5-33.5h0m23.5-79h0m-3.5 65.5h0m-31.5 16.5h0m6-96h0m35.5 122.5h0m-14.5-22.5h0m1.5-14.5h0m-39.5-49h0m2.5 59h0m12-39h0m-16 66h0m31.5 4.5h0m-22.5-37h0m39.5-77.5h0m-23 125h0m7.5-125h0m-27.5 24.5h0m26.5-20h0m4.5 58.5h0m8 54h0m-36-7h0m4.5-19.5h0m-13.5 13h0m35-5h0m-28-52h0m29 36.5h0m10.5 22.5h0m-10 1h0m18.5-6.5h0m-2 8.5h0m-36.5-19h0m5-15.5h0m19-21h0m-37 71.5h0m-155.5 330.5h0m-18-2.5h0m52 32.5h0m-18-52.5h0m-20.5 33h0m37.5-189h0m168.5 223h0m-10.5 3h0m-5 2.5h0m-23-1h0m-3-5.5h0m1 8.5h0m14-40h0m4 34h0m2-14h0m-6 19.5h0m17.5-2.5h0m-27-0.5h0m25.5 0.5h0m-6-11h0m-34.5 9.5h0m1 0h0m10 1.5h0m17.5-1h0m-9-5.5h0m8 5h0m-18 4h0m5.5 0h0m26.5-4h0m-5-17h0m-34 19h0m-6 1.5h0m8 1h0m-10.5 0h0m37.5-2h0m18.5 1h0m-2-14.5h0m-16-2h0m-23.5 16h0m14 0h0m26.5-0.5h0m-33.5 1h0m-9.5-9.5h0m22.5 6h0m-3 3h0m23-1h0m-49-2h0m24 3h0m22.5-8h0m-48 8.5h0m14-5h0m13.5 5h0m18-0.5h0m-19.5-40.5h0m21 41.5h0m-8.5-3.5h0m-1 3h0m-39 1h0m-3-2h0m49.5 0.5h0m-25 0h0m-19.5-7h0m34.5 7.5h0m9-1.5h0m-47-0.5h0m16-1h0m-3.5-0.5h0m18-6.5h0m17 8h0m-11.5 2.5h0m-8.5-16.5h0m14 15.5h0m-38.5 0.5h0m-110 129h0m-14 7.5h0m5.5 172.5h0m-47-180h0m31.5-7h0m-34-7h0m207 21.5h0m17 36h0m-7-43.5h0m-3 7.5h0m-31-29h0m-3.5 21.5h0m7-7h0m33.5 7h0m-8.5-7h0m-39 43h0m42-28.5h0m-12.5-7.5h0m5 22h0m-16-29h0m-22.5 43h0m3.5-7h0m18.5-57.5h0m2.5 72h0m17-36h0m-35 14.5h0m50-7.5h0m-52.5-14.5h0m37.5 36h0m8-28.5h0m-17-21.5h0m-14 50h0m32.5-50h0m-1 21.5h0m-30.5-14.5h0m19 14.5h0m-7.5-14.5h0m12.5 65h0m11-79.5h0m-19 57.5h0m-0.5-28.5h0m4-7.5h0m3.5 0h0m-17 14.5h0m16 21.5h0m3.5-7h0m-27-50.5h0m40 57.5h0m-42-57.5h0m36 50.5h0m-6.5-50.5h0m13.5 36h0m-5.5-50.5h0m2.5 7.5h0m-52.5 28.5h0m40.5 43.5h0m-47-21.5h0m3.5-36h0m47 14h0m-5 0h0m-33.5 0h0m33.5 65h0m-43-72h0m40-7h0m-30.5 14h0m49.5 0h0m-39.5-21.5h0m-13.5 14.5h0m0 0h0m6.5 36h0m-5.5-29h0m24.5 0h0m-17 86.5h0m-182.5 394.5h0m22.5 152.5h0m-23 11h0m45.5-19h0m12.5-1h0m-47-38h0m190 20.5h0m-11 27h0m-26-28.5h0m49-19.5h0m5 0.5h0m-34 19.5h0m8-4h0m7.5 41.5h0m-4-11h0m-22 8h0m15.5 9h0m9-62h0m-13-3.5h0m11.5-16.5h0m16.5 54.5h0m-27 10h0m15.5-17.5h0m-0.5-21h0m-15 8.5h0m-8.5 16h0m-0.5-3h0m-11 33h0m17-75.5h0m1.5 52.5h0m18 7.5h0m8 10h0m-9-33.5h0m-2.5 10.5h0m2.5-55h0m0.5 19.5h0m15-15.5h0m-47.5 5h0m31 68.5h0m-30-62.5h0m12 27.5h0m-9 26h0m42-6.5h0m-17.5 14h0m-8.5-8h0m6-21h0m25.5-10h0m-8 46h0m-42-38.5h0m41 31.5h0m-35 8.5h0m17-24h0m0 14h0m0-34h0m-25 0.5h0m0 5.5h0m53 4h0m-12 0.5h0m-1-44h0m-17 6h0m15 62.5h0m-16-11h0m30-5.5h0m-30.5-5.5h0m24 1.5h0m0.5 10h0m-34.5 11.5h0m9 1.5h0m-0.5-39.5h0m-8.5 31h0m10.5 9h0m29.5-17.5h0m-34 16h0m-135.5 335.5h0m-18.5 22.5h0m-31.5-2h0m28.5-16h0m-1.5-20h0m-13-78h0m186 6.5h0m14 36h0m-48-9h0m9 60h0m37-42.5h0m-8.5 31.5h0m15-12.5h0m-41-23.5h0m18-49.5h0m-9-8h0m1 113h0m7.5-155.5h0m18.5 168h0m-1.5-155.5h0m-2 117.5h0m8.5-126h0m-39.5-17h0m39.5 120.5h0m-24.5 57.5h0m0.5-66.5h0m20.5 41h0m-1 9h0m-2.5-114h0m-42.5 97.5h0m42.5-145h0m-9.5 104.5h0m-32.5-50h0m51 55.5h0m-19 41h0m-29-2h0m31-145.5h0m-24.5 178h0m-6-49.5h0m26-121h0m8 118.5h0m4 5.5h0m-2.5-87h0m-8 104.5h0m-20-185h0m35.5 185h0m-3.5 17.5h0m-4.5-52h0m-10.5-3h0m-12.5-5.5h0m-24-82.5h0m49 74.5h0m-9 99.5h0m17.5-98.5h0m-12.5-38h0m1 99h0m-0.5-66h0m-10 102.5h0m-3.5-53h0m23-37h0m-34-78.5h0m0 44h0m-6 49h0m2.5-20h0m35.5-10h0m-54 35h0m18.5-43.5h0m42-68h0m-8.5 154.5h0m-1-240.5h0m-22 262.5h0m28-165h0m-43.5 98.5h0" stroke="#000" stroke-opacity="0.27" stroke-width="6.3" stroke-linecap="round" fill="none"/>
<path d="M1600.5 424.5h0m41.5 0h0m-22.5 0.5h0m15 0h0m-14 0h0m0-0.5h0m1.5-36.5h0m178.5 29h0m15 0h0m-33-59.5h0m-18.5 20.5h0m29.5 10h0m12.5 17.5h0m3-26h0m-23-30.5h0m1.5 27.5h0m-8 7h0m7-16.5h0m26 44.5h0m-50.5-22h0m54.5-2.5h0m-47.5-36.5h0m45 48.5h0m-19.5-21h0m6.5-5h0m-18.5-20.5h0m-11 47h0m28-18.5h0m-12.5 4.5h0m17.5-150h0m-44.5 166h0m42.5 9h0m4.5-69.5h0m0 20.5h0m9.5-35h0m-25 49h0m-21.5 45h0m39-64h0m8 25.5h0m-26-2.5h0m18 19.5h0m3-10h0m-39.5-65h0m24.5 71.5h0m5-53.5h0m-7 14h0m-31.5 52h0m2-8h0m28-18.5h0m19 27.5h0m-17.5-30h0m-34 0h0m41.5 26h0m-32-114h0m-10 53h0m22 42h0m-22.5-3h0m29.5 41h0m-14-46h0m19-28h0m-15 48.5h0m38.5 8h0m-50.5-62h0m36.5 17h0m-15 0.5h0m-5 13h0m-12 7h0m12 25.5h0m33.5-81h0m-49 92h0m44.5-41h0m-35.5 28.5h0m-14.5-47h0m52.5 28h0m-175.5 409h0m-9-23h0m-10-6h0m-29.5-36h0m-4.5 27.5h0m32.5-144.5h0m135.5 187.5h0m55.5 3h0m-5-5.5h0m-52 5.5h0m40.5-1h0m-9.5 0.5h0m-26-2h0m20 2.5h0m25.5 0.5h0m6.5-1h0m-25-3h0m-26.5 1h0m14-1h0m31.5 4h0m-38.5-9.5h0m18 2.5h0m8 6h0m-41.5 1h0m33.5-1.5h0m12.5 1.5h0m-41-1.5h0m28 1h0m12.5-7h0m-3 6h0m11.5-1.5h0m1-2.5h0m-23 5.5h0m-13.5-3h0m4.5-16h0m32.5 17h0m-20 2h0m-21.5-1h0m10-1h0m-10 0h0m39.5 2h0m-17.5 0h0m-16 0h0m-14-1.5h0m7 1.5h0m10 0h0m17.5-10.5h0m-17.5 10.5h0m-11-2h0m-6.5 1.5h0m37.5-8.5h0m-35 8.5h0m38-59.5h0m2 56h0m-36 4h0m36.5-5h0m2-8.5h0m-18.5 14h0m0.5-4.5h0m-19 2h0m36.5 0h0m-15.5 2h0m15-0.5h0m7.5-4h0m-35.5 4h0m-17.5-3h0m36 3h0m18.5 1h0m-59.5-4h0m33 2h0m-26.5-4h0m8.5-33h0m13.5 34h0m-147 119h0m-11.5 14h0m-34 14.5h0m11.5 50.5h0m11-29h0m-17-36h0m170.5 7.5h0m6-29h0m3 14.5h0m16 21.5h0m-24-14.5h0m45.5 0h0m-33-14h0m19 21.5h0m-37-14.5h0m48 0h0m-3.5-29h0m-42.5 36h0m15.5 0h0m14.5 36h0m-32.5-50h0m43 57.5h0m7.5-65h0m-35 21.5h0m34.5 29h0m-28-7h0m11.5-22h0m-14.5-7h0m-14.5 0h0m35 21.5h0m-30-7h0m8.5 64.5h0m-7-57.5h0m21-14.5h0m-14-7h0m-3 14.5h0m24-7.5h0m8-7h0m0 0h0m-18 57.5h0m-8-21.5h0m-24-29h0m43-7h0m-25 0h0m15-7h0m14 21.5h0m-29.5-29h0m4.5 122.5h0m-9 0h0m-6-72h0m38.5-43h0m-34 64.5h0m26-50.5h0m-7.5-14h0m-5.5 0h0m29 43h0m-22-43h0m7.5 0h0m-2 7h0m15.5-7h0m-27.5 21.5h0m-6-7.5h0m-9 36h0m34.5-28.5h0m-14.5-7.5h0m-25-14h0m35.5 7h0m-2-14.5h0m-22.5 21.5h0m-12.5 50.5h0m14-36h0m14-14.5h0m-12.5 94h0m-177.5 514.5h0m11.5 27h0m-3.5 12h0m-16-64.5h0m-1.5 47h0m52.5-3.5h0m129.5-103h0m39 107h0m-28.5-28.5h0m-5.5 25.5h0m-8 3.5h0m6 12h0m-15-39.5h0m53 40.5h0m-15-28.5h0m8 34h0m-44-24.5h0m16 2h0m38-97h0m-10.5 114.5h0m-17-76.5h0m22 38.5h0m-8.5 40h0m-13-40h0m-21.5-32h0m7 56h0m15.5 6.5h0m5-13h0m-39 11h0m44-23h0m6 21h0m-36 10h0m16.5 8h0m17.5-48h0m8 34.5h0m-43-16.5h0m32-57.5h0m-46 8h0m2.5-6.5h0m14 1h0m20 82.5h0m-21-25h0m7 1.5h0m-16 11h0m9.5-55.5h0m20.5-7h0m-23.5 53.5h0m6-3h0m37.5-22.5h0m-21.5 2.5h0m-27 1.5h0m49 22h0m-7.5-13.5h0m-15-51.5h0m26.5 65h0m-46 4.5h0m-7.5-31.5h0m-3-11.5h0m5-26.5h0m42 83.5h0m0-24h0m-1.5 3.5h0m-41.5 14h0m-2-21.5h0m-6.5 20h0m7.5-95h0m47 38.5h0m-32.5 16.5h0m26.5 3h0m-30 16h0m-12-41.5h0m-6 6.5h0m13 39.5h0m-174.5 404.5h0m4.5-104.5h0m28.5-75h0m-25 104.5h0m27.5-148.5h0m-36.5-50h0m219 218.5h0m-52.5 13h0m33-199.5h0m-39.5 182.5h0m41-17.5h0m-17-23h0m19-105.5h0m2 10h0m-28.5-47h0m8.5 128h0m6.5 28h0m-14.5 6h0m13-122h0m27 59h0m-11 58.5h0m6.5 15h0m-37.5-39h0m13-23h0m0 79h0m-25.5-56h0m37 71.5h0m-38.5-159h0m6.5 143h0m9.5 2h0m30-39h0m-6-23.5h0m-12 43h0m-30 34h0m45-19.5h0m0-38h0m-19.5 33.5h0m-6-34.5h0m16-105h0m14.5 109h0m-44.5-112.5h0m47.5 188.5h0m3-122.5h0m-45.5-23.5h0m36.5 97h0m-39-10h0m34.5-106.5h0m-40.5 61h0m45.5 45.5h0m-4-15h0m-33 30.5h0m0.5-2h0m-8.5-40.5h0m3 40h0m23-28.5h0m26.5 34h0m-23-36h0m17.5 48.5h0m0-122.5h0m-24.5 87h0m-20 6.5h0m11 12.5h0m-16 35h0m6-43.5h0m35 38.5h0m-1-119.5h0m-27.5 69.5h0m-0.5-104h0m1 143.5h0m-10-72h0m0 62h0m23.5-149.5h0m-12 93.5h0" stroke="#000" stroke-opacity="0.27" stroke-width="6.3" stroke-linecap="round" fill="none"/>
<path d="M1646.5 424.5h0m4.5 0h0m-16.5 1h0m-31-1.5h0m45.5 1h0m-16 0.5h0m-27.5-35.5h0m199-39.5h0m-26.5 69.5h0m-6-16h0m14.5-30h0m-9.5 6.5h0m5 6h0m-0.5 11h0m8.5 21.5h0m10.5-1h0m0.5-59h0m-26 27.5h0m-4 22h0m48-4.5h0m-27-25.5h0m-4 22h0m-19.5-5.5h0m45.5-28.5h0m-33.5-92h0m12 127.5h0m-5.5-24h0m4.5-8h0m-18-49h0m11.5 87.5h0m9.5-81h0m-8.5 56.5h0m13 26.5h0m-21.5 9.5h0m27-23h0m-41.5-53.5h0m2 51.5h0m-6-103h0m56.5 82h0m-33.5 20h0m30.5 4.5h0m-7 13.5h0m-19.5-113.5h0m-19.5 76h0m40.5 14.5h0m0.5-28.5h0m-31.5 10.5h0m27.5 39h0m-41.5-83.5h0m17 76.5h0m32.5-63h0m-27 53h0m31 1h0m-37-142h0m27.5 71.5h0m9 70.5h0m-20-6h0m0-6.5h0m-9 38.5h0m10.5-43.5h0m-12 35h0m6.5-41.5h0m-33 2.5h0m61 33.5h0m-50.5-19.5h0m31-6.5h0m-10.5 6h0m-17 7.5h0m34.5 20h0m-31-12.5h0m3.5-10.5h0m17-8.5h0m-35.5 22.5h0m55-6h0m-183 378h0m-18.5-24h0m-19 24.5h0m1.5-25.5h0m1.5 31.5h0m25.5-166.5h0m129 181.5h0m46.5 7h0m-27-2.5h0m35-1.5h0m-44.5-3h0m2.5 5.5h0m9.5 1.5h0m8 0h0m-22-2.5h0m49 1h0m-53.5 0.5h0m48 0h0m-31.5-0.5h0m-7 1h0m25.5 1h0m-31.5-0.5h0m36 0h0m0.5 0h0m5 0h0m-42.5-1h0m20.5-7h0m8.5 7.5h0m-27-1h0m-2-6.5h0m-4 8h0m37.5 0h0m-27-0.5h0m-8-9.5h0m21 7.5h0m-21.5-1h0m30-6.5h0m5 10h0m11.5-0.5h0m-41 0h0m37-1.5h0m-48 0.5h0m-1.5-2h0m26.5-0.5h0m9 3h0m-20 0.5h0m33-31h0m12 29h0m-52.5 3h0m43-2h0m-20.5 0h0m28 1.5h0m-43.5-1.5h0m15.5 2h0m-22.5-3h0m5.5-7h0m-1 8.5h0m-8.5-1.5h0m4 0h0m-5 2h0m37-1h0m18.5 2h0m-30.5-5h0m-22 2h0m23-38h0m-3 38.5h0m-23 2.5h0m47-24.5h0m-6-7h0m-40.5 29.5h0m28.5 0h0m-17.5-29.5h0m44 28h0m-184.5 131.5h0m9.5 122.5h0m-39-129.5h0m-5 14.5h0m12.5-7.5h0m33.5 94h0m166.5-94h0m-19.5-21.5h0m30 57.5h0m-56 0h0m54.5 0h0m-39-64.5h0m14 21.5h0m9.5 0h0m-35 21.5h0m-1 0h0m-6-14.5h0m29.5 0h0m-3 36h0m-25-36h0m53.5-14h0m-20 21.5h0m1.5 28.5h0m-19-7h0m-7 0h0m47.5-65h0m-43 29h0m10 21.5h0m0-7h0m-15.5-14.5h0m37-14.5h0m-47 57.5h0m22.5-57.5h0m21 21.5h0m-12-7h0m-15 21.5h0m-1-28.5h0m-2.5 50h0m17-36h0m1 0h0m26.5-7h0m-30-7h0m14 79h0m0-21.5h0m19 28.5h0m-30-36h0m-7.5-36h0m-21.5 7.5h0m36-21.5h0m-34.5 21.5h0m-1-7.5h0m50 7.5h0m1 0h0m-29-7.5h0m-21.5-7h0m9 0h0m50 0h0m-12-7h0m-18.5 28.5h0m7.5 21.5h0m-10 0h0m-23.5-57.5h0m41 21.5h0m-19.5-7h0m26-7h0m-51.5 0h0m23.5 28.5h0m-6-7h0m23-29h0m15.5 7.5h0m-18 0h0m-6-14.5h0m4.5 129.5h0m-181.5 498h0m36 22.5h0m-41.5-124h0m-14 112.5h0m39.5 37h0m12-150h0m170.5 124h0m-16.5 23.5h0m-35.5-73.5h0m30 28.5h0m-30.5 19.5h0m31 2.5h0m-27 19h0m45-41.5h0m-2 46.5h0m-46-20h0m44 12h0m-40.5-67h0m0.5 29h0m-10 35h0m16.5-12h0m18.5-12.5h0m-31 29h0m29-35.5h0m1 9h0m-26.5-1.5h0m5 5h0m41.5-4h0m-37 19h0m29.5-67.5h0m3 57.5h0m-14.5-40.5h0m-31-165h0m15 186h0m36.5-74.5h0m-40.5 67.5h0m16.5-29.5h0m-13.5 79.5h0m-20.5-46h0m48.5 6.5h0m-13.5 7.5h0m-19-4h0m0 32.5h0m-4-14h0m36.5 14h0m-1.5-37.5h0m7.5 18.5h0m0-14h0m-43.5 8h0m4 9h0m8.5 23h0m30-9.5h0m-29-10h0m-18.5 9h0m35.5-33h0m10.5 16h0m-46.5 6h0m12-51.5h0m43 48h0m-32.5-12.5h0m-4-45.5h0m29.5 36.5h0m-12 6.5h0m-20 35h0m-9-26.5h0m15.5 17.5h0m-29 4h0m28-27h0m9 1.5h0m7.5 13h0m-21.5-56.5h0m-16.5 62.5h0m19-90h0m-158 443.5h0m-1.5-90.5h0m-5.5 14.5h0m26.5 57.5h0m-4.5-55.5h0m-16.5-12.5h0m178 94.5h0m-5-70h0m5.5 31h0m-21.5 8h0m16.5-132h0m10 126.5h0m7 45.5h0m-21-31.5h0m3-24.5h0m-6-21.5h0m-33 35.5h0m24-48.5h0m-3-3h0m11 25.5h0m24 28.5h0m-13-34.5h0m-38.5 20h0m15.5 47.5h0m-13 7.5h0m38.5-59h0m3-11.5h0m-34.5 57.5h0m40-23.5h0m-35.5-23.5h0m24.5-10.5h0m-42.5-23.5h0m19 98.5h0m3.5 14h0m-7.5-167h0m34 91.5h0m-27.5 32.5h0m-20 5.5h0m4-152.5h0m1.5 146h0m42-40h0m-5 4.5h0m-3.5-2.5h0m14.5-16.5h0m-42.5 78.5h0m27.5-135.5h0m-42.5 12.5h0m6.5 92h0m9-60h0m34.5-18.5h0m-31-71h0m13 34.5h0m11 102.5h0m7-3h0m10.5-41h0m-51 44.5h0m2 48.5h0m32-75.5h0m-30 51.5h0m18.5-155.5h0m-25 87.5h0m6 48h0m2.5-74h0m-10.5 114.5h0m55-51.5h0m-11.5-37h0m-41.5-15.5h0m11 45.5h0m-6.5-29.5h0m29.5 110h0m17-93h0m-20 93.5h0m16-110.5h0" stroke="#000" stroke-opacity="0.27" stroke-width="6.3" stroke-linecap="round" fill="none"/>
<path d="M1631 424.5h0m-12.5-0.5h0m-17 0h0m44.5 1h0m-50.5-1h0m-1 1.5h0m8-33.5h0m216 1h0m-3.5-72.5h0m-28.5 11h0m30 36.5h0m2 52h0m-19.5-95h0m-5 78.5h0m25 11.5h0m-60-14h0m11.5-16h0m21.5-18h0m-33.5 26h0m-0.5-56h0m5.5-87h0m54 150.5h0m-29-24h0m-29-23h0m41.5 33.5h0m-35.5-52h0m36.5 86.5h0m8.5-20.5h0m-16 23.5h0m-19-45.5h0m11-2.5h0m-22 1.5h0m45 34.5h0m-40.5-18.5h0m28.5 5h0m14.5 9.5h0m-44.5-3h0m9.5-4h0m-9-17h0m24.5 9h0m10-56h0m-28 5h0m22.5 71.5h0m20.5-29h0m-31.5 8.5h0m31-22h0m-35 13h0m27.5 13h0m-46 15h0m41.5-34.5h0m-44.5-6h0m47-18.5h0m-37.5 60.5h0m-9-19h0m31.5-60h0m-22.5 45h0m2.5-47h0m19-23.5h0m8.5 58h0m-8.5 17h0m19.5 13.5h0m-33 18.5h0m-17.5-12.5h0m17.5-13h0m14 27.5h0m-8.5-38.5h0m23.5 19h0m-31-136.5h0m-1.5 110.5h0m17-5h0m18 42h0m-51.5 2h0m10.5-78.5h0m51 27h0m-204 401h0m15.5 37h0m-20-23h0m9 12h0m-36-49h0m33-115.5h0m135.5 118h0m45.5 64h0m-18-3.5h0m-25.5 2.5h0m17-0.5h0m11.5 2h0m21.5-1h0m-35-1h0m36.5-2.5h0m-42 4h0m27.5-4h0m-7 4h0m-35-3h0m22-7h0m17.5-8h0m-18 9.5h0m12 0.5h0m18.5 7.5h0m-26.5-0.5h0m-12.5-1.5h0m20 0h0m-12.5 2h0m13.5-2.5h0m-12.5 3.5h0m26-2h0m10 0h0m-37-3h0m36 2.5h0m-34 0h0m18.5-6.5h0m-17 2h0m25 3h0m-5 0h0m2.5 2.5h0m11-3.5h0m-47 2.5h0m-6.5 0.5h0m18.5 0.5h0m-2.5 0h0m-10 0.5h0m29.5-22.5h0m-17 23h0m12-1h0m-13 1h0m28-2.5h0m-32.5-1.5h0m-13.5 3.5h0m41.5 1h0m8.5-47.5h0m-53 47h0m23.5-1h0m6.5-0.5h0m18-2.5h0m-25.5 2h0m28-9h0m10.5-52.5h0m-34.5 45h0m11.5 18.5h0m13.5-1h0m-4.5-3h0m0 4h0m-18.5-3.5h0m15.5 1.5h0m-19 1.5h0m-13.5-1h0m16-6h0m-23 5h0m-137.5 160h0m-14 50.5h0m38 64.5h0m-47-136.5h0m11.5 28.5h0m9.5 36h0m177-72h0m-29 36h0m41.5-43h0m-31-29h0m-20.5 36h0m2 7.5h0m34.5 7h0m0.5 43.5h0m19.5-50.5h0m-35.5 21.5h0m12.5-50.5h0m-10 14.5h0m22.5 21.5h0m5.5-7h0m-26.5 21.5h0m7.5-21.5h0m22.5 0h0m-50.5 21.5h0m40-29h0m14-14h0m2.5 36h0m-7-22h0m-54 7.5h0m36.5-14.5h0m3.5 14.5h0m-4 14.5h0m-20.5 21.5h0m-10-36h0m54.5 7h0m-33.5 29h0m-15.5-57.5h0m38 14h0m8-21.5h0m-17 21.5h0m-29 14.5h0m22.5 7.5h0m-32.5-7.5h0m22.5-21.5h0m5.5-14.5h0m-14.5-14.5h0m-9.5 14.5h0m30 29h0m-22.5 0h0m28.5-7.5h0m-32.5 14.5h0m6 21.5h0m31 7.5h0m-9-36h0m-34 0h0m50-29h0m-46.5 14.5h0m51.5 7h0m-3 7.5h0m-54.5-21.5h0m61 0h0m-21.5 43h0m-3-36h0m12 21.5h0m-36.5-14.5h0m19 29h0m-10.5-29h0m26.5-21.5h0m-36.5 65h0m1.5-43.5h0m49-21.5h0m-47.5 43.5h0m2 86h0m-170.5 349.5h0m-13 146h0m25 21h0m-23.5 22.5h0m8 0.5h0m24-121h0m140.5 78h0m41 42.5h0m-46-52h0m5.5 31h0m2-15.5h0m14 32h0m26-20.5h0m-51.5-21.5h0m18.5 24h0m15.5-7.5h0m12.5 3.5h0m-36.5 5h0m41-25.5h0m-8 1.5h0m-22.5-31.5h0m11.5 43.5h0m5 20.5h0m15.5-14.5h0m-38 10h0m8-16.5h0m37-30.5h0m-1.5 14.5h0m-49 43.5h0m12-22.5h0m39.5 4.5h0m-32.5 0h0m25.5-46.5h0m-41.5 34.5h0m-6.5 34.5h0m-3-30.5h0m57.5 7.5h0m-27-77.5h0m-15 97h0m-9-38.5h0m43-15.5h0m-9-48.5h0m-21.5 52h0m25.5-67h0m6.5 70.5h0m-25.5-54h0m28 105h0m-42-20.5h0m-13-22h0m0-40.5h0m35.5 81h0m-8-63h0m24 28h0m-34.5 16h0m39.5-22h0m-11.5 48.5h0m-19-30h0m5.5 27h0m-3-25.5h0m-9 12.5h0m2-8.5h0m7-23.5h0m7 8.5h0m-22 2.5h0m15-86h0m-6.5 72h0m16 26h0m-16-22h0m31 28.5h0m-39-52h0m-9 52.5h0m11-20h0m39.5-37.5h0m-216.5 418h0m6.5-98h0m7-24h0m13.5 67h0m-18-45h0m30 106h0m129-221.5h0m16.5 170h0m-23.5 55h0m7-180.5h0m24 155h0m23.5-4h0m-36-126.5h0m-17 55h0m47 47.5h0m4 5h0m2.5 19h0m-33.5-9h0m34-108h0m-24.5 91h0m-15.5-69h0m32 54.5h0m-29 0h0m-19-44.5h0m48 9h0m8 54h0m-40.5 37.5h0m7-117.5h0m-9.5 130.5h0m-11-148h0m3.5 84h0m12.5-63.5h0m6 30.5h0m-0.5 27.5h0m5 90h0m4.5-68h0m1.5-104h0m4.5 75h0m-35.5 13h0m-1-142.5h0m30.5 1h0m9.5 196.5h0m-34-63h0m9.5 4h0m7.5-6h0m23.5 33.5h0m0.5 28.5h0m-18.5-17.5h0m9.5-14.5h0m-36.5 9h0m25 36.5h0m-13.5-82h0m0.5 45h0m13-70h0m21 105h0m7-78h0m0-19.5h0m-13.5 121h0m-37.5-83.5h0m18.5-7h0m7-15h0m19.5 43.5h0m1-5h0m-25.5-68.5h0m-29-9.5h0m44 32h0m-28-1h0m-13.5-84h0m23.5 177.5h0m30-128.5h0m-14 73.5h0m-36.5 9.5h0m28 13h0" stroke="#000" stroke-opacity="0.27" stroke-width="6.3" stroke-linecap="round" fill="none"/>
<path d="M1617.5 424.5h0m-22.5 0h0m12 1h0m44-0.5h0m-47 0h0m19.5 0.5h0m-0.5-32h0m173-32.5h0m18 29.5h0m3-19.5h0m-4.5-84h0m-48 36h0m38.5 49.5h0m-1.5 2.5h0m-9-18.5h0m15.5 16h0m4-23h0m-32.5 45.5h0m-3.5 7h0m-9.5-71.5h0m30.5 73h0m-25 15h0m16.5-14h0m-24-9h0m49-22.5h0m-8 32.5h0m5-29.5h0m-30 5.5h0m8.5 24h0m-9 4h0m-4-6.5h0m-13-5.5h0m18 26h0m-16.5-26.5h0m22-111.5h0m-25 110.5h0m10 25.5h0m8.5-45.5h0m39-2h0m-43.5 29h0m23.5-2.5h0m-36.5-59h0m32.5 33.5h0m-24.5-16.5h0m-0.5-1.5h0m37.5 37.5h0m-42.5-19h0m53.5-111.5h0m-2.5 126h0m-36 29h0m21-10h0m-27.5-15h0m-16-58.5h0m47 16h0m-22 71.5h0m-12.5-80h0m-6.5 52h0m36 2h0m-29 24h0m28-5.5h0m-34-34h0m8.5 19.5h0m4 4h0m42-8.5h0m-44-10.5h0m31-60h0m-11.5 50h0m6 20.5h0m-42-73.5h0m36 5.5h0m-22 95h0m31.5-101h0m-28 65h0m15-273h0m-187 663h0m18-21.5h0m-38.5-15.5h0m14 4.5h0m13 0.5h0m5.5-119h0m175.5 178.5h0m-23.5-0.5h0m9.5 0.5h0m-5 0.5h0m-22.5-3h0m15.5 1.5h0m-14-21.5h0m51 20h0m-36 2h0m22.5-10.5h0m-3.5 10h0m0.5 0h0m-25.5 0h0m18 1.5h0m26.5-2h0m4-3h0m-50.5 3h0m-6.5-19.5h0m54.5 21h0m-49-0.5h0m41.5-35.5h0m-5 33.5h0m-43.5 2.5h0m45-0.5h0m2 0.5h0m-11.5-0.5h0m-8.5-4h0m22 3h0m-39 0.5h0m46.5 0.5h0m-11 0.5h0m3.5-1h0m-43-0.5h0m28.5-12h0m-14 13.5h0m11-1.5h0m23 1.5h0m-33.5-20.5h0m22.5 19.5h0m-18-2h0m-23-4h0m18.5 6h0m-17.5-2h0m18.5-20.5h0m-1 20h0m-13.5 0h0m-4 2.5h0m57.5 0.5h0m-29.5-1h0m3.5 1h0m-0.5-7.5h0m-26 6h0m4 2h0m-13 0.5h0m-0.5-9.5h0m56.5 7.5h0m-12.5 1h0m9-1h0m-40.5 2h0m10.5-2.5h0m-4 2h0m29.5-0.5h0m-33-1h0m5.5 1.5h0m40-4.5h0m-8-4h0m-25.5 6.5h0m-159 130.5h0m-9-7h0m24.5-21.5h0m4 0h0m6 28.5h0m-17.5-7h0m161 36h0m2-43h0m10.5 14h0m4 14.5h0m-27 0h0m-22 14.5h0m1-14.5h0m22 7.5h0m26.5-43.5h0m-4.5 21.5h0m-3.5 7.5h0m-26-14.5h0m-3.5-7h0m7.5 57.5h0m0-65h0m-4.5 36h0m-14.5-43h0m27 28.5h0m-29 0h0m6 7.5h0m30.5 36h0m23.5-21.5h0m-38 0h0m23-50.5h0m-45 28.5h0m3 0h0m17 43.5h0m-11-43.5h0m46.5-7h0m-38 14.5h0m-11 14.5h0m28.5-14.5h0m1-7.5h0m-11.5-14h0m-3 21.5h0m39 21.5h0m-17.5-21.5h0m-42 7h0m31-14.5h0m-24.5 22h0m-2-7.5h0m32.5-21.5h0m-6.5 29h0m-22 28.5h0m46.5-21.5h0m-21-50.5h0m-25.5 50.5h0m47.5-14.5h0m-42.5 7.5h0m19 7h0m-21-21.5h0m26.5 7h0m18.5-7h0m-55-7.5h0m30 22h0m17.5-22h0m-32.5 7.5h0m22.5 43h0m16.5-50.5h0m3.5 29h0m-16-36h0m-18 29h0m-24.5-22h0m10-21.5h0m48 14.5h0m-24 7h0m-20.5 137h0m-123 493.5h0m-33.5-55.5h0m-20.5-10h0m48 33h0m-12 51h0m3-18.5h0m172 6.5h0m-38-21.5h0m24.5-5.5h0m12 1h0m-20 11.5h0m0.5-5.5h0m6 27.5h0m-30-64.5h0m13.5 24h0m-0.5 38h0m-3.5-65.5h0m18 64h0m-28.5-65.5h0m19.5-6h0m28.5-5h0m-9 68h0m-41-23.5h0m44 16.5h0m11-48.5h0m-21 8h0m11 34.5h0m-22.5-58h0m7 62h0m-16.5 1.5h0m-2.5-27h0m2 30h0m34-10.5h0m-39-5h0m10 0h0m36 37.5h0m-20-18.5h0m-5.5-20h0m15-9.5h0m-41.5 24.5h0m34 12.5h0m-21.5-17.5h0m34-29.5h0m-9 15h0m1.5-4h0m-32.5 35h0m36.5-31.5h0m-6.5 8h0m-41.5-38h0m27 9h0m30 33.5h0m-54.5 11h0m13.5 5h0m4.5-9.5h0m37.5-4.5h0m-33-19h0m23.5-65.5h0m10 31.5h0m-21.5 43h0m-14.5 26.5h0m33-48.5h0m-12 17h0m-7.5-40h0m-17.5 37.5h0m26-36.5h0m-21 69h0m-8 12.5h0m5-77.5h0m9 56h0m-23-15.5h0m15.5-6.5h0m-3-31h0m-6-166.5h0m-154.5 377h0m-0.5 143h0m1 15h0m31.5 8h0m-41 12h0m-1 48.5h0m201.5-159.5h0m8.5 145.5h0m-5.5-3.5h0m-16.5-46.5h0m13.5-68.5h0m-40 144h0m9-164.5h0m35 83h0m-3 26h0m-47 4.5h0m6.5-6h0m-11 24h0m23-43.5h0m-5.5 17h0m40.5-40h0m-56 61.5h0m12.5-20.5h0m-13.5 2h0m37-15.5h0m-6-13.5h0m-0.5 37h0m-31.5-29.5h0m17-121h0m2.5 123h0m-7 32h0m1.5-45.5h0m45.5 20.5h0m-19 49.5h0m-2-134h0m-30.5 133h0m42.5-78h0m-28 63.5h0m22-98h0m-46 79h0m43-41h0m-33.5-40.5h0m-8.5 66.5h0m48.5 39.5h0m-26.5-69.5h0m19-51.5h0m-34 107h0m37-67h0m15 98h0m-22.5-118.5h0m-6.5 105h0m22.5-26.5h0m-54.5 1.5h0m15.5-116.5h0m8 125.5h0m-0.5 25h0m23-80.5h0m-20.5 83.5h0m32.5-70h0m-36.5 14h0m25 10h0m-11-47h0m3.5 73.5h0m-17-45h0m37 37h0m-6-26.5h0m-32.5-124h0m24 66h0m-7-24h0m23 108.5h0m-12-29h0m4.5 53.5h0m-1.5-39h0" stroke="#000" stroke-opacity="0.27" stroke-width="6.3" stroke-linecap="round" fill="none"/>
<path d="M1645.5 424.5h0m-53.5 0.5h0m19.5 0h0m39.5 0.5h0m-28-0.5h0m-7 0h0m1.5-29.5h0m147.5 19h0m10.5-47.5h0m-10.5-3h0m-4 59h0m15-29.5h0m-0.5-3.5h0m29-6.5h0m12-4h0m-6-5h0m1 9h0m-32 15.5h0m-20-100h0m22 99.5h0m-8-13h0m1 15.5h0m30.5 8h0m-30-9.5h0m-15-49.5h0m1 33h0m54.5 30h0m-51 6h0m24.5-17.5h0m23.5-62.5h0m1.5 39.5h0m-46-1.5h0m29 11h0m-35 19.5h0m43.5-27h0m-31.5 38.5h0m39-6.5h0m-36.5-83h0m-7 93.5h0m-11-71.5h0m27.5 21.5h0m15.5 47.5h0m-22.5-27h0m-7.5 19.5h0m14-18h0m33-37h0m-24 52.5h0m11 2.5h0m-40.5-162h0m4 133h0m2.5-7.5h0m37 14.5h0m-43.5 13.5h0m21.5-27h0m-20 20.5h0m-8-92h0m47 95.5h0m-13.5-20.5h0m11-1.5h0m-11 36h0m-1.5-29h0m11-39.5h0m-14 76h0m-2-51h0m30.5 38h0m-24.5 8h0m-1.5-27h0m22 6.5h0m0 12h0m4.5-22h0m0 13.5h0m-54.5 1.5h0m6.5-9.5h0m34-249.5h0m-200 613.5h0m15.5-17h0m-3.5 17h0m-30 47h0m28-24h0m28.5-151h0m139 175.5h0m9-2h0m21.5 2h0m-8-9.5h0m-33 9.5h0m-19 0.5h0m10.5-6.5h0m-3.5 6.5h0m-7 0.5h0m17-1.5h0m12-2h0m7 2.5h0m21 0h0m-41.5 0.5h0m11-8.5h0m-16 8.5h0m10.5-6.5h0m-4.5 5.5h0m42 0h0m-27.5-8h0m-27 2.5h0m21.5-2.5h0m33.5 9h0m-47.5-41h0m39 39h0m-17.5 0.5h0m23.5 0.5h0m-48 0h0m27-0.5h0m-31.5-1h0m55 2h0m-48-5.5h0m-3.5 0h0m39 5.5h0m-39.5-1h0m14.5-1h0m29 2h0m-26-4h0m11.5 4.5h0m-18-4h0m6 0.5h0m-11-30h0m44.5 33h0m-46.5 0h0m40 0h0m-7 0h0m9 0h0m-4-3h0m-21.5 3h0m30.5 0.5h0m-16-4.5h0m-31.5-4h0m-8.5 8h0m49.5-0.5h0m-0.5 0h0m0-4.5h0m-41 5h0m30.5 0h0m-38.5-1h0m47-5h0m-0.5 5h0m5.5 0h0m-54 1h0m36.5-1h0m-33-9h0m50 10.5h0m-38-1h0m-160.5 86.5h0m21 43h0m-39.5-36h0m25 58h0m4 158h0m-19-158h0m175.5-22h0m6-21.5h0m30.5 14.5h0m-29 108h0m29-86.5h0m-10 0h0m-2-14.5h0m3.5 14.5h0m10 0h0m-18 29h0m-38.5-36h0m57.5 0h0m-39.5-14.5h0m24 7h0m2 0h0m-21 22h0m12-22h0m-17.5-7h0m36.5 21.5h0m-22.5-28.5h0m22 115h0m-39.5-101h0m26.5-14h0m4-7.5h0m-44 14.5h0m47 65h0m-34.5-29h0m41-50.5h0m-17.5 29h0m-3.5-14.5h0m-11.5 7h0m6-7h0m-19 7h0m-1.5-7h0m50 0h0m-26 29h0m-31.5 7h0m8-29h0m12 43.5h0m4-57.5h0m-5 21.5h0m35 0h0m-8.5-21.5h0m-38.5 21.5h0m33-29h0m-26.5 43.5h0m-12.5-7.5h0m45.5 0h0m-1-36h0m-37 21.5h0m-1 65h0m16-79h0m19.5-7.5h0m16.5 14.5h0m-33.5 43h0m-25-36h0m52.5 0h0m-41 14.5h0m28.5-21.5h0m-38.5 29h0m26-22h0m28 7.5h0m-42.5-36h0m35.5 43h0m-0.5-21.5h0m0-7h0m-15 194h0m-166 320.5h0m-36.5 145h0m15-93h0m-13 88.5h0m27-27h0m-20.5 10.5h0m166.5-14.5h0m16 27.5h0m-20-21h0m48 5h0m-6 0.5h0m8 20.5h0m-20 0.5h0m1.5-27h0m2.5-11h0m-25-32h0m27.5 33.5h0m-39.5 7.5h0m10.5-52.5h0m-1.5 59.5h0m3.5 5.5h0m38-15h0m-8-19h0m-12 28.5h0m5.5-19.5h0m21.5 36h0m-55.5-17.5h0m49 22.5h0m-47-77.5h0m27.5-14.5h0m17.5 69h0m-39.5 18.5h0m32.5-25h0m-18-2h0m29.5-8.5h0m-43.5 22.5h0m-1-10h0m26 6h0m-29.5-14.5h0m33.5 2.5h0m-8 31.5h0m8.5 4h0m-25-28h0m-12.5-15h0m46.5 39.5h0m-15-9.5h0m3.5-67h0m9.5 52h0m-20.5-13.5h0m-22.5 34h0m42.5-56.5h0m-30 25.5h0m42-33.5h0m-17 19.5h0m10.5-5h0m-18.5 14.5h0m0 12.5h0m-5-12.5h0m7 30.5h0m20.5-66h0m-6.5 72.5h0m-27-27h0m5 5h0m-26.5-5.5h0m30.5-21h0m13.5-23.5h0m-40.5 2h0m-6.5 41h0m3.5-3.5h0m32-1.5h0m-2.5-3.5h0m15.5-11.5h0m-24-160.5h0m-182.5 510.5h0m35.5 4.5h0m-16-48h0m-25.5 79h0m15-128.5h0m-3 93h0m202.5-6h0m-36-7.5h0m-0.5-2h0m34-5.5h0m-50 53h0m31 8.5h0m-23-18h0m50.5 7.5h0m-54-93h0m55 42h0m1.5 49h0m-33-106h0m-12.5-16h0m19.5 83h0m-13.5-101h0m-3 184.5h0m-13-84.5h0m51.5-104.5h0m-10.5 52.5h0m-43.5 71.5h0m-4 13h0m49.5-51.5h0m-15.5-69h0m-32 105.5h0m4-119h0m16 143h0m-13.5 17.5h0m-4-35.5h0m54 18.5h0m-34.5-1h0m33.5 35h0m-33.5-68h0m-0.5 91.5h0m-6-42.5h0m-0.5-121h0m42-34.5h0m-1 153h0m-14.5 11.5h0m0-175.5h0m-25 165h0m-8.5-18.5h0m4.5-76.5h0m47 63h0m-3.5-16h0m-3 60.5h0m-10.5-1h0m-37-88.5h0m-1.5 56h0m-2-99.5h0m16-28h0m41.5 125h0m-46-18.5h0m-11-68h0m17.5 128.5h0m-13.5-89h0m-7.5-95h0m21.5 187.5h0m11 19h0m-31.5-80.5h0m39.5 16h0m0 12.5h0m-16-87h0m-24 98.5h0m0-158h0m46 89.5h0m-17 6h0m-4.5-195.5h0" stroke="#000" stroke-opacity="0.27" stroke-width="6.3" stroke-linecap="round" fill="none"/>
<path d="M1610.5 425h0m34 0h0m-11 0.5h0m-10 0h0m-15.5-1h0m41.5-0.5h0m-36-26.5h0m189-3h0m14 5h0m-32.5-44.5h0m-22.5 25h0m9.5 6h0m31-97.5h0m1.5 93h0m-24.5-15.5h0m-8.5 36.5h0m1 8h0m1-109.5h0m34 119h0m-9.5-35.5h0m11 28h0m6-22.5h0m-21.5-18h0m-23.5 22h0m6 15h0m21.5-58h0m-13-40h0m13.5 104h0m-36-15h0m9.5 21h0m-0.5-3.5h0m38.5-55h0m-35.5 30h0m33.5-94.5h0m-7.5 123.5h0m6-47h0m8.5 7h0m-47.5 26h0m41-12h0m-8-56.5h0m-8.5 35.5h0m12 30h0m16.5-25.5h0m-2 32h0m-17.5 9h0m-13.5-68h0m-2.5 64.5h0m-16.5-38h0m35-7h0m-44.5-10h0m42.5 31h0m-27.5-5h0m-10 6h0m56-19.5h0m-33 11.5h0m-26.5 8.5h0m7-22.5h0m25.5 25.5h0m2-12.5h0m-30.5 16h0m23.5-5h0m-2 26.5h0m33-36.5h0m-28.5-62h0m-5 62.5h0m-20 0.5h0m5 19.5h0m8-74.5h0m-15.5 82.5h0m38-2h0m0 9.5h0m-16-4.5h0m-8.5-33h0m19.5-223h0m-208.5 619h0m7.5-19h0m-6.5 14.5h0m39 15h0m-29 12h0m4.5-167h0m186.5 169h0m-5-0.5h0m-1.5-1.5h0m-13 2.5h0m0-1h0m-12-8.5h0m26.5 5h0m28 3.5h0m-56.5-9.5h0m17.5 10h0m25 0.5h0m8-3h0m-25 2.5h0m1.5-3h0m-28.5 4h0m9-0.5h0m-8.5 0h0m48-10h0m-35 8.5h0m-4-0.5h0m-11 0h0m7.5-1h0m30.5 1.5h0m-29.5 0.5h0m16-3h0m1 3h0m9-9h0m-7.5 7.5h0m16 2h0m-36.5-2h0m21-1.5h0m-6.5 3h0m-20 0.5h0m9-1h0m15-6.5h0m16 8h0m8.5-0.5h0m-19.5-6h0m-32 6.5h0m7-10h0m-6 3.5h0m16 5h0m3.5-6.5h0m23 4.5h0m8 3.5h0m-25.5-0.5h0m-23.5 0.5h0m13-22.5h0m-3.5 23h0m-6.5-4.5h0m29.5 4h0m14.5-8h0m-16 7.5h0m25.5 0.5h0m-4.5-1h0m3.5-8h0m-37 8h0m36.5-0.5h0m-24 0.5h0m24.5 1h0m-21 0h0m-5-0.5h0m-13-40h0m36.5 41h0m-33.5-2h0m11-8h0m7-64h0m-150 224h0m-50-50.5h0m9.5 136.5h0m-8-93.5h0m38.5-21.5h0m12.5 7h0m130.5 0h0m7.5-14h0m-13.5 7h0m-3.5 0h0m21.5-14.5h0m5 57.5h0m-30.5-43h0m45 43h0m-13.5-57.5h0m-29 7.5h0m41.5 14h0m11-7h0m-44 7h0m-12.5 36h0m32-36h0m-30 0h0m52.5 7.5h0m-14.5-14.5h0m15.5 0h0m-15.5 0h0m-29.5 101h0m-6.5-101h0m22 50.5h0m22 0h0m-7.5-50.5h0m-4.5-14.5h0m-26.5 0h0m-13.5 0h0m60 0h0m-33.5-7h0m21 57.5h0m-25-36h0m1 50.5h0m21-43.5h0m-15 7.5h0m24 0h0m-53.5-14.5h0m-0.5-7h0m54.5 7h0m-40 7h0m6-28.5h0m19 64.5h0m-23 50.5h0m34-72h0m5 21.5h0m-49-21.5h0m24.5-14.5h0m1 36h0m-27-7h0m9.5-43h0m21 21.5h0m0 0h0m2.5 7h0m-37.5-36h0m45 65h0m-6-7.5h0m-6.5 7.5h0m5-36h0m-5 7h0m-20-36h0m22.5 0h0m-18 29h0m-10.5 7h0m17.5-36h0m-22.5 65h0m11.5-50.5h0m38 216h0m-197.5 311.5h0m27.5 109h0m-3.5-11.5h0m-20.5-54.5h0m-1.5-51h0m-1 16h0m172.5 109.5h0m-3.5-25h0m-19-6h0m37-43h0m8 8.5h0m0 63.5h0m-0.5-19.5h0m-50.5-47.5h0m12 41h0m-2.5-1.5h0m8-1h0m-2.5 0h0m40-0.5h0m-31-42h0m-17.5 50.5h0m13.5-94.5h0m28.5 115h0m-25-31.5h0m23 25h0m-22.5-13h0m-20.5-56h0m26 46h0m4-3h0m-28-65h0m14.5 47.5h0m-6.5 45.5h0m-5.5-55.5h0m-2 40.5h0m52.5 0h0m-39.5 0.5h0m25.5-11h0m10.5 14h0m-32-30.5h0m-18.5 57.5h0m15.5-44h0m-15.5-2.5h0m-3.5 12.5h0m28.5-43.5h0m22.5 56h0m0.5 25.5h0m-14.5-71h0m-2 32.5h0m10.5-40.5h0m11.5 73h0m-22-72.5h0m-34-23h0m55 80h0m-51.5 3h0m-1.5 11h0m24.5-22h0m2-36h0m0 53h0m5 2h0m-4-65h0m-4 42.5h0m1.5 15.5h0m-3-16.5h0m-1.5-53.5h0m-21.5 71.5h0m51-26h0m-30 11.5h0m34.5 1h0m-29.5-21.5h0m26.5 17.5h0m-57.5 28.5h0m61-16.5h0m-44.5-178.5h0m-125 492.5h0m-45.5 52h0m-1.5-4h0m6.5-108.5h0m39 76.5h0m-38.5-208h0m163.5 195.5h0m8 17h0m22-48h0m-13-35.5h0m19 85.5h0m-46.5-13h0m6.5-119h0m7.5 124.5h0m38.5 44.5h0m-43-53.5h0m-10.5 11.5h0m3-8h0m-0.5-109h0m22.5 103h0m-7-47h0m-11.5-63h0m48.5 146h0m-10.5-62h0m-48.5-115h0m1.5 55h0m39.5 89h0m-4.5-129.5h0m0 160h0m12.5-20h0m0-50h0m6.5 59h0m-19 36.5h0m11.5-20.5h0m-48.5-162.5h0m25 97.5h0m-20.5 36.5h0m3.5 6.5h0m5.5 16h0m12.5-158h0m18.5 77.5h0m-22.5 76h0m34-81h0m-31.5 28h0m-2.5-7.5h0m35 70h0m-20-159.5h0m19 172.5h0m-16-27.5h0m12.5 40.5h0m-40-22.5h0m-6-77h0m30.5-52.5h0m16.5 103.5h0m-6 8.5h0m-30-22h0m33.5 26h0m-41-129.5h0m27.5-6.5h0m8 77.5h0m-46.5-63.5h0m54.5 142.5h0m-34.5 0.5h0m-19.5-79.5h0m29 88h0m-28.5-81h0m22.5-55h0m-22.5 6.5h0m35.5 85h0m8 40.5h0m-4.5 0.5h0m-26-55h0m44.5-206.5h0" stroke="#000" stroke-opacity="0.27" stroke-width="6.3" stroke-linecap="round" fill="none"/>
<path d="M1631.5 424.5h0m-38.5 0h0m29.5 1h0m16.5-1h0m-3.5 0.5h0m12 0.5h0m-31.5-26h0m145-24.5h0m34.5 15h0m4.5 4.5h0m-26-23h0m37 9.5h0m5-26.5h0m-23 24h0m11.5 29h0m-3.5 6h0m-21-45h0m-4.5 7.5h0m20.5 25h0m-32-87h0m38 51.5h0m-3 7.5h0m-27 26.5h0m-7.5 24h0m11-100h0m-1 86.5h0m2.5-29h0m-18 10.5h0m6.5 28.5h0m-7.5-3.5h0m39-133h0m-9 103.5h0m-11 5h0m17.5 29.5h0m-27.5-27h0m27 2.5h0m-7.5 25h0m7.5-47h0m-29 22h0m13-1h0m15-21h0m-32 12.5h0m15.5 7.5h0m39.5 21h0m-24.5-31.5h0m-33.5-18h0m49 47h0m-14.5-17.5h0m-2.5 4.5h0m27-12h0m-8 35h0m-27.5-99.5h0m25.5 74.5h0m-31.5-202h0m-14.5 189h0m46.5 38.5h0m-3.5-20h0m-32-2.5h0m45.5-74h0m-18.5-10h0m-7.5 65.5h0m8-9h0m-2 30.5h0m-29-17h0m39.5 10.5h0m-20-87h0m-26.5 27.5h0m15.5-78.5h0m-1 115.5h0m-16 24h0m8.5 4.5h0m19-29h0m-23-52h0m22.5-148.5h0m-197.5 582h0m2 18h0m0-28.5h0m45 35h0m3.5-18.5h0m-45.5-120.5h0m175 155.5h0m10.5 7.5h0m26.5-4h0m-0.5 3.5h0m-49.5-3.5h0m42 3.5h0m-8-3h0m-20 1h0m26-3h0m-29.5 5.5h0m-6-0.5h0m20.5-3h0m-5 3h0m31.5-23h0m-54 22.5h0m37-2.5h0m20.5 3.5h0m-50-23.5h0m24 22h0m21.5-26h0m-1 25h0m0-1h0m-41.5 0h0m14.5 3.5h0m-3.5-9h0m8 7h0m-7 2h0m15.5-13h0m-21 11.5h0m-20-8h0m38.5 6h0m-30-4.5h0m31.5 7h0m-14-11.5h0m29.5 13h0m-49-1.5h0m11-4.5h0m-12 3.5h0m14-19h0m-1.5 19.5h0m23 1.5h0m-27-1.5h0m4 2h0m-7.5-1.5h0m13 1h0m25-47h0m-12.5 46.5h0m-17.5 0.5h0m37 0h0m-7-1h0m-48-2.5h0m59 3.5h0m-24.5-1.5h0m0.5 0h0m-22.5 1h0m10 0h0m-10 0.5h0m40-32.5h0m-41 32h0m28-1h0m-25.5 0h0m3.5-4h0m1 5.5h0m-15.5 0.5h0m0-4.5h0m28-3.5h0m-20-62.5h0m-148 270.5h0m-11-57.5h0m7.5 7.5h0m28.5-29h0m-16 50.5h0m19.5 14.5h0m170.5-65h0m-19-14.5h0m13 36h0m-24 29h0m12-65h0m-11.5 14.5h0m26.5 21.5h0m1.5-14.5h0m-30 14.5h0m-23.5 29h0m10-7.5h0m34.5-50h0m9.5-7.5h0m-15.5 14.5h0m-24 0h0m-18-7h0m10 14h0m44.5 7.5h0m-15-7.5h0m-10 7.5h0m-12.5 14.5h0m-4-22h0m32.5-21.5h0m4 0h0m4 21.5h0m-36 0h0m-16 14.5h0m7 0h0m-5 21.5h0m48-50h0m-13 50h0m-2-43h0m12 50.5h0m7.5 21.5h0m-35.5-36h0m31.5-14.5h0m-40 21.5h0m10.5-50h0m-13 28.5h0m41.5-14.5h0m-3.5 14.5h0m-36.5-7h0m-13.5 14.5h0m53-29h0m-36.5 21.5h0m8.5 29h0m-9-50.5h0m-2.5-29h0m-5.5 29h0m30.5 0h0m23 21.5h0m-40.5 0h0m-9-21.5h0m20.5 29h0m-28.5-29h0m12 43h0m2.5-36h0m26 22h0m8.5-58h0m-10.5 50.5h0m-12 0h0m23.5-21.5h0m-38 43h0m-5-14h0m39.5-22h0m-39.5 43.5h0m15 216h0m-168.5 388.5h0m20-47h0m-34.5 19.5h0m-11 14.5h0m52-138.5h0m-34 136h0m202-8.5h0m1.5-1.5h0m-28-4.5h0m-22.5-2h0m6.5-16.5h0m11 4.5h0m32-38h0m-31-80h0m-22.5 128.5h0m43.5 11.5h0m-5.5-162.5h0m14 137.5h0m-24.5-32h0m11 38h0m-12.5-26h0m25.5 19.5h0m-23.5 23.5h0m-21.5-17.5h0m38.5 18.5h0m-1.5 16h0m-1-8h0m-44-18h0m0.5-8h0m33.5 35h0m-18.5-10.5h0m0-25h0m4.5 40.5h0m1-16h0m14.5-4h0m-4-51.5h0m-27 71.5h0m15.5-10h0m32-2h0m-21-68h0m-29.5 37h0m10 37h0m43.5-15.5h0m2-82h0m-19.5-34h0m-6 117.5h0m-28-63.5h0m45 79h0m-13-14h0m-33 10h0m51-67.5h0m-45 56h0m16 19.5h0m26-24.5h0m-18.5-38h0m21 17h0m-35-4h0m27.5 6h0m-10 12.5h0m23 29.5h0m-24-34.5h0m23 16.5h0m-57-10.5h0m23.5 11.5h0m-1.5-4h0m-11-16.5h0m10.5 21.5h0m27.5-23h0m-0.5 29h0m10.5-70.5h0m-14.5 27.5h0m-20 10.5h0m11-132h0m-199.5 536.5h0m-4-202.5h0m16.5 115.5h0m-9-89h0m42 173h0m-22.5-87h0m174.5-48.5h0m21 92.5h0m-27-27.5h0m-1 55h0m22.5-22h0m-6-1.5h0m0.5 27h0m-5-140h0m7 145.5h0m-42.5-2h0m24-49.5h0m-2-32h0m10-65h0m17.5-29h0m-11 101h0m14.5 30h0m-37 55.5h0m21.5-75.5h0m-31.5 96.5h0m39-16h0m-13-39.5h0m0-89.5h0m-38-59.5h0m16.5 177.5h0m7-88h0m-3 62h0m34.5 36h0m-15-181h0m15 181.5h0m-5.5-50.5h0m-24 45h0m-13-20.5h0m35-113h0m-37 102h0m11-56h0m-20.5-23h0m24 91h0m-11 8.5h0m40-67h0m-36 74.5h0m33.5-21.5h0m1-80h0m-23 60.5h0m-11.5-86h0m23.5 57h0m-21 65.5h0m-4-45.5h0m-15-9h0m29.5-80h0m24.5 48.5h0m-29.5-116h0m21.5 119.5h0m-45 19h0m57 34h0m-38-113h0m32 41h0m-2.5 69.5h0m-29.5-60h0m11.5 63h0m6.5-52h0m-6.5 5h0m-4-95h0m-8.5 131.5h0m13-14.5h0m18.5-15h0m-17-11.5h0m18-172h0" stroke="#000" stroke-opacity="0.27" stroke-width="6.3" stroke-linecap="round" fill="none"/>
<path d="M1602.5 424.5h0m31.5-0.5h0m-5.5 0.5h0m-18.5 0.5h0m20 0h0m-23 0.5h0m16-24h0m188 22h0m6-36.5h0m-12.5-52h0m-4 69.5h0m-11.5-7.5h0m9-16h0m-25-11h0m-11 23h0m38.5 4.5h0m-29-58.5h0m2 49.5h0m1.5 27h0m17-26.5h0m12.5 35.5h0m-43-27h0m7.5-74.5h0m0.5 71.5h0m34.5-15.5h0m-26.5 5.5h0m4.5 5.5h0m-10.5-2.5h0m23.5-52h0m17 37h0m-50 19.5h0m35.5-4.5h0m-34 16.5h0m-5.5-15.5h0m32-11h0m8.5 25.5h0m-33.5-2.5h0m44.5-24h0m-33.5 43h0m12-87.5h0m2-26h0m25.5 53.5h0m-57-33.5h0m56 0h0m-50.5 51h0m31.5-99.5h0m-17 120.5h0m17.5-20h0m-38.5-6.5h0m46.5 34h0m-1.5-6.5h0m4-0.5h0m-11.5-45h0m-11 66h0m-19.5-3.5h0m47-3.5h0m-37.5-15.5h0m-9-16.5h0m30.5-2h0m5.5 5.5h0m5.5-36h0m-33.5 35h0m37.5 19h0m-48-18.5h0m53.5 4.5h0m-43 34h0m-4-11.5h0m16-15h0m30.5-57h0m0.5 44.5h0m-13.5-3.5h0m7 18.5h0m-50.5-9.5h0m9-198.5h0m-131 597.5h0m-49-15h0m26-25.5h0m18.5-12h0m5 25.5h0m-23.5-116h0m172.5 145h0m0 15.5h0m23 0h0m-58.5-2h0m4.5 2h0m21.5-1h0m15 1.5h0m-15-5h0m-15.5 0.5h0m49.5 2h0m-38-0.5h0m10.5-0.5h0m2.5-1h0m-22-12h0m-11.5 15.5h0m28-2.5h0m-2.5 2.5h0m-19.5-3.5h0m50.5-29h0m-46.5 33.5h0m9.5-2h0m-9.5-3.5h0m24.5 4.5h0m-27 0h0m11.5-18h0m-1.5 17h0m31 1h0m-13-2.5h0m-30.5 2.5h0m3-1h0m22 2h0m18.5-8h0m-11 7.5h0m-33.5-1.5h0m35-7.5h0m-38 1h0m17.5 2.5h0m11-9h0m14.5 12h0m12 2.5h0m-12.5 0h0m-15 0.5h0m-28-2.5h0m55.5-12h0m-1 12h0m-31.5-0.5h0m10-1.5h0m-2.5 0.5h0m8.5 2.5h0m-5-3h0m-22.5-39.5h0m24 19h0m1 23h0m-7.5-0.5h0m19.5-1.5h0m-8 4h0m-40-0.5h0m7 0h0m-8.5-1.5h0m52-1.5h0m-5.5-1.5h0m-8.5 3.5h0m0.5 1h0m-7.5-0.5h0m-21-2h0m18 2h0m-27.5-65.5h0m-110.5 338.5h0m-44-144h0m-11-36h0m9.5 36h0m4.5 14.5h0m5.5-14.5h0m152 14.5h0m43 0h0m4-36h0m-46.5 57.5h0m26-36h0m-19.5 0h0m15.5-21.5h0m25 0h0m-16.5 21.5h0m-1.5-28.5h0m18 36h0m3.5-7.5h0m-6 36h0m-33-50h0m6.5 7h0m17 57.5h0m6-50.5h0m0.5 7.5h0m-7.5 14.5h0m-16-36h0m2.5-7.5h0m-1.5 7.5h0m-23 43h0m51.5 7h0m-7-28.5h0m-2-14.5h0m16.5 21.5h0m-23.5-43h0m1.5 64.5h0m8.5-50h0m2 7h0m-13.5-7h0m1.5-7.5h0m-8 0h0m5.5 29h0m18.5 14.5h0m-35.5-14.5h0m10.5-14.5h0m-23 14.5h0m20.5 0h0m-17-36h0m10 21.5h0m6 7h0m24.5-21.5h0m-39.5 21.5h0m-8.5 0h0m40.5 7.5h0m-42-21.5h0m49.5 14h0m-44.5 7.5h0m49.5 0h0m-50.5 0h0m10.5-14.5h0m18.5 50.5h0m3-43.5h0m-0.5-7h0m22.5 65h0m-33.5-58h0m15.5-14h0m-30 0h0m-5.5 21.5h0m33-7.5h0m-5.5 0h0m2 7.5h0m-19 28.5h0m-8.5-50h0m11.5 280.5h0m-165 256.5h0m-6 123.5h0m21.5-82.5h0m12 25.5h0m11-202h0m-24 237.5h0m173-29.5h0m-16 43h0m-1.5-20h0m20.5-7h0m-26-47h0m29 28h0m5.5-32.5h0m-34.5 52.5h0m-14.5-4.5h0m53-17h0m-37 18.5h0m10 27h0m-19-24h0m37.5-6h0m-47-1h0m42 1.5h0m-2.5-29h0m-5.5 43h0m10 13.5h0m-5.5-26h0m-38.5 33.5h0m16.5-38h0m28.5 15h0m6.5-40h0m-48 28.5h0m21 22.5h0m-28 8h0m13 9h0m0.5-40.5h0m28-38.5h0m8.5 76h0m-34.5-34h0m5.5 26.5h0m30.5-29h0m-37.5 10.5h0m2 7h0m28-3h0m-11.5 7.5h0m9.5-69h0m-20 49.5h0m37.5-24h0m-29 38.5h0m14-26.5h0m-41.5 25.5h0m4-17.5h0m42.5-26h0m0-28.5h0m2 71h0m4.5 2.5h0m-16 22.5h0m-14.5-56h0m-12 21.5h0m17 25h0m6.5-29.5h0m11.5-12.5h0m-36 37.5h0m31-19.5h0m-31-23h0m-1 31h0m44-47h0m-52 72.5h0m48.5-33.5h0m-2 8.5h0m-37-1h0m45.5-3h0m-6 14.5h0m-11.5-159h0m-159.5 512.5h0m6-80h0m-16.5 79.5h0m19 11h0m-29.5-58.5h0m32-56.5h0m114 71h0m18.5-113h0m0.5 124h0m3-62h0m20 33h0m-28.5-24h0m22.5 95h0m-30-45h0m-13.5 26.5h0m11.5-136h0m-10.5-81h0m28 213.5h0m22.5-121.5h0m-23.5 6h0m-12-51h0m35.5 141h0m-48.5-61h0m1.5 32.5h0m51.5-38.5h0m-57 59h0m27.5-169.5h0m12 151h0m-33 68h0m46-54.5h0m-20.5 49h0m19.5-25.5h0m-18-6h0m-29.5 8h0m6-53h0m10.5-5.5h0m-8-82.5h0m4 87h0m29.5-85.5h0m8.5 126h0m-23-140h0m-28.5 178.5h0m53.5 7h0m-3-37.5h0m-51 17.5h0m23-4.5h0m1.5-52h0m22.5-43h0m7.5 144.5h0m0.5-90h0m-30.5-18h0m18.5-86.5h0m10.5 176h0m-54.5 9h0m5.5-91.5h0m6.5 25h0m27 6.5h0m-20.5-18.5h0m23.5 6.5h0m6.5-127.5h0m0.5 77.5h0m-39.5 85h0m0.5-151h0m15 116h0m-20.5 35.5h0m21-9.5h0m11-32h0m21.5-56.5h0m-36 48.5h0m21 31h0m-28.5 38.5h0m4.5-19.5h0m-2-219.5h0" stroke="#000" stroke-opacity="0.27" stroke-width="6.3" stroke-linecap="round" fill="none"/>
<path d="M1617 424h0m8.5 0h0m11.5 1h0m9.5-0.5h0m-24-0.5h0m-3 0.5h0m-19.5-21h0m205 5h0m0.5-16h0m-14-53.5h0m-7 55.5h0m-2 8h0m16.5 13h0m2-6h0m-25-5h0m2-32h0m24 30h0m-43.5-17h0m10.5-8h0m46.5 29.5h0m-54.5-53.5h0m8 21.5h0m33 8.5h0m-5-9.5h0m9 35h0m-11 9.5h0m-18.5-24.5h0m-17.5 1h0m40.5-40h0m-12.5 45.5h0m27.5-14.5h0m-34.5-38.5h0m27 11.5h0m-21.5 9h0m-2.5 52h0m0 3.5h0m-4-30.5h0m2-77h0m3.5 78.5h0m-4 27h0m27.5-69h0m-18 42.5h0m-27-128.5h0m46.5 138h0m-52-25h0m39.5 37h0m21-24h0m-23 15.5h0m11.5-144h0m11.5 94.5h0m-45.5 42h0m-15-26.5h0m29.5-27.5h0m24 44h0m-49-29.5h0m5-7h0m13 38.5h0m4.5-10.5h0m7 41h0m-7.5-94h0m10.5 68.5h0m16-13h0m-16.5 20h0m3.5-6.5h0m-12 11h0m-9.5 7h0m14-3h0m-6 1h0m15-41.5h0m-12.5 29.5h0m-19.5-5.5h0m29.5-12.5h0m-6.5 5h0m7-179.5h0m-196 565h0m8.5 3h0m6.5 4h0m19.5 20.5h0m-22-69.5h0m-11.5-84.5h0m153.5 156.5h0m21.5-3h0m-25.5 3.5h0m7.5 0h0m15.5-1.5h0m7 1.5h0m10.5-18h0m-5 17h0m16 0h0m-29.5 0h0m15-2h0m-11.5-10h0m-22 13h0m46-8.5h0m-18 8h0m23 0.5h0m-4.5-7h0m-2 6h0m-31-1h0m8.5 0.5h0m17.5-10.5h0m-1.5 11h0m-24-21.5h0m-3 21.5h0m24 1h0m-29.5-5h0m46.5 2.5h0m-27.5-2h0m8 4.5h0m20.5-9h0m-43 7h0m28 2h0m-33 0h0m0-7h0m-3.5 6h0m49.5 0.5h0m1.5-17.5h0m-53.5 16.5h0m16.5 1h0m27.5 0.5h0m-36-8.5h0m13.5 8h0m4.5-2h0m-29 0h0m56-0.5h0m-23-1h0m6.5 3h0m5.5-2.5h0m7 2.5h0m-10 1h0m-21.5-1h0m16-0.5h0m6 1.5h0m-7.5-13h0m-20 9.5h0m36.5-6h0m-38 7.5h0m-9.5 1h0m1 1h0m30 0h0m20.5-1.5h0m-4 1.5h0m-48.5-8.5h0m24 7.5h0m2.5-1h0m15.5-11h0m-35-49.5h0m-153 205.5h0m-11.5 0h0m3.5 14.5h0m-0.5-21.5h0m42.5-43.5h0m-44 43.5h0m216-29h0m-57.5 14.5h0m48 0h0m-45 29h0m30-29h0m8 21.5h0m-22 21.5h0m14.5-57.5h0m21 0h0m-2.5-14.5h0m3.5 50.5h0m-18.5-14.5h0m-11.5 14.5h0m-17.5-7h0m13 14.5h0m30-22h0m-36.5-14h0m-11.5 28.5h0m7-28.5h0m44.5 0h0m-20.5 21.5h0m-37 7h0m35-14.5h0m-1 14.5h0m-17 14.5h0m0.5-50.5h0m26 29h0m-13 7h0m18.5 21.5h0m-12-14h0m-20.5-14.5h0m-9-7.5h0m2.5 0h0m42.5 0h0m5.5 36h0m-27-14h0m15.5 0h0m-28.5 7h0m40-50.5h0m-2 7.5h0m-4 57.5h0m-36-43.5h0m-10.5 14.5h0m44.5-14.5h0m-6.5 43.5h0m-6.5-43.5h0m-0.5-14h0m-10 7h0m2 21.5h0m-16.5-36h0m-11.5 36h0m26-36h0m27.5 0h0m-43 7.5h0m47 7h0m-9.5 14.5h0m5-29h0m-40.5 21.5h0m28 22h0m-21-7.5h0m-11-28.5h0m10 36h0m-18-22h0m35.5-7h0m7.5 36h0m-12.5 0h0m4.5-72h0m-203 640.5h0m47 6h0m2.5 29.5h0m-49.5-22h0m3-16.5h0m18.5 24.5h0m177 16.5h0m-20.5-23.5h0m30 11.5h0m-5-14h0m-26 36.5h0m2-26.5h0m29-57h0m-32 85h0m11.5 1h0m-14-17h0m35.5-16.5h0m12.5-4h0m-45 4.5h0m43 21.5h0m-15.5-27.5h0m-23-42h0m8 14h0m26 52h0m-22.5-13h0m-19 6h0m50 13.5h0m-2-20.5h0m-19.5-55.5h0m7.5 39h0m-17 19h0m1.5-15h0m6.5 35h0m-6-18.5h0m28.5 20h0m-43.5-133h0m7 116h0m8.5-14.5h0m-29 5h0m-1-53.5h0m42.5 8h0m7.5-9.5h0m-37.5 41h0m29-27.5h0m-30.5 56.5h0m27.5-5h0m-26 8.5h0m6.5-34.5h0m-5.5 17.5h0m29-2.5h0m5.5 0h0m-2-9.5h0m-40 10.5h0m21.5-3h0m18-124.5h0m-45 119h0m42 17h0m-18.5-50h0m-6.5 64h0m26-32h0m-11.5 38.5h0m-13.5-6h0m-7.5-75.5h0m36.5 74h0m-11 6.5h0m-30.5-63h0m34.5 36.5h0m0 18.5h0m8 5.5h0m-39-2h0m0-6h0m10-69.5h0m38.5-75.5h0m-170 471.5h0m-0.5-75.5h0m-46.5 126.5h0m49-238h0m-2 87h0m-12-82.5h0m144 49h0m-3.5 125.5h0m3-111.5h0m-7.5 151h0m-11.5 6h0m33.5-64.5h0m-34 57h0m16.5-51h0m17.5-28h0m-29.5 91h0m50-140h0m-57.5 96h0m55.5 1h0m-2-2h0m-43.5-79.5h0m-7.5 80h0m51.5-63h0m-11-63.5h0m-5.5 135h0m-10-11.5h0m-2.5-15.5h0m-1.5-62h0m26.5 128.5h0m-40-114h0m33 87h0m1.5-8.5h0m-28-52.5h0m19 33.5h0m-12-9.5h0m-11 24h0m11.5 34h0m31.5-41h0m-5-72h0m-26 90.5h0m-22.5-104h0m5.5 13.5h0m51 42.5h0m-17.5 38.5h0m-31.5-22h0m-9.5-2.5h0m52-95h0m-37.5 47h0m7-43h0m33-113h0m-24 181.5h0m19 55h0m-38.5-60h0m21 110h0m2.5-100.5h0m-25-68.5h0m43 137.5h0m-46-166h0m18 11.5h0m12 26h0m21 97.5h0m-41-66.5h0m43-79.5h0m-15 152h0m1-1.5h0m-15.5-44.5h0m11 5h0m7 46.5h0m-40.5 40.5h0m33-152.5h0m-8.5 78h0m-17.5-23h0m11-143.5h0" stroke="#000" stroke-opacity="0.27" stroke-width="6.3" stroke-linecap="round" fill="none"/>
<path d="M1640 425.5h0m-30.5-0.5h0m5-0.5h0m29 0.5h0m-1 0.5h0m-44.5-1h0m5-19h0m203-30h0m-28 5.5h0m19-6.5h0m-32 46h0m17-43.5h0m2.5 2.5h0m7.5 25.5h0m8-49h0m12 41h0m-52 26h0m16.5-50.5h0m34.5-8h0m-26.5 56.5h0m-25-73.5h0m12.5 69h0m-10-44h0m5.5-87.5h0m33 133h0m-31.5 4h0m34.5-42.5h0m-36 41h0m51-25.5h0m-53-61h0m50.5 52h0m-36-11h0m34.5 44h0m-20-142.5h0m-5 122h0m0 11.5h0m-17-25h0m-4.5-43h0m41.5 78.5h0m-35.5-6.5h0m36.5-2h0m-51-39h0m11 48h0m39.5-32.5h0m-28 14.5h0m29-81.5h0m-41.5 102.5h0m-4-44h0m-4.5 14.5h0m33-49.5h0m-27 34h0m24.5 27h0m-27-24.5h0m53 13h0m-34 7h0m-25-29.5h0m56.5 17.5h0m-2.5 11h0m-7.5-74.5h0m12.5 82h0m-40-26h0m-4 17h0m40 15.5h0m-50-8.5h0m41.5-32h0m11-32.5h0m-21.5 63h0m2-43.5h0m12-39h0m-38.5 38.5h0m11 29.5h0m-14.5-2h0m38 14h0m-180 374h0m-41.5 1h0m17.5 13h0m-4.5 9h0m0-7.5h0m36.5-24h0m-5.5-117h0m135.5 153h0m10.5-5.5h0m24.5 6.5h0m-20.5-5h0m-22.5 5h0m36-8h0m3.5 8h0m-25-45.5h0m7.5 44.5h0m2-19h0m26.5 19h0m-34.5 2h0m-11.5-0.5h0m45.5-0.5h0m-35-3h0m0.5-9h0m-5 13h0m46-5h0m0 4.5h0m-14-1h0m7-7h0m3 6.5h0m-23 1h0m-25-1.5h0m20.5 0.5h0m6.5-2h0m20.5 1.5h0m-23.5 0.5h0m5 0.5h0m16-14.5h0m1.5 15.5h0m-21.5-2h0m-17 1.5h0m4-1.5h0m25 1h0m0 1h0m-43.5 0h0m40.5-21h0m4.5 19.5h0m-22 1.5h0m18.5-1.5h0m-15.5 1.5h0m6 0h0m22.5-1.5h0m-43.5-7.5h0m30.5 8.5h0m-16.5 0h0m33 1h0m-37-1h0m-23-2.5h0m52.5 0.5h0m-42.5 1h0m-8 1.5h0m19.5-9.5h0m30 6.5h0m-1.5-14h0m0.5 16.5h0m4-2h0m-25.5-16.5h0m-24.5 16.5h0m43.5-7h0m-5-1h0m-33.5 11h0m13.5-1h0m-20 0h0m-2.5-6.5h0m-157.5 143h0m7.5-43.5h0m0.5 7.5h0m5.5 21.5h0m-18.5 7h0m54 79.5h0m-35.5 0h0m166.5-86.5h0m30.5 0h0m-2 14.5h0m-33.5 14.5h0m-7.5-29h0m47 0h0m-29.5 21.5h0m11.5-14.5h0m-16.5-7h0m12.5-14.5h0m-1 50.5h0m-24-29h0m-0.5-7h0m16 7h0m35.5 7.5h0m-50-29h0m38.5 57.5h0m-18-43h0m25 7h0m-52 7.5h0m16 7h0m5.5-21.5h0m10.5 21.5h0m6.5 0h0m-33-7h0m21 7h0m-14 43.5h0m18-50.5h0m-32.5 43h0m58-7h0m-39.5-65h0m38 36h0m-44.5-7h0m39 36h0m-0.5-43.5h0m-42.5 0h0m34.5-7h0m-9 36h0m25 7h0m-7.5-28.5h0m-38.5 7h0m31 43.5h0m-2.5-65h0m4 50.5h0m-1.5-65h0m5 36h0m8.5-43h0m-7 57.5h0m-28.5-14.5h0m35-21.5h0m4.5 14.5h0m-30.5 21.5h0m11-43h0m-23 86h0m39-72h0m-18.5 0h0m6.5-21.5h0m6.5 65h0m-36-50.5h0m-1 29h0m8-14.5h0m31-29h0m-14 21.5h0m-30-7h0m0.5 14.5h0m1-21.5h0m-129.5 630h0m-13.5 19h0m-29.5-240h0m12.5 240.5h0m-5-130.5h0m-2.5 126h0m3-16.5h0m164.5-1.5h0m40.5 31.5h0m-52.5-59.5h0m54 64h0m-19.5-26h0m17.5-49.5h0m-36 70.5h0m38-107h0m-6.5 110.5h0m-37.5-42h0m26-5h0m-21.5 3.5h0m32-24.5h0m3.5 17.5h0m-26.5 30h0m26.5 2h0m-38-28h0m1 21h0m-4.5-106.5h0m3 91h0m-9.5-2h0m26.5 38h0m11.5-24.5h0m-43-5.5h0m15.5 25h0m11-36h0m4.5-2h0m29.5 4.5h0m-54 29h0m27-18.5h0m-14 5h0m-6.5-16.5h0m31.5 5.5h0m-3-4h0m-36.5-13h0m13-20h0m15.5 6h0m-9.5 30h0m-12-9.5h0m40-50h0m-17 76.5h0m21-10h0m-14 28h0m16-38h0m-34 17h0m-3 3h0m37.5-18.5h0m-31.5 19.5h0m17.5-29.5h0m-4.5 5h0m-6.5 37h0m-10-11h0m31-60.5h0m-48 84.5h0m40.5-31h0m-34 9h0m12-25h0m23.5 3h0m-34.5 24h0m-4.5 17h0m36.5-10h0m-15.5 10.5h0m-20 1h0m-8.5-35h0m33.5-4h0m14.5 25.5h0m-185 266h0m-2.5 29h0m17.5 32.5h0m-27-214h0m2 196h0m-7-88.5h0m-10.5 68h0m180 55h0m6.5-19.5h0m29.5-181.5h0m-14 46.5h0m0.5 144.5h0m-32.5 37.5h0m45-83h0m2 99h0m-43-133h0m25.5 60.5h0m7-94h0m-41.5 136.5h0m35.5-71.5h0m2.5 57h0m-29.5-134h0m-10 150.5h0m25.5-52.5h0m-21.5 67h0m-1.5-91h0m46.5-24h0m-14.5 53h0m-19-31.5h0m11.5-63.5h0m16.5 66.5h0m-7 65.5h0m4 12h0m2.5-118.5h0m-41-30.5h0m36 94h0m5-72h0m13 100h0m-33-37h0m4-109h0m6 105.5h0m25.5 24.5h0m-60.5 50.5h0m15.5-66h0m-4.5-98.5h0m20 146h0m-25.5 46h0m44-188.5h0m-33 83h0m-7 10.5h0m37 30.5h0m13.5-56.5h0m-46 95.5h0m-3.5-9h0m25-26h0m-1.5-129h0m7 49h0m8 39.5h0m2-18.5h0m-31.5 77.5h0m37.5-115.5h0m-26 36h0m16 12h0m-28-96.5h0m11.5 132h0m23 1.5h0m-40.5 51h0m-13 17.5h0m45-200.5h0m-16.5 128h0m-1.5-35.5h0m6.5 80h0m-8-48.5h0" stroke="#000" stroke-opacity="0.27" stroke-width="6.3" stroke-linecap="round" fill="none"/>
<path d="M1647 425h0m-7.5 0h0m0-0.5h0m-27.5 0h0m13 0.5h0m-8-1h0m12.5-16.5h0m182-76h0m-37 92h0m41-57h0m-32 42.5h0m29-25.5h0m-14.5 7.5h0m-7-103.5h0m9 109.5h0m-29 18.5h0m29.5-28.5h0m-6.5-13.5h0m15 37h0m-4.5-88h0m2.5 30.5h0m-31.5 42h0m35.5 4.5h0m-43-38.5h0m46.5 44h0m-29.5 5.5h0m1-35.5h0m-24.5-0.5h0m45 23h0m-41-56h0m30 79.5h0m-27.5-34.5h0m8-54h0m1 80.5h0m24.5-38.5h0m-31.5 29.5h0m27.5 10h0m-33.5-8h0m35.5-18h0m-39-0.5h0m0-8h0m26.5 25h0m15.5-31.5h0m5.5 42h0m-35.5-90.5h0m23 70h0m-5.5-6.5h0m27.5-51h0m-5 5h0m-51.5 23.5h0m56.5 37.5h0m-27-20.5h0m6.5 2.5h0m7-8h0m-38 10.5h0m27-14h0m15.5 24h0m7.5-9.5h0m-41-18h0m12 23.5h0m29.5-4.5h0m-5.5 23.5h0m-12-23.5h0m-39.5-67h0m28.5 71.5h0m-1-80h0m-1 76h0m18-26.5h0m5 28h0m-4.5-95h0m-23.5 83.5h0m17.5-51h0m-31.5 20h0m-167 405.5h0m43.5 17h0m-1.5 17.5h0m-23-40.5h0m-17-0.5h0m2.5 1.5h0m17.5-94.5h0m173 140h0m2 10.5h0m-40.5-1h0m32.5-3h0m18.5 3.5h0m-42 0.5h0m21.5-5.5h0m0 5h0m-32.5-6.5h0m0.5 4h0m56 3h0m-1.5-0.5h0m-6.5-1h0m-23-3h0m-28-2h0m44.5 6h0m-30 1h0m44.5-2h0m-30.5 1.5h0m-13.5-2.5h0m0 2.5h0m-7-3.5h0m38.5 2h0m-36 0.5h0m31-2.5h0m5 3h0m-47.5-5.5h0m11.5-4h0m21 10.5h0m-25-1.5h0m-4.5-8h0m29.5 7.5h0m19 2h0m-36-1.5h0m33-3h0m-10 4h0m-13-0.5h0m-25-1h0m51.5 0.5h0m-39 1h0m-11.5 0.5h0m49-3.5h0m-44-39h0m17.5 37h0m8.5 4.5h0m20-18.5h0m-26 19h0m24.5-11.5h0m-22.5 1.5h0m-5.5 9.5h0m13.5-3h0m-11.5 3.5h0m29.5 0h0m-22.5-10.5h0m18 8.5h0m-14.5 1h0m9.5 0.5h0m-31-3h0m11 1.5h0m15.5-12h0m-36 13h0m32.5 0h0m6 0.5h0m-32.5-3.5h0m27.5 3.5h0m4.5-13.5h0m-192.5 157h0m24-50.5h0m-38 65h0m59.5-43h0m-9 50h0m-43.5 65h0m9-14.5h0m166-93.5h0m41.5-7h0m-8.5 50h0m-49-28.5h0m48-7.5h0m13.5 7.5h0m-30.5 0h0m-8.5 64.5h0m-13.5-72h0m10.5 0h0m19-14h0m-36 36h0m40.5 14h0m17.5-28.5h0m-52.5-7.5h0m20-14h0m-2.5 14h0m-17 7.5h0m31.5 21.5h0m-1.5-50.5h0m18 43.5h0m-36-29h0m6.5 50.5h0m10.5-29h0m-28-36h0m31.5 29h0m9-7.5h0m-11 0h0m19 36h0m-3-36h0m-1-21.5h0m-1 65h0m-11.5-14.5h0m-7.5-29h0m-8.5 72h0m-8.5-64.5h0m-4-14.5h0m32-7h0m-25.5 21.5h0m13.5 21.5h0m-32.5-36h0m33 14.5h0m-30 43h0m19.5-50.5h0m0-7h0m-1.5 0h0m31 14.5h0m7-29h0m0 50.5h0m1.5 14.5h0m-15-57.5h0m-16.5 0h0m-9 14h0m-20 0h0m25.5-7h0m18.5 21.5h0m-31-14.5h0m29.5 65h0m-7.5-43h0m-36-7.5h0m2-7h0m0 57.5h0m22.5-43h0m34 7h0m-13.5-43h0m-34-7.5h0m-150.5 629.5h0m-12-106h0m26 95.5h0m-23-1h0m22-106h0m-22 23h0m-3.5 111.5h0m173.5 22h0m-10-79.5h0m26.5 49h0m6.5-40.5h0m7-57h0m-7 100.5h0m5.5-49.5h0m-22 48h0m21.5-23.5h0m-19-7h0m-14.5 32.5h0m22.5 14h0m-22.5-47.5h0m9.5 30.5h0m-8.5 21h0m-0.5 7h0m5-40.5h0m-18.5 6.5h0m26.5 6h0m12-7.5h0m-10.5-4h0m5.5 22h0m-1.5-51.5h0m-2 41.5h0m13.5-8h0m-16 24.5h0m-9-1.5h0m20.5 13h0m-42-54.5h0m2 17.5h0m44.5 18h0m9-6h0m-5.5-0.5h0m-44-72h0m8.5 87h0m-11 7h0m55.5-1h0m-7-40.5h0m-23.5 22h0m-27.5-10.5h0m47.5 20h0m-41.5-57.5h0m16.5 11.5h0m-1 27h0m3 21h0m21-19h0m-2-27h0m-30.5 5.5h0m-3.5 43.5h0m29 5.5h0m16-61h0m-52.5 10.5h0m8.5-8h0m24.5 29h0m5.5 15.5h0m3.5-7h0m-17.5 5.5h0m31 21.5h0m-47.5-79h0m5.5 65.5h0m36-12h0m-20-21h0m2.5 6.5h0m-14 1h0m-22.5-30h0m28 64h0m-169.5 293h0m1.5-70.5h0m-21 41.5h0m51.5-1h0m-0.5 71h0m-28-6h0m-25.5-61h0m164 9h0m50.5-48.5h0m-46 108h0m45.5-140h0m4 113.5h0m-44 41h0m46-36h0m-33.5 8h0m7.5-9.5h0m21.5-41.5h0m-47 94h0m43.5-44.5h0m-10.5-56h0m-4.5 54.5h0m16.5-134.5h0m4.5 83h0m-15.5 26h0m8.5 14.5h0m3.5-20.5h0m-27 7h0m23-5h0m-49.5 41.5h0m23-109.5h0m-3 141.5h0m39.5-10h0m-36-57.5h0m32.5 49.5h0m-47-8h0m31.5-158.5h0m-4 106h0m-10.5-6.5h0m14.5 2h0m-16-76h0m14 142h0m-28 43h0m-1.5-134h0m33.5 85h0m-6 23.5h0m-9-45h0m-10 4.5h0m0 14.5h0m24.5 50.5h0m-26-5h0m29.5-71h0m-22.5-5h0m16.5-113.5h0m-29.5 99.5h0m19.5 38h0m-20-62.5h0m33 39h0m0.5-37h0m-31 15h0m12 28.5h0m0.5 29.5h0m27.5-38h0m-29 0.5h0m-9.5 17h0m-11.5-134h0m32 152h0m15 18h0m-43-1.5h0m28.5-33.5h0m22.5-129.5h0m-28 40h0m-20-4h0m47.5 132h0" stroke="#000" stroke-opacity="0.27" stroke-width="6.3" stroke-linecap="round" fill="none"/>
<path d="M1645 425.5h0m-53.5-0.5h0m55 0h0m-51-0.5h0m14 0h0m31.5 0.5h0m-11-15.5h0m162.5-109h0m-3 73.5h0m24-7h0m-20.5 29.5h0m-19.5 6h0m-2 6h0m47-78h0m-10 47h0m-22-4h0m-25.5 11.5h0m13-54.5h0m25.5 89.5h0m-5.5-62h0m-28 60h0m43.5-27.5h0m-50-38.5h0m31 25h0m-21.5 5.5h0m41.5-109h0m-10.5 95h0m-9.5 17.5h0m-15-4h0m37-9h0m-35.5 8h0m40.5-61h0m-36.5 63h0m-21.5 8h0m40.5-48h0m-14 52h0m16-21.5h0m-44 5.5h0m12 3h0m5.5 19h0m28.5-12.5h0m-25.5-15.5h0m31 42.5h0m-17-15.5h0m-21-57h0m8.5 31h0m-8.5 20.5h0m17.5-49.5h0m19 69.5h0m-40.5-30h0m46.5-3.5h0m-12.5 21.5h0m-35.5 14.5h0m46-9.5h0m-3.5 7.5h0m-36-2.5h0m36.5-20h0m-33.5-5.5h0m5-4.5h0m-13 3h0m27-99h0m-10 34.5h0m-12.5 82.5h0m-9.5 12.5h0m19.5-27h0m21 34h0m-6.5-60.5h0m8.5 36.5h0m-36.5-2.5h0m27.5-6h0m-18 10h0m-6-13.5h0m-9 0.5h0m-142.5 414h0m-14-1h0m-21-50.5h0m16.5-4h0m18-12h0m9.5 2.5h0m-46.5-79.5h0m180.5 144h0m26 2h0m-9 1h0m18 1h0m-33-1h0m-4.5-0.5h0m-2-0.5h0m-6-2.5h0m47 4.5h0m2-1.5h0m2.5-0.5h0m-15 2h0m-1-44.5h0m-17 26.5h0m34.5 14.5h0m-31-4.5h0m-16.5 7h0m3-20h0m29.5 17.5h0m-36.5 0h0m6-7.5h0m36 10.5h0m6-1h0m-46.5 1h0m20.5-0.5h0m33.5 0.5h0m-10.5 0h0m-46-4.5h0m47.5 1.5h0m-51 2.5h0m25.5-1h0m19.5 2h0m-42.5-1.5h0m56-2.5h0m-30.5 1.5h0m9-16h0m-15 17.5h0m7.5-20h0m27.5 19.5h0m-26.5 1.5h0m-22-4.5h0m13 4.5h0m21.5-2h0m-16-0.5h0m26.5 2.5h0m-44-4h0m19-2h0m19.5 5.5h0m-17-70h0m-29 69h0m14.5-2.5h0m38 3.5h0m-5 0.5h0m-12-1.5h0m13.5-2h0m0.5 0h0m-27-3.5h0m29.5 6.5h0m-38 0h0m-0.5 0.5h0m11.5-1.5h0m-17.5 1.5h0m-7.5-2h0m25.5 1h0m9 0.5h0m-5-10h0m-171.5 117.5h0m19.5 14.5h0m-9.5 14.5h0m-31 180h0m24.5-101h0m-25-122.5h0m21 130h0m191-94h0m-1 0h0m2.5 22h0m-21.5-14.5h0m-11.5-14.5h0m-0.5 29h0m14.5 7h0m12-36h0m12 86.5h0m-39-115.5h0m22.5 36h0m-30 0h0m30.5 0h0m-1.5 0h0m-8.5-7h0m11 65h0m-7.5-79.5h0m-12 14.5h0m42 7h0m-60.5 7.5h0m11-7.5h0m19-14h0m7.5 57.5h0m-28-36h0m17-43.5h0m-17 14.5h0m17 29h0m21.5-21.5h0m-7.5 21.5h0m-25-36h0m-9.5 14.5h0m32.5 21.5h0m-7 21.5h0m21-50.5h0m-2 50.5h0m-46.5-36h0m55 0h0m-32 7h0m-18.5-21.5h0m-4 29h0m29.5-21.5h0m-9.5 7h0m-20.5 7h0m49.5 0h0m-30-14h0m17-7.5h0m8.5 7.5h0m-25 14h0m-4.5 0h0m20 0h0m-9 43.5h0m16-50.5h0m-2 65h0m-15-29h0m-1.5-43h0m-23 21.5h0m11.5-36h0m17.5 28.5h0m-19.5 22h0m10 21.5h0m-8-50.5h0m24-7h0m11-7.5h0m-46.5 21.5h0m4.5 0h0m50 7.5h0m-230 595h0m13-6h0m48 47.5h0m-58.5-142.5h0m39.5-26.5h0m-28 147h0m35.5-16h0m130-14.5h0m-4 11.5h0m45 10h0m0-0.5h0m-48-81.5h0m20 94h0m18-105h0m4.5 90h0m-25.5 6h0m-18-29.5h0m51.5 42.5h0m-7-5.5h0m-38-69.5h0m15.5 82h0m11-25.5h0m-13.5 19.5h0m24-104.5h0m-3.5 114.5h0m-24.5-26.5h0m-11 12.5h0m47.5-50.5h0m-13.5-30h0m17.5 90h0m-47-11.5h0m4-0.5h0m11.5 3h0m31-62h0m-51 58h0m29 0h0m-21.5-42h0m30 25.5h0m-35.5 36.5h0m21.5-78.5h0m-18.5 10.5h0m-9.5 31h0m0 1h0m5-102h0m28 129h0m12-19.5h0m-16.5-39.5h0m23-80h0m2.5 78h0m-49 78.5h0m-1.5-35h0m50.5-5h0m-35.5 10.5h0m23-61h0m-33.5 17h0m-10.5 37.5h0m6-49.5h0m17.5 58h0m27-21.5h0m-43 31.5h0m48-12h0m-38-28.5h0m36-6.5h0m-41.5 32.5h0m26-36h0m17.5 32h0m0 29.5h0m-11-11h0m2 14.5h0m-14.5-14.5h0m-7-6.5h0m-19.5-12h0m20.5 0.5h0m-165 382.5h0m-21-55h0m34.5-188.5h0m8.5 192h0m-8.5-27.5h0m1 12h0m-16.5-20.5h0m176.5 100h0m17.5-58.5h0m-16-77h0m6.5 96.5h0m-37-29.5h0m9.5 72.5h0m31-144h0m-34.5 67h0m-11.5 36h0m-4-196.5h0m42 99h0m2.5-17h0m-4 82h0m-6-27h0m12.5-102h0m-25.5 138.5h0m18.5 5.5h0m-27.5-54.5h0m43.5-29h0m-41 130.5h0m-5-58.5h0m19.5-26.5h0m5.5 14.5h0m-23-4.5h0m14 14.5h0m15-14h0m-26.5 50h0m-12-29.5h0m32-125h0m10.5 166h0m-35.5-57.5h0m15 64h0m-18 19.5h0m2.5-67h0m27-91h0m-18.5 59.5h0m11.5 66h0m-23-45.5h0m23.5 37h0m-30.5-12.5h0m46.5-114h0m-7 71.5h0m-5 15.5h0m19.5-118h0m-23-9h0m16 179h0m5-187h0m-43.5 118.5h0m9-59h0m38 106.5h0m-28.5 18h0m-7-48.5h0m-19-6.5h0m35.5 7h0m19-23.5h0m-19-58h0m-27.5 126h0m5-38.5h0m33.5-50.5h0m-35.5 69h0m-2.5-77h0m35 109h0m15.5-33h0m-8.5 42h0m1-48h0m-36-0.5h0" stroke="#000" stroke-opacity="0.27" stroke-width="6.3" stroke-linecap="round" fill="none"/>
<path d="M1614 425h0m-15.5 0.5h0m-3-1.5h0m22 0.5h0m-3.5 0h0m32 0.5h0m-23-14h0m193 4.5h0m-28.5-68h0m-14.5 47h0m30.5 22.5h0m3-44h0m-1.5 47.5h0m-39-81h0m15-74.5h0m-4 118h0m32.5 0.5h0m-45 10.5h0m35.5-3.5h0m-6.5 5h0m-23.5 8h0m30.5-101h0m-31.5 115h0m11.5-37h0m1-6h0m37-50h0m-52 46h0m-1.5 35h0m20.5 15.5h0m18-7h0m-1.5-11.5h0m-7 8.5h0m-30.5-26h0m19-14h0m9 10.5h0m-19-53h0m32 75.5h0m-0.5 13.5h0m8-27.5h0m-37 7.5h0m19.5-14h0m-31.5 16h0m-4 22h0m2 1.5h0m9-177.5h0m-13.5 159.5h0m0.5-5h0m16-21h0m14-117.5h0m-27.5 71.5h0m54 41.5h0m1.5-33.5h0m-50.5-6h0m49-72h0m-19.5 120h0m0.5 3h0m22.5 5h0m-25-21h0m-9 54.5h0m5-75.5h0m-15 50.5h0m8-32.5h0m-1.5 35.5h0m10.5-78h0m-26 94h0m2 3.5h0m25.5-23h0m15-38h0m-19 54h0m22-34h0m-31 16.5h0m16-1.5h0m7 2.5h0m-204 383.5h0m32 2.5h0m-0.5-12.5h0m-3.5-9.5h0m-5.5 20.5h0m10 7.5h0m-35.5-130h0m161 142h0m53.5-32.5h0m-21.5 35h0m16.5-3h0m-32.5 2.5h0m2.5 0h0m8-1h0m20.5 1.5h0m-33.5-4h0m-15 4h0m11-9.5h0m14 8.5h0m-10.5-5h0m-12.5-4.5h0m-3.5-2h0m57.5-7.5h0m-37.5 19h0m-16-0.5h0m-2-0.5h0m8.5-0.5h0m34-1h0m-0.5-1h0m13-21h0m-35.5 24h0m26.5-18h0m4.5 19h0m-8.5-10.5h0m-38 9h0m48.5 2h0m-52-24.5h0m51 25h0m-29.5-13.5h0m17.5 12h0m-39-2.5h0m33.5 3h0m-28-9h0m34 8.5h0m-46 0.5h0m46.5 0.5h0m-26-0.5h0m37 0.5h0m-20 0h0m-5.5 0h0m-1-1.5h0m-17 0h0m-7-0.5h0m40 1.5h0m-9-0.5h0m-32.5-32h0m53 30.5h0m-23.5 1.5h0m-30.5 1h0m42-3.5h0m6 3h0m-46.5 1h0m41 0h0m-40-2h0m52.5 0.5h0m-16-1h0m6.5-2.5h0m-46 4h0m41-3.5h0m-8 3.5h0m-29.5-2.5h0m40-36h0m-12.5 39h0m-165.5 172h0m-3.5-7.5h0m-4-50h0m17.5 21.5h0m-7.5 7h0m9-28.5h0m-2.5 115h0m149-72h0m21-50.5h0m-16 72h0m20.5-36h0m-5.5-14.5h0m-1 43.5h0m-11-7.5h0m10.5-7h0m-41.5-21.5h0m39.5 36h0m3-50.5h0m-5.5 21.5h0m17-7h0m-55-29h0m27.5 14.5h0m18.5 7h0m-3 50.5h0m-4-14.5h0m20.5 7.5h0m-2.5-21.5h0m-25-7.5h0m6-14.5h0m-24 36h0m3-14h0m41.5-36h0m-31-7.5h0m7 7.5h0m-11.5 57.5h0m35-43.5h0m-5 43.5h0m2-43.5h0m-20-7h0m-21 14.5h0m6.5 36h0m39.5-57.5h0m-56 43h0m-3-29h0m35 14.5h0m-12-14.5h0m20.5 36h0m-28.5 29h0m33-36h0m-4 7h0m-31.5-28.5h0m9-7.5h0m-20 29h0m35-29h0m-32-7h0m9.5 7h0m40.5 0h0m-40.5 7.5h0m1-14.5h0m-8.5-14.5h0m43.5 29h0m-23.5 93.5h0m28.5-72h0m-51-7h0m56.5-22h0m-16.5-21.5h0m-12.5 14.5h0m6.5 21.5h0m-36-14.5h0m0-7h0m2.5 0h0m47 50.5h0m-0.5-36h0m-185.5 591.5h0m-25.5 15h0m-1-8h0m35 23.5h0m-39.5-22h0m48-20h0m-46.5 33h0m188-50.5h0m-15-41h0m39.5 93h0m-50.5-32.5h0m37.5-21h0m18 44h0m-14 14.5h0m-27-5.5h0m-9.5 11.5h0m32.5-30.5h0m-14.5 11h0m4.5-36h0m-4 43.5h0m-11.5 16.5h0m16.5-25h0m3.5 12h0m15.5-25.5h0m-45.5 35h0m21.5-53.5h0m12-37h0m-11.5 64h0m-10 26h0m22-24h0m-30 16.5h0m5-10.5h0m21 7h0m-14 2.5h0m33.5-110.5h0m-25.5 101.5h0m23 17h0m-22.5-29.5h0m-6.5-8.5h0m-16 23h0m44 0.5h0m5-2h0m-18.5 5h0m-17 4h0m-7-20h0m2.5-26.5h0m28 22.5h0m10 26h0m-7 9.5h0m15-14.5h0m-43-33.5h0m1.5 28h0m-18.5 4h0m26-46.5h0m-10-15.5h0m28-26.5h0m-21.5 88h0m-1.5-10h0m10 30h0m17.5-39.5h0m-2.5 39h0m12-59.5h0m-59 29h0m36 0h0m6-46h0m-29 55.5h0m42 15h0m-41.5-8.5h0m10-22h0m22.5-26h0m15 42h0m-41.5-56h0m15.5 51h0m-180 296.5h0m24-166h0m4.5 171.5h0m-9 98.5h0m12.5-126.5h0m-31.5 22h0m-6.5 88.5h0m188-165.5h0m-21 109h0m37.5 55h0m-14-16h0m-2-3h0m12-10.5h0m-12.5-26.5h0m9 47h0m2-41h0m3-26h0m-24.5-53h0m0.5-92.5h0m23 224h0m-52-68.5h0m57.5 25h0m-45.5-116h0m6.5 110.5h0m14 1h0m9-28.5h0m-9.5-102.5h0m27.5-15.5h0m-54.5 63h0m45.5 57.5h0m-50 46.5h0m10 14h0m41-72h0m0 56.5h0m-31 38.5h0m-4.5-172.5h0m35.5-4h0m-45 150.5h0m24-120.5h0m5 144h0m-1-52.5h0m-15.5 14.5h0m-10.5-151.5h0m-7.5 103.5h0m51-95.5h0m-36.5 85.5h0m-8.5-3h0m40.5 9.5h0m-5.5 29.5h0m-42-75h0m14.5 61h0m9.5 30.5h0m23.5 30.5h0m-6-23.5h0m-24.5-18.5h0m35-89.5h0m-15.5 139h0m20-27.5h0m-24-21h0m-1 8h0m12 25h0m-42 21.5h0m4.5-34.5h0m-0.5 18.5h0m31.5-46.5h0m-24.5-16.5h0m8.5 82h0m14-40.5h0m-29.5-19h0m49.5 22h0m-46.5-10.5h0m27.5 2h0m-23-33h0" stroke="#000" stroke-opacity="0.27" stroke-width="6.3" stroke-linecap="round" fill="none"/>
<path d="M1626.5 424h0m-8 0h0m29.5 1.5h0m-23.5-1h0m18 0h0m-23 1h0m23.5-12.5h0m154-25.5h0m-37.5 23h0m31.5-38h0m-8.5 32h0m18.5-3h0m-10.5-15.5h0m15 35.5h0m-31-22h0m10-70h0m6.5-26.5h0m19 49h0m-6.5 30h0m-35.5 4h0m-9-13h0m59-21.5h0m-31.5 62h0m-20 10h0m43.5-24h0m-36.5-22.5h0m32.5 12h0m-11.5 12h0m-6 21.5h0m-27-48h0m52 30h0m-48-41h0m0.5-3h0m13 61h0m27-84h0m-7 35.5h0m-14.5-0.5h0m-13 20.5h0m39.5 6.5h0m-46.5-109h0m30 106h0m17.5 2.5h0m-40 3.5h0m30.5-19h0m-19.5 8.5h0m26-60h0m-33 53.5h0m42 2h0m-33 1h0m10.5-29h0m-4.5 51h0m9.5-8h0m-6.5 15h0m-20-9.5h0m37 6.5h0m3 8h0m-19.5-1.5h0m-5-0.5h0m13.5-49h0m-23.5 43.5h0m11.5-40.5h0m2-17.5h0m-6 46h0m-17.5-26h0m28.5 12h0m-1.5-37.5h0m1 54h0m5-9.5h0m-39.5 7h0m28.5-55.5h0m-24-9.5h0m15.5 86.5h0m-21-15.5h0m-133 386.5h0m-18-46h0m-21 52h0m-4-6.5h0m35.5 3.5h0m-17-43.5h0m16.5-90.5h0m169 130h0m17 9.5h0m-52.5 1h0m46 0h0m-47-2.5h0m42.5 2h0m-29-1.5h0m-11-11.5h0m1.5 9.5h0m43.5 4h0m-25.5-0.5h0m-20.5-13h0m48 10h0m-19.5-22h0m-12.5 25.5h0m35.5 0h0m-14.5-8.5h0m-42 5.5h0m24 2h0m19-17.5h0m-24.5 17.5h0m2.5-14h0m19.5 15h0m-20-1.5h0m16 0h0m0.5 0.5h0m6.5-2h0m-12.5 2.5h0m16-11.5h0m6 9.5h0m-18 1.5h0m-24.5 0h0m40.5-9h0m-19.5 9h0m22 1h0m-45-1h0m33.5 0.5h0m6-1.5h0m-22-2.5h0m12 4.5h0m-25-0.5h0m18 0.5h0m19.5-4.5h0m-36.5 4.5h0m39.5 0h0m-24 0h0m-24-0.5h0m38-5.5h0m-43 6h0m60.5-21h0m-43 20h0m5 0.5h0m-23-23h0m18 15h0m-6.5 7h0m45-17h0m-25 16h0m-8 1h0m-21-1h0m52.5-1.5h0m-27.5 4h0m9 0h0m-14-1h0m19-1.5h0m-21 3h0m32-0.5h0m-158 128.5h0m-45.5 22h0m32.5 0h0m-33 0h0m19-14.5h0m-22.5-7.5h0m38 122.5h0m126.5-115h0m6-14.5h0m46.5 21.5h0m-12.5-21.5h0m13.5-29h0m-37.5 29h0m-4.5 21.5h0m41.5-14.5h0m-16.5 36h0m-9-28.5h0m-20.5-7.5h0m36.5 7.5h0m-6.5 21.5h0m-40.5-14.5h0m50.5 7.5h0m-40.5 0h0m18.5-7.5h0m-29 7.5h0m8-7.5h0m46.5-36h0m-14.5 43.5h0m-21-7.5h0m15 50.5h0m12.5-65h0m-27-7h0m12.5 0h0m6-7h0m-5.5-7.5h0m-21 21.5h0m41.5 0h0m-5 29h0m1.5 21.5h0m-39.5-50.5h0m10-7h0m-2 7h0m6.5 7.5h0m5-7.5h0m24 7.5h0m-42-7.5h0m7.5 14.5h0m-8.5 7.5h0m33-14.5h0m12.5 50.5h0m-5-58h0m-12.5-7h0m-12.5 21.5h0m-17 0h0m-9.5 7.5h0m47.5 14h0m2.5-36h0m-20 0h0m-20.5-7h0m-9-7h0m11.5 7h0m13.5 21.5h0m4.5-21.5h0m11.5-29h0m-10 72h0m11-50h0m-29.5 7h0m16.5 0h0m13 0h0m-43 0h0m41.5 43h0m-7.5-36h0m-16.5 29h0m-169.5 473h0m25.5 108.5h0m-35 18.5h0m36.5 8.5h0m-7.5-128h0m-27.5 132h0m39.5-133.5h0m155 104.5h0m-17 13h0m11.5-38h0m-11 13.5h0m24.5 31h0m-6.5-50h0m3.5 35.5h0m17-22.5h0m-12.5 23.5h0m2.5-9.5h0m10.5 3h0m-31.5-79.5h0m8 57h0m5.5 39.5h0m-37.5-27.5h0m30 6.5h0m-22 24h0m37-54.5h0m-8 41h0m-35-25.5h0m49-31h0m-48 0h0m2 58h0m20.5 9h0m-20.5-28h0m33 15.5h0m3 10.5h0m7.5-9h0m-28.5-36.5h0m-12 62h0m0-16h0m5.5-13.5h0m24 6.5h0m-7.5 13h0m22-30h0m-49 13.5h0m37.5-15.5h0m-5.5 5.5h0m-28.5 26.5h0m-3.5-3h0m34-20h0m-32-78.5h0m19 107.5h0m14.5-70h0m-44.5 48h0m49.5 32h0m-30.5-31.5h0m34-2.5h0m-52.5-96h0m14 54h0m46 55.5h0m-33.5-16.5h0m14.5-7h0m-34 11.5h0m46 23h0m1.5-8.5h0m-39.5-9.5h0m-11 2h0m53.5 12h0m-6.5-42.5h0m1 48.5h0m-0.5-17h0m-48.5-61h0m6 8h0m-9 60.5h0m7.5-15.5h0m-164 194h0m31.5 211.5h0m-43-149.5h0m39 44.5h0m9.5 59.5h0m9 27h0m-52-54.5h0m190.5 2h0m-23.5-27h0m-5 32h0m14.5-90.5h0m-10.5-14h0m41 41.5h0m-47-66h0m59.5 82.5h0m-6 97.5h0m-20.5-14.5h0m19-168h0m-2.5 142h0m-8.5-48h0m-2 60.5h0m-17.5-82h0m26.5-74h0m-7 37h0m7.5-2h0m-19.5 127.5h0m8.5-108h0m-15.5 108h0m-6.5-65h0m-5.5-88h0m30 171h0m-31.5-83.5h0m46.5 49h0m4.5-57.5h0m-26 60.5h0m-16 7h0m4.5-21h0m-15-1h0m38.5-20h0m-7.5-61h0m-16 127.5h0m-13.5-171h0m14.5 107h0m-18-70.5h0m42.5 73.5h0m-25-111.5h0m-11 119.5h0m20.5 22.5h0m22.5 3.5h0m-18 3h0m-17.5-41.5h0m33 27h0m-41-93.5h0m45 48h0m-25.5 27.5h0m-22.5 45.5h0m23-48.5h0m1.5 47.5h0m7-33.5h0m14-23.5h0m-46-20h0m21 16h0m10 10.5h0m11 38h0m-35-158.5h0m-0.5 180.5h0m38.5-3h0m-41.5-92.5h0m47.5 70.5h0m-31-6h0m10.5-184h0m-31 138h0m41.5-4h0" stroke="#000" stroke-opacity="0.27" stroke-width="6.3" stroke-linecap="round" fill="none"/>
<path d="M1610 425.5h0m-18.5-1h0m43.5 0h0m3 0.5h0m8 0h0m-36-0.5h0m18-9.5h0m160-46.5h0m23 22.5h0m8 28h0m-21.5-86h0m-12.5 90.5h0m33-8.5h0m-40.5 5h0m2-35.5h0m28-60h0m-14 53h0m-7-1h0m-1-44.5h0m0.5 55h0m-18.5 30h0m31.5-39.5h0m10.5 39.5h0m-17-17.5h0m12.5-72.5h0m-25 74h0m37-157h0m-8.5 151h0m-1.5-60.5h0m-8-9.5h0m7.5 32.5h0m-5.5 54h0m-4-5.5h0m20.5-0.5h0m-9-15h0m-44.5 13h0m21.5-27h0m16.5 18.5h0m-13 9.5h0m-30 8.5h0m54.5-10.5h0m1.5-34h0m-42.5 3.5h0m36.5 41.5h0m-8.5-63h0m-4.5 72.5h0m17-103.5h0m-32 64h0m-22 22.5h0m37 6.5h0m-35.5 2h0m10.5-69h0m26 51.5h0m-1.5-0.5h0m-4 21h0m12-1.5h0m12-66h0m-30 67.5h0m16.5-24h0m-34.5-53h0m43.5 65.5h0m-21.5 11h0m-25.5-29.5h0m9.5 31.5h0m41-35h0m-50-9h0m18.5 2.5h0m34.5 25h0m-36.5-78h0m-8 66h0m9-8h0m34.5 5.5h0m-50.5 19.5h0m-170.5 326h0m47 57.5h0m-53.5-30h0m46-14.5h0m-18 17h0m11.5 13h0m-21-109.5h0m203 122.5h0m-11.5 13.5h0m-13.5-1.5h0m-24.5 1.5h0m39 2h0m-5-49.5h0m-45 35h0m53.5 12.5h0m-54 0.5h0m15-2.5h0m17.5 3.5h0m7-1h0m-21.5-3h0m34.5-0.5h0m-4.5 4.5h0m-36-3.5h0m22-5h0m-26.5 5.5h0m33 2h0m-19 0h0m9.5-3h0m26-5.5h0m-23.5 9.5h0m-25 0.5h0m8.5-9.5h0m-4.5 8h0m32.5-2.5h0m-36 3.5h0m28 0h0m-17-1.5h0m4 2.5h0m35-3.5h0m-18.5 3h0m-34.5-64h0m20.5 62.5h0m1 0.5h0m34-3.5h0m-3 2h0m-28.5-15h0m-12.5 9h0m22.5-6.5h0m18.5 10.5h0m-1.5 5h0m0-7h0m-38 6h0m-9.5-1h0m7-7h0m37.5 6.5h0m-17-2h0m7 4h0m16 0h0m-45-2h0m3-0.5h0m-9 2.5h0m25-4h0m22 1h0m-38.5-0.5h0m30-13h0m-29.5 15.5h0m11-9.5h0m-11.5 8h0m27.5-0.5h0m-24 3.5h0m-2.5-4.5h0m21 3.5h0m-33-6.5h0m-158.5 99.5h0m-6.5 79.5h0m54-29h0m-20.5-28.5h0m14 7h0m1 14.5h0m2 122.5h0m136-115.5h0m33-7h0m-34.5 21.5h0m21-21.5h0m-39.5-21.5h0m26 0h0m3 100.5h0m-8.5-93.5h0m-5.5 7h0m16.5 0h0m16 22h0m-7.5-43.5h0m-15 36h0m19.5-14.5h0m-8 22h0m-18 7h0m32-21.5h0m-48-7.5h0m19-21.5h0m26 7.5h0m5.5 14h0m-34 7.5h0m25.5 7h0m-28.5 0h0m18 50.5h0m8.5-50.5h0m2.5-14.5h0m-42-14h0m2 57.5h0m38-36h0m-28 0h0m17 7h0m-29.5-21.5h0m23 7h0m-9.5 0h0m23.5 22h0m6.5-43.5h0m-51 29h0m28.5 36h0m33.5-29h0m-25.5 43.5h0m-11.5-65h0m15.5 29h0m14.5-36h0m3 93.5h0m-5-57.5h0m-51.5 7h0m47.5-50.5h0m0 21.5h0m-35 0h0m-11 14.5h0m27-28.5h0m3 7h0m-15.5-7h0m-2 28.5h0m1-36h0m20.5 14.5h0m-1.5 29h0m-10.5 0h0m7-7.5h0m-7-14.5h0m-18.5 0h0m21.5 29h0m-25.5-36h0m-1.5 0h0m55-7h0m-183 653.5h0m-12.5-187h0m22 78h0m-4 98.5h0m10-39.5h0m0 24.5h0m-14.5-8h0m126 28.5h0m23-16.5h0m-11.5-5.5h0m5 6h0m-9-2h0m-2 22.5h0m-6.5-23.5h0m53.5-9h0m-50 6h0m-2.5-64.5h0m26 77.5h0m5 17h0m10-93.5h0m-29 66h0m-12.5 15h0m51-48h0m-34.5 32.5h0m5.5 8h0m24 2.5h0m-47-56.5h0m38 79.5h0m-13-90.5h0m-10 43.5h0m-5.5 47.5h0m34.5-24h0m-25.5-14.5h0m17-58.5h0m12 78.5h0m-47-15.5h0m31 6.5h0m25 18.5h0m-45.5-31.5h0m45 15h0m3.5-23h0m-13 35.5h0m-5-35.5h0m10 4.5h0m-24-3h0m1.5 23h0m29.5-16h0m-58.5 7.5h0m38.5 4h0m18.5-5h0m-40.5 25h0m-2-63h0m22.5 21h0m22 6.5h0m-14.5 17.5h0m-10.5 1.5h0m-17-41h0m33-60.5h0m-25.5 120.5h0m10.5-56.5h0m-1 40h0m-23.5-24h0m32 25.5h0m15.5-65h0m-19 84.5h0m-28-46.5h0m-9.5 2.5h0m6 7h0m16-92h0m-14 102h0m41-30h0m-51.5 1.5h0m36.5 28h0m-168.5 208h0m16.5 131h0m-4-26.5h0m-36 54h0m-13-21.5h0m3 11h0m9.5-41h0m198.5-83.5h0m-34.5 171.5h0m12.5-197h0m18.5 163h0m-37-17.5h0m-1-53h0m4 36h0m8.5 38h0m8-16h0m-4-120.5h0m27.5-9h0m-20 71.5h0m7.5-133.5h0m25 167.5h0m-37.5 6.5h0m-3 71h0m-3-26h0m-9-69.5h0m13 41h0m-3.5-34.5h0m17 31h0m17-9h0m-43.5-134h0m8 48h0m6 69h0m0.5-24h0m-8.5 0h0m28.5-76.5h0m-27 123.5h0m27-139h0m16.5 128.5h0m-8.5-3.5h0m-32-148.5h0m22 174h0m5-133.5h0m-37 123h0m38-14h0m-3.5-85.5h0m17-52h0m-5.5 97h0m-14.5 3h0m13 91.5h0m-11.5-6.5h0m-17.5-186.5h0m-2.5 118h0m-9.5-117.5h0m30.5 21.5h0m10 147h0m-15-27h0m20-10.5h0m-23 25h0m-26.5-8h0m54.5 28h0m-40-31.5h0m20 7.5h0m-40 18.5h0m37-54h0m-23.5 31h0m-4-44h0m21.5 26.5h0m20.5 59h0m1.5-61.5h0m-35.5 20.5h0m39.5-99h0m-24 4.5h0m-25.5-5.5h0" stroke="#000" stroke-opacity="0.27" stroke-width="6.3" stroke-linecap="round" fill="none"/>
<path d="M1598.5 424.5h0m43 0h0m-43 1h0m22-0.5h0m-17.5 0h0m-1-1h0m41.5-7h0m137.5-29.5h0m9.5-16h0m-0.5 27h0m9.5-14h0m-19.5 20.5h0m-1.5-13h0m24 11.5h0m-12-32.5h0m2-40h0m-29.5 26.5h0m26-12h0m-7 76.5h0m31-19h0m-26.5-13.5h0m9.5 34.5h0m-0.5-48.5h0m-6.5 23h0m-24.5-1h0m36-21.5h0m-30.5-27h0m8.5 57h0m3.5-5h0m-11.5-9.5h0m-10.5 26.5h0m34.5-37.5h0m18 32.5h0m-33-76.5h0m-16.5 58.5h0m3 2.5h0m20.5 15.5h0m20 7h0m-46 3h0m26.5-13.5h0m-26.5-39h0m4.5-22.5h0m41-100h0m3 131.5h0m5-7h0m4.5 10h0m-43 26h0m-14 7h0m39-67h0m16 48.5h0m-36.5-22.5h0m-10.5 1h0m37.5 21h0m-46 17h0m6-26.5h0m7.5 14.5h0m21.5 18.5h0m-27.5-15.5h0m0.5-29h0m43.5 14.5h0m-52.5 14h0m31.5-41.5h0m23-22h0m-9.5-6.5h0m-5-38h0m-29 90.5h0m38.5 17.5h0m-24.5-22.5h0m3 37.5h0m-1.5-9.5h0m-23.5-16h0m22 10h0m2.5-53.5h0m-168 425h0m-32 0h0m52.5-57h0m-29.5 72h0m-13.5-56h0m7.5 52.5h0m20.5-113h0m182.5 131.5h0m-51-7h0m36-14.5h0m18.5 21.5h0m-50-0.5h0m17-3.5h0m3-4h0m21.5 8h0m-34.5-21h0m-4 18h0m14 0h0m-26-3.5h0m25 6h0m-4-5.5h0m19 5h0m-19.5-1h0m-3 1.5h0m0.5-2.5h0m-8 2h0m46 0h0m-58.5-0.5h0m8.5 1.5h0m23.5-3h0m-21 1h0m15 2h0m8.5-1.5h0m6.5-1h0m14-31h0m3 33h0m-22.5-5h0m-22.5-6.5h0m35 12h0m-28.5-40h0m35.5 40h0m-6-10.5h0m-6.5 9.5h0m17.5 1.5h0m-14-2.5h0m-40.5-1h0m33 2h0m19.5 1h0m-21-3.5h0m17 0h0m-22 0.5h0m19 1.5h0m-1.5 2h0m-19-25h0m19 21.5h0m-27.5 3h0m15-6h0m6 3h0m-29 2.5h0m-1.5 0.5h0m15-1h0m-12.5-3h0m39-28.5h0m-15 28h0m-26 4.5h0m17.5-7h0m13-17h0m-10.5 24h0m-4.5-1.5h0m-3-2h0m28.5-13.5h0m-33 16.5h0m10.5 0.5h0m-183.5 287h0m27-144h0m-2 65h0m-36 14.5h0m55-79.5h0m-25.5-7h0m7.5 129.5h0m149-137h0m17.5-21.5h0m10 72h0m4-72h0m-2 0h0m-33 14.5h0m29 7h0m-22-21.5h0m28-7h0m-19.5 57.5h0m-6-14.5h0m-12 0h0m-10.5 0h0m26.5 57.5h0m19-79h0m-22-7h0m1 14h0m34 94h0m-61.5-86.5h0m26.5 14.5h0m23-14.5h0m-47.5-14.5h0m-0.5 21.5h0m16-14.5h0m-11.5 0h0m54.5-21.5h0m-55 21.5h0m49.5 0h0m-13.5 36h0m14.5-43h0m-5.5 86.5h0m-8-115.5h0m10.5 65h0m-25 79h0m27.5-129.5h0m-12 7.5h0m-37 21.5h0m9-21.5h0m24-22h0m-0.5 14.5h0m-25.5 43.5h0m-4-36h0m-6 50h0m53-21.5h0m-54.5-28.5h0m33.5 21.5h0m16-7.5h0m-2 43.5h0m-18.5-7.5h0m3.5-43h0m17 0h0m-25 50.5h0m28-36h0m-55-14.5h0m17.5 14.5h0m2.5-29h0m5 21.5h0m19 7.5h0m-19.5 7h0m5.5-7h0m-17.5-29h0m-3 0h0m47.5 14.5h0m-27.5-14.5h0m11.5 14.5h0m-11.5-7h0m-198 642.5h0m45.5 7.5h0m-8.5-22h0m-30.5-15h0m44.5 29h0m-42.5-51.5h0m37.5 48.5h0m133-1h0m3.5 15.5h0m40-54h0m-25 13h0m9-94.5h0m0 8h0m-35.5 115h0m-4 13h0m60.5-36h0m-37.5 42h0m-20.5-56.5h0m47.5-17.5h0m-6 24h0m-2 44h0m10-24h0m2-13.5h0m-42-49h0m1.5 65h0m32.5-3.5h0m14-14.5h0m-52.5 34h0m18.5-19.5h0m0.5 22h0m10 7h0m0-35.5h0m14.5 2h0m-15.5 6h0m-8-5.5h0m17 4h0m-20-6h0m-1.5 1.5h0m-9-14.5h0m24 27h0m-27.5 13.5h0m31.5-28.5h0m-35.5 27.5h0m37-11.5h0m14.5 11.5h0m-38.5-80.5h0m-3.5-17.5h0m10 47.5h0m-25.5 31h0m54.5-40.5h0m-41.5 41h0m-7.5-20h0m49-27h0m-42.5 71.5h0m36-24.5h0m-16 18.5h0m-16.5-46h0m41 58.5h0m-17-35h0m-20-1h0m-16-2h0m35.5 15h0m-15.5 15h0m-6.5-19h0m30 13.5h0m-46-106.5h0m8.5 111h0m15.5 1.5h0m-1-43.5h0m5 14.5h0m21 17h0m-30.5 7h0m31.5 13h0m-187.5 132h0m-20.5 202h0m3.5 38.5h0m10-72h0m-14-41h0m-1 62h0m12.5-153h0m174 172.5h0m-5.5-34.5h0m-26.5-120h0m53 184h0m-44.5-81h0m37.5-18h0m-41 57.5h0m15.5-9.5h0m-6.5 25.5h0m-11-35.5h0m50.5 19h0m-15.5 5h0m-9.5-34.5h0m-24.5-8h0m10 62h0m16.5-29.5h0m31 44.5h0m-56.5-73.5h0m-0.5 22h0m51-2.5h0m-28-79h0m-3.5 98h0m22.5-68.5h0m-12.5 59.5h0m1-55.5h0m-3.5 87h0m2.5-52.5h0m24 13h0m-2-117.5h0m-50.5 111.5h0m14.5-29.5h0m-19 89h0m22-55.5h0m24.5-35.5h0m-43-85h0m-1 144.5h0m31-18.5h0m13.5-37.5h0m-2.5 39.5h0m16.5-58h0m-27-77.5h0m-24.5 152h0m51 23h0m-37.5 2.5h0m-1-24.5h0m24-35.5h0m-19.5-125h0m-20 95.5h0m45 26.5h0m0.5-33h0m-21.5-104h0m25.5 112.5h0m-3.5-125.5h0m-42.5 96.5h0m15 45h0m-23 16h0m39.5-10.5h0m-3 38h0m10.5 3h0m-28.5-57.5h0m-8-97h0m24.5 134h0m16.5-18h0m-13 22h0m-5-40.5h0m-17 81h0" stroke="#000" stroke-opacity="0.27" stroke-width="6.3" stroke-linecap="round" fill="none"/>
<path d="M1621 424h0m-16 1h0m13.5-0.5h0m-26.5 0.5h0m51 0h0m-14.5-0.5h0m-24-5.5h0m174.5-44h0m7.5 19.5h0m-17.5-4.5h0m26.5-2.5h0m-11 34h0m17-45h0m14.5 16.5h0m-57-64h0m36 63h0m-35 27.5h0m16.5-62.5h0m15 59h0m7.5-155h0m17.5 129h0m-35.5 6h0m22.5-22.5h0m-22 4h0m36.5 13h0m-49-19h0m26.5-26.5h0m-30.5 74.5h0m49.5-31.5h0m-29.5 30.5h0m3.5-16h0m7 3.5h0m-33-5.5h0m52 13h0m-48-65.5h0m3 64.5h0m11-4h0m-18-12.5h0m12.5 2h0m-16.5 8.5h0m28.5-21h0m-2-34h0m28 63.5h0m-53-12h0m39.5 7.5h0m-5.5-4h0m-6.5-67.5h0m11.5 10.5h0m-39.5 28h0m16 39h0m38-26.5h0m-26.5 1h0m21.5-18.5h0m-9 22.5h0m-25 7h0m20.5-99h0m-1.5 83h0m12.5 17.5h0m10.5-120.5h0m-48 139.5h0m29-50.5h0m-5.5 35.5h0m-5 4.5h0m-2 4.5h0m-8-33h0m-12-1h0m25.5 4h0m-5.5-15h0m23 38.5h0m-22-86.5h0m20.5 61.5h0m-32.5-2h0m1.5-25.5h0m-147 425h0m-16.5-62.5h0m-15.5 37h0m-3 7.5h0m4-28.5h0m-4 47h0m18.5-103.5h0m192 101.5h0m-23.5 24.5h0m-9.5-3.5h0m-18.5 2.5h0m1.5 0h0m33-4h0m23 3.5h0m-11.5-6h0m-20.5 4h0m-26 1.5h0m2.5 1h0m24 0.5h0m19.5-2h0m-32.5-2h0m-2.5-2h0m16-8h0m-21.5 9.5h0m51.5 4.5h0m0.5-3.5h0m-50.5-1h0m26.5 0.5h0m-4-10h0m-22.5 13h0m15.5-1.5h0m-10.5 1.5h0m-4.5-4h0m3 4.5h0m5-2.5h0m17 1h0m-12.5-1h0m0.5-7h0m7.5-11h0m15.5 21h0m-39.5-8.5h0m29-41h0m-7 39.5h0m9 8h0m-9-6.5h0m-10.5-14h0m29.5 21h0m0-6h0m10 7h0m-30.5-7.5h0m7 6.5h0m-10.5-2h0m-2.5 3h0m5-1.5h0m-15.5 2h0m41.5-1.5h0m-4 1.5h0m6.5-1h0m-45 0.5h0m45-2.5h0m-51.5 3h0m20.5-7h0m-12 3h0m41.5-11h0m-21.5 4.5h0m-16.5 9h0m-12-1.5h0m51 3h0m-51.5 0h0m18.5 0h0m-6-2.5h0m27.5-4.5h0m16.5 6h0m-190 137h0m-24.5-14.5h0m32.5-29h0m6 36h0m3 22h0m-18-22h0m19 158.5h0m138.5-115h0m14-36h0m11.5 36h0m14-50.5h0m-59 50.5h0m4-65h0m23 21.5h0m2 0h0m20 14.5h0m-17-21.5h0m18 29h0m-26-14.5h0m-8.5-7.5h0m5.5-21.5h0m3.5 29h0m33-29h0m-50 7.5h0m10.5-7.5h0m25.5 21.5h0m-28.5 0h0m8-28.5h0m9.5 43h0m-31.5-14.5h0m17-28.5h0m-12.5 0h0m11 93.5h0m29-86.5h0m5.5 21.5h0m-44 50.5h0m-7-64.5h0m55.5 14h0m-33.5 7.5h0m24 14.5h0m-40-7.5h0m16.5 21.5h0m22.5-21.5h0m-8.5-36h0m-33 14.5h0m21 0h0m14 7h0m-31 0h0m1 14.5h0m8 21.5h0m3.5-28.5h0m15.5-21.5h0m-16.5 14h0m-10-7h0m34 14.5h0m-5-29h0m-21 14.5h0m3.5 0h0m-21 7h0m29 50.5h0m-7-43h0m-24 36h0m34-29h0m-33.5-36h0m52.5 21.5h0m-7.5-28.5h0m14 21.5h0m-57 0h0m2.5-21.5h0m42.5 21.5h0m-32 14.5h0m23.5-29h0m-6.5 14.5h0m-180 650h0m-20-13h0m44-4.5h0m8.5-81h0m-26.5 29h0m-23.5 75h0m35-24h0m185.5-5.5h0m-11.5-16h0m2-17.5h0m-28-15h0m29 52.5h0m-49 21h0m38.5-11.5h0m0.5-5h0m8-30.5h0m7.5 47h0m-17.5-23h0m-6.5 6h0m-14 6h0m-13.5-0.5h0m56 1h0m-16-32h0m-15 26h0m-9.5 14.5h0m37.5-19.5h0m-33 4.5h0m31-27h0m-4.5 36.5h0m-39 6.5h0m13-16h0m14.5-59.5h0m-24.5 36.5h0m11 28.5h0m7.5 13.5h0m-16.5-81h0m-0.5 59h0m30-16h0m-15 13.5h0m1.5-36h0m-21.5 55h0m42-76.5h0m-32.5 59h0m-11-35.5h0m5.5 54.5h0m-10-11.5h0m30-35.5h0m7.5 10h0m-36.5-30.5h0m50 41h0m1 5.5h0m-23-103.5h0m-15.5 98h0m31-3.5h0m-1 12h0m-14 18h0m-20.5-16h0m14.5-15h0m4.5 36.5h0m24.5-71.5h0m-48 40h0m42 19.5h0m-46-37h0m45-19.5h0m3 34.5h0m-30.5 19h0m-17-11h0m45-15.5h0m-31 26.5h0m-1 18.5h0m32.5-13.5h0m-27.5-71.5h0m14.5 34h0m-204 406h0m52-110.5h0m-32 106h0m13-205h0m-5 181h0m-24-227.5h0m31 258.5h0m155-63.5h0m-4.5-10.5h0m15.5-3h0m-23 57h0m45-6.5h0m-50-33h0m-3.5 3.5h0m2-214h0m41.5 88h0m-10.5 85h0m-22.5 110.5h0m41-62.5h0m-30.5 23.5h0m17.5-27h0m-35 43h0m24.5-138h0m25 148.5h0m-37-174.5h0m0 133h0m-18.5-22h0m45 8h0m-39.5-64.5h0m6 83.5h0m13.5 31.5h0m23.5-37h0m-10-39h0m13.5 0.5h0m-12.5 35.5h0m-21.5-13h0m2-170.5h0m35 245.5h0m-6-20h0m5-49h0m-33-102.5h0m-2 59h0m2 53.5h0m-0.5-20.5h0m32.5-8.5h0m-34.5-35.5h0m14.5 42.5h0m-31.5 49.5h0m-5.5-36.5h0m14 10h0m-6 36h0m-6-95.5h0m21.5 52.5h0m-18.5-64h0m25 52.5h0m-24.5-82.5h0m23.5 62.5h0m-23 96h0m45-91.5h0m-12.5 60h0m-33.5 16h0m45.5-100.5h0m-14.5 41.5h0m10.5 20h0m7-57.5h0m-9 78.5h0m-19-15.5h0m-3.5 24h0m11-12h0m24 10.5h0m1.5-65h0m-42 19.5h0m-8.5 44.5h0" stroke="#000" stroke-opacity="0.27" stroke-width="6.3" stroke-linecap="round" fill="none"/>
<path d="M1642 424h0m-43 0.5h0m30 0.5h0m11.5-1h0m9.5 1.5h0m-2.5-1.5h0m-11.5-3h0m122.5-11.5h0m45-0.5h0m1.5 15h0m-45-122h0m25.5 110.5h0m-27-21.5h0m16-11.5h0m6 13.5h0m38-35h0m-39.5 26.5h0m33.5-34h0m-0.5 59.5h0m-41.5-33h0m6.5-61.5h0m25 58h0m2.5 37h0m-18 6h0m16.5-1.5h0m7-19h0m-42.5-2h0m31.5-62.5h0m-11.5-5.5h0m7.5 81h0m-29-37.5h0m39 22.5h0m-32 29.5h0m38-26.5h0m-51 1h0m30.5-70.5h0m-5 77h0m-16.5-3h0m6.5-63.5h0m36.5 39.5h0m-31.5 30.5h0m-6-22.5h0m-1 16h0m-12.5 7h0m-2.5 16h0m51.5-27h0m-20 4.5h0m-16.5-25h0m16.5-50h0m-18 97h0m-10.5-7.5h0m13-88.5h0m-8.5 50.5h0m50.5-5.5h0m-7-7h0m-34 14h0m2 6.5h0m-15-25h0m55.5-29.5h0m-16.5 62.5h0m-14-9.5h0m28.5 26h0m-46.5-65h0m-3 39.5h0m23.5 30.5h0m-31-45h0m53 35.5h0m-14.5-15h0m-22.5 8.5h0m4-108.5h0m0 101h0m-2.5-11.5h0m29.5-90.5h0m-173.5 427h0m-9.5 46h0m-3.5 28h0m-19-29h0m-12.5 6h0m20.5 13h0m-19-97.5h0m204 122.5h0m-13-9h0m2.5-5h0m-4.5 13h0m-6 1.5h0m-7-1h0m13-7.5h0m17.5-1.5h0m-16 0h0m-8.5 8.5h0m0.5 1.5h0m-9.5-1h0m40 1.5h0m-1.5-2h0m8-3h0m-30.5 3h0m-12 0.5h0m30-1.5h0m-22.5 0h0m-5.5 0h0m8.5 1h0m33 1h0m-58.5-0.5h0m2.5-1.5h0m52.5-1.5h0m-3.5-33h0m4 34.5h0m-56.5 2.5h0m31-0.5h0m-6-1.5h0m20.5-2h0m-11.5-31h0m22 27h0m-4 4h0m-4.5 0h0m-17.5-8.5h0m26 12.5h0m-28.5-8.5h0m-12.5 1.5h0m1.5 1h0m10.5 5.5h0m-5.5 0h0m-1-2.5h0m32.5-40h0m4.5 43h0m-36.5-6h0m16 6h0m-24-3h0m33.5 1.5h0m-39.5 1.5h0m16-6h0m21.5 6h0m-29-1.5h0m3-5.5h0m40 6.5h0m-38.5-0.5h0m1.5-24h0m-15 22.5h0m52.5-13h0m-24.5 13h0m10.5 2h0m-30-21h0m33 21h0m-36-3.5h0m48 0.5h0m-46-2.5h0m-165 178h0m38.5 108h0m3-144h0m2 151h0m-24.5-194.5h0m-16 22h0m23.5 180h0m148.5-101h0m-8.5-29h0m-2 0h0m9-57.5h0m-12.5 21.5h0m42-21.5h0m-2.5 50.5h0m-16-14.5h0m-24-36h0m38 7.5h0m-0.5 7h0m-42.5 0h0m13 14.5h0m41.5 36h0m-38.5-72h0m-8.5-7.5h0m14 36h0m36-14h0m-56.5 64.5h0m27.5-21.5h0m17.5-21.5h0m-38-36h0m6.5 7h0m34 65h0m-22.5-43.5h0m15 36h0m-19.5-28.5h0m-20-14.5h0m32 0h0m22 0h0m-22-7h0m-27-7.5h0m41 29h0m-44 28.5h0m-1.5-21.5h0m8 0h0m4.5 0h0m17.5-14.5h0m0.5-14h0m-7 7h0m20 21.5h0m-25 29h0m-4-36h0m39.5-14.5h0m2.5 7h0m-44 7.5h0m11 0h0m-7 0h0m2-21.5h0m-12 50h0m16.5-28.5h0m34.5-14.5h0m-1.5 7h0m-13-14h0m-37.5-7.5h0m3 57.5h0m11.5-50h0m24.5 50h0m-23.5-36h0m-1.5-21.5h0m-4 36h0m31.5 21.5h0m10-50h0m-23 43h0m11-57.5h0m-35.5 7h0m-179 522.5h0m27 114h0m16.5 35h0m-41-29.5h0m53.5 17h0m-32-32h0m-16-254h0m211.5 254.5h0m-14-5.5h0m-14 42.5h0m-15-46.5h0m-8.5 24.5h0m42 4h0m-41.5 10.5h0m38.5-34h0m-29.5 45h0m2.5-22h0m-11-21h0m7 3.5h0m-5.5 22.5h0m0.5-34.5h0m14.5 9h0m18.5 2h0m-36-25.5h0m49.5 32h0m-25.5 13.5h0m16-6h0m-2 2h0m-7.5-51.5h0m5 32.5h0m-6.5 34.5h0m-15.5-65h0m37 42h0m-12-9.5h0m-3.5 30.5h0m-15-23.5h0m-18 26.5h0m52.5-49h0m-34.5-25h0m31 28h0m-45 20.5h0m48.5-20.5h0m-10.5 52h0m-44.5-78h0m14.5 49.5h0m13.5 8h0m5-1h0m-23.5-94h0m31.5 54.5h0m-37.5 2.5h0m7-6h0m12.5 5h0m-26-18.5h0m36 33.5h0m2.5 50h0m-1.5-25.5h0m4.5 19.5h0m5-199h0m-4 180.5h0m3 15.5h0m-3 2h0m-25.5-6h0m-17-27h0m1-6h0m35-38.5h0m-36.5 54.5h0m58-17.5h0m-52.5-31.5h0m10 48h0m39 11.5h0m4 3h0m-17.5-64.5h0m-24.5 37.5h0m-157 375h0m-12.5-66.5h0m-2.5 31h0m34.5-70h0m-22 83h0m10.5-84h0m-3.5 79.5h0m183.5-0.5h0m4 30.5h0m-12.5 26h0m-29.5-12h0m45.5-3h0m-7.5-7.5h0m-22.5-19.5h0m26-88.5h0m-17.5 74h0m-12-116h0m-8.5 11h0m27 136.5h0m-34.5-28.5h0m2 42.5h0m14 32h0m21-50h0m4.5-33.5h0m-45.5 28h0m56.5-6.5h0m-55-150h0m25 175.5h0m1.5-17.5h0m19.5 31.5h0m-46.5-175h0m21.5 121.5h0m-3-11h0m-20 34h0m35-110h0m16.5 49.5h0m-55-67.5h0m59 97h0m-36.5 9.5h0m-14.5-32h0m5-47.5h0m36 78h0m-20.5-10h0m-24.5 39h0m19-25.5h0m35.5-38h0m-46 12.5h0m14.5 52.5h0m7-120h0m-29.5 5h0m17 88.5h0m7.5-66h0m20.5 85.5h0m-21.5 8h0m20.5-47.5h0m-12 0.5h0m-16.5 31.5h0m17-9.5h0m17-43h0m-42.5-9.5h0m16 80h0m-9.5-10.5h0m32-55.5h0m-6.5-44.5h0m-1 60.5h0m8-69h0m-3 142h0m-17.5-70h0m22 27.5h0m-13-191h0m4.5 233h0m11-120h0m-51 48.5h0" stroke="#000" stroke-opacity="0.27" stroke-width="6.3" stroke-linecap="round" fill="none"/>
<path d="M1643 424.5h0m-50 0.5h0m53.5 0h0m-52.5 0.5h0m28.5-0.5h0m-24.5-1h0m42.5-1h0m127-4h0m5.5-7.5h0m-12-14h0m40.5-14.5h0m-24.5-13.5h0m6 34.5h0m9.5 12.5h0m5.5-20h0m-27 4.5h0m47.5-39.5h0m-14.5-24.5h0m15 70.5h0m-34-1.5h0m-11.5-24h0m14.5 24h0m14-11.5h0m-42 1.5h0m51-101.5h0m-41.5 87h0m-10 11h0m43-89.5h0m-20.5-12.5h0m-21.5 110.5h0m30.5 4h0m4-40h0m9.5 35.5h0m-11.5 1h0m-26-38.5h0m26.5 34.5h0m6.5-24.5h0m-23 15h0m6.5-4.5h0m-4 22.5h0m36.5-1h0m-17-11.5h0m-35.5 29h0m39-33.5h0m8.5 22.5h0m-6-15h0m-31-27h0m-3 21.5h0m43.5-39.5h0m-43.5 47h0m4.5 17h0m16-20h0m-15.5 3h0m12.5 19.5h0m5-13h0m11-58h0m-23.5 47.5h0m-9.5-1.5h0m16.5 26h0m-20-23h0m7 8.5h0m28.5-19h0m-15.5-40.5h0m11.5 70h0m-20-13.5h0m34-45h0m5-16.5h0m-41.5 14h0m21.5 67h0m-5 2h0m8-24h0m15-8.5h0m-28-60.5h0m-173 441.5h0m-31.5-24h0m35 8h0m2.5 3h0m-35 39.5h0m3-50.5h0m36-61.5h0m124.5 116h0m48.5-2.5h0m-24.5 5.5h0m-3-2h0m35-6h0m2.5-24h0m-12 32h0m-35.5 0h0m24.5 0h0m23.5-1h0m-2 1h0m-33-6.5h0m-7 4.5h0m-7.5-0.5h0m17.5-43h0m9 44.5h0m11-4h0m-36.5 3.5h0m24 1.5h0m-4.5-0.5h0m-17.5-2.5h0m19.5 3h0m22.5 0h0m-36.5-4.5h0m-15.5-3.5h0m44 7.5h0m2-18.5h0m-9 17h0m-27-2h0m26.5 0.5h0m3 4h0m-29.5-4h0m21.5 2.5h0m-15-3h0m33 0h0m-47.5-17h0m32 20.5h0m10 0.5h0m2.5-2h0m-36 2h0m13-6.5h0m-14.5 6h0m27.5 1h0m1.5-2h0m13.5 1.5h0m-49 0h0m19-8h0m0.5 8h0m16.5-0.5h0m19.5-3.5h0m-53 4h0m13 0h0m3.5-0.5h0m7-4h0m25-11.5h0m-26 16h0m-10 0h0m18.5-14h0m-18 9h0m20 3.5h0m8-2.5h0m-12.5 0h0m20 4h0m-45-2.5h0m-0.5 2h0m27-7.5h0m-201.5 151h0m28-7h0m31.5 0h0m-56-7.5h0m39.5-28.5h0m-9 93.5h0m-29.5 129.5h0m194.5-230.5h0m7.5 14.5h0m-29.5 43.5h0m25-22h0m3 29h0m-23.5 65h0m33-101h0m-42.5 43h0m21.5-57.5h0m-6 21.5h0m4 14.5h0m-9-14.5h0m23.5 0h0m20 7.5h0m-44-29h0m36 86.5h0m-12.5-29h0m-38-36h0m28 0h0m2.5-7h0m8 50.5h0m-26-50.5h0m17.5 7h0m-8.5 36h0m3-43h0m-19.5 7h0m-4-21.5h0m14.5 7.5h0m3.5 28.5h0m20.5-21.5h0m7.5 50.5h0m10-50.5h0m-13 50.5h0m-7.5-43.5h0m-18 14.5h0m-11 21.5h0m25.5-28.5h0m17-14.5h0m-28 43h0m-19 29h0m46-29h0m-29.5-21.5h0m22-50.5h0m-8.5 79.5h0m-19-50.5h0m26 7h0m-18.5-7h0m20.5-14.5h0m-19 36h0m35.5-36h0m-19.5 14.5h0m-2.5 21.5h0m-27-36h0m9.5 14.5h0m18.5 21.5h0m-35-43h0m21.5 21.5h0m-4-14.5h0m0.5 21.5h0m29-7h0m-49.5-14.5h0m28.5 7.5h0m-16.5 28.5h0m-5.5 36h0m34.5-72h0m-22 29h0m-184 637.5h0m20.5-13.5h0m31 0.5h0m-6 8h0m-18.5-151.5h0m-13.5 84h0m20-234h0m143.5 256h0m-5 46h0m14-38h0m9.5-37h0m3.5 33h0m6.5 33.5h0m-0.5-39.5h0m-6 28h0m-28-12.5h0m-7.5 17h0m54 18.5h0m-27-50h0m8-5h0m-10 4h0m-17 12.5h0m36.5 7h0m-46-14h0m45 37.5h0m3.5-28h0m-3.5 6h0m-6.5-19h0m-11.5 27h0m23.5 24h0m9-31.5h0m-11 31h0m-33-28.5h0m8-0.5h0m8.5-4h0m-7 3h0m34-1.5h0m-3.5 13h0m-4-28.5h0m-4 46.5h0m3.5-68h0m-36 63h0m22.5-35h0m-27 1.5h0m16-42h0m10.5 27h0m-26.5-57.5h0m3 87.5h0m-4.5 3h0m-1.5-8h0m20.5-50.5h0m1.5 46h0m23-25h0m0 15h0m-29.5 36.5h0m33.5-5.5h0m-10-21h0m-18.5-2.5h0m1.5 25h0m14 1h0m-7-68h0m18 41.5h0m5.5-33.5h0m-28.5 65h0m-24-71.5h0m51.5 34h0m-41 11h0m-6.5 25.5h0m-4.5-27h0m38 8.5h0m-23.5-34h0m20 40h0m-20-1.5h0m-149.5 243.5h0m-9.5 108.5h0m-14.5-106.5h0m19.5 35h0m20.5-54h0m-53 82.5h0m32.5-198h0m154 199h0m0.5-59h0m23 116h0m0.5-38.5h0m-48-39.5h0m8.5-68h0m-6.5 108.5h0m18 1.5h0m32-133.5h0m-31.5 103h0m-2.5 77.5h0m4.5-82h0m-7 44h0m29.5 6.5h0m-43.5-181.5h0m7 163.5h0m51-42.5h0m-17.5 21h0m-4.5 30.5h0m-2.5-113h0m-16 90.5h0m9 25.5h0m21 32.5h0m-11-45h0m1-39h0m-39 41h0m55.5 39.5h0m-4-25.5h0m-41.5-24.5h0m4.5-3.5h0m28.5-13.5h0m-17 4.5h0m-11 24h0m-1.5 59.5h0m4.5-71h0m16 14.5h0m-27-8h0m18 18h0m33.5-51.5h0m-12.5 17.5h0m1-117h0m-1 140.5h0m-26.5 24.5h0m29.5 4h0m-31.5 35.5h0m34.5-60h0m-5.5-18.5h0m0.5 17h0m-17.5 43.5h0m5 21.5h0m13.5-57h0m2-54.5h0m-35.5 92h0m-5-161h0m36.5 123h0m-34.5-49.5h0m18 25h0m12 29.5h0m-39.5-51.5h0m9 43h0m30.5-51.5h0m-34.5 5.5h0m13 101.5h0m-17-66h0m39-98.5h0m-15 116.5h0" stroke="#000" stroke-opacity="0.27" stroke-width="6.3" stroke-linecap="round" fill="none"/>
<path d="M1634.5 425h0m-5.5 0.5h0m-15.5-1.5h0m26.5 1h0m-14.5-0.5h0m13-228.5h0m156.5 137.5h0m11.5 83h0m-37-29.5h0m-3-8.5h0m-1-138h0m30.5 155h0m9-13h0m-15 2.5h0m-23.5 32h0m4.5-17h0m23.5 18h0m1.5-105h0m18 93h0m-23 18h0m17.5-79.5h0m-47.5 39h0m-0.5-34h0m35 38h0m-15.5 26.5h0m12-56.5h0m-9 26h0m29-7h0m-25 13.5h0m28.5-16.5h0m0.5 29.5h0m-4.5-41h0m-40 17.5h0m-6.5 13.5h0m52 14.5h0m-59.5-40.5h0m44 27.5h0m3.5 8.5h0m10.5 1h0m-30.5 20.5h0m-17.5-25h0m-3.5-26h0m53 11.5h0m-29.5 12h0m7.5 18.5h0m23.5-38.5h0m-28 39h0m-14.5-39.5h0m23.5-17.5h0m-33-16.5h0m-6.5-18.5h0m3 47h0m3-36.5h0m0.5 77h0m31-18h0m-24 27.5h0m19-14h0m-18-63h0m44.5 19h0m-29.5 13h0m-22.5 43.5h0m-4-39h0m44 0h0m12-114h0m-37.5 132.5h0m35.5 25.5h0m-8.5-14.5h0m0 13.5h0m-42.5-22.5h0m0.5-33.5h0m17.5-36.5h0m-5 86.5h0m10.5-42.5h0m-150.5 407h0m0.5-56h0m-32 63.5h0m-19 9h0m30-51.5h0m8.5 21h0m123.5 9h0m8.5 23.5h0m47 0h0m-47 1.5h0m-8-0.5h0m55.5 0h0m-17.5-20h0m-1 22.5h0m-3.5-9h0m-30 9h0m17.5-11h0m1 9h0m-10 2.5h0m47.5 1h0m-26-17h0m16 7h0m-8 9h0m-32-3h0m13.5 0h0m24 2h0m-28-13.5h0m-8.5 0h0m42.5 12h0m6-11h0m-57.5 12.5h0m22 0h0m-1.5 1h0m-8.5 1h0m26-2h0m-21 1h0m38.5 0h0m-20-18h0m-24 18.5h0m24-0.5h0m-16.5-1h0m-13-2h0m50-5.5h0m-46 8.5h0m-8-3.5h0m43.5 2h0m-13.5 0.5h0m-10 0.5h0m-12-1h0m12.5 2h0m26.5-4.5h0m-28.5 3h0m-6.5 1h0m43-4.5h0m0-2.5h0m-24.5 1.5h0m-11.5 6h0m25-5h0m12-8h0m-48 6.5h0m40-9.5h0m-43-8.5h0m-10 22.5h0m51.5-2.5h0m-42.5 3.5h0m19.5-3h0m28.5 2.5h0m-53.5-32h0m6 33.5h0m26-4h0m9.5 4h0m-3 0h0m-25-1h0m-149.5 158.5h0m13.5 14.5h0m-17.5 14.5h0m33-50.5h0m-47 36h0m6-21.5h0m180 7h0m-30.5 57.5h0m15.5-79h0m38.5 28.5h0m-15.5-28.5h0m9.5 7h0m-50 14.5h0m25.5-21.5h0m17.5-14.5h0m-8.5 36h0m-10 14.5h0m29.5-7.5h0m-15.5-50h0m9.5 21.5h0m12.5 0h0m-0.5-29h0m-11.5 86.5h0m-25-86.5h0m-8 57.5h0m-10-50h0m19.5 50h0m-9.5 7.5h0m14-79.5h0m26 22h0m-53 43h0m16.5-29h0m9.5 43.5h0m-1.5-43.5h0m-21 0h0m3.5 0h0m2 65h0m-3-86.5h0m50 43.5h0m-54-22h0m8.5 0h0m31.5-7h0m-42.5 7h0m-0.5-21.5h0m36 7.5h0m6 43h0m-36-14.5h0m46.5-21.5h0m-40.5 0h0m8-21.5h0m1 21.5h0m-16.5 29h0m47.5-43.5h0m-14 14.5h0m4.5 7h0m-41.5-7h0m24.5 7h0m21 14.5h0m9.5-36h0m-46.5 43.5h0m42.5-36h0m-28.5 7h0m4-14.5h0m-7 36h0m19.5 7.5h0m-18-22h0m29.5 0h0m-32.5 0h0m11 0h0m29 36h0m-45.5-36h0m32 36h0m15 0h0m-198.5 542.5h0m5 71.5h0m-15.5-3.5h0m7.5-18.5h0m29 18.5h0m-3.5 1.5h0m140.5-29h0m14 21.5h0m8-33.5h0m-40.5 33h0m45.5-9h0m-51.5-64h0m36.5-3h0m-28.5 51h0m41.5-37.5h0m-45.5 42h0m16-9.5h0m-7.5 6.5h0m15-16.5h0m-4.5 12.5h0m13-27.5h0m-10.5 40.5h0m11.5 6.5h0m-18-27.5h0m26.5 41h0m4 4.5h0m-8.5-51.5h0m-8.5 43.5h0m-31.5-12h0m9-3.5h0m-8 9h0m24.5-31.5h0m-27.5 11h0m-2.5-10h0m48 0h0m-33 13.5h0m2.5-6.5h0m40.5 11.5h0m-41-41.5h0m5 55h0m-14.5-43h0m7 30.5h0m-12.5 0.5h0m24.5-28.5h0m-23.5 27.5h0m-0.5-46h0m11-11.5h0m14.5 38h0m-25.5-21h0m45 22.5h0m-37.5 5h0m7-29.5h0m8.5 43h0m2 23h0m-20.5-32.5h0m23.5-9h0m-18-45.5h0m-7 65.5h0m26-12h0m4.5-4h0m-10.5-6h0m-10 42.5h0m13-43h0m-26 29h0m-3-53.5h0m13 12h0m-3-47h0m5 24h0m7.5 40.5h0m25.5 32h0m-3-28h0m-21-12h0m-19.5-18h0m-118.5 246h0m-4 20.5h0m3 31.5h0m-49.5 7.5h0m54 110h0m-54.5-11h0m171.5-44.5h0m37.5-4h0m12 13.5h0m-25.5-14.5h0m7.5-34.5h0m-28 76h0m-1.5-115h0m1 24h0m47-69h0m-29 169h0m-20.5-11h0m16-54.5h0m12.5 45h0m14.5-36.5h0m-11 22h0m-31-114h0m-2 101h0m14-93h0m5 116.5h0m-7.5 19h0m7.5-25h0m-24 51.5h0m48-42h0m-30.5-29.5h0m-18 15.5h0m25.5-19h0m5.5 30h0m17.5-43.5h0m-52 26.5h0m35.5-14h0m-9.5-54h0m19.5 37.5h0m5 3.5h0m-45.5 0h0m44.5 65.5h0m-8-144.5h0m-30.5 110.5h0m-2.5-26.5h0m32.5-97h0m-24.5 151h0m23 29.5h0m-35.5-173h0m2 93.5h0m5 10h0m49 19.5h0m-9 10h0m-10 44.5h0m-7-22h0m-20.5 4.5h0m7.5-22.5h0m16 9h0m-11.5-157h0m13 134h0m20-86.5h0m-52 60.5h0m1-23h0m0 87h0m-7.5-137.5h0m50-40h0m-47.5 177.5h0m-1.5 1.5h0m34.5-154h0m15 84h0m-44 14.5h0m46 64.5h0m9-98h0m-16.5-8.5h0" stroke="#000" stroke-opacity="0.27" stroke-width="6.3" stroke-linecap="round" fill="none"/>
<path d="M1649 425.5h0m-31-0.5h0m7.5-1h0m-24.5 1h0m1.5 0.5h0m-11-171.5h0m222.5 146.5h0m-42.5 21.5h0m22 1.5h0m-2-44h0m-31-1h0m22.5-43.5h0m-9.5 58.5h0m14.5 25.5h0m-11.5-79h0m19 54.5h0m15.5 23.5h0m-13-40h0m11-5h0m-31 17h0m-9.5 11h0m19.5-10h0m20.5-9.5h0m-39-20h0m25.5-28.5h0m-16.5 90.5h0m-10-90.5h0m23 9.5h0m-12 66h0m-1.5 0.5h0m33-24.5h0m6.5-24h0m-6 25.5h0m-4 32.5h0m-31-20.5h0m42-25.5h0m-41 23h0m25.5 16.5h0m-9-35.5h0m-4 8.5h0m2 25.5h0m-14-31h0m39.5 9.5h0m-5 15h0m-10 15h0m-16.5-63h0m-24.5-84.5h0m33.5 122h0m-30.5-6.5h0m-5.5-36.5h0m53 30h0m-11.5 0.5h0m-12.5-59h0m4.5 55.5h0m4 43h0m14.5-27h0m-38.5 23.5h0m-2.5-22.5h0m26-2.5h0m23-64.5h0m-47.5 25h0m47 62.5h0m-44-30h0m21.5 16h0m9-27h0m-25 45.5h0m25-13.5h0m-22-18h0m-10 22h0m0-15.5h0m44.5 11.5h0m-45-18h0m8-29h0m-136.5 419h0m-40.5-14h0m1 9h0m35 6.5h0m-51.5-22.5h0m10.5 24h0m184.5 24h0m2.5-0.5h0m-24-0.5h0m4 0h0m-3.5-15h0m16.5 6h0m21 7h0m-47.5 2h0m1.5-21.5h0m-4 22h0m20.5 0.5h0m34-10h0m-40.5 6h0m-1 4h0m34.5-2.5h0m-21.5 0.5h0m-16.5-6.5h0m52 8.5h0m-27.5-5.5h0m-14.5 5h0m-1 0h0m39-10h0m-32.5 9.5h0m26.5-0.5h0m-5.5 1h0m-19.5-8.5h0m-6.5 7h0m13 1h0m13-2h0m-23.5-12h0m-18.5 14h0m55 0.5h0m-55.5-3h0m34 0.5h0m-31.5-1.5h0m5.5-9h0m3.5 10h0m16.5 2h0m-9.5-0.5h0m17-2h0m-3.5 4h0m-26-2.5h0m41.5 0h0m-23-5.5h0m-20.5 8h0m-6.5-2h0m21.5 1h0m-9 1.5h0m6-6h0m-4.5 5h0m11.5-8h0m-15.5 8.5h0m9-1.5h0m25.5 1h0m-9 0.5h0m-26-3h0m7-6.5h0m35.5 10h0m-26.5-4h0m32.5 3.5h0m-54.5-3h0m25.5 2.5h0m-10-10h0m22.5 10h0m9.5-7.5h0m-2.5 4.5h0m-2 2.5h0m-186 122.5h0m-8.5 7h0m36.5 14.5h0m0-50.5h0m0 14.5h0m-52.5 29h0m199.5 7h0m-30.5 0h0m53.5-28.5h0m-15.5 28.5h0m-28-14.5h0m27 43.5h0m-27-43.5h0m23.5 0h0m-11 7.5h0m-23-29h0m30.5 29h0m-4-21.5h0m-21 50h0m49.5-43h0m-54.5 7h0m6-28.5h0m7 36h0m22 14.5h0m-28.5-14.5h0m28-29h0m-15.5-14.5h0m-21.5 29h0m39.5 14.5h0m-1.5 0h0m-1 14.5h0m4-22h0m-14 36h0m17.5 7.5h0m-12 0h0m-21-36h0m34.5-14.5h0m12.5 108h0m-14-86.5h0m-40.5-28.5h0m28 28.5h0m-19.5-7h0m18 7h0m15 21.5h0m1.5-21.5h0m-22.5 0h0m1.5-28.5h0m-10 43h0m-14-36h0m50 21.5h0m-41 14.5h0m-0.5-14.5h0m13.5-14.5h0m23.5 43.5h0m-4.5-43.5h0m10 7.5h0m-3-14.5h0m8 14.5h0m0.5 28.5h0m-42.5-7h0m-16.5-36h0m3.5 43h0m55-28.5h0m-8 36h0m-7.5-50.5h0m5.5 29h0m-47 14h0m37 14.5h0m-5.5-7h0m-30.5-57.5h0m55 36h0m-42-50.5h0m-13.5 21.5h0m-166.5 595.5h0m21 53h0m13-5h0m-6 6.5h0m4.5-182.5h0m-14.5 107h0m184.5 54h0m10 26.5h0m5.5-45h0m-6.5 16h0m-12.5 27h0m9-19.5h0m-19.5-11.5h0m-22-26h0m6 53.5h0m43-20h0m-20-16.5h0m-2.5 17.5h0m-2-38.5h0m13 50.5h0m-15-28.5h0m-9.5 28h0m20.5-24.5h0m14 29h0m-27.5-27h0m0 21h0m33-22.5h0m-54 15h0m3 13h0m2-39h0m3.5 18h0m40.5-13h0m-42.5 9.5h0m21 18.5h0m-28.5-12h0m-0.5-9.5h0m45.5-38.5h0m-34 32.5h0m-3.5 10h0m34 6h0m-4.5-39h0m-38.5 63h0m37-2h0m12-73h0m-13-38.5h0m19 61h0m-54.5-4.5h0m51-10.5h0m-18 59.5h0m24.5-6h0m-47-12h0m37.5-76h0m-11 86.5h0m-29-17.5h0m33.5 21.5h0m13 6.5h0m-44.5-16.5h0m13.5-37.5h0m0.5 8h0m-14.5 42h0m37.5-6h0m-23.5-4.5h0m-22.5-12.5h0m44-3h0m1.5 22.5h0m-19.5 14h0m2.5-73h0m-10 49.5h0m2.5-60h0m-1-2h0m38.5 85.5h0m-31.5-16h0m-26.5-7h0m-117.5 271.5h0m-16 27h0m20 61.5h0m-3-96.5h0m-29-42.5h0m-22 91.5h0m182.5-20h0m20 1h0m-28 33.5h0m10 65h0m-15.5-25.5h0m20-60.5h0m11.5 35h0m-32-109h0m43.5-4.5h0m-46.5 107.5h0m34 37h0m-28-19h0m38-40h0m9 17.5h0m-50-110.5h0m53.5 137.5h0m-14.5-58h0m6 29h0m-21.5-96.5h0m-2.5 92.5h0m22.5-90.5h0m-14.5 161h0m-28.5 6.5h0m49.5-51h0m-34-44h0m26.5-98.5h0m-11 146h0m-25.5-25h0m0 2h0m-5-35h0m40.5-7h0m-9.5 15.5h0m10.5 30h0m-46 22h0m43.5-24h0m-42.5-152.5h0m47.5-21h0m-9.5 177h0m-19.5-21.5h0m-0.5-25.5h0m20.5 36.5h0m-26 35.5h0m0.5-89.5h0m-4 115.5h0m30.5-167.5h0m4 83h0m-9 47.5h0m-38-20.5h0m7 10.5h0m31 0.5h0m21-14h0m-51 20.5h0m6 19h0m-1.5 3.5h0m26-36.5h0m12.5 0.5h0m-44 48h0m49.5-148.5h0m0.5 57h0m-55.5-98h0m0 54.5h0m5.5-38h0m23 17h0m-15 104h0m-1.5-31h0m1.5 41h0m25-118h0" stroke="#000" stroke-opacity="0.27" stroke-width="6.3" stroke-linecap="round" fill="none"/>
<path d="M1607.5 424.5h0m22 0h0m15 0.5h0m-33.5-1h0m12.5 1h0m-21.5-128h0m213 103.5h0m-17-16h0m-25.5-48.5h0m1.5 70h0m12.5-50h0m-10.5 15h0m19.5-7h0m-28 54h0m44 0.5h0m-45-92.5h0m-5.5 45.5h0m39 15h0m-38-5h0m31 15h0m3.5-35.5h0m-15.5 63h0m-14.5-6.5h0m11.5-65h0m38.5 32.5h0m-59 24h0m45-23h0m-9 7h0m26 8.5h0m-53.5 9h0m6.5-0.5h0m10-4h0m-3.5-2h0m-16 18h0m21.5-12h0m24.5-77.5h0m-16.5 10h0m-16.5 52h0m32 15.5h0m-49-15h0m7-8h0m16.5-36h0m19 45.5h0m17 24h0m-23-23h0m17.5-0.5h0m-34-4.5h0m-2 3h0m25-148h0m-14 168h0m-9-18h0m4-6h0m-24 31.5h0m2.5-43.5h0m-1 28h0m39 11h0m-2.5-22h0m-27.5 6h0m11.5-32h0m-18 18h0m21.5 7.5h0m-26-29h0m35 5h0m-8.5-31h0m-27.5-16.5h0m0.5 35.5h0m42 41.5h0m-8-5.5h0m-31 19h0m3.5 5.5h0m47.5-95h0m-21.5 63.5h0m-31.5-15.5h0m-127 431.5h0m-7.5-26.5h0m-33-3h0m5-27.5h0m40.5 1.5h0m-23.5 51h0m177 1.5h0m-8 2.5h0m-32.5-1h0m58-7h0m3 7.5h0m-25.5 1h0m-13-0.5h0m11 0.5h0m12-1h0m9-0.5h0m-9 1h0m9.5-5h0m-28.5 2.5h0m-10.5 3h0m15 0.5h0m8.5-5h0m0.5 3.5h0m11.5-0.5h0m-42 1h0m33.5-2h0m-37 2.5h0m49-1.5h0m-15.5 1.5h0m-28.5-2.5h0m-4-16.5h0m30 14h0m17.5 5.5h0m-43.5-1h0m16 0h0m-11 0.5h0m9.5 0.5h0m-3-4h0m18 2h0m16.5 0.5h0m-18.5 1h0m-2.5 0h0m-12.5 0h0m-7.5-18.5h0m13.5 17.5h0m17.5 0h0m7-0.5h0m-6-2h0m-41.5 3.5h0m8.5-8.5h0m3 7.5h0m20 1h0m-22-24h0m40.5 23.5h0m-6.5-3h0m-14.5-3h0m-35.5-4h0m52.5 1h0m-9 8h0m-36.5 1h0m53.5-7.5h0m-12.5 0.5h0m5.5 5.5h0m-11 2h0m-41.5 0.5h0m30.5-4.5h0m-20 3h0m14 0.5h0m-0.5-3h0m27 1h0m1.5 0.5h0m-38.5-2.5h0m24 0.5h0m-163 161.5h0m16-43h0m-30 36h0m-7.5-65h0m13 65h0m1.5 36h0m178-22h0m14-28.5h0m-3-29h0m-37.5 57.5h0m24-72h0m-30 22h0m5 14h0m30.5-21.5h0m-8 36h0m12.5-21.5h0m-23.5-7h0m-3 50h0m-19.5-21.5h0m-3.5-28.5h0m19.5 28.5h0m28.5-36h0m-13 29h0m-36.5-21.5h0m45 21.5h0m-32.5-7.5h0m37-21.5h0m5 21.5h0m-26 0h0m23-14h0m-10.5-7.5h0m-29 14.5h0m9-21.5h0m-0.5 57.5h0m-14.5-29h0m47.5-14h0m0.5 0h0m-52.5-14.5h0m42.5 14.5h0m-1-7.5h0m-23 14.5h0m14 57.5h0m-17-57.5h0m18 7h0m-11 22h0m-7.5-29h0m-4.5 0h0m11-21.5h0m11.5 57.5h0m0-14.5h0m1 0h0m11.5-7h0m11.5 28.5h0m-1-28.5h0m-21.5-7.5h0m-32 29h0m54.5-7h0m-10.5-36h0m-16 21.5h0m-8 7h0m16 50.5h0m-26.5-65h0m-5-7h0m15-7h0m15 7h0m18.5 7h0m0.5 0h0m-26 7.5h0m15.5 7h0m-2.5-21.5h0m-1 0h0m10.5-7h0m-51 14h0m-172 617.5h0m8-158.5h0m24.5 34.5h0m-5 147.5h0m8-6h0m-29-96.5h0m215.5 94h0m-6.5-27h0m-47 5h0m47.5 24h0m4-41h0m-39.5 26.5h0m11-6h0m32.5-59.5h0m-6.5 24h0m-35-2.5h0m28-5.5h0m-32 61.5h0m7.5-30h0m-8.5-30h0m43 35.5h0m-22.5 37h0m-16-10h0m9.5 16h0m-7.5-35.5h0m27.5 29h0m13-80.5h0m-49.5 71.5h0m6-14.5h0m11-29.5h0m-11.5 33.5h0m19.5-43h0m-3.5 63h0m28.5-29h0m-0.5 3.5h0m-22 19h0m-4-75h0m15 80h0m-23-22.5h0m18-2.5h0m-1-48.5h0m-37 33h0m45.5 45.5h0m-13.5-70.5h0m5.5 52h0m14.5 17.5h0m-22.5-30.5h0m-28 32.5h0m54.5-59.5h0m-56.5 48.5h0m3-29h0m47 14h0m-7.5 4h0m-17-16h0m15.5 22h0m1-34h0m-36.5 16.5h0m-3.5 1.5h0m21.5-7.5h0m-14 19.5h0m36-6h0m-15 23.5h0m-29.5-28h0m40-14.5h0m12-3h0m-30 6h0m-24-40.5h0m30 59h0m5.5-0.5h0m0 21h0m-19-19h0m5 18.5h0m19-7.5h0m-169.5 328.5h0m13.5 43.5h0m-14.5-148.5h0m-15 164h0m8-282.5h0m15.5 95h0m146.5 162h0m-18-105.5h0m28.5-27.5h0m-4.5 49.5h0m-17.5 8h0m-4.5 52.5h0m-5-41h0m31-88.5h0m5.5 163h0m-26.5-67h0m-19.5 66h0m20-122h0m35.5 88h0m-9-19.5h0m-3-37h0m-30-94h0m8 165.5h0m-12.5-49h0m48-120.5h0m-23.5 153.5h0m-21-9h0m43.5-49h0m-48.5 26.5h0m50.5-142.5h0m-10 164h0m-20.5 39h0m26.5-134h0m-33 144h0m13-49.5h0m-25.5-85h0m6 40.5h0m-4 7.5h0m35 25.5h0m0.5-59h0m-42-33.5h0m34.5 28.5h0m-27.5-100.5h0m26 192h0m-1.5-26h0m-19.5 26h0m36-156h0m-25 68.5h0m23.5 49h0m-51-95h0m30.5 0h0m13 165.5h0m-27.5-162h0m-12.5 141h0m32.5-8h0m-11 26.5h0m7.5 18h0m-1-22h0m-2-43h0m11-25.5h0m-6.5 83h0m23.5-92.5h0m-24 35h0m-22.5-23.5h0m-6.5 66.5h0m38.5-26h0m-2-60.5h0m-26-65.5h0m5.5 106h0m3.5-42.5h0m32 16.5h0m-7.5-7h0m-15.5 42.5h0" stroke="#000" stroke-opacity="0.27" stroke-width="6.3" stroke-linecap="round" fill="none"/>
<path d="M1600.5 425.5h0m30.5-1h0m8.5 0h0m-0.5 0h0m-17.5 0.5h0m-17-126h0m192.5 29.5h0m8.5 58.5h0m-28-29h0m24.5-34.5h0m-43.5 95h0m46.5 2.5h0m-34-35h0m25-10h0m19 42h0m2-82.5h0m-53.5-1h0m25 39h0m-16 33.5h0m24-47.5h0m-1 34h0m-5.5-138h0m-22.5 151h0m-9.5-26.5h0m55 3.5h0m-55.5 6.5h0m35.5-4h0m18-29h0m-51-28.5h0m45.5 77.5h0m-14-71h0m6 53.5h0m-11-6.5h0m5.5-159h0m-6 161.5h0m-5 38.5h0m-14.5-16.5h0m19-17h0m-24 0.5h0m2 15.5h0m40.5 9h0m-17.5-56.5h0m0 43h0m-1.5 18.5h0m-5.5-49.5h0m2.5 8.5h0m-7-71h0m23.5 99h0m2.5 13h0m-17.5-9.5h0m-21-1h0m-2 10.5h0m50.5-40.5h0m-25-8h0m-16.5 20h0m43 13h0m-1.5-3.5h0m-49-25h0m0.5 20.5h0m48-21h0m-27-2h0m-23 9h0m2.5 3.5h0m27.5 34.5h0m-3.5-128h0m16 0.5h0m-11.5 107h0m-2 20h0m4-33.5h0m-34.5 26h0m42-66.5h0m-2 32.5h0m9-22h0m-203 444h0m-17.5-22h0m38.5 13h0m-18 4.5h0m34-58.5h0m-9-244h0m171.5 309h0m-3-9h0m2-7h0m-14.5 16h0m20.5 2h0m-55.5 1h0m31.5 0h0m25.5-1h0m-12.5-5h0m-22.5 1.5h0m-12-2h0m17.5 4h0m-24.5-1h0m24.5 2.5h0m-14-0.5h0m41.5-6h0m-8.5-5.5h0m-40.5 11.5h0m-7 0.5h0m42-0.5h0m-14-0.5h0m-12 1h0m10.5-2h0m9 2.5h0m-10 0.5h0m-22.5-1h0m20.5-2h0m-12.5 2.5h0m42.5-11h0m-40 11.5h0m27.5-4h0m-27-1h0m33 3.5h0m10 2h0m-56-4h0m17 3.5h0m28.5-19h0m6.5 14.5h0m-46 4.5h0m16 0h0m24-16.5h0m-18 12.5h0m-14.5 4h0m-9-0.5h0m4-2.5h0m22-0.5h0m-22 3.5h0m-12-8h0m17.5 4.5h0m23-1.5h0m-36.5 4.5h0m42.5-7h0m-25 7.5h0m6.5 0h0m19.5-4h0m-13 4h0m25-2h0m-39.5 1.5h0m39.5 0h0m-46-33.5h0m32.5 27.5h0m-2-18h0m-36 17h0m-2.5 7.5h0m25.5 0h0m-29-3h0m5.5-50h0m-141 138.5h0m-16.5 36h0m13.5 57.5h0m1.5-64.5h0m-28.5 144h0m52.5-50.5h0m124-65h0m47.5-50.5h0m-18 29h0m6.5 36h0m-22 14.5h0m27-43.5h0m-45.5 7.5h0m14.5-7.5h0m24.5 0h0m-16.5 29h0m12.5-65h0m-39.5 7.5h0m19 57.5h0m4.5-36h0m29.5 36h0m-52-43h0m22 50h0m-21.5 0h0m9.5-28.5h0m-5-36h0m3 36h0m15-7.5h0m7-7h0m-10 21.5h0m23.5-28.5h0m-32 14h0m17.5 7.5h0m11-14.5h0m-7 21.5h0m-26.5-14.5h0m27 14.5h0m3 0h0m-34-21.5h0m33.5 0h0m-13.5-7h0m-19 21.5h0m39.5 0h0m-19-14.5h0m31.5 7h0m-32 43.5h0m-26.5-65h0m28.5 7.5h0m-0.5 21.5h0m-24.5 0h0m48.5-21.5h0m-2 7h0m-27.5 7h0m17-7h0m18 0h0m-21 0h0m-19 14.5h0m40 28.5h0m-39-7h0m42.5-43h0m-58.5 0h0m38 7h0m-10.5 0h0m-3 7h0m-10.5-14h0m-9.5-7.5h0m26 7.5h0m-30 0h0m15.5 50h0m25-14h0m-10.5-14.5h0m-16-29h0m35 29h0m-197.5 632.5h0m36.5-48.5h0m-36.5 31h0m30-4.5h0m-18.5 3.5h0m-17.5 11h0m177.5 7h0m0.5-12.5h0m21.5-4h0m-47.5 23h0m18.5-104.5h0m-10 97h0m42-37.5h0m-52 6.5h0m30 20.5h0m6-20h0m-9 35h0m3.5-21h0m20-38.5h0m-1.5 54h0m-48-3.5h0m48.5 16.5h0m-21.5-17h0m32.5-27.5h0m-45.5 2.5h0m-10.5 16.5h0m18.5-12.5h0m-6.5 15h0m18.5-41h0m-5 13.5h0m-12 36h0m30-42h0m-14 6.5h0m15.5 34.5h0m-2.5-0.5h0m-34-125h0m37 46.5h0m-28 70.5h0m1.5 8.5h0m21.5-0.5h0m-41.5-61h0m35 9.5h0m-16 23.5h0m18.5 33h0m-41-31h0m24 33h0m31.5-19h0m4-21h0m-34 7h0m28.5 3h0m-21-9h0m-32 38.5h0m56.5-27h0m-44.5-14.5h0m-6.5 9h0m27.5 4h0m-23 6h0m23.5-5h0m20.5 24.5h0m-21.5-38.5h0m-18.5 42h0m-3.5-127.5h0m-3.5 122h0m39-15.5h0m-46 2.5h0m54.5 14.5h0m-24-22h0m1.5 0h0m-23 22h0m29.5-27.5h0m20 34h0m-52 2.5h0m37-8h0m-168.5 227.5h0m12.5 82h0m-28 41.5h0m-25.5-87h0m15 64.5h0m37.5-80.5h0m170.5 122h0m-41.5-93.5h0m14.5 6h0m-5.5-1h0m-7-86.5h0m-8.5 141h0m2.5 26h0m6.5-148h0m0.5 170.5h0m-0.5-233h0m25.5 156.5h0m-35 6.5h0m-10-42h0m4-7h0m26 46.5h0m-3-1h0m9-12h0m13.5 40.5h0m-15.5-112h0m-27 159.5h0m30.5-72.5h0m18 0h0m-27.5 4h0m-12.5 12.5h0m8 2.5h0m-23.5-32.5h0m47.5-80.5h0m-13 54h0m-32 62h0m2-26.5h0m51 11.5h0m-57.5 4h0m11.5-48.5h0m1.5-59h0m10 102.5h0m12.5-82h0m-6.5 125.5h0m-15.5 7.5h0m30.5-65.5h0m15-17.5h0m-35 9h0m-13.5-9.5h0m40 84.5h0m-34.5-80.5h0m-6.5 58h0m42-17.5h0m-2-33h0m-7.5 5h0m11.5-26.5h0m-43 25.5h0m9.5 10.5h0m15-2h0m-24.5-12h0m9.5 18.5h0m13.5 19.5h0m27-12h0m-62 12h0m34.5-19.5h0m-10.5-30h0m29 79h0m-50.5-11h0m54-53h0m-15.5 7.5h0m8.5-34h0m-21 22h0m-16.5-21.5h0m-0.5-90.5h0" stroke="#000" stroke-opacity="0.27" stroke-width="6.3" stroke-linecap="round" fill="none"/>
<path d="M1618 425h0m22.5-0.5h0m8 0.5h0m-49.5 0h0m28.5-0.5h0m5.5-102.5h0m128.5 85.5h0m39-24.5h0m-39-9h0m41 2.5h0m-40.5 4.5h0m23.5-114.5h0m-3.5-70h0m30.5 188h0m-39.5-1h0m5.5 21.5h0m-20 13h0m24.5-60h0m34.5 52h0m-59-37h0m57-43h0m-55 28.5h0m-1 53.5h0m53 0h0m-19.5-28h0m-35.5 29.5h0m41.5-21h0m0.5 14.5h0m-17.5-72h0m-18 41.5h0m13-106h0m3.5 136.5h0m-10.5 10.5h0m-6.5-50h0m29 44h0m-25.5-11.5h0m-7 2h0m19.5 9.5h0m-7-31.5h0m33.5 8.5h0m-18.5 31h0m-3-4.5h0m19-56.5h0m-4.5-22.5h0m-20.5 64.5h0m-20.5-2.5h0m50 9h0m5.5-26h0m-36-39.5h0m2.5 54h0m-0.5-152.5h0m-14.5 150.5h0m34.5-3.5h0m-37 14.5h0m21.5-20.5h0m-5.5 32h0m23.5-27h0m-12 29h0m-31.5-26.5h0m-1 4h0m37-3h0m13.5-58h0m-35.5 42.5h0m28.5-0.5h0m-12-54.5h0m9.5 28.5h0m-26 22h0m7.5-42h0m13.5 54.5h0m-3.5 26h0m19.5-72.5h0m6-40h0m-34 59.5h0m-182.5 444h0m-11.5-61h0m18.5 42h0m-19 18.5h0m5-28h0m28-251.5h0m190 280h0m-58.5-3h0m58.5 6h0m-27-3h0m-12 2.5h0m34.5 0h0m-12-1.5h0m-3.5 2.5h0m-27.5-4.5h0m32-42h0m2 45.5h0m10-9h0m-41.5 10h0m19.5-2h0m2-8h0m-33.5 7.5h0m22 2h0m-25.5-1.5h0m12 1h0m36-4.5h0m-1.5-8h0m-27 9h0m24.5 2h0m-32-16h0m-3.5 17.5h0m33-3.5h0m-36.5 4h0m34-5.5h0m3 4h0m-30.5-8.5h0m37.5 2.5h0m-10.5 5h0m-22 2h0m24.5 0.5h0m0.5-9.5h0m-23 1h0m40 8.5h0m-9-1.5h0m-21-11h0m11 11h0m-11-1h0m19 2h0m5-2.5h0m-46-13.5h0m25 16h0m-13-2h0m-1 1.5h0m33-0.5h0m-6.5-29.5h0m-28 28h0m41.5-1h0m-4 3h0m-5.5-37.5h0m-1.5 38h0m14.5-1.5h0m-60.5 2h0m30-0.5h0m27 0.5h0m-19.5-3.5h0m-8.5-3.5h0m8.5 5h0m17-0.5h0m-37.5-3h0m11.5 3h0m10.5-2h0m-8 0.5h0m-23 1h0m-168 175h0m57-21.5h0m-45.5 0h0m-15.5-29h0m20-7h0m21 14h0m170-7h0m-19.5 14.5h0m20-14.5h0m-14.5 7h0m-18.5-7h0m2.5 7h0m22.5 22h0m10.5 14h0m-42.5-43h0m18 36h0m2-21.5h0m-15.5 0h0m34.5 21.5h0m-6.5-43h0m9.5 14h0m-32 43.5h0m-10-65h0m46.5 57.5h0m-44.5-36h0m15.5-28.5h0m-5 7h0m16.5 0h0m3.5-7h0m6.5 36h0m-5.5-7.5h0m-15 7.5h0m-5 21.5h0m-13-65h0m18 36h0m-17.5 22h0m53 21.5h0m-12-29h0m1 0h0m3.5 7.5h0m-29.5 43h0m5-21.5h0m20-43.5h0m-37 0h0m32.5 43.5h0m-11-65h0m20.5 29h0m-34.5-29h0m16.5 29h0m-11 14.5h0m17.5-29h0m-40-14.5h0m-0.5 21.5h0m44-14h0m3.5 72h0m-2.5-79.5h0m-41.5 21.5h0m43.5 0h0m-43-7h0m28-7h0m-24.5 14h0m-7.5 43.5h0m31.5-65h0m-20 21.5h0m17 0h0m8 14.5h0m-20-28.5h0m22.5 50h0m-23 0h0m-5-43h0m32.5 0h0m-30 93.5h0m23.5-93.5h0m-174 610.5h0m25.5-3.5h0m-30-216.5h0m-5.5 190.5h0m33.5 68.5h0m-23.5-7h0m167-35h0m-28.5 21.5h0m28.5-46h0m-31 0h0m4.5 6h0m-2.5 22h0m46.5-84.5h0m-33.5 92.5h0m43.5 4.5h0m-12-16h0m-45 15.5h0m6-9.5h0m27-2h0m-10 42h0m27.5-54h0m5.5-31.5h0m-30.5 50.5h0m-24-21.5h0m12.5 29.5h0m15-4h0m-27 33.5h0m8.5-15.5h0m-8-58h0m25.5 52.5h0m24.5-12.5h0m-18.5 28.5h0m-19.5-20.5h0m-8.5 10.5h0m35 8.5h0m-16.5 1.5h0m29.5 1h0m-12-37.5h0m-16.5-20.5h0m-16.5 27h0m46.5 24h0m-56-28h0m36 9h0m-4.5 27.5h0m27-43.5h0m-52-19h0m43.5-4h0m-12 39h0m6.5 23.5h0m-31.5-13h0m34-58.5h0m-12 48.5h0m-22-19h0m44.5 16.5h0m-25-5h0m-6.5-45h0m24.5 68h0m0-50.5h0m6 60.5h0m-17.5-44.5h0m4.5 0.5h0m14 23h0m-54 26.5h0m25.5-24h0m-16.5 17.5h0m41.5-0.5h0m-0.5-15.5h0m-1.5-63.5h0m3 52.5h0m-38.5 5h0m25-14h0m-24.5-5.5h0m-14 44h0m-143.5 312.5h0m17.5 26h0m-45-131h0m33.5 30.5h0m16.5 14.5h0m3-155.5h0m169.5 281.5h0m-31.5-57h0m-12.5-27.5h0m20.5-13h0m-35.5 34.5h0m4.5-49.5h0m16 41h0m31-37.5h0m-9.5 96h0m-17.5-21h0m-22.5-13h0m18 6h0m5-8.5h0m15-57h0m5-81.5h0m10-37h0m-4.5 230h0m-9.5-23h0m14.5-129h0m4.5 78h0m-36-16h0m-13-36h0m11.5-54.5h0m-18.5 71.5h0m41-24h0m13.5 75h0m-34-28.5h0m20.5 26.5h0m-13 1h0m-8.5 39.5h0m0-180h0m-9.5 133h0m23-53.5h0m-14.5 86.5h0m36.5-44.5h0m-29.5-3.5h0m4 22.5h0m-8-115h0m33 41.5h0m-29.5 50.5h0m26.5-3h0m-6.5-62h0m-10.5 87h0m-28-22h0m37-88.5h0m-4.5 130h0m-0.5 4h0m-33.5-102h0m11.5 50h0m7 29.5h0m-17-33h0m3.5-28.5h0m-4.5 32h0m3.5-2.5h0m-8.5 27h0m6.5-49h0m-2.5 54h0m9-146.5h0m-4 178h0m-3.5-62h0m35 11h0m-2.5-44.5h0m-27 79.5h0m-15-35.5h0m50.5-102.5h0m-31.5 179h0m20-13h0" stroke="#000" stroke-opacity="0.27" stroke-width="6.3" stroke-linecap="round" fill="none"/>
<path d="M1607.5 425h0m42-0.5h0m-30.5 0.5h0m-19.5 0.5h0m-7.5 0h0m18-99.5h0m188.5-149h0m-9 236h0m-29-69.5h0m16.5 55.5h0m4.5-30.5h0m5-45h0m32.5-4.5h0m-20.5 60h0m-30 10h0m16 8.5h0m16-19h0m-19 14.5h0m9.5 9.5h0m-20-22h0m-11 37h0m-1-9h0m0 6.5h0m34.5-48.5h0m19 37.5h0m-35-8.5h0m40-62.5h0m0 38h0m-55.5 38h0m-2.5-48h0m8 61h0m15.5-39.5h0m-7.5-29h0m-12.5 18.5h0m11.5 36.5h0m34-13h0m-27 3h0m5-22h0m16-60h0m-10.5 61h0m11 42h0m-8.5-23.5h0m10.5-47h0m-6.5 52h0m-37-14h0m16 16h0m27.5-9h0m13.5-11h0m-13.5-9.5h0m11.5-27h0m-46.5 28h0m45.5 28h0m-8-5h0m-24.5-41.5h0m26.5 34.5h0m7-61h0m-45 77h0m-3.5-124h0m26 109.5h0m24-28.5h0m-44 16.5h0m0.5-51.5h0m-5.5 1h0m40.5 90h0m-43-91.5h0m-6.5 66h0m3.5-18h0m-5.5 37.5h0m43.5-30h0m1.5-12h0m11 40.5h0m-52-9h0m46.5 7.5h0m-187 309.5h0m-33.5 83h0m32-14h0m-9-11.5h0m31.5-23h0m-3.5-209.5h0m150.5 258.5h0m-1-29.5h0m-18 31h0m29-13.5h0m12 9h0m-15 2.5h0m-14 0.5h0m-14.5-23h0m9 22h0m28-10.5h0m4.5 12h0m0.5-7.5h0m-16 7.5h0m-11 0.5h0m-12.5-3.5h0m14 0.5h0m-18.5-7h0m34.5 8h0m-32.5-20.5h0m1-0.5h0m3.5 14.5h0m-2 5.5h0m24.5 1.5h0m-25.5 2h0m22.5-1h0m-34-1h0m33-0.5h0m-33-1h0m49.5-4h0m-51.5 3.5h0m32.5-0.5h0m18.5 4.5h0m-45.5 0h0m18.5-3.5h0m2.5 2.5h0m-33 1.5h0m23-5h0m-16.5-40h0m15.5 1h0m0 36h0m8.5 7h0m-1-3h0m-25.5 3h0m35.5-6.5h0m-23.5-49h0m41 33h0m-12 21h0m-38.5 2h0m47.5-8h0m-25 8h0m-17-3.5h0m23.5 3.5h0m-32 0.5h0m19-15.5h0m32 13.5h0m5 1h0m-27.5 0.5h0m-28 0h0m17-1h0m40.5 1h0m-33.5-1.5h0m-27.5-5h0m27.5 6.5h0m-26.5-1h0m20.5-0.5h0m9.5-1.5h0m-10 2h0m-158 158.5h0m-23.5-57.5h0m42 50.5h0m-34.5 0h0m47.5-14.5h0m-30-50.5h0m142 36h0m15.5 21.5h0m36-7h0m-12.5 0h0m-22.5-21.5h0m7.5 0h0m-12 28.5h0m38-7h0m4.5-7.5h0m-35.5-7h0m9 79h0m-27-79h0m-4 14.5h0m47-7.5h0m-33.5-14h0m0.5 0h0m6.5 14h0m7.5-7h0m27.5 36h0m-48 7h0m8-36h0m0.5 14.5h0m-4.5 21.5h0m47-14h0m-55-58h0m38.5 14.5h0m-33 7.5h0m35 79h0m-38.5-86.5h0m18 14.5h0m17.5-7h0m3-7.5h0m5.5 21.5h0m-2.5-21.5h0m9 29h0m-16 28.5h0m-20.5-36h0m-12.5 58h0m44.5-65h0m-11.5-14.5h0m-13.5 7.5h0m-10-7.5h0m42 21.5h0m-49-7h0m-2.5 14.5h0m4.5 14.5h0m1-22h0m-7.5 36h0m19-50h0m37 7h0m-21.5-29h0m8.5 36h0m-33-14h0m-5-7.5h0m36.5 21.5h0m-26.5 36h0m33-43h0m-51.5 14.5h0m23-7.5h0m-3.5 14.5h0m9 0h0m22 29h0m5.5-21.5h0m-54.5-7.5h0m8-14.5h0m43.5-7h0m-26.5 57.5h0m-163 573.5h0m-14-4.5h0m18.5 15h0m1-81h0m-9.5 54.5h0m7.5-14h0m173.5-13.5h0m-6.5 22.5h0m-17 5.5h0m-1.5-30.5h0m14.5-17.5h0m-33.5 42.5h0m35 26.5h0m-11.5-6h0m-3.5-18.5h0m-9 10.5h0m26.5-36h0m-33 40.5h0m-3-1.5h0m51 2h0m-51.5-32.5h0m1.5 13h0m56 34h0m-46-22h0m21.5 16h0m-8.5 3.5h0m33-55.5h0m-4.5 49h0m-47 12.5h0m45-112.5h0m-38.5 74.5h0m3-35.5h0m40-18h0m-1 86h0m-23.5-16.5h0m-31.5 17h0m38.5 5.5h0m-6.5-27h0m-20-34h0m13.5 37.5h0m26 4h0m-23.5 26.5h0m-13.5-36.5h0m27 28h0m-4.5-10.5h0m-35-12.5h0m15.5 0h0m24 1.5h0m-35-13.5h0m26-5h0m-33.5 21h0m0.5-17.5h0m9.5 4.5h0m38 41.5h0m-6-108h0m-34.5 69h0m51.5-20.5h0m-20.5 47.5h0m13.5 12h0m-40-17h0m26.5-9.5h0m-28-15h0m-1 2.5h0m-9 7.5h0m50-11h0m-28-12.5h0m22 45.5h0m-40-36h0m56 27h0m-41-99h0m1.5 82.5h0m0.5 34.5h0m-4-42.5h0m-148 181.5h0m-30 43h0m-5.5 77h0m37.5 32.5h0m-25.5 0.5h0m20 4.5h0m169.5 72h0m-3-31h0m-9-179.5h0m-24.5 49.5h0m57 136.5h0m-35-37h0m8 55.5h0m-16-4h0m-14-148.5h0m1.5-71h0m47.5 84h0m-3.5 107h0m4.5-9.5h0m-50.5 33h0m39.5-102.5h0m6.5 123.5h0m-5.5-74.5h0m-21 24.5h0m-9.5-25h0m9 10h0m-4.5 11.5h0m25 21h0m-29.5-34h0m7.5-12.5h0m20-24.5h0m-22 33.5h0m39.5-6h0m1-20h0m-56 26.5h0m59 27.5h0m-9.5-83h0m-44 2.5h0m-3-41h0m52.5 6h0m-42.5 99.5h0m30.5-136.5h0m2.5 133.5h0m-1 12.5h0m6.5-57h0m-52.5-2.5h0m32.5 87h0m-11.5-215.5h0m35.5 156.5h0m-29.5 34.5h0m-14.5-163h0m22.5 125.5h0m-28 49.5h0m-4-25h0m16-16h0m2 54.5h0m23.5-103h0m-35.5 49h0m37 31.5h0m-25.5-14h0m28-19h0m-41-19.5h0m-6 0h0m14 27.5h0m0.5 34.5h0m1.5-3.5h0m-15.5-11h0m43 7.5h0m7-67.5h0m-14 47.5h0m-26.5-11h0m45-82h0m5 57.5h0" stroke="#000" stroke-opacity="0.27" stroke-width="6.3" stroke-linecap="round" fill="none"/>
<path d="M1603.5 425.5h0m29 0h0m-2-0.5h0m-8.5-0.5h0m28.5 0.5h0m-38.5-95h0m152 7h0m13 73h0m2.5-31h0m25.5-2h0m-18.5 44h0m25.5-2h0m-42.5-47h0m5.5 24.5h0m-10.5-21.5h0m19.5 22h0m-16 16.5h0m20.5-20h0m0.5 17.5h0m9 1h0m-6-60h0m26 28h0m-6.5 14h0m-30-60.5h0m37.5-1.5h0m-44.5 51h0m-13.5 17h0m14-16.5h0m24.5-34h0m-2 47h0m6-6h0m-23.5-2.5h0m3.5 23h0m-0.5-4.5h0m22.5 1h0m12.5 10.5h0m-38.5-10.5h0m27-2h0m-28-8.5h0m9.5-12.5h0m-11.5 32h0m39-40.5h0m-26.5 26.5h0m11.5 16h0m-2 5.5h0m-19.5-91h0m21.5 40.5h0m12 13.5h0m-19.5 17.5h0m-16-24.5h0m7-8.5h0m26 20.5h0m-22.5-1.5h0m20.5-18.5h0m8-26h0m-22.5 53.5h0m-34.5-29h0m38-19.5h0m5 64.5h0m11.5 1h0m-18-32.5h0m-36.5-9h0m29.5-10.5h0m17.5 58h0m-3.5-78.5h0m2.5 55h0m-6.5-38h0m-24 47.5h0m9-41h0m-1 40.5h0m32.5-20.5h0m-37.5 4.5h0m-13.5-37h0m-173.5 367h0m41 53h0m2 16h0m9-25h0m-21 9.5h0m6-224.5h0m132 252.5h0m-5.5 1.5h0m33-3h0m14.5-19h0m-6 21h0m-30.5-7h0m31.5-1h0m9 1.5h0m-50.5 6.5h0m31.5-8h0m16 7.5h0m-52.5 1h0m6-39h0m22.5 39.5h0m12.5-1.5h0m-5-7.5h0m-21 9.5h0m-13-4.5h0m0 2.5h0m18.5-3h0m40-2.5h0m-39.5 7h0m23-2h0m4.5-2h0m11.5 3h0m-43.5 1h0m9-2.5h0m-25.5 2.5h0m49-0.5h0m-15 0h0m-17-25.5h0m26.5 25.5h0m-17-8h0m-19.5 4.5h0m9.5-0.5h0m10.5 2.5h0m0.5 1h0m12 0.5h0m-31.5-3.5h0m-7.5 0.5h0m48 0.5h0m-34.5 3h0m29-3.5h0m13 3.5h0m-1-45h0m-29.5 23.5h0m-18.5 21.5h0m10.5-39.5h0m43.5 35.5h0m-57 4h0m26.5-32.5h0m9 32h0m21-5.5h0m-47 4.5h0m6.5-5.5h0m-9 5h0m-4.5 1.5h0m54.5 0h0m-47.5-1.5h0m37.5 1.5h0m8.5-1.5h0m-6.5-67.5h0m3 69h0m-9.5-12h0m-14-7.5h0m5 20.5h0m-10.5-1h0m-185.5 129h0m40 173h0m-30.5-173h0m-12 0h0m14.5-36h0m34.5 22h0m122 14h0m12 0h0m21 0h0m-12-7h0m32 7h0m-1-7h0m-34.5-21.5h0m1 57.5h0m29.5 43h0m-46-86h0m21 0h0m6.5-14.5h0m-8 21.5h0m17.5 43h0m7.5-57.5h0m5.5 7.5h0m-54-14.5h0m6.5 36h0m35 36h0m-5-57.5h0m-15.5 14h0m34 29h0m-50-43h0m39 21.5h0m-42.5 36h0m16-36h0m15 21.5h0m1.5 0h0m-39 0h0m13-29h0m23-21.5h0m-21.5 21.5h0m5-7h0m6.5 7h0m-24 14.5h0m2-7h0m11.5-29h0m7.5 29h0m-14.5 0h0m53 0h0m-19.5 21.5h0m-11.5-50.5h0m27.5 29h0m-9.5-7.5h0m-48.5-7h0m41.5-14.5h0m1 36h0m-25.5-21.5h0m16.5-14.5h0m-21 0h0m19 0h0m-1.5 14.5h0m-15.5 36h0m32.5-36h0m6 0h0m-24 14.5h0m21 36h0m-32-50.5h0m36 7h0m-42.5-7h0m20.5 43h0m-29-36h0m19 43.5h0m27-14.5h0m-21-29h0m-26.5 14.5h0m58.5 43.5h0m-191.5 539h0m-23 8h0m26.5 29.5h0m-10-66h0m11 48h0m-16-196h0m161.5 130h0m6.5 53.5h0m28 12h0m-36.5 11.5h0m23.5-52h0m11.5 35h0m-54.5 4h0m43.5 32h0m-29.5-23h0m6-21.5h0m17.5 13h0m-25.5-49.5h0m-6.5 12h0m15 46.5h0m4.5-15h0m32 8h0m-36-2h0m39 16.5h0m-47-55h0m9 72.5h0m17.5-43h0m13.5 2h0m-25-5.5h0m-16 23.5h0m29 0.5h0m-35.5-15h0m30.5-2h0m-30-26h0m51 16.5h0m-10-18h0m-40 36.5h0m13-38h0m18 28h0m-14-27.5h0m36 44h0m-17.5 11.5h0m-13-19h0m17.5 19h0m-34.5-8h0m18-12.5h0m16 1h0m-4 6h0m-33-53h0m41 65.5h0m-1-7.5h0m-39.5-24.5h0m22 34.5h0m-14-20.5h0m-18 2.5h0m47.5 0h0m-10.5-11h0m-10.5 16.5h0m9.5-55.5h0m-4 42.5h0m-32-39h0m28.5 49h0m10.5-1h0m-5 15h0m-12.5-17h0m29.5 9.5h0m-33-17h0m-1 3.5h0m38-3.5h0m-35-98.5h0m3.5 84.5h0m32.5 13.5h0m-7.5 36h0m-174 242h0m-18.5 22h0m-14.5 37h0m47.5 57.5h0m-34-85.5h0m-7 2h0m201.5 76h0m-25.5-48.5h0m17 33.5h0m-5-2.5h0m-13.5-9.5h0m12.5-94.5h0m1.5 120.5h0m9.5-17h0m-34.5 31.5h0m13.5-152h0m30 9.5h0m4 119.5h0m-55.5-25h0m-1 21.5h0m4-31h0m38.5 27.5h0m-19-167h0m2 129.5h0m12.5-40.5h0m14.5 106.5h0m-21.5-92.5h0m21.5 75.5h0m-22-113h0m3-24h0m-24.5-31.5h0m-3 40.5h0m40.5 75.5h0m-31.5 20.5h0m6-7.5h0m-0.5-75.5h0m-18 40h0m12 48h0m13.5-93h0m-22-41h0m29.5 151.5h0m10.5-103h0m-21 68.5h0m0.5-177h0m26 185h0m-7.5 4.5h0m-27.5 28h0m-6-34.5h0m2-51h0m27.5 31.5h0m16 61.5h0m-43-178h0m35 0h0m-48 113.5h0m53.5 14h0m-31 4h0m12.5 30h0m-16-53h0m20.5 28.5h0m9-125.5h0m-38.5 93.5h0m19.5 20h0m11-32h0m12.5 48h0m-0.5-13h0m-10.5 3h0m9.5 20.5h0m-44.5-45h0m-9.5-32h0m43.5-111h0m-36.5 187h0m-9-54h0m2.5 0h0" stroke="#000" stroke-opacity="0.27" stroke-width="6.3" stroke-linecap="round" fill="none"/>
<path d="M1616 424.5h0m-13.5 0h0m0.5 0h0m32 0h0m-13 0h0m6.5-85h0m189.5 74.5h0m-44-5.5h0m16-14h0m7.5-11.5h0m-33.5-56h0m21.5 6h0m28.5 72.5h0m-6.5-16h0m-45 12h0m46-4.5h0m-34.5-26h0m12.5 42h0m-10-44h0m-6 43h0m10.5-4h0m-0.5-6h0m0.5 17h0m10-34.5h0m18.5-131h0m9.5 157.5h0m-55.5 9.5h0m42-87h0m-39 64.5h0m20-21.5h0m18-6h0m-7 51.5h0m-23-17.5h0m-7.5 0h0m11-14.5h0m-9.5-51.5h0m-9 83h0m14-4h0m-2-35h0m7-3h0m33.5-5.5h0m3 32.5h0m-41-11.5h0m6 15h0m-19.5-2h0m58.5-8h0m-25 10.5h0m20.5 11.5h0m-31.5-65h0m25.5-23.5h0m-13 64h0m16.5-80.5h0m2 83.5h0m-11-36h0m-9 52h0m-20.5-28h0m6.5 0.5h0m14.5 10.5h0m1 0.5h0m-10.5-29h0m1.5-79h0m-18.5 105h0m32 7h0m-27.5-21h0m0.5-57.5h0m-11.5 73h0m11-13.5h0m14.5-45.5h0m28.5 46.5h0m-2.5 37h0m-30-141h0m19 136h0m-18-17h0m-190.5 368h0m47.5 14h0m-53.5 18.5h0m7-42h0m-11.5 16.5h0m42.5-220h0m177.5 205h0m-6.5 41h0m-23-18h0m23 21h0m-45-0.5h0m50-7.5h0m-35-58h0m24.5 64.5h0m0 1h0m4.5-29.5h0m-43.5 29.5h0m34-0.5h0m16 0h0m-4 1h0m1-17.5h0m10.5 9.5h0m-22.5 4h0m4 3h0m19-0.5h0m-24.5-1.5h0m2.5 0h0m-14.5 1h0m23-1h0m10.5 3h0m-14-0.5h0m-24-10h0m-12 9.5h0m31-3h0m-21.5-6h0m10 6.5h0m-25.5-1h0m51.5 0.5h0m-35.5 1h0m12.5-45.5h0m10.5 44.5h0m21.5 3h0m-10 1h0m-12 0h0m-3.5-2.5h0m-4 2.5h0m3-1.5h0m-19.5 1h0m8.5 0.5h0m36.5-10h0m-48 6.5h0m20 0.5h0m-1.5 0.5h0m-5 2h0m9-0.5h0m6-6h0m3.5 5.5h0m-43 1h0m13.5 0.5h0m16.5-4h0m-21 2.5h0m-5.5-9h0m28 10h0m11.5-6.5h0m3.5-30.5h0m-29 38h0m-15-4.5h0m16 0.5h0m24 3.5h0m11 0h0m-48.5-1.5h0m40-5h0m2.5 6.5h0m-208.5 200.5h0m13.5-43h0m1 72h0m2-86.5h0m-14 0h0m-4.5 7.5h0m182.5-22h0m-14-7h0m6 14.5h0m45.5 7h0m-30.5 21.5h0m-1-50h0m11.5 14h0m-32.5-21.5h0m52.5 7.5h0m-1.5 28.5h0m7-21.5h0m-14.5 21.5h0m-27-28.5h0m-8.5-7.5h0m46 29h0m-13.5 21.5h0m-3.5 14.5h0m-4-57.5h0m-8.5 57.5h0m-14-29h0m13-36h0m28 29h0m-12-29h0m-33.5 21.5h0m21 43.5h0m-21.5-50.5h0m16.5-7h0m-24.5 7h0m11-14.5h0m20.5 14.5h0m19.5 72h0m-14.5-65h0m-16.5-7h0m17.5-7h0m-31 14h0m28.5-21.5h0m-5 36h0m-7.5-28.5h0m-10.5 21.5h0m9.5 0h0m38.5-7.5h0m-53.5-14h0m16.5 57.5h0m-20-50.5h0m54.5 36h0m-41-36h0m19.5 14.5h0m-32 0h0m54-7.5h0m-16.5-7h0m-16.5 0h0m-16 29h0m15.5-36h0m30.5 14h0m-10.5-21.5h0m-25 14.5h0m-4 7h0m26.5 14.5h0m-32.5 7.5h0m3-29h0m7.5 29h0m-16-29h0m10 21.5h0m27-36h0m0.5 36h0m-40-36h0m58.5 86.5h0m-178 571h0m-26.5-165.5h0m26.5 153.5h0m-24-91h0m0.5-32h0m21 133h0m177-3h0m-33.5 6h0m33-61h0m-10.5 39.5h0m0 28.5h0m-4-57h0m-1.5 17h0m-38 39.5h0m30-65.5h0m-18.5 41h0m14.5 19.5h0m15.5-33h0m3 0.5h0m7-34h0m-28.5 40h0m-19-27h0m9.5 24h0m38.5-37h0m0 9h0m3 27.5h0m-1.5-57h0m-10.5-17h0m-33.5 91.5h0m-12.5-30h0m28 25.5h0m-13.5-47.5h0m29.5 62h0m-42-9h0m24 5.5h0m31.5-28.5h0m-39 41.5h0m11-27h0m0-34h0m-10 30.5h0m12-5.5h0m-15-23h0m17.5 56.5h0m14 1.5h0m-49.5-22h0m6-7.5h0m10 35.5h0m20.5-34h0m-37.5 11h0m34.5-6h0m1-55h0m-0.5 23.5h0m-15 11.5h0m5-43.5h0m23 65h0m-45 2.5h0m38.5-8h0m-5.5 25.5h0m11.5-33h0m-9 40h0m-12-27.5h0m-1-18h0m-20.5 5.5h0m47 12h0m-18.5-103.5h0m18.5 104h0m-18.5-2.5h0m23.5 16.5h0m-28-124h0m20 6h0m-20.5 97.5h0m32-0.5h0m-16 25h0m-165 304.5h0m-38.5-58.5h0m27.5 94h0m-19.5-206.5h0m41.5 168.5h0m-7.5 3h0m155.5 21h0m-9.5 44.5h0m17.5-85h0m-4 67.5h0m-4-126.5h0m-6.5 50h0m-19 82.5h0m-2.5-25h0m47 52.5h0m-9-193h0m-50.5 170.5h0m29-48.5h0m31-37.5h0m-3-83.5h0m-3.5 162h0m-35 9h0m7-99h0m-25.5 71.5h0m12 0h0m14-40h0m26 1.5h0m4-17h0m-3.5-11h0m-39-142.5h0m21 173.5h0m-22-82.5h0m-2.5-54h0m36.5 104h0m-4.5 2.5h0m-33-94.5h0m9.5 92h0m38.5 13.5h0m-16 42h0m-20.5-55.5h0m24.5 52h0m-6.5 29.5h0m10.5-20.5h0m-31-43h0m34-39h0m6-22h0m-39 58.5h0m28.5 21.5h0m-21.5 37h0m13.5-3.5h0m9-50.5h0m-48-45h0m54 85.5h0m-51.5-129.5h0m50 62h0m-5-79h0m4 9h0m-42.5 117.5h0m25.5-5.5h0m5-25.5h0m-29.5 73.5h0m20-31h0m-18.5-41h0m47.5 50.5h0m-57-112h0m41.5 105.5h0m-21.5-52h0m-6-7h0m-1-19.5h0m25-145.5h0m-34.5 170.5h0m32-183.5h0m4 116h0" stroke="#000" stroke-opacity="0.27" stroke-width="6.3" stroke-linecap="round" fill="none"/>
<path d="M1629 424.5h0m-9.5-0.5h0m15.5 1.5h0m7.5-1h0m-27.5-0.5h0m-18.5-82.5h0m215 64h0m-42.5-57h0m47 32.5h0m-15 4.5h0m15.5 26.5h0m-36-19.5h0m-19.5 23h0m22.5-7.5h0m23-43.5h0m7.5 30.5h0m-15.5-17.5h0m-8.5-6h0m20.5 29h0m-48.5-0.5h0m46.5-15h0m-30.5 11.5h0m-15.5-67.5h0m53 69h0m-17.5-43.5h0m-1 32h0m-37.5-14h0m37 44.5h0m-30-27h0m46.5-52h0m-35 57.5h0m1-14.5h0m23.5 31h0m16.5-27.5h0m-9.5 16.5h0m-5.5-1.5h0m-42 23.5h0m45.5-24.5h0m-46.5-74.5h0m43 59.5h0m-46.5 32.5h0m56-6h0m-23.5-30h0m7 9h0m2.5-78h0m-17.5 106h0m29-14h0m-38-24h0m17 12h0m0.5 28h0m7.5-18.5h0m-16.5 1.5h0m27.5-26h0m1 39h0m-36.5-68.5h0m24 31h0m-13.5 46.5h0m12-23.5h0m10-29h0m-9 40h0m9.5-79.5h0m-18.5-11h0m-16.5 99.5h0m34-136.5h0m-23 139h0m-10.5 0.5h0m23.5-5h0m21-108.5h0m-14.5 12.5h0m-7 84.5h0m-1-5h0m-6-43.5h0m3 47h0m-202.5 311.5h0m51 50.5h0m-30.5-10h0m-15 28h0m12.5-27h0m22-192.5h0m146.5 229.5h0m-20 5h0m18.5 4.5h0m1-1.5h0m12.5 1.5h0m-27.5-9h0m38.5 2h0m9.5 7h0m-14.5-7h0m-30 2.5h0m35-0.5h0m10.5-23.5h0m-33.5 28h0m-10-20h0m34 16h0m-12 4.5h0m-30-20.5h0m23.5 18.5h0m29.5-21.5h0m-33 21.5h0m-5 0h0m37 1.5h0m-46.5-5h0m-12 3.5h0m4.5-7h0m-1 0.5h0m48.5-37h0m-15 35.5h0m-11.5 8h0m23.5 1h0m-36 1h0m37.5 0h0m-4.5-4.5h0m-20.5 4h0m17.5-1h0m-18.5-13h0m5 11h0m17.5 0.5h0m-21 3h0m27.5-7.5h0m-47 6h0m0-4h0m6.5 5.5h0m2.5 0.5h0m7.5-4.5h0m-10 4h0m26 0h0m16.5 0h0m-19.5 0.5h0m-10-23h0m18.5 21.5h0m-28-32.5h0m28.5 33h0m-34-1h0m31.5-18.5h0m11.5 19h0m3-0.5h0m-54-4.5h0m26.5 3.5h0m-26-1h0m49.5-4.5h0m-52 7.5h0m4.5-6.5h0m2 6.5h0m45.5-1h0m-33.5-8h0m38 6.5h0m-169 189.5h0m5 7h0m-31-108h0m-12 36h0m45.5 144h0m-47.5-115h0m193-29h0m-17-7h0m22.5 0h0m7 7h0m-12-29h0m-25.5 79.5h0m42.5-36h0m-40.5 7h0m1-21.5h0m41.5 0h0m-48.5 50.5h0m-10.5-57.5h0m6 36h0m2.5 0h0m50.5-7.5h0m-27 21.5h0m17-36h0m-47.5 43.5h0m41.5-14.5h0m8.5-29h0m-13 58h0m-31-79.5h0m28.5 29h0m-12.5-36h0m38 57.5h0m0-50.5h0m-8.5 29h0m-41-21.5h0m24.5 21.5h0m9-29h0m14.5 21.5h0m-47.5-21.5h0m-9.5 7.5h0m56 43h0m-58-21.5h0m13.5 0h0m39-21.5h0m-32 14h0m22-21.5h0m-9 14.5h0m10 7h0m-12.5 14.5h0m-10.5-7h0m21.5 0h0m0-7.5h0m-1.5 29h0m4-21.5h0m-1.5-29h0m-10 21.5h0m-32.5-7h0m0.5 21.5h0m47-21.5h0m-16 7h0m26.5 0h0m-28.5 0h0m-5 29h0m-16.5 36h0m46-72h0m-48-7h0m51.5 7h0m-13-14.5h0m-38 14.5h0m23.5 14.5h0m8-7.5h0m-33.5 29h0m46 7h0m-37 36h0m-126 570.5h0m-38-6.5h0m32.5 7.5h0m7 6h0m-41-13h0m27-113h0m155 30h0m11 52h0m-38.5-79h0m3.5 97.5h0m15.5-45.5h0m-21.5 37h0m54.5-1.5h0m-50-187.5h0m47.5 154h0m-29.5 32h0m0 5.5h0m16.5 14h0m18.5-6h0m-2.5-3h0m-35 21h0m36-5.5h0m-8-11h0m-46.5-18h0m7 29.5h0m40.5-113.5h0m-8 70h0m-30.5-7.5h0m20 6.5h0m15.5 5.5h0m-30.5 24.5h0m33-56h0m-13-50h0m0 123.5h0m-7-41h0m26-89h0m-32.5 105h0m10 3h0m11-5h0m-9 30.5h0m-32.5-27h0m40.5-8.5h0m-35.5 1h0m29.5 1h0m-26.5-47h0m-4.5 0h0m25.5 72h0m-6.5-106.5h0m-25.5 48.5h0m22.5 29h0m33.5-2.5h0m-35 5h0m26.5-49h0m-39.5 56.5h0m15-12.5h0m-24-32h0m47.5 29.5h0m-11.5 5h0m5.5 2h0m-3.5 7.5h0m4-3h0m-16 24.5h0m28-13.5h0m4-54h0m-40.5 47.5h0m28 16h0m-10 1h0m-34-26.5h0m17.5 2.5h0m19-85h0m-14.5 80h0m24 30h0m-8.5-39.5h0m-154.5 267h0m-18 120.5h0m1-19h0m-15.5-15h0m-6-206.5h0m31 164h0m150.5-111h0m-4.5 110.5h0m5 36.5h0m-6-22.5h0m-11.5 40h0m-5-65h0m3.5 39h0m-4.5-70h0m22.5 69h0m-24 34.5h0m38-35h0m-40 52h0m37.5-21h0m5-37.5h0m-39.5 68h0m-3-87h0m56 30h0m-10.5-21.5h0m-12 29h0m-15.5-106h0m17.5 29.5h0m-34.5 102h0m50-217.5h0m-27.5 189h0m24 86.5h0m-45.5-87h0m4.5-15h0m16 23.5h0m31 17.5h0m-54.5-35h0m17 38h0m17.5-40.5h0m-7-3.5h0m1.5-61.5h0m12 125.5h0m-25.5-200.5h0m21 168h0m-6.5-17.5h0m-23.5-45h0m22 75h0m25.5-3h0m-14.5-155.5h0m-36.5 86h0m30.5 68.5h0m19-189.5h0m-55 251.5h0m22-56h0m-2-123.5h0m14 57h0m-22 42h0m37 12h0m-21-109h0m-9-44.5h0m-17.5 200h0m-2-104.5h0m59.5 57.5h0m-7.5-55h0m7 40h0m-38 57h0m33-144.5h0m-4.5 21h0m-22.5 87h0m-12-23.5h0m36.5-15h0m1 46.5h0m-37.5-3.5h0m-7-31.5h0" stroke="#000" stroke-opacity="0.27" stroke-width="6.3" stroke-linecap="round" fill="none"/>
<path d="M1621 424h0m-19.5 1h0m39.5-0.5h0m-8 1h0m7-1.5h0m-4.5-44h0m141-7.5h0m21-111.5h0m-0.5 126.5h0m-11.5 8h0m24.5-5.5h0m3-0.5h0m-19.5-53.5h0m-27 62.5h0m36.5 20h0m-3.5-23h0m1 9.5h0m-10-147h0m-1 126.5h0m15 19.5h0m-31.5-18h0m-6.5-1h0m-6.5 8h0m5.5-5h0m51.5-7h0m-55.5 23h0m24.5-70h0m0.5 26.5h0m-3 50.5h0m23-29.5h0m-23-54.5h0m-4.5 46h0m-20 2h0m34 30.5h0m14-14h0m1-26h0m-24.5 13.5h0m31 14h0m-54-27.5h0m28-14.5h0m-17.5 40h0m37.5 32.5h0m-10-56.5h0m-37-162h0m52.5 219h0m-39.5-25h0m28.5-23.5h0m5.5 16h0m-34-6h0m-11-115.5h0m0 124h0m55-19.5h0m-10 6h0m-23 9.5h0m-25.5 22.5h0m16.5-75h0m33.5 56.5h0m-23-40h0m-2.5 65h0m1.5-37h0m21 9h0m2.5-18h0m-9.5-47.5h0m-36.5 49.5h0m9 13.5h0m33-22.5h0m-14 1.5h0m-25.5-41h0m26.5 92h0m5.5-60h0m-36.5 52.5h0m38.5-5h0m-33-76.5h0m-144 440h0m-7.5-21.5h0m-11 7.5h0m12 42.5h0m-11.5-89h0m20.5-136.5h0m183.5 231h0m-29.5-20.5h0m9.5 22h0m-6 0h0m-21-1.5h0m17.5 2h0m-10.5-1h0m33 0h0m-49-5.5h0m9.5 1.5h0m36 4.5h0m-30-19h0m-6-51.5h0m14 31h0m21 39h0m-32 1h0m-3-1.5h0m12.5-6.5h0m4 1.5h0m0 6h0m-7-0.5h0m-21.5-3h0m39.5-0.5h0m8 3h0m-36.5 0.5h0m50-10h0m-49 10h0m43.5 0.5h0m-43.5-2h0m32 0h0m-10.5 1h0m-33 0h0m14-3.5h0m26.5-0.5h0m-38-0.5h0m9.5 2.5h0m-6 2.5h0m1.5-5h0m-1 4.5h0m23 1h0m-7.5-3h0m21 3h0m14 0h0m-46-1h0m12.5 0.5h0m20.5-1.5h0m-44 1h0m6.5-3h0m2.5-69.5h0m3 73h0m14-9.5h0m-20 3h0m12.5 5.5h0m25 1h0m1-15.5h0m5-1.5h0m-32-1.5h0m-8.5 17.5h0m24.5-2h0m22.5-6.5h0m-50.5 3h0m31.5-29.5h0m-14 16.5h0m1.5 10.5h0m0.5-1h0m23.5 10.5h0m-15.5-4h0m-142 154.5h0m-19-22h0m-36.5-21.5h0m3.5-21.5h0m22 57.5h0m-3.5-57.5h0m171.5 36h0m24 0h0m-38 21.5h0m-7 0h0m38.5-7h0m-27 28.5h0m-7.5-43h0m29.5 50.5h0m1.5-57.5h0m11 7h0m-28 7h0m37.5 7.5h0m-55-14.5h0m47 50.5h0m-6-36h0m12.5-29h0m-55.5 57.5h0m0 0h0m54.5-14h0m-55.5-22h0m22 86.5h0m7-108h0m-8.5 29h0m-10.5-14.5h0m40-7h0m-18.5 28.5h0m22 0h0m-52 14.5h0m1.5-36h0m51 50.5h0m-6.5-29h0m-35-43h0m14.5 36h0m-28 36h0m6-50.5h0m18 7h0m28 22h0m-40-14.5h0m-1.5 14.5h0m-2.5-22h0m13.5 0h0m0 79.5h0m19.5-79.5h0m-28.5 22h0m-8-22h0m42.5-7h0m-32.5 7h0m21.5 0h0m21.5 0h0m0.5 36h0m-47-28.5h0m34-7.5h0m8-14h0m-45.5 14h0m51 0h0m-60.5 0h0m2-14h0m38 7h0m19.5 43h0m-15-43h0m-40 0h0m25.5 43h0m16.5-36h0m9.5-7h0m-25 29h0m-1.5-22h0m-4 79.5h0m-166.5 494h0m-2.5-21h0m3.5 58.5h0m13 11.5h0m-21-167.5h0m-5 192h0m181-7h0m-12-21.5h0m34-11h0m-7 16.5h0m-15.5-4.5h0m-1-97.5h0m-4.5 41h0m-12.5 64.5h0m-1.5-51.5h0m41 55.5h0m-45 5.5h0m4-7.5h0m42.5 20h0m0.5-42h0m-28.5 38.5h0m-23.5-101.5h0m56.5 24h0m-39 62h0m29-57.5h0m7.5 66.5h0m-16-23h0m-20-37h0m32.5 49h0m7 15h0m-15-25.5h0m-0.5 13h0m-10.5-67.5h0m1 61h0m-0.5-39.5h0m-5.5 17.5h0m-15 17h0m-2.5 20.5h0m-2-93h0m27 98h0m-13.5-23h0m-12-4.5h0m6.5-2.5h0m11 3.5h0m13-21.5h0m-17 29.5h0m2.5 10.5h0m-6-29h0m-16.5 24.5h0m-3-12.5h0m54.5-9h0m-27 29h0m23-4.5h0m-49-5h0m3 14h0m45.5-56.5h0m-10.5 48.5h0m-19-8h0m26.5-1.5h0m-38-55.5h0m43.5 50.5h0m-41.5-38h0m17 51h0m12.5 9h0m-15-21h0m-3.5-14h0m22.5-44h0m-16.5 54h0m1.5 20h0m7-4.5h0m3-11h0m-13-13h0m12.5-8h0m-207 379h0m-2.5 0h0m20-151h0m22 134h0m-33-114.5h0m7.5 89.5h0m169.5 23.5h0m11.5 65h0m-8.5-81.5h0m-13 53h0m11-64h0m15 15.5h0m14-22h0m-10.5 36.5h0m-35-55.5h0m49 23.5h0m-33 76h0m32.5 10h0m8.5-165.5h0m-55.5 143h0m35-81.5h0m-22 21h0m-10 40.5h0m31.5-60.5h0m-6.5-120h0m-2.5 154.5h0m-21.5-40h0m35.5-37.5h0m-40 114h0m41 36h0m1-80.5h0m-16 64h0m27.5 3h0m-34.5-171.5h0m-19 130.5h0m27-19.5h0m24 51.5h0m-40-170h0m20 113h0m2 20h0m-30.5 4h0m49.5 41.5h0m-26-44h0m13-25h0m13.5-3.5h0m-7.5-12h0m-39 13h0m-5.5 64.5h0m51.5-136.5h0m-47.5 118.5h0m19.5-61h0m10 63h0m-38-99h0m9 46.5h0m38.5-92.5h0m10 122h0m-17.5-17.5h0m-36.5-2h0m19.5 46h0m-9.5 41h0m-7.5-2h0m25.5-123.5h0m11 41h0m-40-14h0m58 68.5h0m-16.5-32h0m4.5-87.5h0m-1.5 63h0m-2-9.5h0m-17-23.5h0m-10.5-91.5h0m3 101h0m-4.5 55.5h0" stroke="#000" stroke-opacity="0.27" stroke-width="6.3" stroke-linecap="round" fill="none"/>
</svg></body></html>
